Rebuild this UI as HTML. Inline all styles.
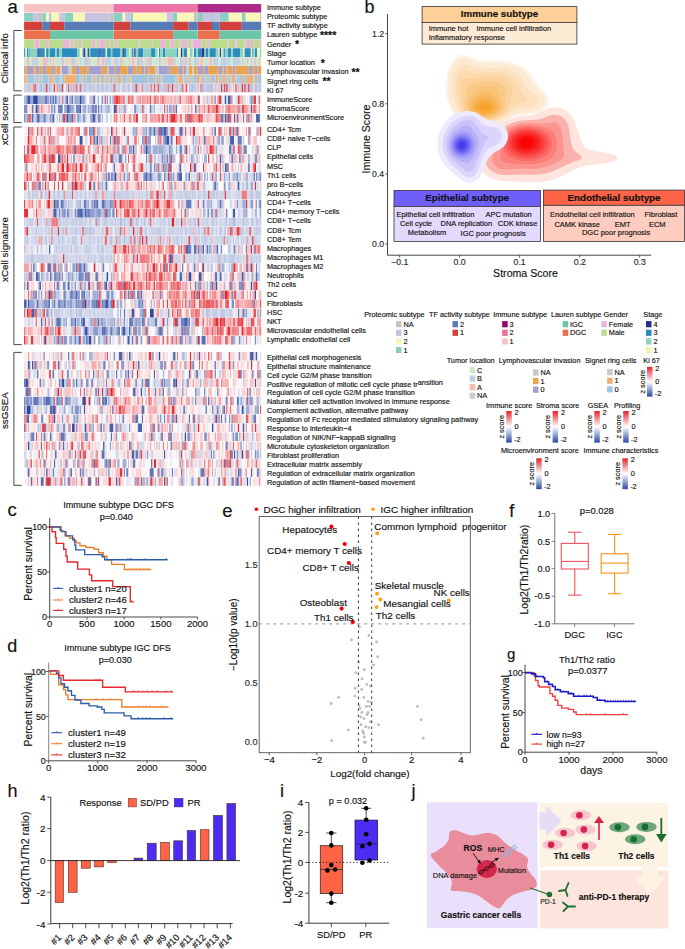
<!DOCTYPE html>
<html><head><meta charset="utf-8"><title>Figure</title>
<style>
html,body{margin:0;padding:0;background:#fff;}
svg{display:block;font-family:"Liberation Sans", sans-serif;}
text{stroke:#111;stroke-width:0.15px;}
</style></head><body>
<svg width="685" height="949" viewBox="0 0 685 949" fill="#111">
<g transform="translate(24.10,0) scale(1.29563,1)">
<path fill="#f7c2c4" d="M0 4.0h69v8.6h-69z"/>
<path fill="#ec74a6" d="M69 4.0h65v8.6h-65z"/>
<path fill="#ae2a8a" d="M134 4.0h49v8.6h-49z"/>
<path fill="#8ad0c0" d="M0 12.9h7v8.6h-7zM14 12.9h3v8.6h-3zM20 12.9h1v8.6h-1zM31 12.9h7v8.6h-7zM69 12.9h7v8.6h-7zM82 12.9h2v8.6h-2zM115 12.9h3v8.6h-3zM134 12.9h4v8.6h-4zM145 12.9h1v8.6h-1zM151 12.9h7v8.6h-7zM168 12.9h3v8.6h-3z"/>
<path fill="#c8c4e2" d="M7 12.9h4v8.6h-4zM19 12.9h1v8.6h-1zM27 12.9h4v8.6h-4zM47 12.9h19v8.6h-19zM78 12.9h4v8.6h-4zM110 12.9h5v8.6h-5zM138 12.9h7v8.6h-7zM146 12.9h5v8.6h-5zM182 12.9h1v8.6h-1z"/>
<path fill="#c4c4c4" d="M11 12.9h3v8.6h-3zM66 12.9h3v8.6h-3zM131 12.9h3v8.6h-3z"/>
<path fill="#faf6b8" d="M17 12.9h2v8.6h-2zM21 12.9h6v8.6h-6zM38 12.9h9v8.6h-9zM76 12.9h2v8.6h-2zM84 12.9h26v8.6h-26zM118 12.9h13v8.6h-13zM158 12.9h10v8.6h-10zM171 12.9h11v8.6h-11z"/>
<path fill="#d4403c" d="M0 21.7h14v8.6h-14zM20 21.7h11v8.6h-11zM69 21.7h13v8.6h-13zM115 21.7h12v8.6h-12zM134 21.7h11v8.6h-11zM151 21.7h17v8.6h-17z"/>
<path fill="#567cb8" d="M14 21.7h6v8.6h-6zM31 21.7h38v8.6h-38zM82 21.7h33v8.6h-33zM127 21.7h7v8.6h-7zM145 21.7h6v8.6h-6zM168 21.7h15v8.6h-15z"/>
<path fill="#ec7050" d="M0 30.6h20v8.6h-20zM69 30.6h46v8.6h-46zM134 30.6h17v8.6h-17z"/>
<path fill="#6ec6a8" d="M20 30.6h49v8.6h-49zM115 30.6h19v8.6h-19zM151 30.6h32v8.6h-32z"/>
<path fill="#badc8c" d="M0 39.4h8v8.6h-8zM12 39.4h5v8.6h-5zM19 39.4h11v8.6h-11zM35 39.4h1v8.6h-1zM38 39.4h2v8.6h-2zM41 39.4h3v8.6h-3zM45 39.4h7v8.6h-7zM54 39.4h1v8.6h-1zM56 39.4h2v8.6h-2zM63 39.4h3v8.6h-3zM67 39.4h3v8.6h-3zM72 39.4h16v8.6h-16zM89 39.4h9v8.6h-9zM99 39.4h6v8.6h-6zM109 39.4h4v8.6h-4zM116 39.4h4v8.6h-4zM121 39.4h1v8.6h-1zM126 39.4h2v8.6h-2zM129 39.4h1v8.6h-1zM137 39.4h4v8.6h-4zM143 39.4h14v8.6h-14zM158 39.4h4v8.6h-4zM163 39.4h1v8.6h-1zM165 39.4h5v8.6h-5zM171 39.4h1v8.6h-1zM175 39.4h3v8.6h-3zM179 39.4h3v8.6h-3z"/>
<path fill="#e8b4d8" d="M8 39.4h4v8.6h-4zM17 39.4h2v8.6h-2zM30 39.4h5v8.6h-5zM36 39.4h2v8.6h-2zM40 39.4h1v8.6h-1zM44 39.4h1v8.6h-1zM52 39.4h2v8.6h-2zM55 39.4h1v8.6h-1zM58 39.4h5v8.6h-5zM66 39.4h1v8.6h-1zM70 39.4h2v8.6h-2zM88 39.4h1v8.6h-1zM98 39.4h1v8.6h-1zM105 39.4h4v8.6h-4zM113 39.4h3v8.6h-3zM120 39.4h1v8.6h-1zM122 39.4h4v8.6h-4zM128 39.4h1v8.6h-1zM130 39.4h7v8.6h-7zM141 39.4h2v8.6h-2zM157 39.4h1v8.6h-1zM162 39.4h1v8.6h-1zM164 39.4h1v8.6h-1zM170 39.4h1v8.6h-1zM172 39.4h3v8.6h-3zM178 39.4h1v8.6h-1zM182 39.4h1v8.6h-1z"/>
<path fill="#2c8ec0" d="M0 48.3h1v8.6h-1zM2 48.3h1v8.6h-1zM4 48.3h1v8.6h-1zM10 48.3h1v8.6h-1zM12 48.3h4v8.6h-4zM17 48.3h2v8.6h-2zM20 48.3h4v8.6h-4zM25 48.3h2v8.6h-2zM29 48.3h12v8.6h-12zM45 48.3h1v8.6h-1zM51 48.3h7v8.6h-7zM59 48.3h4v8.6h-4zM64 48.3h3v8.6h-3zM68 48.3h6v8.6h-6zM77 48.3h2v8.6h-2zM83 48.3h1v8.6h-1zM88 48.3h4v8.6h-4zM98 48.3h3v8.6h-3zM104 48.3h1v8.6h-1zM107 48.3h2v8.6h-2zM118 48.3h1v8.6h-1zM123 48.3h3v8.6h-3zM131 48.3h2v8.6h-2zM134 48.3h3v8.6h-3zM140 48.3h2v8.6h-2zM143 48.3h5v8.6h-5zM154 48.3h1v8.6h-1zM157 48.3h3v8.6h-3zM161 48.3h6v8.6h-6zM170 48.3h5v8.6h-5zM176 48.3h1v8.6h-1zM178 48.3h2v8.6h-2z"/>
<path fill="#f0f6b6" d="M1 48.3h1v8.6h-1zM16 48.3h1v8.6h-1zM43 48.3h2v8.6h-2zM48 48.3h1v8.6h-1zM63 48.3h1v8.6h-1zM81 48.3h1v8.6h-1zM103 48.3h1v8.6h-1zM119 48.3h2v8.6h-2zM126 48.3h2v8.6h-2zM130 48.3h1v8.6h-1zM150 48.3h1v8.6h-1zM152 48.3h1v8.6h-1zM169 48.3h1v8.6h-1zM175 48.3h1v8.6h-1zM180 48.3h2v8.6h-2z"/>
<path fill="#8cd2c0" d="M3 48.3h1v8.6h-1zM5 48.3h5v8.6h-5zM19 48.3h1v8.6h-1zM24 48.3h1v8.6h-1zM27 48.3h2v8.6h-2zM41 48.3h2v8.6h-2zM47 48.3h1v8.6h-1zM50 48.3h1v8.6h-1zM67 48.3h1v8.6h-1zM74 48.3h2v8.6h-2zM79 48.3h2v8.6h-2zM82 48.3h1v8.6h-1zM84 48.3h1v8.6h-1zM86 48.3h2v8.6h-2zM92 48.3h6v8.6h-6zM101 48.3h2v8.6h-2zM105 48.3h2v8.6h-2zM109 48.3h9v8.6h-9zM122 48.3h1v8.6h-1zM128 48.3h2v8.6h-2zM133 48.3h1v8.6h-1zM139 48.3h1v8.6h-1zM142 48.3h1v8.6h-1zM148 48.3h2v8.6h-2zM153 48.3h1v8.6h-1zM155 48.3h2v8.6h-2zM160 48.3h1v8.6h-1zM167 48.3h2v8.6h-2zM177 48.3h1v8.6h-1zM182 48.3h1v8.6h-1z"/>
<path fill="#2c348c" d="M11 48.3h1v8.6h-1zM46 48.3h1v8.6h-1zM49 48.3h1v8.6h-1zM58 48.3h1v8.6h-1zM76 48.3h1v8.6h-1zM85 48.3h1v8.6h-1zM121 48.3h1v8.6h-1zM137 48.3h2v8.6h-2zM151 48.3h1v8.6h-1z"/>
<path fill="#ceeacc" d="M0 57.2h2v8.6h-2zM4 57.2h2v8.6h-2zM11 57.2h3v8.6h-3zM19 57.2h1v8.6h-1zM21 57.2h1v8.6h-1zM23 57.2h2v8.6h-2zM26 57.2h2v8.6h-2zM31 57.2h1v8.6h-1zM33 57.2h1v8.6h-1zM35 57.2h1v8.6h-1zM40 57.2h1v8.6h-1zM42 57.2h1v8.6h-1zM44 57.2h2v8.6h-2zM51 57.2h5v8.6h-5zM59 57.2h1v8.6h-1zM67 57.2h2v8.6h-2zM73 57.2h1v8.6h-1zM77 57.2h4v8.6h-4zM82 57.2h1v8.6h-1zM85 57.2h2v8.6h-2zM92 57.2h1v8.6h-1zM94 57.2h1v8.6h-1zM99 57.2h5v8.6h-5zM106 57.2h3v8.6h-3zM110 57.2h1v8.6h-1zM117 57.2h3v8.6h-3zM129 57.2h2v8.6h-2zM135 57.2h1v8.6h-1zM138 57.2h2v8.6h-2zM141 57.2h2v8.6h-2zM145 57.2h1v8.6h-1zM150 57.2h2v8.6h-2zM159 57.2h2v8.6h-2zM167 57.2h1v8.6h-1zM169 57.2h1v8.6h-1zM171 57.2h1v8.6h-1zM173 57.2h2v8.6h-2zM176 57.2h1v8.6h-1zM179 57.2h2v8.6h-2zM182 57.2h1v8.6h-1z"/>
<path fill="#bcd2e8" d="M2 57.2h1v8.6h-1zM7 57.2h2v8.6h-2zM17 57.2h2v8.6h-2zM25 57.2h1v8.6h-1zM28 57.2h1v8.6h-1zM30 57.2h1v8.6h-1zM39 57.2h1v8.6h-1zM43 57.2h1v8.6h-1zM46 57.2h4v8.6h-4zM62 57.2h5v8.6h-5zM70 57.2h3v8.6h-3zM90 57.2h1v8.6h-1zM93 57.2h1v8.6h-1zM97 57.2h2v8.6h-2zM104 57.2h1v8.6h-1zM115 57.2h2v8.6h-2zM120 57.2h3v8.6h-3zM131 57.2h3v8.6h-3zM140 57.2h1v8.6h-1zM146 57.2h4v8.6h-4zM152 57.2h4v8.6h-4zM157 57.2h2v8.6h-2zM161 57.2h5v8.6h-5zM168 57.2h1v8.6h-1zM170 57.2h1v8.6h-1zM177 57.2h1v8.6h-1z"/>
<path fill="#f6bab4" d="M3 57.2h1v8.6h-1zM14 57.2h3v8.6h-3zM20 57.2h1v8.6h-1zM22 57.2h1v8.6h-1zM29 57.2h1v8.6h-1zM32 57.2h1v8.6h-1zM34 57.2h1v8.6h-1zM41 57.2h1v8.6h-1zM50 57.2h1v8.6h-1zM57 57.2h1v8.6h-1zM60 57.2h2v8.6h-2zM69 57.2h1v8.6h-1zM76 57.2h1v8.6h-1zM83 57.2h2v8.6h-2zM95 57.2h2v8.6h-2zM109 57.2h1v8.6h-1zM111 57.2h4v8.6h-4zM123 57.2h1v8.6h-1zM126 57.2h1v8.6h-1zM134 57.2h1v8.6h-1zM136 57.2h2v8.6h-2zM143 57.2h2v8.6h-2zM166 57.2h1v8.6h-1zM172 57.2h1v8.6h-1zM178 57.2h1v8.6h-1zM181 57.2h1v8.6h-1z"/>
<path fill="#cccccc" d="M6 57.2h1v8.6h-1zM9 57.2h2v8.6h-2zM36 57.2h3v8.6h-3zM56 57.2h1v8.6h-1zM58 57.2h1v8.6h-1zM74 57.2h2v8.6h-2zM81 57.2h1v8.6h-1zM87 57.2h3v8.6h-3zM91 57.2h1v8.6h-1zM105 57.2h1v8.6h-1zM124 57.2h2v8.6h-2zM127 57.2h2v8.6h-2zM156 57.2h1v8.6h-1zM175 57.2h1v8.6h-1z"/>
<path fill="#a4a0d2" d="M0 66.0h1v8.6h-1zM3 66.0h4v8.6h-4zM8 66.0h1v8.6h-1zM10 66.0h2v8.6h-2zM14 66.0h3v8.6h-3zM21 66.0h2v8.6h-2zM24 66.0h1v8.6h-1zM29 66.0h5v8.6h-5zM40 66.0h3v8.6h-3zM47 66.0h1v8.6h-1zM50 66.0h10v8.6h-10zM65 66.0h5v8.6h-5zM71 66.0h3v8.6h-3zM80 66.0h4v8.6h-4zM87 66.0h1v8.6h-1zM91 66.0h2v8.6h-2zM94 66.0h2v8.6h-2zM104 66.0h7v8.6h-7zM112 66.0h2v8.6h-2zM119 66.0h3v8.6h-3zM123 66.0h2v8.6h-2zM134 66.0h4v8.6h-4zM139 66.0h3v8.6h-3zM150 66.0h3v8.6h-3zM154 66.0h1v8.6h-1zM156 66.0h1v8.6h-1zM161 66.0h2v8.6h-2zM173 66.0h3v8.6h-3zM178 66.0h2v8.6h-2z"/>
<path fill="#eaa450" d="M1 66.0h2v8.6h-2zM7 66.0h1v8.6h-1zM9 66.0h1v8.6h-1zM12 66.0h2v8.6h-2zM17 66.0h4v8.6h-4zM23 66.0h1v8.6h-1zM25 66.0h3v8.6h-3zM37 66.0h3v8.6h-3zM43 66.0h4v8.6h-4zM48 66.0h2v8.6h-2zM60 66.0h4v8.6h-4zM70 66.0h1v8.6h-1zM74 66.0h6v8.6h-6zM84 66.0h3v8.6h-3zM88 66.0h3v8.6h-3zM93 66.0h1v8.6h-1zM96 66.0h5v8.6h-5zM111 66.0h1v8.6h-1zM114 66.0h5v8.6h-5zM122 66.0h1v8.6h-1zM127 66.0h3v8.6h-3zM131 66.0h3v8.6h-3zM138 66.0h1v8.6h-1zM142 66.0h8v8.6h-8zM153 66.0h1v8.6h-1zM155 66.0h1v8.6h-1zM157 66.0h4v8.6h-4zM163 66.0h10v8.6h-10zM176 66.0h2v8.6h-2zM180 66.0h3v8.6h-3z"/>
<path fill="#c8c8c8" d="M28 66.0h1v8.6h-1zM34 66.0h3v8.6h-3zM64 66.0h1v8.6h-1zM101 66.0h3v8.6h-3zM125 66.0h2v8.6h-2zM130 66.0h1v8.6h-1zM2 74.9h1v8.6h-1zM8 74.9h2v8.6h-2zM11 74.9h3v8.6h-3zM19 74.9h1v8.6h-1zM22 74.9h2v8.6h-2zM27 74.9h1v8.6h-1zM29 74.9h1v8.6h-1zM43 74.9h2v8.6h-2zM47 74.9h1v8.6h-1zM53 74.9h3v8.6h-3zM58 74.9h1v8.6h-1zM62 74.9h4v8.6h-4zM68 74.9h3v8.6h-3zM74 74.9h2v8.6h-2zM80 74.9h2v8.6h-2zM101 74.9h1v8.6h-1zM105 74.9h2v8.6h-2zM117 74.9h2v8.6h-2zM123 74.9h8v8.6h-8zM135 74.9h2v8.6h-2zM139 74.9h1v8.6h-1zM141 74.9h4v8.6h-4zM147 74.9h1v8.6h-1zM150 74.9h2v8.6h-2zM155 74.9h3v8.6h-3zM159 74.9h1v8.6h-1zM162 74.9h2v8.6h-2zM165 74.9h1v8.6h-1zM177 74.9h1v8.6h-1z"/>
<path fill="#f4b070" d="M0 74.9h2v8.6h-2zM20 74.9h2v8.6h-2zM31 74.9h9v8.6h-9zM46 74.9h1v8.6h-1zM52 74.9h1v8.6h-1zM57 74.9h1v8.6h-1zM61 74.9h1v8.6h-1zM67 74.9h1v8.6h-1zM72 74.9h2v8.6h-2zM78 74.9h1v8.6h-1zM82 74.9h1v8.6h-1zM95 74.9h1v8.6h-1zM100 74.9h1v8.6h-1zM104 74.9h1v8.6h-1zM119 74.9h3v8.6h-3zM133 74.9h2v8.6h-2zM137 74.9h1v8.6h-1zM148 74.9h2v8.6h-2zM153 74.9h2v8.6h-2zM160 74.9h2v8.6h-2zM168 74.9h2v8.6h-2zM172 74.9h5v8.6h-5zM179 74.9h1v8.6h-1z"/>
<path fill="#9ec8e2" d="M3 74.9h5v8.6h-5zM10 74.9h1v8.6h-1zM14 74.9h5v8.6h-5zM24 74.9h3v8.6h-3zM28 74.9h1v8.6h-1zM30 74.9h1v8.6h-1zM40 74.9h3v8.6h-3zM45 74.9h1v8.6h-1zM48 74.9h4v8.6h-4zM56 74.9h1v8.6h-1zM59 74.9h2v8.6h-2zM66 74.9h1v8.6h-1zM71 74.9h1v8.6h-1zM76 74.9h2v8.6h-2zM79 74.9h1v8.6h-1zM83 74.9h12v8.6h-12zM96 74.9h4v8.6h-4zM102 74.9h2v8.6h-2zM107 74.9h10v8.6h-10zM122 74.9h1v8.6h-1zM131 74.9h2v8.6h-2zM138 74.9h1v8.6h-1zM140 74.9h1v8.6h-1zM145 74.9h2v8.6h-2zM152 74.9h1v8.6h-1zM158 74.9h1v8.6h-1zM164 74.9h1v8.6h-1zM166 74.9h2v8.6h-2zM170 74.9h2v8.6h-2zM178 74.9h1v8.6h-1zM180 74.9h3v8.6h-3z"/>
<path fill="#c0cce4" d="M0 83.7h1v8.6h-1zM3 83.7h2v8.6h-2zM9 83.7h1v8.6h-1zM30 83.7h1v8.6h-1zM32 83.7h2v8.6h-2zM37 83.7h1v8.6h-1zM52 83.7h1v8.6h-1zM67 83.7h1v8.6h-1zM107 83.7h1v8.6h-1zM118 83.7h1v8.6h-1zM145 83.7h1v8.6h-1zM161 83.7h1v8.6h-1zM169 83.7h1v8.6h-1zM47 95.6h1v8.4h-1zM63 95.6h1v8.4h-1zM116 104.8h1v8.4h-1zM19 114.0h1v8.4h-1zM23 114.0h1v8.4h-1zM119 127.0h1v8.7h-1zM179 127.0h1v8.7h-1zM26 136.1h1v8.7h-1zM71 145.2h1v8.7h-1zM149 154.2h1v8.7h-1zM152 154.2h1v8.7h-1zM167 154.2h1v8.7h-1zM99 172.4h2v8.7h-2zM114 172.4h1v8.7h-1zM143 172.4h1v8.7h-1zM165 172.4h3v8.7h-3zM169 172.4h1v8.7h-1zM180 172.4h1v8.7h-1zM159 181.5h1v8.7h-1zM10 190.6h1v8.7h-1zM23 190.6h1v8.7h-1zM26 190.6h2v8.7h-2zM30 190.6h1v8.7h-1zM63 190.6h1v8.7h-1zM94 190.6h2v8.7h-2zM120 190.6h1v8.7h-1zM124 190.6h1v8.7h-1zM167 190.6h1v8.7h-1zM179 190.6h4v8.7h-4zM40 199.7h1v8.7h-1zM59 199.7h1v8.7h-1zM159 199.7h1v8.7h-1zM40 208.8h1v8.7h-1zM4 217.8h2v8.7h-2zM40 217.8h1v8.7h-1zM81 217.8h1v8.7h-1zM90 217.8h1v8.7h-1zM108 217.8h1v8.7h-1zM119 217.8h1v8.7h-1zM122 217.8h1v8.7h-1zM128 217.8h1v8.7h-1zM148 217.8h1v8.7h-1zM158 217.8h1v8.7h-1zM0 226.9h1v8.7h-1zM7 226.9h1v8.7h-1zM14 226.9h1v8.7h-1zM19 226.9h1v8.7h-1zM54 226.9h1v8.7h-1zM75 226.9h2v8.7h-2zM104 226.9h1v8.7h-1zM144 226.9h1v8.7h-1zM155 226.9h1v8.7h-1zM168 226.9h1v8.7h-1zM7 236.0h1v8.7h-1zM26 236.0h1v8.7h-1zM34 236.0h1v8.7h-1zM37 236.0h2v8.7h-2zM57 236.0h1v8.7h-1zM76 236.0h1v8.7h-1zM84 236.0h1v8.7h-1zM117 236.0h2v8.7h-2zM121 236.0h1v8.7h-1zM159 236.0h1v8.7h-1zM161 236.0h1v8.7h-1zM180 236.0h1v8.7h-1zM29 245.1h1v8.7h-1zM142 245.1h1v8.7h-1zM157 245.1h1v8.7h-1zM64 254.2h1v8.7h-1zM116 254.2h1v8.7h-1zM131 254.2h1v8.7h-1zM158 254.2h5v8.7h-5zM176 254.2h1v8.7h-1zM142 263.2h1v8.7h-1zM158 263.2h1v8.7h-1zM15 272.3h1v8.7h-1zM38 272.3h1v8.7h-1zM167 272.3h1v8.7h-1zM24 299.6h1v8.7h-1zM35 308.7h2v8.7h-2zM50 308.7h1v8.7h-1zM170 308.7h1v8.7h-1zM59 326.8h1v8.7h-1zM40 335.9h1v8.7h-1zM129 335.9h1v8.7h-1zM66 352.0h1v8.5h-1zM15 360.9h1v8.5h-1zM4 378.8h1v8.5h-1zM107 378.8h1v8.5h-1zM135 387.8h1v8.5h-1zM51 396.7h1v8.5h-1zM64 405.6h1v8.5h-1zM148 405.6h1v8.5h-1zM10 423.5h2v8.5h-2zM0 432.5h1v8.5h-1zM104 441.4h1v8.5h-1zM37 450.3h1v8.5h-1zM137 450.3h1v8.5h-1zM68 459.3h1v8.5h-1zM181 468.2h1v8.5h-1zM16 477.2h1v8.5h-1z"/>
<path fill="#c6cce4" d="M1 83.7h1v8.6h-1zM6 83.7h1v8.6h-1zM10 83.7h1v8.6h-1zM18 83.7h1v8.6h-1zM39 83.7h1v8.6h-1zM49 83.7h1v8.6h-1zM59 83.7h1v8.6h-1zM62 83.7h1v8.6h-1zM64 83.7h1v8.6h-1zM66 83.7h1v8.6h-1zM71 83.7h1v8.6h-1zM75 83.7h1v8.6h-1zM77 83.7h1v8.6h-1zM79 83.7h1v8.6h-1zM88 83.7h1v8.6h-1zM92 83.7h1v8.6h-1zM94 83.7h3v8.6h-3zM102 83.7h1v8.6h-1zM112 83.7h2v8.6h-2zM128 83.7h1v8.6h-1zM131 83.7h1v8.6h-1zM133 83.7h1v8.6h-1zM140 83.7h1v8.6h-1zM151 83.7h1v8.6h-1zM158 83.7h1v8.6h-1zM166 83.7h1v8.6h-1zM171 83.7h1v8.6h-1zM174 83.7h1v8.6h-1zM181 83.7h1v8.6h-1zM25 95.6h2v8.4h-2zM50 104.8h1v8.4h-1zM76 104.8h1v8.4h-1zM86 104.8h2v8.4h-2zM98 104.8h1v8.4h-1zM8 114.0h1v8.4h-1zM17 114.0h2v8.4h-2zM91 127.0h1v8.7h-1zM139 127.0h1v8.7h-1zM181 127.0h1v8.7h-1zM138 136.1h1v8.7h-1zM63 145.2h1v8.7h-1zM130 145.2h1v8.7h-1zM127 154.2h1v8.7h-1zM119 163.3h1v8.7h-1zM73 172.4h1v8.7h-1zM88 172.4h1v8.7h-1zM109 172.4h2v8.7h-2zM136 172.4h2v8.7h-2zM64 181.5h1v8.7h-1zM98 181.5h1v8.7h-1zM114 181.5h1v8.7h-1zM3 190.6h1v8.7h-1zM6 190.6h2v8.7h-2zM16 190.6h1v8.7h-1zM18 190.6h1v8.7h-1zM22 190.6h1v8.7h-1zM29 190.6h1v8.7h-1zM33 190.6h1v8.7h-1zM44 190.6h1v8.7h-1zM62 190.6h1v8.7h-1zM71 190.6h4v8.7h-4zM79 190.6h2v8.7h-2zM111 190.6h1v8.7h-1zM125 190.6h2v8.7h-2zM129 190.6h2v8.7h-2zM138 190.6h3v8.7h-3zM143 190.6h3v8.7h-3zM148 190.6h1v8.7h-1zM150 190.6h1v8.7h-1zM153 190.6h1v8.7h-1zM158 190.6h1v8.7h-1zM133 199.7h1v8.7h-1zM60 208.8h1v8.7h-1zM6 217.8h1v8.7h-1zM18 217.8h3v8.7h-3zM26 217.8h1v8.7h-1zM31 217.8h2v8.7h-2zM34 217.8h1v8.7h-1zM39 217.8h1v8.7h-1zM45 217.8h1v8.7h-1zM61 217.8h3v8.7h-3zM70 217.8h1v8.7h-1zM83 217.8h2v8.7h-2zM105 217.8h2v8.7h-2zM109 217.8h1v8.7h-1zM118 217.8h1v8.7h-1zM124 217.8h1v8.7h-1zM126 217.8h1v8.7h-1zM135 217.8h1v8.7h-1zM137 217.8h1v8.7h-1zM150 217.8h1v8.7h-1zM153 217.8h1v8.7h-1zM159 217.8h1v8.7h-1zM165 217.8h1v8.7h-1zM177 217.8h1v8.7h-1zM182 217.8h1v8.7h-1zM9 226.9h1v8.7h-1zM18 226.9h1v8.7h-1zM27 226.9h1v8.7h-1zM38 226.9h1v8.7h-1zM43 226.9h1v8.7h-1zM48 226.9h2v8.7h-2zM72 226.9h2v8.7h-2zM81 226.9h1v8.7h-1zM85 226.9h1v8.7h-1zM91 226.9h1v8.7h-1zM96 226.9h1v8.7h-1zM102 226.9h2v8.7h-2zM108 226.9h1v8.7h-1zM116 226.9h1v8.7h-1zM124 226.9h1v8.7h-1zM127 226.9h1v8.7h-1zM134 226.9h2v8.7h-2zM140 226.9h1v8.7h-1zM146 226.9h1v8.7h-1zM150 226.9h1v8.7h-1zM152 226.9h1v8.7h-1zM154 226.9h1v8.7h-1zM158 226.9h1v8.7h-1zM179 226.9h3v8.7h-3zM16 236.0h2v8.7h-2zM39 236.0h2v8.7h-2zM48 236.0h1v8.7h-1zM52 236.0h1v8.7h-1zM70 236.0h1v8.7h-1zM81 236.0h1v8.7h-1zM87 236.0h2v8.7h-2zM92 236.0h2v8.7h-2zM98 236.0h1v8.7h-1zM126 236.0h1v8.7h-1zM143 236.0h1v8.7h-1zM146 236.0h1v8.7h-1zM163 236.0h1v8.7h-1zM165 236.0h1v8.7h-1zM1 245.1h1v8.7h-1zM20 245.1h1v8.7h-1zM24 245.1h2v8.7h-2zM28 245.1h1v8.7h-1zM41 245.1h1v8.7h-1zM47 245.1h1v8.7h-1zM49 245.1h1v8.7h-1zM51 245.1h1v8.7h-1zM59 245.1h3v8.7h-3zM63 245.1h1v8.7h-1zM133 245.1h1v8.7h-1zM167 245.1h1v8.7h-1zM15 254.2h1v8.7h-1zM22 254.2h2v8.7h-2zM31 254.2h1v8.7h-1zM38 254.2h1v8.7h-1zM40 254.2h1v8.7h-1zM48 254.2h1v8.7h-1zM54 254.2h2v8.7h-2zM60 254.2h2v8.7h-2zM66 254.2h2v8.7h-2zM115 254.2h1v8.7h-1zM126 254.2h1v8.7h-1zM129 254.2h1v8.7h-1zM137 254.2h2v8.7h-2zM146 254.2h1v8.7h-1zM153 254.2h1v8.7h-1zM174 254.2h2v8.7h-2zM180 254.2h1v8.7h-1zM145 263.2h1v8.7h-1zM154 263.2h1v8.7h-1zM166 263.2h1v8.7h-1zM60 272.3h1v8.7h-1zM68 272.3h1v8.7h-1zM178 272.3h1v8.7h-1zM21 281.4h1v8.7h-1zM27 281.4h1v8.7h-1zM77 299.6h1v8.7h-1zM24 308.7h4v8.7h-4zM29 308.7h1v8.7h-1zM54 308.7h1v8.7h-1zM62 308.7h1v8.7h-1zM105 308.7h2v8.7h-2zM138 308.7h1v8.7h-1zM145 308.7h1v8.7h-1zM90 317.8h1v8.7h-1zM129 317.8h3v8.7h-3zM36 326.8h2v8.7h-2zM45 326.8h1v8.7h-1zM116 326.8h2v8.7h-2zM13 335.9h1v8.7h-1zM24 335.9h1v8.7h-1zM53 335.9h1v8.7h-1zM148 352.0h1v8.5h-1zM151 352.0h1v8.5h-1zM34 360.9h2v8.5h-2zM113 369.9h1v8.5h-1zM131 369.9h1v8.5h-1zM20 378.8h1v8.5h-1zM170 378.8h1v8.5h-1zM31 387.8h1v8.5h-1zM117 387.8h2v8.5h-2zM133 387.8h2v8.5h-2zM41 396.7h1v8.5h-1zM15 405.6h1v8.5h-1zM42 405.6h1v8.5h-1zM58 405.6h1v8.5h-1zM176 405.6h1v8.5h-1zM113 414.6h1v8.5h-1zM176 414.6h1v8.5h-1zM28 423.5h1v8.5h-1zM62 423.5h1v8.5h-1zM121 432.5h1v8.5h-1zM57 468.2h1v8.5h-1zM37 477.2h1v8.5h-1zM113 477.2h1v8.5h-1z"/>
<path fill="#c0c6e4" d="M2 83.7h1v8.6h-1zM11 83.7h1v8.6h-1zM14 83.7h1v8.6h-1zM20 83.7h1v8.6h-1zM42 83.7h1v8.6h-1zM47 83.7h1v8.6h-1zM50 83.7h1v8.6h-1zM55 83.7h1v8.6h-1zM58 83.7h1v8.6h-1zM65 83.7h1v8.6h-1zM72 83.7h1v8.6h-1zM78 83.7h1v8.6h-1zM80 83.7h1v8.6h-1zM90 83.7h1v8.6h-1zM93 83.7h1v8.6h-1zM106 83.7h1v8.6h-1zM115 83.7h1v8.6h-1zM119 83.7h1v8.6h-1zM134 83.7h1v8.6h-1zM172 83.7h1v8.6h-1zM19 95.6h1v8.4h-1zM174 114.0h1v8.4h-1zM160 127.0h1v8.7h-1zM101 136.1h1v8.7h-1zM73 145.2h1v8.7h-1zM103 145.2h1v8.7h-1zM140 145.2h1v8.7h-1zM176 145.2h1v8.7h-1zM70 154.2h2v8.7h-2zM144 172.4h1v8.7h-1zM47 181.5h1v8.7h-1zM58 181.5h2v8.7h-2zM157 181.5h1v8.7h-1zM17 190.6h1v8.7h-1zM47 190.6h1v8.7h-1zM78 190.6h1v8.7h-1zM123 190.6h1v8.7h-1zM127 190.6h1v8.7h-1zM154 190.6h1v8.7h-1zM163 190.6h1v8.7h-1zM174 190.6h3v8.7h-3zM172 199.7h1v8.7h-1zM15 217.8h1v8.7h-1zM27 217.8h1v8.7h-1zM48 217.8h1v8.7h-1zM86 217.8h2v8.7h-2zM92 217.8h2v8.7h-2zM131 217.8h2v8.7h-2zM145 217.8h2v8.7h-2zM170 217.8h1v8.7h-1zM175 217.8h2v8.7h-2zM179 217.8h2v8.7h-2zM24 226.9h1v8.7h-1zM29 226.9h2v8.7h-2zM50 226.9h3v8.7h-3zM60 226.9h1v8.7h-1zM93 226.9h1v8.7h-1zM125 226.9h1v8.7h-1zM129 226.9h1v8.7h-1zM177 226.9h1v8.7h-1zM2 236.0h1v8.7h-1zM27 236.0h1v8.7h-1zM72 236.0h3v8.7h-3zM95 236.0h1v8.7h-1zM144 236.0h1v8.7h-1zM56 245.1h1v8.7h-1zM161 245.1h1v8.7h-1zM1 254.2h1v8.7h-1zM32 254.2h1v8.7h-1zM42 254.2h1v8.7h-1zM49 254.2h1v8.7h-1zM58 254.2h2v8.7h-2zM135 254.2h2v8.7h-2zM149 254.2h3v8.7h-3zM8 263.2h1v8.7h-1zM35 263.2h1v8.7h-1zM53 263.2h1v8.7h-1zM66 263.2h1v8.7h-1zM144 263.2h1v8.7h-1zM1 272.3h2v8.7h-2zM32 272.3h1v8.7h-1zM33 281.4h1v8.7h-1zM42 281.4h1v8.7h-1zM32 290.5h1v8.7h-1zM57 290.5h1v8.7h-1zM12 299.6h2v8.7h-2zM86 299.6h1v8.7h-1zM41 308.7h1v8.7h-1zM65 308.7h1v8.7h-1zM142 308.7h2v8.7h-2zM146 308.7h2v8.7h-2zM152 308.7h3v8.7h-3zM58 317.8h1v8.7h-1zM84 317.8h1v8.7h-1zM108 317.8h1v8.7h-1zM43 326.8h1v8.7h-1zM57 326.8h1v8.7h-1zM91 326.8h1v8.7h-1zM47 335.9h1v8.7h-1zM178 352.0h1v8.5h-1zM74 369.9h2v8.5h-2zM150 369.9h1v8.5h-1zM56 387.8h1v8.5h-1zM54 396.7h1v8.5h-1zM5 405.6h1v8.5h-1zM63 414.6h2v8.5h-2zM73 414.6h1v8.5h-1zM12 423.5h1v8.5h-1zM162 423.5h1v8.5h-1zM168 423.5h1v8.5h-1zM16 432.5h1v8.5h-1zM100 432.5h1v8.5h-1zM1 450.3h1v8.5h-1zM71 450.3h1v8.5h-1zM92 459.3h1v8.5h-1zM165 459.3h1v8.5h-1zM107 468.2h2v8.5h-2z"/>
<path fill="#f6b4ba" d="M5 83.7h1v8.6h-1zM163 104.8h1v8.4h-1zM118 114.0h1v8.4h-1zM7 127.0h1v8.7h-1zM16 127.0h1v8.7h-1zM27 127.0h1v8.7h-1zM32 136.1h1v8.7h-1zM36 145.2h1v8.7h-1zM62 145.2h1v8.7h-1zM36 154.2h1v8.7h-1zM162 154.2h1v8.7h-1zM13 163.3h1v8.7h-1zM25 163.3h1v8.7h-1zM9 172.4h1v8.7h-1zM42 181.5h1v8.7h-1zM103 208.8h1v8.7h-1zM123 208.8h1v8.7h-1zM93 245.1h1v8.7h-1zM75 254.2h1v8.7h-1zM101 263.2h1v8.7h-1zM99 281.4h1v8.7h-1zM78 299.6h1v8.7h-1zM98 335.9h1v8.7h-1zM116 335.9h1v8.7h-1zM152 335.9h1v8.7h-1zM134 352.0h1v8.5h-1zM71 360.9h1v8.5h-1zM129 360.9h1v8.5h-1zM111 369.9h2v8.5h-2zM119 369.9h1v8.5h-1zM77 396.7h1v8.5h-1zM20 414.6h1v8.5h-1zM62 432.5h1v8.5h-1zM10 441.4h1v8.5h-1zM158 450.3h1v8.5h-1zM20 459.3h1v8.5h-1zM173 459.3h1v8.5h-1z"/>
<path fill="#f07e7e" d="M7 83.7h1v8.6h-1zM101 95.6h1v8.4h-1zM106 95.6h2v8.4h-2zM82 114.0h1v8.4h-1zM103 114.0h2v8.4h-2zM112 114.0h1v8.4h-1zM120 114.0h2v8.4h-2zM84 154.2h1v8.7h-1zM41 181.5h1v8.7h-1zM88 199.7h1v8.7h-1zM109 208.8h2v8.7h-2zM107 254.2h1v8.7h-1zM171 254.2h1v8.7h-1zM72 272.3h1v8.7h-1zM102 272.3h1v8.7h-1zM71 281.4h1v8.7h-1zM13 290.5h1v8.7h-1zM117 290.5h2v8.7h-2zM152 290.5h1v8.7h-1zM130 308.7h1v8.7h-1zM102 335.9h1v8.7h-1zM47 369.9h1v8.5h-1zM48 387.8h1v8.5h-1zM121 396.7h1v8.5h-1zM159 396.7h2v8.5h-2zM15 468.2h1v8.5h-1zM35 477.2h1v8.5h-1z"/>
<path fill="#e43c42" d="M8 83.7h1v8.6h-1zM169 104.8h1v8.4h-1zM37 114.0h1v8.4h-1zM129 114.0h1v8.4h-1zM3 127.0h1v8.7h-1zM182 127.0h1v8.7h-1zM1 154.2h1v8.7h-1zM67 154.2h1v8.7h-1zM112 154.2h1v8.7h-1zM112 163.3h2v8.7h-2zM138 163.3h1v8.7h-1zM2 172.4h1v8.7h-1zM85 172.4h1v8.7h-1zM177 245.1h1v8.7h-1zM30 254.2h1v8.7h-1zM82 272.3h2v8.7h-2zM77 281.4h1v8.7h-1zM96 281.4h1v8.7h-1zM133 308.7h1v8.7h-1zM16 317.8h1v8.7h-1zM142 352.0h1v8.5h-1zM69 396.7h1v8.5h-1zM156 405.6h1v8.5h-1zM139 459.3h1v8.5h-1z"/>
<path fill="#bac0de" d="M12 83.7h2v8.6h-2zM36 83.7h1v8.6h-1zM70 83.7h1v8.6h-1zM81 83.7h1v8.6h-1zM97 83.7h1v8.6h-1zM105 83.7h1v8.6h-1zM110 83.7h1v8.6h-1zM121 83.7h1v8.6h-1zM127 83.7h1v8.6h-1zM138 83.7h1v8.6h-1zM142 83.7h1v8.6h-1zM147 83.7h1v8.6h-1zM164 83.7h1v8.6h-1zM167 83.7h1v8.6h-1zM182 83.7h1v8.6h-1zM73 104.8h1v8.4h-1zM1 114.0h1v8.4h-1zM132 136.1h2v8.7h-2zM124 172.4h1v8.7h-1zM129 172.4h1v8.7h-1zM62 181.5h1v8.7h-1zM138 181.5h2v8.7h-2zM155 181.5h1v8.7h-1zM180 181.5h1v8.7h-1zM174 199.7h1v8.7h-1zM44 217.8h1v8.7h-1zM51 217.8h1v8.7h-1zM160 217.8h1v8.7h-1zM163 217.8h1v8.7h-1zM169 217.8h1v8.7h-1zM39 226.9h1v8.7h-1zM47 226.9h1v8.7h-1zM87 226.9h1v8.7h-1zM29 236.0h1v8.7h-1zM66 236.0h2v8.7h-2zM137 236.0h1v8.7h-1zM140 236.0h1v8.7h-1zM171 236.0h1v8.7h-1zM65 245.1h1v8.7h-1zM147 245.1h1v8.7h-1zM14 254.2h1v8.7h-1zM39 263.2h1v8.7h-1zM35 272.3h2v8.7h-2zM180 272.3h2v8.7h-2zM36 281.4h2v8.7h-2zM124 281.4h1v8.7h-1zM139 281.4h1v8.7h-1zM81 290.5h1v8.7h-1zM71 299.6h1v8.7h-1zM40 308.7h1v8.7h-1zM109 308.7h1v8.7h-1zM106 317.8h1v8.7h-1zM102 326.8h1v8.7h-1zM82 352.0h1v8.5h-1zM32 360.9h1v8.5h-1zM14 378.8h2v8.5h-2zM105 387.8h1v8.5h-1zM49 396.7h1v8.5h-1zM10 405.6h1v8.5h-1zM46 423.5h1v8.5h-1zM158 423.5h1v8.5h-1zM75 441.4h1v8.5h-1zM105 459.3h1v8.5h-1z"/>
<path fill="#b4c0de" d="M15 83.7h2v8.6h-2zM19 83.7h1v8.6h-1zM26 83.7h3v8.6h-3zM41 83.7h1v8.6h-1zM45 83.7h1v8.6h-1zM51 83.7h1v8.6h-1zM60 83.7h1v8.6h-1zM63 83.7h1v8.6h-1zM76 83.7h1v8.6h-1zM85 83.7h1v8.6h-1zM87 83.7h1v8.6h-1zM104 83.7h1v8.6h-1zM116 83.7h1v8.6h-1zM120 83.7h1v8.6h-1zM129 83.7h2v8.6h-2zM137 83.7h1v8.6h-1zM139 83.7h1v8.6h-1zM141 83.7h1v8.6h-1zM143 83.7h2v8.6h-2zM150 83.7h1v8.6h-1zM155 83.7h1v8.6h-1zM157 83.7h1v8.6h-1zM175 83.7h1v8.6h-1zM178 83.7h1v8.6h-1zM180 83.7h1v8.6h-1zM7 104.8h1v8.4h-1zM7 114.0h1v8.4h-1zM12 114.0h3v8.4h-3zM60 114.0h1v8.4h-1zM93 127.0h1v8.7h-1zM99 127.0h1v8.7h-1zM101 127.0h2v8.7h-2zM83 145.2h1v8.7h-1zM107 145.2h2v8.7h-2zM114 145.2h1v8.7h-1zM103 154.2h1v8.7h-1zM107 154.2h1v8.7h-1zM109 154.2h1v8.7h-1zM104 163.3h1v8.7h-1zM61 172.4h2v8.7h-2zM162 172.4h2v8.7h-2zM171 181.5h1v8.7h-1zM4 190.6h1v8.7h-1zM41 199.7h2v8.7h-2zM149 199.7h1v8.7h-1zM25 208.8h1v8.7h-1zM149 208.8h1v8.7h-1zM28 217.8h1v8.7h-1zM74 217.8h2v8.7h-2zM140 217.8h1v8.7h-1zM156 217.8h1v8.7h-1zM161 217.8h2v8.7h-2zM77 236.0h1v8.7h-1zM119 236.0h1v8.7h-1zM177 236.0h1v8.7h-1zM0 245.1h1v8.7h-1zM48 245.1h1v8.7h-1zM144 245.1h1v8.7h-1zM158 245.1h1v8.7h-1zM3 263.2h1v8.7h-1zM27 263.2h1v8.7h-1zM37 263.2h1v8.7h-1zM151 263.2h1v8.7h-1zM3 272.3h1v8.7h-1zM40 272.3h1v8.7h-1zM59 290.5h1v8.7h-1zM9 299.6h1v8.7h-1zM37 299.6h2v8.7h-2zM160 308.7h1v8.7h-1zM64 317.8h2v8.7h-2zM74 317.8h1v8.7h-1zM30 335.9h1v8.7h-1zM100 378.8h1v8.5h-1zM143 378.8h1v8.5h-1zM57 396.7h1v8.5h-1zM36 405.6h1v8.5h-1zM39 414.6h2v8.5h-2zM134 414.6h2v8.5h-2zM18 423.5h1v8.5h-1zM129 432.5h1v8.5h-1zM23 441.4h1v8.5h-1zM41 450.3h1v8.5h-1zM1 459.3h2v8.5h-2zM80 459.3h1v8.5h-1zM29 477.2h1v8.5h-1zM99 477.2h1v8.5h-1z"/>
<path fill="#e4363c" d="M17 83.7h1v8.6h-1zM154 83.7h1v8.6h-1zM156 83.7h1v8.6h-1zM170 83.7h1v8.6h-1zM71 95.6h2v8.4h-2zM148 104.8h2v8.4h-2zM86 114.0h2v8.4h-2zM113 114.0h2v8.4h-2zM38 145.2h1v8.7h-1zM143 145.2h2v8.7h-2zM40 163.3h1v8.7h-1zM52 172.4h1v8.7h-1zM18 181.5h1v8.7h-1zM79 181.5h1v8.7h-1zM102 190.6h2v8.7h-2zM155 190.6h1v8.7h-1zM0 199.7h1v8.7h-1zM85 208.8h1v8.7h-1zM160 226.9h1v8.7h-1zM4 272.3h1v8.7h-1zM115 272.3h1v8.7h-1zM113 281.4h1v8.7h-1zM136 281.4h1v8.7h-1zM82 290.5h1v8.7h-1zM131 290.5h1v8.7h-1zM57 299.6h2v8.7h-2zM146 317.8h1v8.7h-1zM166 317.8h1v8.7h-1zM24 326.8h1v8.7h-1zM5 335.9h2v8.7h-2zM15 335.9h1v8.7h-1zM96 352.0h2v8.5h-2zM47 396.7h1v8.5h-1zM160 414.6h1v8.5h-1zM165 423.5h1v8.5h-1zM178 423.5h1v8.5h-1zM74 468.2h2v8.5h-2zM57 477.2h1v8.5h-1z"/>
<path fill="#c6d2e4" d="M21 83.7h1v8.6h-1zM54 83.7h1v8.6h-1zM149 83.7h1v8.6h-1zM153 83.7h1v8.6h-1zM23 95.6h1v8.4h-1zM89 104.8h2v8.4h-2zM99 104.8h1v8.4h-1zM47 114.0h1v8.4h-1zM94 163.3h1v8.7h-1zM146 172.4h1v8.7h-1zM166 181.5h1v8.7h-1zM168 181.5h2v8.7h-2zM8 190.6h2v8.7h-2zM20 190.6h1v8.7h-1zM25 190.6h1v8.7h-1zM43 190.6h1v8.7h-1zM59 190.6h1v8.7h-1zM64 190.6h1v8.7h-1zM67 190.6h1v8.7h-1zM84 190.6h1v8.7h-1zM115 190.6h1v8.7h-1zM121 190.6h1v8.7h-1zM134 190.6h3v8.7h-3zM129 199.7h1v8.7h-1zM37 208.8h1v8.7h-1zM30 217.8h1v8.7h-1zM36 217.8h3v8.7h-3zM47 217.8h1v8.7h-1zM78 217.8h1v8.7h-1zM88 217.8h1v8.7h-1zM133 217.8h1v8.7h-1zM25 226.9h1v8.7h-1zM35 226.9h1v8.7h-1zM86 226.9h1v8.7h-1zM94 226.9h1v8.7h-1zM101 226.9h1v8.7h-1zM106 226.9h1v8.7h-1zM115 226.9h1v8.7h-1zM120 226.9h2v8.7h-2zM128 226.9h1v8.7h-1zM145 226.9h1v8.7h-1zM148 226.9h1v8.7h-1zM169 226.9h1v8.7h-1zM173 226.9h1v8.7h-1zM0 236.0h2v8.7h-2zM12 236.0h1v8.7h-1zM15 236.0h1v8.7h-1zM59 236.0h2v8.7h-2zM78 236.0h2v8.7h-2zM102 236.0h1v8.7h-1zM115 236.0h2v8.7h-2zM135 236.0h1v8.7h-1zM152 236.0h2v8.7h-2zM174 236.0h1v8.7h-1zM7 254.2h2v8.7h-2zM21 254.2h1v8.7h-1zM65 254.2h1v8.7h-1zM125 254.2h1v8.7h-1zM144 254.2h1v8.7h-1zM29 263.2h1v8.7h-1zM118 263.2h1v8.7h-1zM51 299.6h1v8.7h-1zM63 308.7h1v8.7h-1zM81 308.7h1v8.7h-1zM148 308.7h1v8.7h-1zM158 308.7h1v8.7h-1zM26 352.0h1v8.5h-1zM11 360.9h1v8.5h-1zM146 405.6h1v8.5h-1zM63 432.5h1v8.5h-1zM92 441.4h1v8.5h-1zM169 441.4h1v8.5h-1zM5 450.3h1v8.5h-1zM62 450.3h1v8.5h-1zM175 450.3h1v8.5h-1zM2 468.2h1v8.5h-1zM139 477.2h1v8.5h-1z"/>
<path fill="#bac6de" d="M22 83.7h1v8.6h-1zM44 83.7h1v8.6h-1zM46 83.7h1v8.6h-1zM48 83.7h1v8.6h-1zM53 83.7h1v8.6h-1zM56 83.7h2v8.6h-2zM61 83.7h1v8.6h-1zM68 83.7h1v8.6h-1zM83 83.7h2v8.6h-2zM176 83.7h1v8.6h-1zM30 95.6h1v8.4h-1zM141 95.6h1v8.4h-1zM75 104.8h1v8.4h-1zM134 104.8h1v8.4h-1zM55 114.0h1v8.4h-1zM14 127.0h1v8.7h-1zM57 127.0h1v8.7h-1zM112 127.0h1v8.7h-1zM60 136.1h1v8.7h-1zM169 136.1h1v8.7h-1zM110 163.3h1v8.7h-1zM164 181.5h1v8.7h-1zM83 190.6h1v8.7h-1zM114 190.6h1v8.7h-1zM149 190.6h1v8.7h-1zM115 199.7h1v8.7h-1zM36 208.8h1v8.7h-1zM56 217.8h1v8.7h-1zM77 217.8h1v8.7h-1zM111 217.8h1v8.7h-1zM66 226.9h1v8.7h-1zM70 226.9h1v8.7h-1zM105 226.9h1v8.7h-1zM151 226.9h1v8.7h-1zM19 236.0h1v8.7h-1zM149 236.0h1v8.7h-1zM167 236.0h1v8.7h-1zM36 245.1h1v8.7h-1zM5 254.2h2v8.7h-2zM24 254.2h1v8.7h-1zM154 254.2h1v8.7h-1zM165 254.2h1v8.7h-1zM181 254.2h1v8.7h-1zM33 263.2h1v8.7h-1zM149 263.2h1v8.7h-1zM181 263.2h1v8.7h-1zM0 272.3h1v8.7h-1zM166 272.3h1v8.7h-1zM8 299.6h1v8.7h-1zM32 299.6h1v8.7h-1zM10 308.7h1v8.7h-1zM23 308.7h1v8.7h-1zM42 308.7h3v8.7h-3zM140 308.7h2v8.7h-2zM159 308.7h1v8.7h-1zM52 326.8h1v8.7h-1zM127 326.8h1v8.7h-1zM7 335.9h1v8.7h-1zM25 352.0h1v8.5h-1zM117 360.9h1v8.5h-1zM63 369.9h1v8.5h-1zM176 378.8h1v8.5h-1zM120 405.6h1v8.5h-1zM59 432.5h1v8.5h-1zM182 450.3h1v8.5h-1zM123 477.2h1v8.5h-1zM146 477.2h1v8.5h-1z"/>
<path fill="#ea484e" d="M23 83.7h1v8.6h-1zM69 95.6h1v8.4h-1zM134 95.6h1v8.4h-1zM71 104.8h1v8.4h-1zM146 104.8h1v8.4h-1zM30 114.0h2v8.4h-2zM5 145.2h1v8.7h-1zM48 163.3h1v8.7h-1zM39 172.4h1v8.7h-1zM26 181.5h1v8.7h-1zM116 181.5h1v8.7h-1zM108 190.6h1v8.7h-1zM10 217.8h1v8.7h-1zM21 236.0h1v8.7h-1zM94 236.0h1v8.7h-1zM114 254.2h1v8.7h-1zM137 263.2h1v8.7h-1zM122 299.6h1v8.7h-1zM143 317.8h1v8.7h-1zM73 405.6h2v8.5h-2zM9 432.5h1v8.5h-1zM112 432.5h1v8.5h-1zM17 450.3h1v8.5h-1zM163 468.2h1v8.5h-1zM110 477.2h1v8.5h-1z"/>
<path fill="#fcdede" d="M24 83.7h1v8.6h-1zM4 104.8h2v8.4h-2zM111 104.8h1v8.4h-1zM152 104.8h1v8.4h-1zM73 114.0h1v8.4h-1zM146 114.0h1v8.4h-1zM73 127.0h1v8.7h-1zM134 127.0h1v8.7h-1zM18 136.1h1v8.7h-1zM52 136.1h1v8.7h-1zM122 136.1h2v8.7h-2zM47 145.2h1v8.7h-1zM39 154.2h1v8.7h-1zM5 163.3h2v8.7h-2zM27 163.3h1v8.7h-1zM49 163.3h1v8.7h-1zM124 163.3h1v8.7h-1zM172 163.3h1v8.7h-1zM174 163.3h1v8.7h-1zM34 172.4h1v8.7h-1zM116 172.4h1v8.7h-1zM81 181.5h2v8.7h-2zM89 181.5h1v8.7h-1zM103 181.5h1v8.7h-1zM7 199.7h1v8.7h-1zM20 199.7h1v8.7h-1zM131 199.7h1v8.7h-1zM154 199.7h1v8.7h-1zM160 245.1h1v8.7h-1zM76 254.2h1v8.7h-1zM55 263.2h1v8.7h-1zM80 263.2h1v8.7h-1zM94 263.2h1v8.7h-1zM96 263.2h1v8.7h-1zM125 263.2h1v8.7h-1zM148 263.2h1v8.7h-1zM103 272.3h1v8.7h-1zM83 281.4h1v8.7h-1zM152 281.4h1v8.7h-1zM163 281.4h2v8.7h-2zM180 281.4h1v8.7h-1zM93 290.5h2v8.7h-2zM107 290.5h1v8.7h-1zM120 290.5h2v8.7h-2zM144 290.5h1v8.7h-1zM121 299.6h1v8.7h-1zM79 308.7h2v8.7h-2zM82 308.7h1v8.7h-1zM100 308.7h2v8.7h-2zM108 308.7h1v8.7h-1zM117 308.7h1v8.7h-1zM22 317.8h2v8.7h-2zM113 317.8h1v8.7h-1zM136 317.8h1v8.7h-1zM160 317.8h1v8.7h-1zM7 326.8h3v8.7h-3zM14 335.9h1v8.7h-1zM91 335.9h1v8.7h-1zM31 352.0h1v8.5h-1zM42 352.0h1v8.5h-1zM1 360.9h2v8.5h-2zM90 360.9h1v8.5h-1zM160 360.9h1v8.5h-1zM176 360.9h1v8.5h-1zM12 369.9h1v8.5h-1zM97 369.9h1v8.5h-1zM161 369.9h1v8.5h-1zM171 369.9h1v8.5h-1zM6 378.8h2v8.5h-2zM10 378.8h1v8.5h-1zM135 378.8h1v8.5h-1zM171 378.8h2v8.5h-2zM179 378.8h1v8.5h-1zM13 387.8h2v8.5h-2zM77 387.8h2v8.5h-2zM80 387.8h1v8.5h-1zM95 387.8h1v8.5h-1zM124 387.8h1v8.5h-1zM173 387.8h1v8.5h-1zM1 405.6h1v8.5h-1zM47 405.6h1v8.5h-1zM56 405.6h2v8.5h-2zM122 405.6h1v8.5h-1zM155 405.6h1v8.5h-1zM75 414.6h1v8.5h-1zM93 414.6h2v8.5h-2zM140 414.6h1v8.5h-1zM7 423.5h2v8.5h-2zM65 423.5h1v8.5h-1zM122 423.5h1v8.5h-1zM151 423.5h1v8.5h-1zM157 423.5h1v8.5h-1zM26 432.5h1v8.5h-1zM82 432.5h1v8.5h-1zM117 432.5h3v8.5h-3zM134 432.5h1v8.5h-1zM143 432.5h1v8.5h-1zM174 432.5h1v8.5h-1zM54 441.4h1v8.5h-1zM76 441.4h2v8.5h-2zM120 441.4h1v8.5h-1zM181 441.4h1v8.5h-1zM26 450.3h1v8.5h-1zM85 450.3h1v8.5h-1zM88 450.3h1v8.5h-1zM94 450.3h1v8.5h-1zM101 450.3h1v8.5h-1zM125 450.3h1v8.5h-1zM152 450.3h1v8.5h-1zM13 459.3h1v8.5h-1zM18 459.3h1v8.5h-1zM25 459.3h2v8.5h-2zM127 459.3h1v8.5h-1zM141 459.3h1v8.5h-1zM25 468.2h1v8.5h-1zM50 468.2h2v8.5h-2zM90 468.2h1v8.5h-1zM118 468.2h1v8.5h-1zM179 468.2h1v8.5h-1zM43 477.2h1v8.5h-1zM89 477.2h1v8.5h-1zM93 477.2h1v8.5h-1zM128 477.2h1v8.5h-1z"/>
<path fill="#f09090" d="M25 83.7h1v8.6h-1zM38 83.7h1v8.6h-1zM113 95.6h1v8.4h-1zM150 104.8h1v8.4h-1zM156 114.0h1v8.4h-1zM128 127.0h1v8.7h-1zM165 127.0h1v8.7h-1zM24 145.2h1v8.7h-1zM153 154.2h1v8.7h-1zM45 163.3h1v8.7h-1zM97 190.6h3v8.7h-3zM101 199.7h1v8.7h-1zM112 208.8h1v8.7h-1zM13 236.0h1v8.7h-1zM88 245.1h2v8.7h-2zM114 281.4h1v8.7h-1zM117 281.4h1v8.7h-1zM151 290.5h1v8.7h-1zM120 299.6h1v8.7h-1zM134 308.7h1v8.7h-1zM173 317.8h1v8.7h-1zM38 326.8h1v8.7h-1zM162 326.8h1v8.7h-1zM119 335.9h1v8.7h-1zM124 335.9h1v8.7h-1zM27 360.9h1v8.5h-1zM86 360.9h1v8.5h-1zM169 369.9h1v8.5h-1zM65 387.8h1v8.5h-1zM91 396.7h1v8.5h-1zM171 423.5h1v8.5h-1zM102 441.4h1v8.5h-1zM70 459.3h1v8.5h-1z"/>
<path fill="#e44248" d="M29 83.7h1v8.6h-1zM125 83.7h1v8.6h-1zM136 83.7h1v8.6h-1zM152 83.7h1v8.6h-1zM150 95.6h2v8.4h-2zM18 127.0h1v8.7h-1zM15 136.1h1v8.7h-1zM85 136.1h1v8.7h-1zM146 136.1h1v8.7h-1zM3 145.2h1v8.7h-1zM15 154.2h2v8.7h-2zM85 154.2h1v8.7h-1zM34 163.3h1v8.7h-1zM90 163.3h2v8.7h-2zM157 163.3h1v8.7h-1zM111 199.7h2v8.7h-2zM119 199.7h1v8.7h-1zM9 208.8h1v8.7h-1zM79 208.8h2v8.7h-2zM121 217.8h1v8.7h-1zM26 226.9h1v8.7h-1zM164 226.9h2v8.7h-2zM89 236.0h1v8.7h-1zM49 272.3h1v8.7h-1zM105 272.3h2v8.7h-2zM2 281.4h1v8.7h-1zM84 281.4h2v8.7h-2zM145 281.4h1v8.7h-1zM159 281.4h1v8.7h-1zM157 290.5h1v8.7h-1zM93 308.7h1v8.7h-1zM168 317.8h1v8.7h-1zM175 317.8h1v8.7h-1zM28 352.0h1v8.5h-1zM64 352.0h1v8.5h-1zM68 387.8h1v8.5h-1zM58 396.7h1v8.5h-1zM0 423.5h1v8.5h-1zM37 441.4h1v8.5h-1zM90 450.3h1v8.5h-1zM50 477.2h1v8.5h-1z"/>
<path fill="#fce4e4" d="M31 83.7h1v8.6h-1zM99 83.7h1v8.6h-1zM126 83.7h1v8.6h-1zM162 83.7h1v8.6h-1zM104 95.6h1v8.4h-1zM172 95.6h1v8.4h-1zM50 114.0h1v8.4h-1zM1 127.0h1v8.7h-1zM62 127.0h2v8.7h-2zM80 127.0h1v8.7h-1zM166 127.0h1v8.7h-1zM17 136.1h1v8.7h-1zM84 136.1h1v8.7h-1zM155 136.1h2v8.7h-2zM168 136.1h1v8.7h-1zM176 136.1h1v8.7h-1zM133 145.2h1v8.7h-1zM34 154.2h1v8.7h-1zM150 154.2h1v8.7h-1zM174 154.2h2v8.7h-2zM7 163.3h2v8.7h-2zM46 163.3h1v8.7h-1zM70 163.3h1v8.7h-1zM72 163.3h2v8.7h-2zM162 163.3h1v8.7h-1zM13 181.5h1v8.7h-1zM98 199.7h1v8.7h-1zM38 208.8h1v8.7h-1zM73 208.8h1v8.7h-1zM154 208.8h2v8.7h-2zM145 245.1h1v8.7h-1zM105 254.2h1v8.7h-1zM65 263.2h1v8.7h-1zM85 263.2h1v8.7h-1zM177 263.2h1v8.7h-1zM53 272.3h2v8.7h-2zM58 272.3h1v8.7h-1zM79 272.3h2v8.7h-2zM122 272.3h1v8.7h-1zM126 272.3h1v8.7h-1zM149 272.3h1v8.7h-1zM40 281.4h1v8.7h-1zM140 281.4h1v8.7h-1zM173 281.4h2v8.7h-2zM61 290.5h1v8.7h-1zM175 290.5h1v8.7h-1zM73 299.6h1v8.7h-1zM161 308.7h1v8.7h-1zM154 326.8h1v8.7h-1zM65 335.9h1v8.7h-1zM131 335.9h1v8.7h-1zM144 335.9h1v8.7h-1zM159 335.9h1v8.7h-1zM163 335.9h1v8.7h-1zM23 352.0h1v8.5h-1zM27 352.0h1v8.5h-1zM92 352.0h1v8.5h-1zM101 352.0h1v8.5h-1zM121 352.0h1v8.5h-1zM157 352.0h1v8.5h-1zM17 360.9h1v8.5h-1zM56 360.9h1v8.5h-1zM87 360.9h1v8.5h-1zM168 360.9h2v8.5h-2zM13 369.9h3v8.5h-3zM81 369.9h1v8.5h-1zM93 369.9h3v8.5h-3zM152 369.9h1v8.5h-1zM31 378.8h1v8.5h-1zM82 378.8h1v8.5h-1zM146 378.8h2v8.5h-2zM19 387.8h1v8.5h-1zM54 387.8h1v8.5h-1zM115 387.8h2v8.5h-2zM120 387.8h1v8.5h-1zM166 387.8h1v8.5h-1zM50 405.6h2v8.5h-2zM103 405.6h1v8.5h-1zM133 405.6h1v8.5h-1zM158 405.6h1v8.5h-1zM44 414.6h1v8.5h-1zM54 414.6h1v8.5h-1zM62 414.6h1v8.5h-1zM88 414.6h1v8.5h-1zM100 414.6h1v8.5h-1zM141 414.6h1v8.5h-1zM151 414.6h1v8.5h-1zM94 423.5h1v8.5h-1zM137 423.5h1v8.5h-1zM155 423.5h1v8.5h-1zM159 423.5h1v8.5h-1zM19 432.5h1v8.5h-1zM32 432.5h1v8.5h-1zM50 432.5h2v8.5h-2zM60 432.5h2v8.5h-2zM80 432.5h1v8.5h-1zM86 432.5h2v8.5h-2zM133 432.5h1v8.5h-1zM175 432.5h1v8.5h-1zM12 441.4h1v8.5h-1zM16 441.4h1v8.5h-1zM38 441.4h1v8.5h-1zM58 441.4h1v8.5h-1zM80 441.4h1v8.5h-1zM145 441.4h1v8.5h-1zM162 441.4h1v8.5h-1zM122 450.3h1v8.5h-1zM161 450.3h1v8.5h-1zM119 459.3h1v8.5h-1zM130 459.3h1v8.5h-1zM144 459.3h1v8.5h-1zM174 459.3h1v8.5h-1zM182 459.3h1v8.5h-1zM12 468.2h1v8.5h-1zM96 468.2h1v8.5h-1zM127 468.2h1v8.5h-1zM134 468.2h1v8.5h-1zM21 477.2h1v8.5h-1zM42 477.2h1v8.5h-1zM67 477.2h1v8.5h-1zM75 477.2h2v8.5h-2zM166 477.2h1v8.5h-1z"/>
<path fill="#ea4e4e" d="M34 83.7h1v8.6h-1zM169 114.0h1v8.4h-1zM72 145.2h1v8.7h-1zM172 396.7h1v8.5h-1z"/>
<path fill="#bac6e4" d="M35 83.7h1v8.6h-1zM73 83.7h1v8.6h-1zM101 83.7h1v8.6h-1zM108 83.7h1v8.6h-1zM132 83.7h1v8.6h-1zM179 83.7h1v8.6h-1zM62 104.8h2v8.4h-2zM5 114.0h1v8.4h-1zM131 145.2h1v8.7h-1zM100 154.2h2v8.7h-2zM76 172.4h1v8.7h-1zM148 181.5h2v8.7h-2zM12 190.6h1v8.7h-1zM57 217.8h2v8.7h-2zM113 217.8h1v8.7h-1zM130 217.8h1v8.7h-1zM155 217.8h1v8.7h-1zM167 226.9h1v8.7h-1zM156 236.0h2v8.7h-2zM177 254.2h1v8.7h-1zM132 263.2h1v8.7h-1zM117 272.3h1v8.7h-1zM138 281.4h1v8.7h-1zM49 290.5h1v8.7h-1zM149 308.7h1v8.7h-1zM156 308.7h1v8.7h-1zM100 317.8h1v8.7h-1zM69 326.8h2v8.7h-2zM129 396.7h2v8.5h-2z"/>
<path fill="#ea6c72" d="M40 83.7h1v8.6h-1zM166 95.6h1v8.4h-1zM133 114.0h1v8.4h-1zM68 127.0h1v8.7h-1zM163 127.0h1v8.7h-1zM34 136.1h1v8.7h-1zM80 136.1h1v8.7h-1zM33 145.2h1v8.7h-1zM49 145.2h1v8.7h-1zM145 145.2h2v8.7h-2zM11 154.2h1v8.7h-1zM66 154.2h1v8.7h-1zM84 163.3h2v8.7h-2zM42 172.4h1v8.7h-1zM86 172.4h2v8.7h-2zM107 181.5h1v8.7h-1zM94 199.7h2v8.7h-2zM92 208.8h1v8.7h-1zM1 226.9h1v8.7h-1zM139 226.9h1v8.7h-1zM166 226.9h1v8.7h-1zM154 236.0h1v8.7h-1zM95 245.1h1v8.7h-1zM5 263.2h1v8.7h-1zM75 272.3h1v8.7h-1zM99 272.3h1v8.7h-1zM178 281.4h1v8.7h-1zM3 290.5h1v8.7h-1zM143 290.5h1v8.7h-1zM169 290.5h1v8.7h-1zM145 299.6h2v8.7h-2zM148 299.6h1v8.7h-1zM3 308.7h2v8.7h-2zM8 308.7h2v8.7h-2zM14 308.7h1v8.7h-1zM150 326.8h1v8.7h-1zM172 326.8h3v8.7h-3zM95 335.9h1v8.7h-1zM143 369.9h2v8.5h-2zM172 387.8h1v8.5h-1zM161 441.4h1v8.5h-1zM24 477.2h1v8.5h-1z"/>
<path fill="#ea666c" d="M43 83.7h1v8.6h-1zM70 95.6h1v8.4h-1zM80 95.6h1v8.4h-1zM159 95.6h1v8.4h-1zM11 104.8h1v8.4h-1zM139 104.8h1v8.4h-1zM107 114.0h1v8.4h-1zM151 127.0h1v8.7h-1zM0 145.2h1v8.7h-1zM26 145.2h2v8.7h-2zM64 145.2h1v8.7h-1zM134 145.2h1v8.7h-1zM14 154.2h1v8.7h-1zM48 154.2h1v8.7h-1zM57 163.3h1v8.7h-1zM75 163.3h1v8.7h-1zM5 172.4h1v8.7h-1zM23 172.4h1v8.7h-1zM51 172.4h1v8.7h-1zM133 181.5h2v8.7h-2zM69 199.7h1v8.7h-1zM75 199.7h1v8.7h-1zM104 208.8h1v8.7h-1zM44 236.0h1v8.7h-1zM105 245.1h1v8.7h-1zM107 263.2h1v8.7h-1zM23 281.4h1v8.7h-1zM72 281.4h4v8.7h-4zM106 281.4h1v8.7h-1zM120 281.4h1v8.7h-1zM138 290.5h2v8.7h-2zM144 299.6h1v8.7h-1zM162 317.8h1v8.7h-1zM160 326.8h1v8.7h-1zM29 335.9h1v8.7h-1zM87 335.9h1v8.7h-1zM114 335.9h1v8.7h-1zM117 335.9h1v8.7h-1zM93 378.8h1v8.5h-1zM130 378.8h1v8.5h-1zM29 396.7h1v8.5h-1zM182 405.6h1v8.5h-1zM13 432.5h1v8.5h-1zM55 459.3h2v8.5h-2zM122 459.3h1v8.5h-1zM179 459.3h1v8.5h-1zM10 477.2h1v8.5h-1z"/>
<path fill="#ea545a" d="M69 83.7h1v8.6h-1zM100 83.7h1v8.6h-1zM97 95.6h1v8.4h-1zM129 104.8h1v8.4h-1zM77 114.0h1v8.4h-1zM158 114.0h2v8.4h-2zM20 127.0h1v8.7h-1zM113 127.0h2v8.7h-2zM158 127.0h2v8.7h-2zM86 136.1h1v8.7h-1zM31 154.2h1v8.7h-1zM80 154.2h1v8.7h-1zM148 163.3h1v8.7h-1zM135 172.4h1v8.7h-1zM23 181.5h1v8.7h-1zM69 190.6h1v8.7h-1zM11 199.7h1v8.7h-1zM81 199.7h2v8.7h-2zM96 199.7h1v8.7h-1zM78 208.8h1v8.7h-1zM55 217.8h1v8.7h-1zM121 245.1h1v8.7h-1zM89 254.2h1v8.7h-1zM108 254.2h2v8.7h-2zM20 263.2h1v8.7h-1zM71 263.2h1v8.7h-1zM95 263.2h1v8.7h-1zM171 263.2h1v8.7h-1zM97 272.3h1v8.7h-1zM169 281.4h1v8.7h-1zM83 290.5h1v8.7h-1zM46 299.6h1v8.7h-1zM131 299.6h1v8.7h-1zM135 299.6h1v8.7h-1zM120 308.7h1v8.7h-1zM176 317.8h2v8.7h-2zM85 326.8h1v8.7h-1zM43 335.9h1v8.7h-1zM19 369.9h2v8.5h-2zM29 369.9h1v8.5h-1zM165 369.9h2v8.5h-2zM3 387.8h1v8.5h-1zM78 396.7h1v8.5h-1zM24 405.6h1v8.5h-1zM100 423.5h1v8.5h-1zM44 441.4h1v8.5h-1zM163 477.2h1v8.5h-1z"/>
<path fill="#fcd8d8" d="M74 83.7h1v8.6h-1zM123 83.7h1v8.6h-1zM135 83.7h1v8.6h-1zM99 95.6h1v8.4h-1zM121 95.6h1v8.4h-1zM8 104.8h1v8.4h-1zM122 104.8h2v8.4h-2zM140 104.8h1v8.4h-1zM167 104.8h1v8.4h-1zM176 104.8h1v8.4h-1zM78 114.0h3v8.4h-3zM140 114.0h1v8.4h-1zM145 114.0h1v8.4h-1zM70 127.0h1v8.7h-1zM88 127.0h1v8.7h-1zM146 127.0h1v8.7h-1zM13 136.1h1v8.7h-1zM125 136.1h1v8.7h-1zM144 136.1h1v8.7h-1zM151 136.1h1v8.7h-1zM91 145.2h1v8.7h-1zM164 145.2h1v8.7h-1zM168 145.2h1v8.7h-1zM72 154.2h1v8.7h-1zM88 154.2h1v8.7h-1zM135 154.2h1v8.7h-1zM176 154.2h1v8.7h-1zM22 163.3h1v8.7h-1zM58 163.3h1v8.7h-1zM71 163.3h1v8.7h-1zM35 172.4h2v8.7h-2zM66 172.4h1v8.7h-1zM89 172.4h2v8.7h-2zM5 181.5h1v8.7h-1zM71 181.5h1v8.7h-1zM96 181.5h2v8.7h-2zM135 181.5h3v8.7h-3zM161 181.5h2v8.7h-2zM116 199.7h1v8.7h-1zM140 199.7h1v8.7h-1zM16 208.8h1v8.7h-1zM19 208.8h1v8.7h-1zM101 208.8h1v8.7h-1zM146 208.8h1v8.7h-1zM2 245.1h1v8.7h-1zM4 245.1h1v8.7h-1zM79 245.1h1v8.7h-1zM122 245.1h1v8.7h-1zM182 245.1h1v8.7h-1zM73 254.2h1v8.7h-1zM81 254.2h1v8.7h-1zM97 254.2h1v8.7h-1zM99 254.2h1v8.7h-1zM102 254.2h1v8.7h-1zM4 263.2h1v8.7h-1zM90 263.2h1v8.7h-1zM129 272.3h3v8.7h-3zM6 281.4h2v8.7h-2zM93 281.4h1v8.7h-1zM137 281.4h1v8.7h-1zM73 290.5h1v8.7h-1zM79 290.5h1v8.7h-1zM126 299.6h1v8.7h-1zM128 308.7h1v8.7h-1zM8 317.8h1v8.7h-1zM142 317.8h1v8.7h-1zM150 317.8h1v8.7h-1zM174 317.8h1v8.7h-1zM111 326.8h1v8.7h-1zM118 326.8h1v8.7h-1zM118 335.9h1v8.7h-1zM158 335.9h1v8.7h-1zM7 352.0h2v8.5h-2zM58 352.0h3v8.5h-3zM63 352.0h1v8.5h-1zM88 352.0h2v8.5h-2zM105 352.0h1v8.5h-1zM114 352.0h1v8.5h-1zM130 352.0h1v8.5h-1zM47 360.9h2v8.5h-2zM149 360.9h2v8.5h-2zM155 360.9h2v8.5h-2zM89 369.9h2v8.5h-2zM157 369.9h1v8.5h-1zM164 369.9h1v8.5h-1zM18 378.8h1v8.5h-1zM26 378.8h1v8.5h-1zM74 378.8h2v8.5h-2zM127 378.8h1v8.5h-1zM162 378.8h1v8.5h-1zM49 387.8h1v8.5h-1zM88 387.8h1v8.5h-1zM121 387.8h1v8.5h-1zM152 387.8h1v8.5h-1zM93 396.7h1v8.5h-1zM118 396.7h3v8.5h-3zM146 396.7h1v8.5h-1zM19 405.6h1v8.5h-1zM82 405.6h1v8.5h-1zM117 405.6h1v8.5h-1zM124 405.6h1v8.5h-1zM157 405.6h1v8.5h-1zM18 414.6h1v8.5h-1zM90 414.6h1v8.5h-1zM99 414.6h1v8.5h-1zM39 423.5h1v8.5h-1zM63 423.5h2v8.5h-2zM92 423.5h1v8.5h-1zM49 432.5h1v8.5h-1zM141 432.5h1v8.5h-1zM157 432.5h1v8.5h-1zM173 432.5h1v8.5h-1zM0 441.4h1v8.5h-1zM2 441.4h1v8.5h-1zM26 441.4h1v8.5h-1zM29 441.4h1v8.5h-1zM164 441.4h1v8.5h-1zM166 441.4h1v8.5h-1zM33 450.3h1v8.5h-1zM75 450.3h1v8.5h-1zM153 450.3h1v8.5h-1zM0 459.3h1v8.5h-1zM7 459.3h2v8.5h-2zM26 468.2h1v8.5h-1zM83 468.2h1v8.5h-1zM129 468.2h2v8.5h-2zM26 477.2h2v8.5h-2zM182 477.2h1v8.5h-1z"/>
<path fill="#fcd8de" d="M82 83.7h1v8.6h-1zM160 83.7h1v8.6h-1zM12 104.8h1v8.4h-1zM151 145.2h1v8.7h-1zM15 163.3h1v8.7h-1zM41 163.3h1v8.7h-1zM61 281.4h1v8.7h-1zM176 281.4h1v8.7h-1zM9 335.9h2v8.7h-2zM46 360.9h1v8.5h-1zM81 360.9h1v8.5h-1zM121 360.9h1v8.5h-1zM181 360.9h1v8.5h-1zM11 387.8h1v8.5h-1zM165 414.6h1v8.5h-1zM182 414.6h1v8.5h-1zM121 441.4h1v8.5h-1zM23 450.3h1v8.5h-1zM165 450.3h1v8.5h-1zM1 477.2h1v8.5h-1zM138 477.2h1v8.5h-1zM159 477.2h1v8.5h-1z"/>
<path fill="#e4242a" d="M86 83.7h1v8.6h-1zM177 104.8h1v8.4h-1zM173 127.0h1v8.7h-1zM3 136.1h1v8.7h-1zM142 154.2h1v8.7h-1zM43 163.3h1v8.7h-1zM178 163.3h1v8.7h-1zM19 172.4h1v8.7h-1zM39 181.5h2v8.7h-2zM123 181.5h1v8.7h-1zM102 199.7h2v8.7h-2zM71 208.8h1v8.7h-1zM99 208.8h1v8.7h-1zM114 217.8h2v8.7h-2zM84 226.9h1v8.7h-1zM174 226.9h1v8.7h-1zM127 236.0h1v8.7h-1zM78 245.1h1v8.7h-1zM54 263.2h1v8.7h-1zM99 263.2h2v8.7h-2zM112 263.2h1v8.7h-1zM79 281.4h1v8.7h-1zM102 281.4h1v8.7h-1zM179 281.4h1v8.7h-1zM155 290.5h2v8.7h-2zM2 308.7h1v8.7h-1zM107 317.8h1v8.7h-1zM154 317.8h1v8.7h-1zM167 317.8h1v8.7h-1zM87 369.9h1v8.5h-1zM178 378.8h1v8.5h-1zM26 387.8h1v8.5h-1zM67 387.8h1v8.5h-1zM50 396.7h1v8.5h-1zM169 432.5h1v8.5h-1z"/>
<path fill="#f6baba" d="M89 83.7h1v8.6h-1zM165 83.7h1v8.6h-1zM74 114.0h1v8.4h-1zM139 114.0h1v8.4h-1zM154 127.0h1v8.7h-1zM25 136.1h1v8.7h-1zM42 136.1h1v8.7h-1zM4 145.2h1v8.7h-1zM65 145.2h2v8.7h-2zM85 145.2h1v8.7h-1zM147 145.2h1v8.7h-1zM30 154.2h1v8.7h-1zM161 154.2h1v8.7h-1zM42 163.3h1v8.7h-1zM74 163.3h1v8.7h-1zM88 163.3h1v8.7h-1zM129 163.3h2v8.7h-2zM60 172.4h1v8.7h-1zM170 172.4h1v8.7h-1zM11 208.8h1v8.7h-1zM18 208.8h1v8.7h-1zM80 254.2h1v8.7h-1zM12 263.2h1v8.7h-1zM133 263.2h2v8.7h-2zM28 272.3h1v8.7h-1zM71 272.3h1v8.7h-1zM76 272.3h1v8.7h-1zM86 272.3h1v8.7h-1zM113 272.3h1v8.7h-1zM97 281.4h1v8.7h-1zM181 290.5h2v8.7h-2zM118 299.6h1v8.7h-1zM94 308.7h1v8.7h-1zM145 317.8h1v8.7h-1zM156 317.8h1v8.7h-1zM31 326.8h1v8.7h-1zM138 326.8h1v8.7h-1zM17 335.9h1v8.7h-1zM74 335.9h1v8.7h-1zM126 335.9h1v8.7h-1zM22 352.0h1v8.5h-1zM56 352.0h1v8.5h-1zM102 352.0h1v8.5h-1zM152 352.0h1v8.5h-1zM10 360.9h1v8.5h-1zM28 369.9h1v8.5h-1zM49 369.9h1v8.5h-1zM55 369.9h2v8.5h-2zM153 378.8h2v8.5h-2zM174 378.8h1v8.5h-1zM125 387.8h1v8.5h-1zM179 387.8h1v8.5h-1zM74 396.7h1v8.5h-1zM76 396.7h1v8.5h-1zM72 405.6h1v8.5h-1zM78 405.6h1v8.5h-1zM98 405.6h1v8.5h-1zM112 414.6h1v8.5h-1zM19 423.5h1v8.5h-1zM73 423.5h1v8.5h-1zM127 423.5h2v8.5h-2zM11 432.5h1v8.5h-1zM39 432.5h2v8.5h-2zM179 432.5h2v8.5h-2zM35 441.4h1v8.5h-1zM71 441.4h1v8.5h-1zM155 441.4h1v8.5h-1zM159 441.4h1v8.5h-1zM171 441.4h1v8.5h-1zM13 450.3h1v8.5h-1zM34 450.3h1v8.5h-1zM119 450.3h2v8.5h-2zM10 459.3h1v8.5h-1zM31 459.3h1v8.5h-1zM57 459.3h1v8.5h-1zM178 459.3h1v8.5h-1zM19 468.2h1v8.5h-1zM63 468.2h1v8.5h-1zM109 468.2h1v8.5h-1zM122 468.2h2v8.5h-2zM141 468.2h1v8.5h-1zM22 477.2h1v8.5h-1zM177 477.2h1v8.5h-1z"/>
<path fill="#f08a90" d="M91 83.7h1v8.6h-1zM105 95.6h1v8.4h-1zM151 114.0h1v8.4h-1zM57 145.2h1v8.7h-1zM3 154.2h1v8.7h-1zM28 154.2h1v8.7h-1zM59 154.2h2v8.7h-2zM1 172.4h1v8.7h-1zM17 172.4h1v8.7h-1zM57 172.4h1v8.7h-1zM94 181.5h1v8.7h-1zM77 199.7h1v8.7h-1zM99 199.7h1v8.7h-1zM81 208.8h1v8.7h-1zM157 226.9h1v8.7h-1zM163 263.2h1v8.7h-1zM101 272.3h1v8.7h-1zM154 290.5h1v8.7h-1zM174 290.5h1v8.7h-1zM152 299.6h1v8.7h-1zM62 352.0h1v8.5h-1zM96 360.9h1v8.5h-1zM150 396.7h1v8.5h-1zM66 405.6h1v8.5h-1zM106 405.6h1v8.5h-1zM7 414.6h3v8.5h-3zM110 414.6h1v8.5h-1zM162 414.6h1v8.5h-1zM114 423.5h1v8.5h-1zM99 432.5h1v8.5h-1zM147 432.5h1v8.5h-1zM139 468.2h1v8.5h-1zM181 477.2h1v8.5h-1z"/>
<path fill="#f0787e" d="M98 83.7h1v8.6h-1zM29 95.6h1v8.4h-1zM158 104.8h1v8.4h-1zM3 114.0h1v8.4h-1zM124 114.0h1v8.4h-1zM122 127.0h1v8.7h-1zM71 136.1h1v8.7h-1zM18 145.2h1v8.7h-1zM28 145.2h1v8.7h-1zM90 145.2h1v8.7h-1zM4 172.4h1v8.7h-1zM16 172.4h1v8.7h-1zM32 172.4h1v8.7h-1zM45 181.5h1v8.7h-1zM90 181.5h1v8.7h-1zM168 190.6h4v8.7h-4zM4 199.7h1v8.7h-1zM108 208.8h1v8.7h-1zM115 208.8h2v8.7h-2zM123 245.1h2v8.7h-2zM90 254.2h4v8.7h-4zM113 263.2h1v8.7h-1zM125 272.3h1v8.7h-1zM18 290.5h1v8.7h-1zM134 290.5h1v8.7h-1zM161 317.8h1v8.7h-1zM121 326.8h1v8.7h-1zM140 326.8h1v8.7h-1zM147 326.8h1v8.7h-1zM156 326.8h1v8.7h-1zM37 352.0h2v8.5h-2zM65 360.9h1v8.5h-1zM109 360.9h1v8.5h-1zM180 360.9h1v8.5h-1zM75 405.6h3v8.5h-3zM106 477.2h1v8.5h-1zM155 477.2h1v8.5h-1z"/>
<path fill="#ea4e54" d="M103 83.7h1v8.6h-1zM163 83.7h1v8.6h-1zM120 95.6h1v8.4h-1zM108 104.8h1v8.4h-1zM168 104.8h1v8.4h-1zM148 114.0h1v8.4h-1zM44 145.2h1v8.7h-1zM165 145.2h1v8.7h-1zM151 172.4h1v8.7h-1zM37 190.6h1v8.7h-1zM79 199.7h1v8.7h-1zM76 245.1h2v8.7h-2zM113 245.1h1v8.7h-1zM105 263.2h1v8.7h-1zM116 263.2h1v8.7h-1zM94 272.3h1v8.7h-1zM177 281.4h1v8.7h-1zM0 308.7h1v8.7h-1zM132 317.8h3v8.7h-3zM147 317.8h1v8.7h-1zM152 317.8h1v8.7h-1zM17 326.8h2v8.7h-2zM35 423.5h1v8.5h-1zM13 441.4h1v8.5h-1zM45 441.4h1v8.5h-1zM154 477.2h1v8.5h-1z"/>
<path fill="#f09ca2" d="M109 83.7h1v8.6h-1zM126 95.6h2v8.4h-2zM149 95.6h1v8.4h-1zM145 104.8h1v8.4h-1zM171 127.0h1v8.7h-1zM20 136.1h1v8.7h-1zM46 145.2h1v8.7h-1zM63 154.2h2v8.7h-2zM37 172.4h2v8.7h-2zM9 181.5h2v8.7h-2zM87 181.5h1v8.7h-1zM60 190.6h2v8.7h-2zM108 199.7h2v8.7h-2zM136 208.8h1v8.7h-1zM163 226.9h1v8.7h-1zM82 245.1h1v8.7h-1zM85 254.2h1v8.7h-1zM14 281.4h1v8.7h-1zM109 281.4h2v8.7h-2zM167 290.5h2v8.7h-2zM98 299.6h1v8.7h-1zM174 299.6h2v8.7h-2zM125 308.7h1v8.7h-1zM146 326.8h1v8.7h-1zM3 352.0h1v8.5h-1zM122 369.9h1v8.5h-1zM87 396.7h2v8.5h-2zM86 405.6h1v8.5h-1zM90 405.6h1v8.5h-1zM111 405.6h1v8.5h-1zM70 423.5h1v8.5h-1zM45 432.5h1v8.5h-1z"/>
<path fill="#ea7278" d="M111 83.7h1v8.6h-1zM95 95.6h1v8.4h-1zM94 114.0h1v8.4h-1zM99 114.0h1v8.4h-1zM71 127.0h1v8.7h-1zM21 136.1h1v8.7h-1zM53 136.1h1v8.7h-1zM16 145.2h1v8.7h-1zM161 145.2h1v8.7h-1zM32 163.3h1v8.7h-1zM160 163.3h1v8.7h-1zM31 190.6h1v8.7h-1zM76 199.7h1v8.7h-1zM100 199.7h1v8.7h-1zM148 208.8h1v8.7h-1zM24 217.8h2v8.7h-2zM62 236.0h2v8.7h-2zM105 236.0h1v8.7h-1zM180 245.1h2v8.7h-2zM69 254.2h1v8.7h-1zM32 263.2h1v8.7h-1zM161 263.2h1v8.7h-1zM160 272.3h2v8.7h-2zM169 272.3h1v8.7h-1zM104 281.4h1v8.7h-1zM115 281.4h2v8.7h-2zM128 281.4h1v8.7h-1zM124 290.5h1v8.7h-1zM130 299.6h1v8.7h-1zM9 317.8h1v8.7h-1zM0 326.8h1v8.7h-1zM16 326.8h1v8.7h-1zM141 326.8h1v8.7h-1zM171 335.9h1v8.7h-1zM118 352.0h1v8.5h-1zM22 360.9h3v8.5h-3zM113 360.9h2v8.5h-2zM123 441.4h2v8.5h-2zM171 450.3h2v8.5h-2zM156 459.3h3v8.5h-3zM142 468.2h1v8.5h-1z"/>
<path fill="#e43c3c" d="M114 83.7h1v8.6h-1zM62 95.6h1v8.4h-1zM45 145.2h1v8.7h-1zM76 163.3h1v8.7h-1zM39 326.8h1v8.7h-1zM132 396.7h1v8.5h-1z"/>
<path fill="#f6aeae" d="M117 83.7h1v8.6h-1zM93 95.6h2v8.4h-2zM141 104.8h1v8.4h-1zM155 104.8h1v8.4h-1zM25 127.0h1v8.7h-1zM61 145.2h1v8.7h-1zM116 154.2h1v8.7h-1zM80 199.7h1v8.7h-1zM113 208.8h2v8.7h-2zM133 236.0h1v8.7h-1zM74 245.1h1v8.7h-1zM28 254.2h1v8.7h-1zM100 254.2h1v8.7h-1zM104 254.2h1v8.7h-1zM138 272.3h1v8.7h-1zM60 281.4h1v8.7h-1zM86 281.4h1v8.7h-1zM172 290.5h1v8.7h-1zM137 299.6h1v8.7h-1zM115 308.7h2v8.7h-2zM137 308.7h1v8.7h-1zM140 317.8h1v8.7h-1zM169 317.8h1v8.7h-1zM4 326.8h2v8.7h-2zM159 326.8h1v8.7h-1zM103 335.9h2v8.7h-2zM106 335.9h1v8.7h-1zM111 335.9h1v8.7h-1zM53 360.9h3v8.5h-3zM125 360.9h1v8.5h-1zM159 369.9h1v8.5h-1zM24 378.8h1v8.5h-1zM56 378.8h1v8.5h-1zM125 378.8h1v8.5h-1zM32 387.8h1v8.5h-1zM94 396.7h1v8.5h-1zM100 396.7h1v8.5h-1zM107 405.6h1v8.5h-1zM109 405.6h1v8.5h-1zM153 423.5h1v8.5h-1zM96 432.5h2v8.5h-2zM136 432.5h1v8.5h-1zM149 432.5h1v8.5h-1zM49 441.4h1v8.5h-1zM52 441.4h1v8.5h-1zM117 441.4h1v8.5h-1zM140 450.3h1v8.5h-1zM4 468.2h1v8.5h-1zM56 477.2h1v8.5h-1z"/>
<path fill="#ea5a60" d="M122 83.7h1v8.6h-1zM69 114.0h1v8.4h-1zM128 114.0h1v8.4h-1zM19 136.1h1v8.7h-1zM93 136.1h2v8.7h-2zM35 145.2h1v8.7h-1zM43 145.2h1v8.7h-1zM166 145.2h1v8.7h-1zM107 163.3h1v8.7h-1zM10 172.4h2v8.7h-2zM145 172.4h1v8.7h-1zM38 181.5h1v8.7h-1zM88 181.5h1v8.7h-1zM77 208.8h1v8.7h-1zM112 245.1h1v8.7h-1zM114 245.1h1v8.7h-1zM134 245.1h1v8.7h-1zM109 263.2h2v8.7h-2zM94 281.4h1v8.7h-1zM118 281.4h2v8.7h-2zM113 299.6h1v8.7h-1zM140 299.6h4v8.7h-4zM149 299.6h1v8.7h-1zM182 299.6h1v8.7h-1zM114 308.7h1v8.7h-1zM118 308.7h1v8.7h-1zM72 317.8h1v8.7h-1zM165 317.8h1v8.7h-1zM145 326.8h1v8.7h-1zM153 326.8h1v8.7h-1zM163 326.8h1v8.7h-1zM137 360.9h1v8.5h-1zM23 396.7h1v8.5h-1zM71 396.7h1v8.5h-1zM171 414.6h2v8.5h-2zM106 423.5h1v8.5h-1zM45 450.3h3v8.5h-3zM155 459.3h1v8.5h-1z"/>
<path fill="#f6b4b4" d="M124 83.7h1v8.6h-1zM86 95.6h1v8.4h-1zM167 95.6h2v8.4h-2zM18 104.8h2v8.4h-2zM91 114.0h2v8.4h-2zM141 114.0h1v8.4h-1zM87 127.0h1v8.7h-1zM16 136.1h1v8.7h-1zM35 136.1h1v8.7h-1zM88 136.1h1v8.7h-1zM140 136.1h4v8.7h-4zM12 145.2h3v8.7h-3zM17 154.2h2v8.7h-2zM148 154.2h1v8.7h-1zM2 163.3h1v8.7h-1zM3 172.4h1v8.7h-1zM41 172.4h1v8.7h-1zM5 199.7h1v8.7h-1zM21 199.7h1v8.7h-1zM89 208.8h1v8.7h-1zM107 208.8h1v8.7h-1zM72 245.1h1v8.7h-1zM107 245.1h1v8.7h-1zM91 263.2h1v8.7h-1zM93 272.3h1v8.7h-1zM134 272.3h1v8.7h-1zM140 290.5h1v8.7h-1zM149 290.5h1v8.7h-1zM161 290.5h1v8.7h-1zM168 299.6h1v8.7h-1zM178 299.6h1v8.7h-1zM112 308.7h1v8.7h-1zM121 308.7h1v8.7h-1zM93 317.8h1v8.7h-1zM137 317.8h1v8.7h-1zM171 317.8h1v8.7h-1zM25 326.8h1v8.7h-1zM167 326.8h1v8.7h-1zM72 335.9h1v8.7h-1zM143 335.9h1v8.7h-1zM157 335.9h1v8.7h-1zM170 352.0h1v8.5h-1zM80 360.9h1v8.5h-1zM140 360.9h1v8.5h-1zM43 369.9h1v8.5h-1zM132 369.9h1v8.5h-1zM170 369.9h1v8.5h-1zM65 378.8h1v8.5h-1zM67 378.8h1v8.5h-1zM155 378.8h3v8.5h-3zM177 387.8h1v8.5h-1zM108 396.7h1v8.5h-1zM114 396.7h1v8.5h-1zM79 405.6h1v8.5h-1zM85 405.6h1v8.5h-1zM101 405.6h2v8.5h-2zM32 414.6h1v8.5h-1zM66 414.6h2v8.5h-2zM70 414.6h1v8.5h-1zM166 414.6h1v8.5h-1zM173 414.6h1v8.5h-1zM56 423.5h1v8.5h-1zM75 432.5h1v8.5h-1zM77 432.5h2v8.5h-2zM142 441.4h1v8.5h-1zM131 450.3h1v8.5h-1zM150 450.3h1v8.5h-1zM163 459.3h1v8.5h-1zM147 468.2h1v8.5h-1z"/>
<path fill="#f6c6c6" d="M146 83.7h1v8.6h-1zM90 95.6h1v8.4h-1zM118 95.6h1v8.4h-1zM138 95.6h1v8.4h-1zM2 104.8h1v8.4h-1zM124 104.8h1v8.4h-1zM136 104.8h1v8.4h-1zM2 136.1h1v8.7h-1zM45 136.1h1v8.7h-1zM134 136.1h1v8.7h-1zM67 145.2h1v8.7h-1zM89 145.2h1v8.7h-1zM178 145.2h1v8.7h-1zM51 154.2h1v8.7h-1zM123 154.2h1v8.7h-1zM145 154.2h2v8.7h-2zM121 163.3h1v8.7h-1zM176 163.3h1v8.7h-1zM33 181.5h3v8.7h-3zM128 181.5h1v8.7h-1zM15 199.7h1v8.7h-1zM162 199.7h1v8.7h-1zM178 199.7h1v8.7h-1zM125 208.8h1v8.7h-1zM79 226.9h1v8.7h-1zM172 245.1h3v8.7h-3zM141 263.2h1v8.7h-1zM91 272.3h1v8.7h-1zM137 272.3h1v8.7h-1zM175 272.3h1v8.7h-1zM126 281.4h1v8.7h-1zM111 290.5h1v8.7h-1zM132 299.6h1v8.7h-1zM153 299.6h1v8.7h-1zM174 308.7h1v8.7h-1zM4 317.8h1v8.7h-1zM119 317.8h1v8.7h-1zM130 326.8h1v8.7h-1zM94 335.9h1v8.7h-1zM142 335.9h1v8.7h-1zM107 352.0h1v8.5h-1zM169 352.0h1v8.5h-1zM68 360.9h1v8.5h-1zM97 360.9h1v8.5h-1zM173 360.9h1v8.5h-1zM26 369.9h1v8.5h-1zM154 369.9h2v8.5h-2zM21 378.8h1v8.5h-1zM119 378.8h1v8.5h-1zM161 378.8h1v8.5h-1zM182 378.8h1v8.5h-1zM23 387.8h1v8.5h-1zM33 387.8h3v8.5h-3zM142 387.8h3v8.5h-3zM117 396.7h1v8.5h-1zM48 405.6h1v8.5h-1zM62 405.6h1v8.5h-1zM95 405.6h1v8.5h-1zM26 414.6h2v8.5h-2zM123 414.6h1v8.5h-1zM167 414.6h1v8.5h-1zM20 423.5h1v8.5h-1zM48 423.5h2v8.5h-2zM57 423.5h2v8.5h-2zM108 423.5h2v8.5h-2zM113 423.5h1v8.5h-1zM25 432.5h1v8.5h-1zM38 432.5h1v8.5h-1zM122 432.5h1v8.5h-1zM155 432.5h1v8.5h-1zM1 441.4h1v8.5h-1zM114 441.4h1v8.5h-1zM133 441.4h1v8.5h-1zM44 459.3h1v8.5h-1zM154 468.2h1v8.5h-1zM6 477.2h1v8.5h-1zM119 477.2h2v8.5h-2z"/>
<path fill="#f6cccc" d="M148 83.7h1v8.6h-1zM177 83.7h1v8.6h-1zM98 95.6h1v8.4h-1zM114 95.6h2v8.4h-2zM122 95.6h3v8.4h-3zM146 95.6h1v8.4h-1zM15 104.8h1v8.4h-1zM74 104.8h1v8.4h-1zM151 104.8h1v8.4h-1zM75 114.0h2v8.4h-2zM119 114.0h1v8.4h-1zM34 127.0h1v8.7h-1zM38 127.0h1v8.7h-1zM64 127.0h2v8.7h-2zM69 127.0h1v8.7h-1zM125 127.0h1v8.7h-1zM133 127.0h1v8.7h-1zM155 127.0h2v8.7h-2zM6 136.1h2v8.7h-2zM37 136.1h1v8.7h-1zM164 136.1h1v8.7h-1zM179 136.1h1v8.7h-1zM51 145.2h1v8.7h-1zM53 145.2h1v8.7h-1zM139 145.2h1v8.7h-1zM13 154.2h1v8.7h-1zM52 154.2h1v8.7h-1zM62 154.2h1v8.7h-1zM69 154.2h1v8.7h-1zM17 163.3h1v8.7h-1zM170 163.3h1v8.7h-1zM7 172.4h1v8.7h-1zM53 172.4h2v8.7h-2zM75 172.4h1v8.7h-1zM56 181.5h1v8.7h-1zM117 181.5h1v8.7h-1zM160 181.5h1v8.7h-1zM72 199.7h1v8.7h-1zM86 199.7h2v8.7h-2zM105 199.7h2v8.7h-2zM20 208.8h1v8.7h-1zM82 208.8h1v8.7h-1zM145 236.0h1v8.7h-1zM81 245.1h1v8.7h-1zM90 245.1h1v8.7h-1zM82 254.2h2v8.7h-2zM103 254.2h1v8.7h-1zM79 263.2h1v8.7h-1zM106 263.2h1v8.7h-1zM119 263.2h1v8.7h-1zM70 272.3h1v8.7h-1zM164 272.3h2v8.7h-2zM98 281.4h1v8.7h-1zM82 299.6h2v8.7h-2zM133 299.6h1v8.7h-1zM180 299.6h2v8.7h-2zM13 308.7h1v8.7h-1zM105 317.8h1v8.7h-1zM12 352.0h1v8.5h-1zM14 352.0h1v8.5h-1zM57 352.0h1v8.5h-1zM77 352.0h1v8.5h-1zM93 352.0h2v8.5h-2zM125 352.0h1v8.5h-1zM177 352.0h1v8.5h-1zM31 360.9h1v8.5h-1zM82 360.9h1v8.5h-1zM165 360.9h1v8.5h-1zM167 360.9h1v8.5h-1zM48 369.9h1v8.5h-1zM163 369.9h1v8.5h-1zM177 369.9h1v8.5h-1zM118 378.8h1v8.5h-1zM8 387.8h1v8.5h-1zM82 396.7h1v8.5h-1zM106 396.7h1v8.5h-1zM179 396.7h1v8.5h-1zM110 405.6h1v8.5h-1zM143 405.6h1v8.5h-1zM150 405.6h2v8.5h-2zM166 405.6h1v8.5h-1zM5 414.6h2v8.5h-2zM46 414.6h1v8.5h-1zM118 414.6h1v8.5h-1zM136 414.6h3v8.5h-3zM13 423.5h1v8.5h-1zM17 423.5h1v8.5h-1zM124 423.5h1v8.5h-1zM130 423.5h1v8.5h-1zM175 423.5h1v8.5h-1zM84 432.5h1v8.5h-1zM128 432.5h1v8.5h-1zM132 432.5h1v8.5h-1zM137 432.5h1v8.5h-1zM6 441.4h1v8.5h-1zM18 441.4h1v8.5h-1zM55 441.4h1v8.5h-1zM70 441.4h1v8.5h-1zM157 441.4h1v8.5h-1zM133 450.3h1v8.5h-1zM155 450.3h1v8.5h-1zM30 459.3h1v8.5h-1zM107 459.3h1v8.5h-1zM128 459.3h1v8.5h-1zM166 459.3h1v8.5h-1zM175 459.3h1v8.5h-1zM18 468.2h1v8.5h-1zM34 468.2h1v8.5h-1zM44 468.2h1v8.5h-1zM58 468.2h1v8.5h-1zM68 468.2h1v8.5h-1zM80 468.2h1v8.5h-1zM112 468.2h1v8.5h-1zM170 468.2h1v8.5h-1zM7 477.2h1v8.5h-1zM69 477.2h1v8.5h-1z"/>
<path fill="#f6bac0" d="M159 83.7h1v8.6h-1zM87 95.6h1v8.4h-1zM137 104.8h2v8.4h-2zM173 104.8h1v8.4h-1zM108 114.0h1v8.4h-1zM79 145.2h1v8.7h-1zM64 172.4h1v8.7h-1zM30 181.5h1v8.7h-1zM72 181.5h1v8.7h-1zM121 199.7h1v8.7h-1zM75 208.8h1v8.7h-1zM95 208.8h2v8.7h-2zM98 217.8h1v8.7h-1zM75 245.1h1v8.7h-1zM91 245.1h1v8.7h-1zM104 290.5h1v8.7h-1zM102 308.7h1v8.7h-1zM28 326.8h1v8.7h-1zM97 335.9h1v8.7h-1zM55 352.0h1v8.5h-1zM83 352.0h1v8.5h-1zM60 369.9h2v8.5h-2zM175 369.9h1v8.5h-1zM43 378.8h1v8.5h-1zM78 378.8h1v8.5h-1zM141 378.8h1v8.5h-1zM87 387.8h1v8.5h-1zM106 387.8h1v8.5h-1zM145 396.7h1v8.5h-1zM96 414.6h3v8.5h-3zM41 423.5h1v8.5h-1zM75 423.5h1v8.5h-1zM71 468.2h3v8.5h-3z"/>
<path fill="#e44242" d="M168 83.7h1v8.6h-1zM177 95.6h2v8.4h-2zM110 114.0h1v8.4h-1zM1 181.5h1v8.7h-1zM159 226.9h1v8.7h-1zM102 263.2h1v8.7h-1zM81 281.4h1v8.7h-1zM77 290.5h1v8.7h-1zM57 387.8h1v8.5h-1z"/>
<path fill="#e42a30" d="M173 83.7h1v8.6h-1zM4 114.0h1v8.4h-1zM106 114.0h1v8.4h-1zM115 114.0h2v8.4h-2zM164 114.0h1v8.4h-1zM117 136.1h1v8.7h-1zM6 145.2h3v8.7h-3zM33 154.2h1v8.7h-1zM29 163.3h2v8.7h-2zM33 163.3h1v8.7h-1zM44 163.3h1v8.7h-1zM128 163.3h1v8.7h-1zM0 181.5h1v8.7h-1zM29 181.5h1v8.7h-1zM50 181.5h2v8.7h-2zM178 181.5h1v8.7h-1zM19 190.6h1v8.7h-1zM142 190.6h1v8.7h-1zM110 199.7h1v8.7h-1zM62 208.8h1v8.7h-1zM176 236.0h1v8.7h-1zM70 245.1h1v8.7h-1zM103 245.1h1v8.7h-1zM175 245.1h1v8.7h-1zM24 263.2h1v8.7h-1zM117 263.2h1v8.7h-1zM96 272.3h1v8.7h-1zM116 272.3h1v8.7h-1zM50 281.4h1v8.7h-1zM78 281.4h1v8.7h-1zM100 281.4h1v8.7h-1zM129 290.5h1v8.7h-1zM135 290.5h1v8.7h-1zM68 299.6h2v8.7h-2zM149 326.8h1v8.7h-1zM168 326.8h1v8.7h-1zM156 335.9h1v8.7h-1zM160 335.9h1v8.7h-1zM128 352.0h1v8.5h-1zM72 360.9h1v8.5h-1zM175 360.9h1v8.5h-1zM96 387.8h1v8.5h-1zM134 423.5h1v8.5h-1zM39 450.3h1v8.5h-1zM159 450.3h1v8.5h-1zM5 459.3h1v8.5h-1zM66 459.3h1v8.5h-1zM100 459.3h2v8.5h-2zM65 477.2h2v8.5h-2z"/>
<path fill="#a8b4d8" d="M0 95.6h1v8.4h-1zM46 95.6h1v8.4h-1zM152 95.6h1v8.4h-1zM51 104.8h1v8.4h-1zM64 104.8h1v8.4h-1zM25 114.0h1v8.4h-1zM165 114.0h1v8.4h-1zM33 127.0h1v8.7h-1zM85 127.0h1v8.7h-1zM55 136.1h1v8.7h-1zM127 145.2h1v8.7h-1zM132 145.2h1v8.7h-1zM114 154.2h2v8.7h-2zM79 172.4h2v8.7h-2zM147 172.4h1v8.7h-1zM171 172.4h2v8.7h-2zM60 181.5h1v8.7h-1zM172 181.5h1v8.7h-1zM43 199.7h1v8.7h-1zM48 199.7h1v8.7h-1zM53 199.7h1v8.7h-1zM122 199.7h1v8.7h-1zM46 208.8h1v8.7h-1zM169 208.8h3v8.7h-3zM178 208.8h2v8.7h-2zM10 245.1h1v8.7h-1zM135 245.1h1v8.7h-1zM45 263.2h1v8.7h-1zM60 263.2h1v8.7h-1zM21 272.3h1v8.7h-1zM170 272.3h1v8.7h-1zM46 281.4h2v8.7h-2zM39 299.6h1v8.7h-1zM50 299.6h1v8.7h-1zM65 299.6h1v8.7h-1zM12 308.7h1v8.7h-1zM89 308.7h2v8.7h-2zM38 317.8h1v8.7h-1zM79 317.8h1v8.7h-1zM51 326.8h1v8.7h-1zM78 326.8h1v8.7h-1zM137 326.8h1v8.7h-1zM27 335.9h1v8.7h-1zM64 335.9h1v8.7h-1zM76 335.9h1v8.7h-1zM79 335.9h1v8.7h-1zM50 352.0h3v8.5h-3zM9 360.9h1v8.5h-1zM123 360.9h1v8.5h-1zM107 369.9h1v8.5h-1zM21 396.7h1v8.5h-1zM147 396.7h1v8.5h-1zM173 396.7h1v8.5h-1zM6 405.6h1v8.5h-1zM165 405.6h1v8.5h-1zM131 423.5h1v8.5h-1zM42 441.4h1v8.5h-1zM145 468.2h1v8.5h-1z"/>
<path fill="#96a2d2" d="M1 95.6h1v8.4h-1zM27 95.6h1v8.4h-1zM29 104.8h1v8.4h-1zM38 104.8h1v8.4h-1zM47 104.8h1v8.4h-1zM49 104.8h1v8.4h-1zM16 114.0h1v8.4h-1zM51 114.0h2v8.4h-2zM95 136.1h3v8.7h-3zM107 136.1h2v8.7h-2zM75 145.2h1v8.7h-1zM92 145.2h2v8.7h-2zM133 154.2h1v8.7h-1zM98 163.3h1v8.7h-1zM154 172.4h1v8.7h-1zM176 181.5h1v8.7h-1zM4 299.6h4v8.7h-4zM74 308.7h1v8.7h-1zM18 317.8h1v8.7h-1zM46 326.8h1v8.7h-1zM49 326.8h1v8.7h-1zM64 326.8h1v8.7h-1zM71 326.8h1v8.7h-1zM57 369.9h1v8.5h-1zM34 396.7h1v8.5h-1zM171 396.7h1v8.5h-1zM17 405.6h1v8.5h-1zM51 423.5h1v8.5h-1zM72 423.5h1v8.5h-1zM35 468.2h1v8.5h-1z"/>
<path fill="#6c7eba" d="M2 95.6h1v8.4h-1zM6 104.8h1v8.4h-1zM161 127.0h1v8.7h-1zM54 136.1h1v8.7h-1zM69 145.2h1v8.7h-1zM109 163.3h1v8.7h-1zM93 172.4h1v8.7h-1zM46 199.7h2v8.7h-2zM125 199.7h4v8.7h-4zM124 208.8h1v8.7h-1zM127 245.1h2v8.7h-2zM162 245.1h1v8.7h-1zM131 263.2h1v8.7h-1zM34 272.3h1v8.7h-1zM55 272.3h2v8.7h-2zM56 281.4h1v8.7h-1zM80 290.5h1v8.7h-1zM23 299.6h1v8.7h-1zM54 299.6h1v8.7h-1zM60 299.6h1v8.7h-1zM67 299.6h1v8.7h-1zM101 317.8h2v8.7h-2zM118 317.8h1v8.7h-1zM67 326.8h1v8.7h-1zM72 326.8h2v8.7h-2zM32 335.9h1v8.7h-1zM31 405.6h1v8.5h-1zM41 414.6h1v8.5h-1zM177 414.6h2v8.5h-2zM16 423.5h1v8.5h-1zM6 432.5h1v8.5h-1zM167 441.4h1v8.5h-1zM164 450.3h1v8.5h-1zM121 468.2h1v8.5h-1z"/>
<path fill="#3c5aa8" d="M3 95.6h2v8.4h-2zM112 145.2h1v8.7h-1zM26 154.2h2v8.7h-2zM161 208.8h2v8.7h-2zM135 272.3h2v8.7h-2zM133 290.5h1v8.7h-1zM3 299.6h1v8.7h-1zM83 308.7h2v8.7h-2zM179 352.0h1v8.5h-1zM6 360.9h1v8.5h-1zM126 432.5h1v8.5h-1zM180 468.2h1v8.5h-1zM5 477.2h1v8.5h-1zM108 477.2h1v8.5h-1z"/>
<path fill="#9ca8d2" d="M5 95.6h2v8.4h-2zM11 95.6h2v8.4h-2zM21 95.6h1v8.4h-1zM36 95.6h1v8.4h-1zM36 104.8h2v8.4h-2zM77 104.8h2v8.4h-2zM27 114.0h1v8.4h-1zM29 114.0h1v8.4h-1zM42 114.0h1v8.4h-1zM171 114.0h2v8.4h-2zM22 136.1h1v8.7h-1zM96 145.2h2v8.7h-2zM105 145.2h1v8.7h-1zM117 145.2h1v8.7h-1zM108 163.3h1v8.7h-1zM125 172.4h1v8.7h-1zM181 172.4h1v8.7h-1zM53 181.5h1v8.7h-1zM175 181.5h1v8.7h-1zM55 208.8h2v8.7h-2zM136 245.1h1v8.7h-1zM148 245.1h1v8.7h-1zM152 272.3h1v8.7h-1zM65 281.4h2v8.7h-2zM143 281.4h2v8.7h-2zM30 299.6h1v8.7h-1zM43 299.6h1v8.7h-1zM90 299.6h1v8.7h-1zM42 317.8h1v8.7h-1zM51 317.8h2v8.7h-2zM85 317.8h1v8.7h-1zM58 326.8h1v8.7h-1zM23 335.9h1v8.7h-1zM45 335.9h2v8.7h-2zM79 352.0h1v8.5h-1zM181 369.9h2v8.5h-2zM164 405.6h1v8.5h-1zM85 414.6h1v8.5h-1zM53 423.5h1v8.5h-1zM126 459.3h1v8.5h-1zM85 477.2h2v8.5h-2zM121 477.2h2v8.5h-2zM129 477.2h2v8.5h-2z"/>
<path fill="#3048a2" d="M7 95.6h3v8.4h-3zM21 104.8h1v8.4h-1zM85 104.8h1v8.4h-1zM147 127.0h1v8.7h-1zM69 136.1h1v8.7h-1zM153 136.1h1v8.7h-1zM160 154.2h1v8.7h-1zM12 281.4h1v8.7h-1zM97 308.7h3v8.7h-3zM106 360.9h1v8.5h-1zM30 378.8h1v8.5h-1zM38 378.8h1v8.5h-1zM17 396.7h1v8.5h-1zM37 423.5h2v8.5h-2zM59 423.5h1v8.5h-1zM113 432.5h1v8.5h-1zM17 468.2h1v8.5h-1zM172 477.2h1v8.5h-1z"/>
<path fill="#5a72b4" d="M10 95.6h1v8.4h-1zM75 154.2h1v8.7h-1zM106 154.2h1v8.7h-1zM1 163.3h1v8.7h-1zM55 199.7h1v8.7h-1zM151 199.7h1v8.7h-1zM58 208.8h1v8.7h-1zM131 245.1h2v8.7h-2zM141 245.1h1v8.7h-1zM61 263.2h1v8.7h-1zM20 272.3h1v8.7h-1zM76 281.4h1v8.7h-1zM18 299.6h1v8.7h-1zM169 308.7h1v8.7h-1zM44 317.8h1v8.7h-1zM115 352.0h2v8.5h-2zM76 360.9h1v8.5h-1zM139 369.9h1v8.5h-1zM1 387.8h2v8.5h-2zM5 396.7h1v8.5h-1zM62 396.7h2v8.5h-2zM41 405.6h1v8.5h-1zM91 405.6h2v8.5h-2zM149 405.6h1v8.5h-1zM91 414.6h1v8.5h-1zM67 432.5h1v8.5h-1zM121 450.3h1v8.5h-1zM31 477.2h1v8.5h-1z"/>
<path fill="#a2aed2" d="M13 95.6h3v8.4h-3zM40 95.6h3v8.4h-3zM77 95.6h1v8.4h-1zM21 114.0h1v8.4h-1zM145 127.0h1v8.7h-1zM114 136.1h1v8.7h-1zM86 145.2h1v8.7h-1zM141 172.4h1v8.7h-1zM148 172.4h1v8.7h-1zM3 181.5h1v8.7h-1zM144 199.7h1v8.7h-1zM152 199.7h1v8.7h-1zM14 272.3h1v8.7h-1zM63 272.3h1v8.7h-1zM30 290.5h1v8.7h-1zM48 290.5h1v8.7h-1zM50 290.5h1v8.7h-1zM11 299.6h1v8.7h-1zM21 299.6h2v8.7h-2zM33 299.6h2v8.7h-2zM53 317.8h1v8.7h-1zM21 326.8h2v8.7h-2zM110 326.8h1v8.7h-1zM129 326.8h1v8.7h-1zM49 335.9h1v8.7h-1zM57 335.9h2v8.7h-2zM127 335.9h2v8.7h-2zM101 477.2h1v8.5h-1z"/>
<path fill="#6678ba" d="M16 95.6h1v8.4h-1zM37 95.6h1v8.4h-1zM31 104.8h1v8.4h-1zM41 114.0h1v8.4h-1zM127 114.0h1v8.4h-1zM53 127.0h1v8.7h-1zM173 136.1h1v8.7h-1zM158 145.2h2v8.7h-2zM73 154.2h2v8.7h-2zM54 199.7h1v8.7h-1zM48 208.8h1v8.7h-1zM171 245.1h1v8.7h-1zM5 272.3h1v8.7h-1zM27 272.3h1v8.7h-1zM68 290.5h1v8.7h-1zM105 290.5h1v8.7h-1zM27 299.6h1v8.7h-1zM122 317.8h1v8.7h-1zM126 317.8h1v8.7h-1zM89 326.8h1v8.7h-1zM153 360.9h1v8.5h-1zM149 387.8h1v8.5h-1zM7 396.7h4v8.5h-4zM35 396.7h1v8.5h-1zM65 396.7h1v8.5h-1zM38 414.6h1v8.5h-1zM108 414.6h1v8.5h-1zM160 423.5h1v8.5h-1zM28 432.5h3v8.5h-3zM86 450.3h2v8.5h-2zM144 450.3h1v8.5h-1zM63 459.3h1v8.5h-1zM84 459.3h2v8.5h-2zM114 468.2h1v8.5h-1zM136 468.2h3v8.5h-3zM90 477.2h1v8.5h-1z"/>
<path fill="#6078ba" d="M17 95.6h1v8.4h-1zM59 104.8h1v8.4h-1zM152 114.0h2v8.4h-2zM54 181.5h1v8.7h-1zM164 199.7h1v8.7h-1zM27 208.8h1v8.7h-1zM147 272.3h2v8.7h-2zM11 281.4h1v8.7h-1zM36 290.5h1v8.7h-1zM57 317.8h1v8.7h-1zM91 317.8h1v8.7h-1zM26 335.9h1v8.7h-1zM86 335.9h1v8.7h-1zM4 360.9h1v8.5h-1zM53 369.9h1v8.5h-1zM64 387.8h1v8.5h-1zM101 387.8h1v8.5h-1zM107 387.8h1v8.5h-1zM19 396.7h1v8.5h-1zM98 432.5h1v8.5h-1zM43 468.2h1v8.5h-1z"/>
<path fill="#788ac6" d="M18 95.6h1v8.4h-1zM26 104.8h2v8.4h-2zM52 104.8h2v8.4h-2zM107 127.0h1v8.7h-1zM68 172.4h1v8.7h-1zM154 181.5h1v8.7h-1zM167 281.4h2v8.7h-2zM38 290.5h1v8.7h-1zM88 299.6h2v8.7h-2zM21 317.8h1v8.7h-1zM29 414.6h1v8.5h-1zM112 423.5h1v8.5h-1zM31 432.5h1v8.5h-1zM127 432.5h1v8.5h-1zM95 450.3h1v8.5h-1z"/>
<path fill="#788ac0" d="M20 95.6h1v8.4h-1zM44 95.6h1v8.4h-1zM40 104.8h1v8.4h-1zM0 114.0h1v8.4h-1zM50 127.0h1v8.7h-1zM96 127.0h1v8.7h-1zM174 127.0h1v8.7h-1zM2 145.2h1v8.7h-1zM20 154.2h1v8.7h-1zM139 154.2h1v8.7h-1zM173 154.2h1v8.7h-1zM178 154.2h2v8.7h-2zM97 163.3h1v8.7h-1zM100 163.3h1v8.7h-1zM67 172.4h1v8.7h-1zM8 181.5h1v8.7h-1zM33 208.8h1v8.7h-1zM68 208.8h2v8.7h-2zM144 208.8h1v8.7h-1zM85 245.1h1v8.7h-1zM22 263.2h1v8.7h-1zM26 281.4h1v8.7h-1zM37 290.5h1v8.7h-1zM64 290.5h2v8.7h-2zM40 299.6h1v8.7h-1zM127 299.6h1v8.7h-1zM21 308.7h1v8.7h-1zM36 317.8h1v8.7h-1zM75 326.8h1v8.7h-1zM120 335.9h2v8.7h-2zM178 335.9h1v8.7h-1zM15 352.0h1v8.5h-1zM108 360.9h1v8.5h-1zM4 369.9h1v8.5h-1zM33 369.9h1v8.5h-1zM64 369.9h1v8.5h-1zM176 369.9h1v8.5h-1zM77 378.8h1v8.5h-1zM91 378.8h1v8.5h-1zM46 387.8h1v8.5h-1zM145 405.6h1v8.5h-1zM158 414.6h1v8.5h-1zM71 423.5h1v8.5h-1zM71 432.5h1v8.5h-1zM66 441.4h1v8.5h-1zM122 441.4h1v8.5h-1zM143 441.4h1v8.5h-1zM173 450.3h1v8.5h-1zM178 450.3h1v8.5h-1zM28 459.3h1v8.5h-1zM92 477.2h1v8.5h-1zM160 477.2h2v8.5h-2z"/>
<path fill="#4e66ae" d="M22 95.6h1v8.4h-1zM54 95.6h1v8.4h-1zM97 104.8h1v8.4h-1zM117 104.8h1v8.4h-1zM6 114.0h1v8.4h-1zM54 114.0h1v8.4h-1zM179 114.0h3v8.4h-3zM66 136.1h1v8.7h-1zM180 145.2h1v8.7h-1zM68 154.2h1v8.7h-1zM92 172.4h1v8.7h-1zM97 172.4h1v8.7h-1zM119 172.4h3v8.7h-3zM19 245.1h1v8.7h-1zM9 272.3h2v8.7h-2zM25 281.4h1v8.7h-1zM166 281.4h1v8.7h-1zM31 290.5h1v8.7h-1zM40 290.5h1v8.7h-1zM46 290.5h1v8.7h-1zM160 290.5h1v8.7h-1zM10 299.6h1v8.7h-1zM92 308.7h1v8.7h-1zM92 317.8h1v8.7h-1zM86 326.8h1v8.7h-1zM73 352.0h3v8.5h-3zM174 387.8h1v8.5h-1zM0 405.6h1v8.5h-1zM3 414.6h1v8.5h-1zM148 414.6h1v8.5h-1zM152 414.6h1v8.5h-1zM103 423.5h1v8.5h-1zM7 432.5h1v8.5h-1zM48 432.5h1v8.5h-1zM164 432.5h1v8.5h-1zM160 450.3h1v8.5h-1zM54 459.3h1v8.5h-1zM72 459.3h1v8.5h-1zM22 468.2h1v8.5h-1zM13 477.2h1v8.5h-1zM49 477.2h1v8.5h-1z"/>
<path fill="#425aa8" d="M24 95.6h1v8.4h-1zM1 104.8h1v8.4h-1zM69 104.8h2v8.4h-2zM175 104.8h1v8.4h-1zM162 114.0h1v8.4h-1zM100 127.0h1v8.7h-1zM108 127.0h2v8.7h-2zM72 136.1h1v8.7h-1zM109 136.1h1v8.7h-1zM113 136.1h1v8.7h-1zM139 136.1h1v8.7h-1zM166 154.2h1v8.7h-1zM23 199.7h1v8.7h-1zM25 199.7h1v8.7h-1zM149 245.1h1v8.7h-1zM112 254.2h2v8.7h-2zM7 263.2h1v8.7h-1zM168 272.3h1v8.7h-1zM62 281.4h1v8.7h-1zM132 281.4h1v8.7h-1zM0 299.6h2v8.7h-2zM31 299.6h1v8.7h-1zM77 326.8h1v8.7h-1zM81 326.8h1v8.7h-1zM45 352.0h1v8.5h-1zM174 352.0h1v8.5h-1zM8 360.9h1v8.5h-1zM100 369.9h1v8.5h-1zM139 387.8h1v8.5h-1zM22 405.6h2v8.5h-2zM127 414.6h1v8.5h-1zM162 450.3h1v8.5h-1zM34 477.2h1v8.5h-1zM51 477.2h1v8.5h-1zM164 477.2h1v8.5h-1z"/>
<path fill="#d2d8ea" d="M28 95.6h1v8.4h-1zM50 95.6h1v8.4h-1zM117 95.6h1v8.4h-1zM140 95.6h1v8.4h-1zM154 95.6h1v8.4h-1zM60 104.8h2v8.4h-2zM28 114.0h1v8.4h-1zM48 114.0h1v8.4h-1zM160 114.0h1v8.4h-1zM60 127.0h1v8.7h-1zM14 136.1h1v8.7h-1zM57 136.1h1v8.7h-1zM67 136.1h1v8.7h-1zM121 136.1h1v8.7h-1zM157 136.1h2v8.7h-2zM110 145.2h2v8.7h-2zM138 145.2h1v8.7h-1zM82 154.2h1v8.7h-1zM111 154.2h1v8.7h-1zM137 154.2h1v8.7h-1zM158 154.2h2v8.7h-2zM177 154.2h1v8.7h-1zM92 163.3h1v8.7h-1zM105 163.3h1v8.7h-1zM149 163.3h1v8.7h-1zM163 163.3h1v8.7h-1zM101 172.4h1v8.7h-1zM126 172.4h1v8.7h-1zM131 172.4h1v8.7h-1zM157 172.4h1v8.7h-1zM61 181.5h1v8.7h-1zM85 181.5h1v8.7h-1zM104 181.5h1v8.7h-1zM111 181.5h1v8.7h-1zM124 181.5h2v8.7h-2zM170 181.5h1v8.7h-1zM173 181.5h1v8.7h-1zM1 190.6h1v8.7h-1zM15 190.6h1v8.7h-1zM24 190.6h1v8.7h-1zM28 190.6h1v8.7h-1zM32 190.6h1v8.7h-1zM38 190.6h1v8.7h-1zM42 190.6h1v8.7h-1zM46 190.6h1v8.7h-1zM51 190.6h1v8.7h-1zM58 190.6h1v8.7h-1zM81 190.6h2v8.7h-2zM85 190.6h1v8.7h-1zM92 190.6h2v8.7h-2zM101 190.6h1v8.7h-1zM109 190.6h1v8.7h-1zM116 190.6h1v8.7h-1zM128 190.6h1v8.7h-1zM133 190.6h1v8.7h-1zM137 190.6h1v8.7h-1zM141 190.6h1v8.7h-1zM156 190.6h2v8.7h-2zM172 190.6h2v8.7h-2zM177 190.6h2v8.7h-2zM39 199.7h1v8.7h-1zM58 199.7h1v8.7h-1zM160 199.7h1v8.7h-1zM163 199.7h1v8.7h-1zM26 208.8h1v8.7h-1zM32 208.8h1v8.7h-1zM150 208.8h1v8.7h-1zM176 208.8h1v8.7h-1zM1 217.8h1v8.7h-1zM11 217.8h2v8.7h-2zM16 217.8h1v8.7h-1zM52 217.8h1v8.7h-1zM99 217.8h2v8.7h-2zM102 217.8h2v8.7h-2zM110 217.8h1v8.7h-1zM116 217.8h1v8.7h-1zM120 217.8h1v8.7h-1zM125 217.8h1v8.7h-1zM136 217.8h1v8.7h-1zM139 217.8h1v8.7h-1zM143 217.8h1v8.7h-1zM151 217.8h2v8.7h-2zM154 217.8h1v8.7h-1zM157 217.8h1v8.7h-1zM166 217.8h2v8.7h-2zM11 226.9h3v8.7h-3zM22 226.9h2v8.7h-2zM46 226.9h1v8.7h-1zM62 226.9h1v8.7h-1zM65 226.9h1v8.7h-1zM68 226.9h1v8.7h-1zM80 226.9h1v8.7h-1zM82 226.9h2v8.7h-2zM97 226.9h1v8.7h-1zM107 226.9h1v8.7h-1zM117 226.9h1v8.7h-1zM136 226.9h1v8.7h-1zM143 226.9h1v8.7h-1zM147 226.9h1v8.7h-1zM170 226.9h1v8.7h-1zM175 226.9h1v8.7h-1zM4 236.0h1v8.7h-1zM14 236.0h1v8.7h-1zM18 236.0h1v8.7h-1zM20 236.0h1v8.7h-1zM22 236.0h4v8.7h-4zM30 236.0h1v8.7h-1zM33 236.0h1v8.7h-1zM46 236.0h2v8.7h-2zM64 236.0h1v8.7h-1zM69 236.0h1v8.7h-1zM75 236.0h1v8.7h-1zM86 236.0h1v8.7h-1zM96 236.0h1v8.7h-1zM99 236.0h3v8.7h-3zM111 236.0h1v8.7h-1zM114 236.0h1v8.7h-1zM123 236.0h3v8.7h-3zM128 236.0h2v8.7h-2zM136 236.0h1v8.7h-1zM138 236.0h1v8.7h-1zM142 236.0h1v8.7h-1zM147 236.0h2v8.7h-2zM150 236.0h2v8.7h-2zM158 236.0h1v8.7h-1zM181 236.0h1v8.7h-1zM14 245.1h1v8.7h-1zM23 245.1h1v8.7h-1zM30 245.1h3v8.7h-3zM44 245.1h1v8.7h-1zM62 245.1h1v8.7h-1zM67 245.1h1v8.7h-1zM159 245.1h1v8.7h-1zM9 254.2h1v8.7h-1zM16 254.2h1v8.7h-1zM34 254.2h4v8.7h-4zM39 254.2h1v8.7h-1zM44 254.2h1v8.7h-1zM53 254.2h1v8.7h-1zM57 254.2h1v8.7h-1zM62 254.2h2v8.7h-2zM68 254.2h1v8.7h-1zM124 254.2h1v8.7h-1zM127 254.2h2v8.7h-2zM132 254.2h1v8.7h-1zM141 254.2h1v8.7h-1zM143 254.2h1v8.7h-1zM147 254.2h2v8.7h-2zM152 254.2h1v8.7h-1zM166 254.2h2v8.7h-2zM170 254.2h1v8.7h-1zM178 254.2h1v8.7h-1zM182 254.2h1v8.7h-1zM21 263.2h1v8.7h-1zM127 263.2h1v8.7h-1zM33 272.3h1v8.7h-1zM52 272.3h1v8.7h-1zM45 281.4h1v8.7h-1zM25 290.5h1v8.7h-1zM47 290.5h1v8.7h-1zM165 290.5h2v8.7h-2zM97 299.6h1v8.7h-1zM19 308.7h2v8.7h-2zM31 308.7h1v8.7h-1zM33 308.7h1v8.7h-1zM37 308.7h2v8.7h-2zM46 308.7h4v8.7h-4zM52 308.7h2v8.7h-2zM56 308.7h1v8.7h-1zM60 308.7h2v8.7h-2zM64 308.7h1v8.7h-1zM155 308.7h1v8.7h-1zM6 317.8h1v8.7h-1zM14 317.8h1v8.7h-1zM40 317.8h1v8.7h-1zM49 317.8h1v8.7h-1zM71 317.8h1v8.7h-1zM75 317.8h2v8.7h-2zM80 326.8h1v8.7h-1zM18 335.9h1v8.7h-1zM37 335.9h2v8.7h-2zM59 335.9h1v8.7h-1zM174 335.9h1v8.7h-1zM6 352.0h1v8.5h-1zM29 352.0h1v8.5h-1zM161 352.0h1v8.5h-1zM28 360.9h1v8.5h-1zM85 360.9h1v8.5h-1zM8 369.9h1v8.5h-1zM54 369.9h1v8.5h-1zM103 369.9h1v8.5h-1zM123 369.9h1v8.5h-1zM28 378.8h1v8.5h-1zM41 378.8h2v8.5h-2zM45 378.8h1v8.5h-1zM57 378.8h2v8.5h-2zM102 378.8h2v8.5h-2zM5 387.8h1v8.5h-1zM52 387.8h1v8.5h-1zM86 387.8h1v8.5h-1zM180 387.8h1v8.5h-1zM6 396.7h1v8.5h-1zM14 396.7h1v8.5h-1zM55 396.7h1v8.5h-1zM168 396.7h2v8.5h-2zM11 405.6h1v8.5h-1zM16 405.6h1v8.5h-1zM29 405.6h1v8.5h-1zM60 414.6h1v8.5h-1zM133 414.6h1v8.5h-1zM87 423.5h1v8.5h-1zM132 423.5h1v8.5h-1zM180 423.5h1v8.5h-1zM4 432.5h1v8.5h-1zM79 432.5h1v8.5h-1zM92 432.5h1v8.5h-1zM160 432.5h1v8.5h-1zM74 441.4h1v8.5h-1zM83 441.4h2v8.5h-2zM89 441.4h3v8.5h-3zM141 441.4h1v8.5h-1zM175 441.4h2v8.5h-2zM0 450.3h1v8.5h-1zM93 450.3h1v8.5h-1zM135 450.3h2v8.5h-2zM166 450.3h1v8.5h-1zM148 459.3h2v8.5h-2zM181 459.3h1v8.5h-1zM27 468.2h1v8.5h-1zM125 468.2h1v8.5h-1zM150 468.2h1v8.5h-1zM159 468.2h1v8.5h-1zM45 477.2h1v8.5h-1z"/>
<path fill="#ccd2e4" d="M31 95.6h1v8.4h-1zM63 114.0h2v8.4h-2zM32 154.2h1v8.7h-1zM102 172.4h1v8.7h-1zM174 172.4h1v8.7h-1zM174 181.5h1v8.7h-1zM75 190.6h2v8.7h-2zM160 190.6h1v8.7h-1zM51 199.7h1v8.7h-1zM57 199.7h1v8.7h-1zM153 208.8h1v8.7h-1zM172 208.8h1v8.7h-1zM95 217.8h2v8.7h-2zM141 217.8h1v8.7h-1zM173 217.8h1v8.7h-1zM17 226.9h1v8.7h-1zM28 226.9h1v8.7h-1zM53 226.9h1v8.7h-1zM71 226.9h1v8.7h-1zM122 226.9h1v8.7h-1zM49 236.0h1v8.7h-1zM68 236.0h1v8.7h-1zM80 236.0h1v8.7h-1zM83 236.0h1v8.7h-1zM122 236.0h1v8.7h-1zM178 236.0h2v8.7h-2zM38 245.1h3v8.7h-3zM68 245.1h1v8.7h-1zM166 245.1h1v8.7h-1zM19 254.2h1v8.7h-1zM46 254.2h1v8.7h-1zM117 254.2h2v8.7h-2zM133 254.2h1v8.7h-1zM6 272.3h2v8.7h-2zM51 281.4h2v8.7h-2zM100 290.5h3v8.7h-3zM57 360.9h1v8.5h-1z"/>
<path fill="#667eba" d="M32 95.6h1v8.4h-1zM23 104.8h1v8.4h-1zM165 136.1h3v8.7h-3zM95 145.2h1v8.7h-1zM108 172.4h1v8.7h-1zM24 199.7h1v8.7h-1zM28 199.7h2v8.7h-2zM142 208.8h1v8.7h-1zM38 263.2h1v8.7h-1zM42 263.2h2v8.7h-2zM11 290.5h1v8.7h-1zM28 317.8h1v8.7h-1zM62 317.8h1v8.7h-1zM81 317.8h3v8.7h-3zM121 317.8h1v8.7h-1zM95 326.8h1v8.7h-1zM104 326.8h1v8.7h-1zM94 378.8h3v8.5h-3zM28 396.7h1v8.5h-1zM60 396.7h2v8.5h-2zM113 396.7h1v8.5h-1zM164 396.7h2v8.5h-2zM105 414.6h1v8.5h-1z"/>
<path fill="#4860ae" d="M33 95.6h1v8.4h-1zM157 95.6h2v8.4h-2zM41 104.8h1v8.4h-1zM67 127.0h1v8.7h-1zM159 136.1h3v8.7h-3zM84 145.2h1v8.7h-1zM45 154.2h1v8.7h-1zM113 154.2h1v8.7h-1zM129 154.2h1v8.7h-1zM151 154.2h1v8.7h-1zM24 172.4h1v8.7h-1zM94 172.4h1v8.7h-1zM56 199.7h1v8.7h-1zM23 208.8h2v8.7h-2zM47 208.8h1v8.7h-1zM156 208.8h1v8.7h-1zM125 245.1h2v8.7h-2zM138 245.1h1v8.7h-1zM46 263.2h1v8.7h-1zM138 263.2h1v8.7h-1zM175 263.2h1v8.7h-1zM62 299.6h1v8.7h-1zM177 299.6h1v8.7h-1zM6 308.7h2v8.7h-2zM45 317.8h2v8.7h-2zM124 317.8h2v8.7h-2zM105 326.8h1v8.7h-1zM122 326.8h1v8.7h-1zM48 335.9h1v8.7h-1zM83 335.9h1v8.7h-1zM166 335.9h1v8.7h-1zM69 352.0h1v8.5h-1zM99 352.0h1v8.5h-1zM135 352.0h1v8.5h-1zM166 352.0h1v8.5h-1zM175 352.0h2v8.5h-2zM130 360.9h1v8.5h-1zM71 369.9h1v8.5h-1zM127 369.9h1v8.5h-1zM147 369.9h1v8.5h-1zM60 387.8h1v8.5h-1zM154 405.6h1v8.5h-1zM117 414.6h1v8.5h-1zM130 414.6h1v8.5h-1zM66 423.5h3v8.5h-3zM88 423.5h3v8.5h-3zM126 423.5h1v8.5h-1zM15 432.5h1v8.5h-1zM113 441.4h1v8.5h-1zM156 441.4h1v8.5h-1zM83 450.3h2v8.5h-2zM146 450.3h1v8.5h-1zM180 450.3h1v8.5h-1zM41 459.3h1v8.5h-1zM165 468.2h1v8.5h-1zM175 468.2h1v8.5h-1z"/>
<path fill="#dee4f0" d="M34 95.6h1v8.4h-1zM180 95.6h1v8.4h-1zM66 104.8h2v8.4h-2zM66 114.0h2v8.4h-2zM76 127.0h1v8.7h-1zM112 136.1h1v8.7h-1zM152 145.2h2v8.7h-2zM89 154.2h1v8.7h-1zM132 154.2h1v8.7h-1zM170 154.2h1v8.7h-1zM182 154.2h1v8.7h-1zM95 163.3h1v8.7h-1zM123 163.3h1v8.7h-1zM180 163.3h3v8.7h-3zM78 172.4h1v8.7h-1zM83 172.4h2v8.7h-2zM130 172.4h1v8.7h-1zM132 172.4h1v8.7h-1zM52 181.5h1v8.7h-1zM68 181.5h1v8.7h-1zM76 181.5h2v8.7h-2zM115 181.5h1v8.7h-1zM120 181.5h2v8.7h-2zM132 181.5h1v8.7h-1zM140 181.5h1v8.7h-1zM167 181.5h1v8.7h-1zM179 181.5h1v8.7h-1zM2 190.6h1v8.7h-1zM132 199.7h1v8.7h-1zM160 208.8h1v8.7h-1zM167 208.8h2v8.7h-2zM177 208.8h1v8.7h-1zM53 217.8h2v8.7h-2zM101 217.8h1v8.7h-1zM20 226.9h1v8.7h-1zM110 226.9h1v8.7h-1zM149 226.9h1v8.7h-1zM42 236.0h1v8.7h-1zM37 245.1h1v8.7h-1zM129 263.2h1v8.7h-1zM140 263.2h1v8.7h-1zM159 263.2h1v8.7h-1zM24 281.4h1v8.7h-1zM38 281.4h1v8.7h-1zM70 281.4h1v8.7h-1zM149 281.4h1v8.7h-1zM155 281.4h1v8.7h-1zM14 290.5h1v8.7h-1zM171 290.5h1v8.7h-1zM107 308.7h1v8.7h-1zM172 308.7h2v8.7h-2zM181 308.7h1v8.7h-1zM0 317.8h2v8.7h-2zM5 317.8h1v8.7h-1zM34 317.8h2v8.7h-2zM47 317.8h2v8.7h-2zM63 317.8h1v8.7h-1zM70 317.8h1v8.7h-1zM97 317.8h1v8.7h-1zM112 317.8h1v8.7h-1zM172 317.8h1v8.7h-1zM88 335.9h1v8.7h-1zM165 335.9h1v8.7h-1zM167 335.9h2v8.7h-2zM182 352.0h1v8.5h-1zM0 360.9h1v8.5h-1zM101 360.9h1v8.5h-1zM104 360.9h1v8.5h-1zM152 360.9h1v8.5h-1zM135 369.9h2v8.5h-2zM88 378.8h1v8.5h-1zM123 378.8h2v8.5h-2zM142 378.8h1v8.5h-1zM123 387.8h1v8.5h-1zM147 387.8h1v8.5h-1zM143 396.7h1v8.5h-1zM166 396.7h1v8.5h-1zM170 396.7h1v8.5h-1zM106 414.6h1v8.5h-1zM154 414.6h1v8.5h-1zM159 414.6h1v8.5h-1zM129 423.5h1v8.5h-1zM14 432.5h1v8.5h-1zM101 432.5h1v8.5h-1zM108 432.5h1v8.5h-1zM162 432.5h1v8.5h-1zM168 432.5h1v8.5h-1zM118 441.4h1v8.5h-1zM158 441.4h1v8.5h-1zM173 441.4h1v8.5h-1zM8 450.3h1v8.5h-1zM63 450.3h1v8.5h-1zM17 459.3h1v8.5h-1zM20 468.2h2v8.5h-2zM42 468.2h1v8.5h-1zM153 468.2h1v8.5h-1zM46 477.2h1v8.5h-1zM58 477.2h1v8.5h-1zM125 477.2h1v8.5h-1zM140 477.2h1v8.5h-1z"/>
<path fill="#8a96c6" d="M35 95.6h1v8.4h-1zM166 432.5h1v8.5h-1z"/>
<path fill="#ccd2ea" d="M38 95.6h1v8.4h-1zM59 95.6h1v8.4h-1zM24 104.8h1v8.4h-1zM106 104.8h1v8.4h-1zM114 104.8h1v8.4h-1zM75 127.0h1v8.7h-1zM116 127.0h1v8.7h-1zM61 136.1h2v8.7h-2zM54 145.2h1v8.7h-1zM155 172.4h2v8.7h-2zM160 172.4h1v8.7h-1zM46 181.5h1v8.7h-1zM182 181.5h1v8.7h-1zM14 190.6h1v8.7h-1zM34 190.6h3v8.7h-3zM39 190.6h3v8.7h-3zM48 190.6h1v8.7h-1zM50 190.6h1v8.7h-1zM52 190.6h3v8.7h-3zM56 190.6h2v8.7h-2zM65 190.6h2v8.7h-2zM68 190.6h1v8.7h-1zM70 190.6h1v8.7h-1zM77 190.6h1v8.7h-1zM88 190.6h2v8.7h-2zM91 190.6h1v8.7h-1zM100 190.6h1v8.7h-1zM104 190.6h1v8.7h-1zM106 190.6h2v8.7h-2zM117 190.6h3v8.7h-3zM122 190.6h1v8.7h-1zM131 190.6h2v8.7h-2zM147 190.6h1v8.7h-1zM151 190.6h2v8.7h-2zM164 190.6h3v8.7h-3zM35 199.7h3v8.7h-3zM45 199.7h1v8.7h-1zM92 199.7h1v8.7h-1zM139 199.7h1v8.7h-1zM28 208.8h1v8.7h-1zM35 208.8h1v8.7h-1zM151 208.8h1v8.7h-1zM165 208.8h2v8.7h-2zM0 217.8h1v8.7h-1zM2 217.8h2v8.7h-2zM8 217.8h2v8.7h-2zM13 217.8h1v8.7h-1zM33 217.8h1v8.7h-1zM35 217.8h1v8.7h-1zM41 217.8h3v8.7h-3zM46 217.8h1v8.7h-1zM50 217.8h1v8.7h-1zM60 217.8h1v8.7h-1zM64 217.8h1v8.7h-1zM67 217.8h3v8.7h-3zM76 217.8h1v8.7h-1zM79 217.8h2v8.7h-2zM85 217.8h1v8.7h-1zM107 217.8h1v8.7h-1zM112 217.8h1v8.7h-1zM117 217.8h1v8.7h-1zM129 217.8h1v8.7h-1zM138 217.8h1v8.7h-1zM142 217.8h1v8.7h-1zM144 217.8h1v8.7h-1zM147 217.8h1v8.7h-1zM168 217.8h1v8.7h-1zM171 217.8h2v8.7h-2zM181 217.8h1v8.7h-1zM3 226.9h1v8.7h-1zM8 226.9h1v8.7h-1zM10 226.9h1v8.7h-1zM16 226.9h1v8.7h-1zM31 226.9h1v8.7h-1zM34 226.9h1v8.7h-1zM36 226.9h2v8.7h-2zM40 226.9h3v8.7h-3zM44 226.9h1v8.7h-1zM56 226.9h1v8.7h-1zM61 226.9h1v8.7h-1zM92 226.9h1v8.7h-1zM98 226.9h3v8.7h-3zM111 226.9h4v8.7h-4zM118 226.9h2v8.7h-2zM123 226.9h1v8.7h-1zM126 226.9h1v8.7h-1zM131 226.9h3v8.7h-3zM137 226.9h2v8.7h-2zM161 226.9h2v8.7h-2zM171 226.9h2v8.7h-2zM178 226.9h1v8.7h-1zM182 226.9h1v8.7h-1zM8 236.0h2v8.7h-2zM28 236.0h1v8.7h-1zM31 236.0h1v8.7h-1zM35 236.0h1v8.7h-1zM43 236.0h1v8.7h-1zM45 236.0h1v8.7h-1zM50 236.0h2v8.7h-2zM53 236.0h2v8.7h-2zM56 236.0h1v8.7h-1zM58 236.0h1v8.7h-1zM65 236.0h1v8.7h-1zM90 236.0h1v8.7h-1zM104 236.0h1v8.7h-1zM106 236.0h3v8.7h-3zM130 236.0h2v8.7h-2zM134 236.0h1v8.7h-1zM141 236.0h1v8.7h-1zM164 236.0h1v8.7h-1zM170 236.0h1v8.7h-1zM173 236.0h1v8.7h-1zM175 236.0h1v8.7h-1zM5 245.1h1v8.7h-1zM26 245.1h2v8.7h-2zM33 245.1h2v8.7h-2zM42 245.1h1v8.7h-1zM50 245.1h1v8.7h-1zM52 245.1h1v8.7h-1zM57 245.1h2v8.7h-2zM129 245.1h1v8.7h-1zM151 245.1h1v8.7h-1zM0 254.2h1v8.7h-1zM2 254.2h3v8.7h-3zM10 254.2h4v8.7h-4zM17 254.2h2v8.7h-2zM20 254.2h1v8.7h-1zM25 254.2h2v8.7h-2zM33 254.2h1v8.7h-1zM41 254.2h1v8.7h-1zM43 254.2h1v8.7h-1zM45 254.2h1v8.7h-1zM50 254.2h3v8.7h-3zM119 254.2h2v8.7h-2zM130 254.2h1v8.7h-1zM139 254.2h2v8.7h-2zM142 254.2h1v8.7h-1zM155 254.2h3v8.7h-3zM163 254.2h2v8.7h-2zM169 254.2h1v8.7h-1zM173 254.2h1v8.7h-1zM179 254.2h1v8.7h-1zM9 263.2h1v8.7h-1zM68 263.2h1v8.7h-1zM130 263.2h1v8.7h-1zM152 263.2h1v8.7h-1zM41 272.3h1v8.7h-1zM46 272.3h1v8.7h-1zM150 272.3h1v8.7h-1zM172 272.3h2v8.7h-2zM55 281.4h1v8.7h-1zM34 290.5h1v8.7h-1zM52 290.5h1v8.7h-1zM2 299.6h1v8.7h-1zM25 299.6h1v8.7h-1zM28 308.7h1v8.7h-1zM32 308.7h1v8.7h-1zM34 308.7h1v8.7h-1zM45 308.7h1v8.7h-1zM51 308.7h1v8.7h-1zM55 308.7h1v8.7h-1zM57 308.7h1v8.7h-1zM59 308.7h1v8.7h-1zM66 308.7h3v8.7h-3zM151 308.7h1v8.7h-1zM157 308.7h1v8.7h-1zM3 317.8h1v8.7h-1zM15 317.8h1v8.7h-1zM50 317.8h1v8.7h-1zM120 317.8h1v8.7h-1zM65 326.8h1v8.7h-1zM115 326.8h1v8.7h-1zM119 326.8h2v8.7h-2zM21 335.9h1v8.7h-1zM68 335.9h1v8.7h-1zM85 335.9h1v8.7h-1zM125 335.9h1v8.7h-1zM169 335.9h1v8.7h-1zM180 335.9h1v8.7h-1zM36 352.0h1v8.5h-1zM49 360.9h1v8.5h-1zM7 369.9h1v8.5h-1zM36 369.9h1v8.5h-1zM79 369.9h1v8.5h-1zM151 369.9h1v8.5h-1zM37 378.8h1v8.5h-1zM69 378.8h1v8.5h-1zM90 378.8h1v8.5h-1zM101 378.8h1v8.5h-1zM138 378.8h1v8.5h-1zM62 387.8h1v8.5h-1zM76 387.8h1v8.5h-1zM37 396.7h1v8.5h-1zM39 396.7h1v8.5h-1zM30 405.6h1v8.5h-1zM46 432.5h1v8.5h-1zM100 441.4h1v8.5h-1zM126 441.4h1v8.5h-1zM182 441.4h1v8.5h-1zM98 450.3h2v8.5h-2zM127 450.3h1v8.5h-1zM179 450.3h1v8.5h-1zM73 459.3h1v8.5h-1zM9 468.2h1v8.5h-1zM25 477.2h1v8.5h-1z"/>
<path fill="#8a9ccc" d="M39 95.6h1v8.4h-1zM113 104.8h1v8.4h-1zM153 163.3h1v8.7h-1zM67 199.7h2v8.7h-2zM179 199.7h1v8.7h-1zM16 290.5h1v8.7h-1zM35 299.6h2v8.7h-2zM66 299.6h1v8.7h-1zM72 299.6h1v8.7h-1zM91 308.7h1v8.7h-1zM182 308.7h1v8.7h-1zM63 326.8h1v8.7h-1zM68 326.8h1v8.7h-1zM103 326.8h1v8.7h-1zM122 335.9h1v8.7h-1zM18 387.8h1v8.5h-1zM20 396.7h1v8.5h-1zM33 396.7h1v8.5h-1zM59 405.6h1v8.5h-1zM34 423.5h1v8.5h-1zM45 459.3h1v8.5h-1z"/>
<path fill="#364ea2" d="M43 95.6h1v8.4h-1zM43 104.8h1v8.4h-1zM157 114.0h1v8.4h-1zM56 136.1h1v8.7h-1zM69 163.3h1v8.7h-1zM122 263.2h1v8.7h-1zM148 281.4h1v8.7h-1zM19 290.5h1v8.7h-1zM178 290.5h1v8.7h-1zM76 326.8h1v8.7h-1zM106 326.8h1v8.7h-1zM42 335.9h1v8.7h-1zM34 352.0h1v8.5h-1zM81 352.0h1v8.5h-1zM167 369.9h1v8.5h-1zM106 378.8h1v8.5h-1zM46 405.6h1v8.5h-1zM68 405.6h1v8.5h-1zM169 423.5h1v8.5h-1zM65 468.2h1v8.5h-1zM55 477.2h1v8.5h-1z"/>
<path fill="#7284c0" d="M45 95.6h1v8.4h-1zM135 95.6h1v8.4h-1zM147 95.6h1v8.4h-1zM0 104.8h1v8.4h-1zM35 104.8h1v8.4h-1zM45 114.0h1v8.4h-1zM124 127.0h1v8.7h-1zM130 136.1h1v8.7h-1zM81 145.2h1v8.7h-1zM78 154.2h1v8.7h-1zM94 154.2h1v8.7h-1zM111 163.3h1v8.7h-1zM113 172.4h1v8.7h-1zM164 172.4h1v8.7h-1zM66 199.7h1v8.7h-1zM182 199.7h1v8.7h-1zM39 208.8h1v8.7h-1zM84 254.2h1v8.7h-1zM40 263.2h1v8.7h-1zM179 263.2h1v8.7h-1zM47 272.3h1v8.7h-1zM44 290.5h2v8.7h-2zM87 290.5h2v8.7h-2zM28 299.6h1v8.7h-1zM135 335.9h1v8.7h-1zM61 360.9h2v8.5h-2zM83 369.9h1v8.5h-1zM44 378.8h1v8.5h-1zM63 378.8h1v8.5h-1zM108 378.8h1v8.5h-1zM0 396.7h1v8.5h-1zM87 414.6h1v8.5h-1zM147 414.6h1v8.5h-1zM150 414.6h1v8.5h-1zM47 432.5h1v8.5h-1zM163 432.5h1v8.5h-1zM35 450.3h1v8.5h-1zM129 450.3h1v8.5h-1zM31 468.2h1v8.5h-1zM77 468.2h1v8.5h-1z"/>
<path fill="#f0f0f6" d="M48 95.6h1v8.4h-1zM153 95.6h1v8.4h-1zM25 104.8h1v8.4h-1zM56 104.8h1v8.4h-1zM24 114.0h1v8.4h-1zM72 114.0h1v8.4h-1zM72 127.0h1v8.7h-1zM162 136.1h2v8.7h-2zM102 154.2h1v8.7h-1zM126 154.2h1v8.7h-1zM51 163.3h1v8.7h-1zM115 163.3h1v8.7h-1zM125 163.3h3v8.7h-3zM145 163.3h1v8.7h-1zM19 181.5h1v8.7h-1zM93 181.5h1v8.7h-1zM141 181.5h3v8.7h-3zM8 199.7h1v8.7h-1zM16 199.7h1v8.7h-1zM135 199.7h1v8.7h-1zM163 208.8h1v8.7h-1zM173 208.8h1v8.7h-1zM8 245.1h1v8.7h-1zM15 245.1h1v8.7h-1zM116 245.1h3v8.7h-3zM176 245.1h1v8.7h-1zM71 254.2h1v8.7h-1zM11 263.2h1v8.7h-1zM36 263.2h1v8.7h-1zM180 263.2h1v8.7h-1zM51 272.3h1v8.7h-1zM163 272.3h1v8.7h-1zM1 281.4h1v8.7h-1zM35 281.4h1v8.7h-1zM12 290.5h1v8.7h-1zM51 290.5h1v8.7h-1zM69 308.7h1v8.7h-1zM90 326.8h1v8.7h-1zM164 335.9h1v8.7h-1zM20 352.0h1v8.5h-1zM32 352.0h1v8.5h-1zM39 352.0h1v8.5h-1zM85 352.0h3v8.5h-3zM140 352.0h2v8.5h-2zM172 352.0h1v8.5h-1zM50 360.9h1v8.5h-1zM77 360.9h1v8.5h-1zM121 369.9h1v8.5h-1zM130 369.9h1v8.5h-1zM158 369.9h1v8.5h-1zM62 378.8h1v8.5h-1zM16 387.8h1v8.5h-1zM114 387.8h1v8.5h-1zM140 387.8h1v8.5h-1zM182 387.8h1v8.5h-1zM26 405.6h1v8.5h-1zM137 405.6h2v8.5h-2zM141 405.6h1v8.5h-1zM167 405.6h1v8.5h-1zM58 414.6h1v8.5h-1zM69 414.6h1v8.5h-1zM74 414.6h1v8.5h-1zM77 414.6h2v8.5h-2zM95 414.6h1v8.5h-1zM181 414.6h1v8.5h-1zM24 423.5h1v8.5h-1zM80 423.5h1v8.5h-1zM91 423.5h1v8.5h-1zM111 423.5h1v8.5h-1zM2 432.5h1v8.5h-1zM34 432.5h2v8.5h-2zM68 432.5h1v8.5h-1zM146 432.5h1v8.5h-1zM56 441.4h1v8.5h-1zM85 441.4h2v8.5h-2zM128 441.4h1v8.5h-1zM177 441.4h1v8.5h-1zM73 450.3h2v8.5h-2zM96 450.3h1v8.5h-1zM138 450.3h1v8.5h-1zM34 459.3h2v8.5h-2zM59 459.3h1v8.5h-1zM112 459.3h2v8.5h-2zM11 468.2h1v8.5h-1zM94 468.2h1v8.5h-1zM110 468.2h2v8.5h-2zM113 468.2h1v8.5h-1zM120 468.2h1v8.5h-1zM158 468.2h1v8.5h-1zM174 468.2h1v8.5h-1zM9 477.2h1v8.5h-1zM115 477.2h1v8.5h-1zM158 477.2h1v8.5h-1z"/>
<path fill="#fcfcfc" d="M49 95.6h1v8.4h-1zM85 95.6h1v8.4h-1zM136 95.6h1v8.4h-1zM156 95.6h1v8.4h-1zM171 95.6h1v8.4h-1zM173 95.6h1v8.4h-1zM179 95.6h1v8.4h-1zM30 104.8h1v8.4h-1zM84 104.8h1v8.4h-1zM95 104.8h1v8.4h-1zM128 104.8h1v8.4h-1zM130 104.8h1v8.4h-1zM154 104.8h1v8.4h-1zM65 114.0h1v8.4h-1zM68 114.0h1v8.4h-1zM88 114.0h3v8.4h-3zM43 127.0h1v8.7h-1zM49 127.0h1v8.7h-1zM74 127.0h1v8.7h-1zM79 127.0h1v8.7h-1zM132 127.0h1v8.7h-1zM176 127.0h3v8.7h-3zM31 136.1h1v8.7h-1zM40 136.1h1v8.7h-1zM46 136.1h1v8.7h-1zM49 136.1h1v8.7h-1zM65 136.1h1v8.7h-1zM81 136.1h1v8.7h-1zM100 136.1h1v8.7h-1zM126 136.1h3v8.7h-3zM154 136.1h1v8.7h-1zM171 136.1h1v8.7h-1zM180 136.1h1v8.7h-1zM11 145.2h1v8.7h-1zM87 145.2h2v8.7h-2zM137 145.2h1v8.7h-1zM174 145.2h1v8.7h-1zM12 154.2h1v8.7h-1zM25 154.2h1v8.7h-1zM37 154.2h1v8.7h-1zM49 154.2h1v8.7h-1zM65 154.2h1v8.7h-1zM79 154.2h1v8.7h-1zM81 154.2h1v8.7h-1zM87 154.2h1v8.7h-1zM93 154.2h1v8.7h-1zM117 154.2h3v8.7h-3zM124 154.2h1v8.7h-1zM136 154.2h1v8.7h-1zM138 154.2h1v8.7h-1zM141 154.2h1v8.7h-1zM156 154.2h1v8.7h-1zM50 163.3h1v8.7h-1zM60 163.3h1v8.7h-1zM65 163.3h3v8.7h-3zM81 163.3h2v8.7h-2zM136 163.3h2v8.7h-2zM144 163.3h1v8.7h-1zM166 163.3h1v8.7h-1zM13 172.4h1v8.7h-1zM18 172.4h1v8.7h-1zM58 172.4h1v8.7h-1zM107 172.4h1v8.7h-1zM122 172.4h1v8.7h-1zM138 172.4h1v8.7h-1zM4 181.5h1v8.7h-1zM20 181.5h1v8.7h-1zM27 181.5h2v8.7h-2zM48 181.5h1v8.7h-1zM102 181.5h1v8.7h-1zM108 181.5h2v8.7h-2zM151 181.5h2v8.7h-2zM161 199.7h1v8.7h-1zM180 199.7h1v8.7h-1zM8 208.8h1v8.7h-1zM137 208.8h1v8.7h-1zM140 208.8h1v8.7h-1zM158 208.8h2v8.7h-2zM174 208.8h1v8.7h-1zM180 208.8h1v8.7h-1zM21 245.1h1v8.7h-1zM108 245.1h1v8.7h-1zM150 245.1h1v8.7h-1zM155 245.1h2v8.7h-2zM74 254.2h1v8.7h-1zM88 254.2h1v8.7h-1zM10 263.2h1v8.7h-1zM30 263.2h1v8.7h-1zM34 263.2h1v8.7h-1zM52 263.2h1v8.7h-1zM58 263.2h1v8.7h-1zM76 263.2h1v8.7h-1zM104 263.2h1v8.7h-1zM111 263.2h1v8.7h-1zM135 263.2h2v8.7h-2zM146 263.2h1v8.7h-1zM155 263.2h1v8.7h-1zM165 263.2h1v8.7h-1zM168 263.2h1v8.7h-1zM73 272.3h2v8.7h-2zM114 272.3h1v8.7h-1zM124 272.3h1v8.7h-1zM132 272.3h2v8.7h-2zM139 272.3h2v8.7h-2zM143 272.3h1v8.7h-1zM153 272.3h1v8.7h-1zM15 281.4h1v8.7h-1zM101 281.4h1v8.7h-1zM157 281.4h1v8.7h-1zM29 290.5h1v8.7h-1zM43 290.5h1v8.7h-1zM72 290.5h1v8.7h-1zM98 290.5h1v8.7h-1zM170 290.5h1v8.7h-1zM70 299.6h1v8.7h-1zM79 299.6h3v8.7h-3zM101 299.6h1v8.7h-1zM162 299.6h1v8.7h-1zM95 308.7h2v8.7h-2zM122 308.7h1v8.7h-1zM164 308.7h1v8.7h-1zM179 308.7h1v8.7h-1zM33 317.8h1v8.7h-1zM103 317.8h1v8.7h-1zM139 317.8h1v8.7h-1zM14 326.8h1v8.7h-1zM96 326.8h1v8.7h-1zM98 326.8h2v8.7h-2zM132 326.8h1v8.7h-1zM134 326.8h3v8.7h-3zM177 326.8h1v8.7h-1zM4 335.9h1v8.7h-1zM12 335.9h1v8.7h-1zM55 335.9h2v8.7h-2zM92 335.9h1v8.7h-1zM105 335.9h1v8.7h-1zM112 335.9h1v8.7h-1zM136 335.9h1v8.7h-1zM175 335.9h2v8.7h-2zM13 352.0h1v8.5h-1zM33 352.0h1v8.5h-1zM44 352.0h1v8.5h-1zM48 352.0h2v8.5h-2zM65 352.0h1v8.5h-1zM67 352.0h1v8.5h-1zM78 352.0h1v8.5h-1zM84 352.0h1v8.5h-1zM95 352.0h1v8.5h-1zM112 352.0h1v8.5h-1zM147 352.0h1v8.5h-1zM155 352.0h2v8.5h-2zM167 352.0h1v8.5h-1zM181 352.0h1v8.5h-1zM20 360.9h2v8.5h-2zM33 360.9h1v8.5h-1zM42 360.9h1v8.5h-1zM70 360.9h1v8.5h-1zM73 360.9h2v8.5h-2zM112 360.9h1v8.5h-1zM122 360.9h1v8.5h-1zM166 360.9h1v8.5h-1zM174 360.9h1v8.5h-1zM177 360.9h3v8.5h-3zM17 369.9h2v8.5h-2zM21 369.9h1v8.5h-1zM38 369.9h2v8.5h-2zM45 369.9h1v8.5h-1zM51 369.9h2v8.5h-2zM62 369.9h1v8.5h-1zM85 369.9h2v8.5h-2zM98 369.9h1v8.5h-1zM101 369.9h1v8.5h-1zM109 369.9h2v8.5h-2zM124 369.9h2v8.5h-2zM129 369.9h1v8.5h-1zM138 369.9h1v8.5h-1zM148 369.9h2v8.5h-2zM160 369.9h1v8.5h-1zM168 369.9h1v8.5h-1zM173 369.9h1v8.5h-1zM178 369.9h2v8.5h-2zM17 378.8h1v8.5h-1zM22 378.8h2v8.5h-2zM25 378.8h1v8.5h-1zM36 378.8h1v8.5h-1zM39 378.8h1v8.5h-1zM55 378.8h1v8.5h-1zM98 378.8h1v8.5h-1zM113 378.8h2v8.5h-2zM129 378.8h1v8.5h-1zM151 378.8h1v8.5h-1zM159 378.8h2v8.5h-2zM164 378.8h1v8.5h-1zM6 387.8h1v8.5h-1zM12 387.8h1v8.5h-1zM21 387.8h2v8.5h-2zM29 387.8h1v8.5h-1zM44 387.8h1v8.5h-1zM72 387.8h2v8.5h-2zM82 387.8h1v8.5h-1zM108 387.8h2v8.5h-2zM131 387.8h1v8.5h-1zM138 387.8h1v8.5h-1zM145 387.8h2v8.5h-2zM154 387.8h2v8.5h-2zM52 396.7h2v8.5h-2zM59 396.7h1v8.5h-1zM86 396.7h1v8.5h-1zM92 396.7h1v8.5h-1zM128 396.7h1v8.5h-1zM131 396.7h1v8.5h-1zM162 396.7h2v8.5h-2zM38 405.6h1v8.5h-1zM54 405.6h2v8.5h-2zM139 405.6h1v8.5h-1zM152 405.6h1v8.5h-1zM35 414.6h1v8.5h-1zM61 414.6h1v8.5h-1zM89 414.6h1v8.5h-1zM92 414.6h1v8.5h-1zM156 414.6h2v8.5h-2zM54 423.5h1v8.5h-1zM83 423.5h2v8.5h-2zM95 423.5h1v8.5h-1zM115 423.5h3v8.5h-3zM120 423.5h1v8.5h-1zM136 423.5h1v8.5h-1zM140 423.5h1v8.5h-1zM144 423.5h1v8.5h-1zM147 423.5h1v8.5h-1zM161 423.5h1v8.5h-1zM173 423.5h1v8.5h-1zM18 432.5h1v8.5h-1zM23 432.5h1v8.5h-1zM57 432.5h1v8.5h-1zM74 432.5h1v8.5h-1zM81 432.5h1v8.5h-1zM88 432.5h2v8.5h-2zM102 432.5h1v8.5h-1zM120 432.5h1v8.5h-1zM125 432.5h1v8.5h-1zM138 432.5h1v8.5h-1zM144 432.5h1v8.5h-1zM158 432.5h1v8.5h-1zM165 432.5h1v8.5h-1zM20 441.4h1v8.5h-1zM25 441.4h1v8.5h-1zM43 441.4h1v8.5h-1zM51 441.4h1v8.5h-1zM65 441.4h1v8.5h-1zM69 441.4h1v8.5h-1zM73 441.4h1v8.5h-1zM96 441.4h1v8.5h-1zM127 441.4h1v8.5h-1zM129 441.4h1v8.5h-1zM134 441.4h2v8.5h-2zM138 441.4h2v8.5h-2zM151 441.4h2v8.5h-2zM170 441.4h1v8.5h-1zM2 450.3h2v8.5h-2zM16 450.3h1v8.5h-1zM38 450.3h1v8.5h-1zM49 450.3h1v8.5h-1zM67 450.3h1v8.5h-1zM100 450.3h1v8.5h-1zM151 450.3h1v8.5h-1zM6 459.3h1v8.5h-1zM22 459.3h1v8.5h-1zM24 459.3h1v8.5h-1zM40 459.3h1v8.5h-1zM61 459.3h1v8.5h-1zM74 459.3h2v8.5h-2zM79 459.3h1v8.5h-1zM81 459.3h1v8.5h-1zM87 459.3h1v8.5h-1zM91 459.3h1v8.5h-1zM97 459.3h1v8.5h-1zM110 459.3h2v8.5h-2zM115 459.3h4v8.5h-4zM124 459.3h1v8.5h-1zM140 459.3h1v8.5h-1zM168 459.3h1v8.5h-1zM69 468.2h1v8.5h-1zM78 468.2h1v8.5h-1zM81 468.2h2v8.5h-2zM95 468.2h1v8.5h-1zM124 468.2h1v8.5h-1zM133 468.2h1v8.5h-1zM151 468.2h1v8.5h-1zM173 468.2h1v8.5h-1zM52 477.2h3v8.5h-3zM72 477.2h1v8.5h-1zM77 477.2h2v8.5h-2zM111 477.2h2v8.5h-2zM116 477.2h3v8.5h-3zM152 477.2h1v8.5h-1zM156 477.2h1v8.5h-1zM176 477.2h1v8.5h-1z"/>
<path fill="#b4bade" d="M51 95.6h1v8.4h-1zM149 136.1h1v8.7h-1zM152 136.1h1v8.7h-1zM163 154.2h1v8.7h-1zM146 190.6h1v8.7h-1zM153 199.7h1v8.7h-1zM139 236.0h1v8.7h-1zM163 245.1h1v8.7h-1zM63 290.5h1v8.7h-1zM11 308.7h1v8.7h-1zM24 317.8h1v8.7h-1zM87 317.8h1v8.7h-1zM79 326.8h1v8.7h-1zM115 335.9h1v8.7h-1zM39 360.9h1v8.5h-1zM116 360.9h1v8.5h-1zM72 378.8h2v8.5h-2zM109 378.8h4v8.5h-4zM38 396.7h1v8.5h-1zM40 396.7h1v8.5h-1zM54 468.2h1v8.5h-1zM94 477.2h2v8.5h-2z"/>
<path fill="#f0a2a2" d="M52 95.6h1v8.4h-1zM96 95.6h1v8.4h-1zM119 95.6h1v8.4h-1zM93 114.0h1v8.4h-1zM68 136.1h1v8.7h-1zM174 136.1h1v8.7h-1zM55 145.2h1v8.7h-1zM68 145.2h1v8.7h-1zM169 145.2h1v8.7h-1zM125 154.2h1v8.7h-1zM9 163.3h1v8.7h-1zM11 163.3h1v8.7h-1zM47 163.3h1v8.7h-1zM146 163.3h2v8.7h-2zM167 163.3h1v8.7h-1zM0 172.4h1v8.7h-1zM40 172.4h1v8.7h-1zM112 190.6h2v8.7h-2zM22 199.7h1v8.7h-1zM104 199.7h1v8.7h-1zM113 199.7h2v8.7h-2zM74 208.8h1v8.7h-1zM71 245.1h1v8.7h-1zM98 245.1h2v8.7h-2zM111 245.1h1v8.7h-1zM165 245.1h1v8.7h-1zM0 263.2h3v8.7h-3zM122 290.5h2v8.7h-2zM85 308.7h1v8.7h-1zM15 326.8h1v8.7h-1zM1 335.9h2v8.7h-2zM145 335.9h2v8.7h-2zM98 352.0h1v8.5h-1zM120 360.9h1v8.5h-1zM159 360.9h1v8.5h-1zM3 378.8h1v8.5h-1zM105 378.8h1v8.5h-1zM70 396.7h1v8.5h-1zM125 396.7h1v8.5h-1zM100 405.6h1v8.5h-1zM52 414.6h2v8.5h-2zM97 423.5h2v8.5h-2zM41 441.4h1v8.5h-1zM119 441.4h1v8.5h-1zM4 459.3h1v8.5h-1zM46 459.3h1v8.5h-1zM152 468.2h1v8.5h-1zM155 468.2h1v8.5h-1zM104 477.2h2v8.5h-2z"/>
<path fill="#7e90c6" d="M53 95.6h1v8.4h-1zM160 95.6h1v8.4h-1zM92 104.8h1v8.4h-1zM112 104.8h1v8.4h-1zM36 114.0h1v8.4h-1zM86 127.0h1v8.7h-1zM103 127.0h1v8.7h-1zM79 136.1h1v8.7h-1zM92 136.1h1v8.7h-1zM82 145.2h1v8.7h-1zM106 145.2h1v8.7h-1zM124 145.2h1v8.7h-1zM120 154.2h1v8.7h-1zM63 172.4h1v8.7h-1zM77 172.4h1v8.7h-1zM96 172.4h1v8.7h-1zM98 172.4h1v8.7h-1zM179 172.4h1v8.7h-1zM182 172.4h1v8.7h-1zM146 181.5h1v8.7h-1zM176 199.7h1v8.7h-1zM22 208.8h1v8.7h-1zM34 208.8h1v8.7h-1zM50 208.8h2v8.7h-2zM57 208.8h1v8.7h-1zM64 208.8h1v8.7h-1zM143 245.1h1v8.7h-1zM152 245.1h1v8.7h-1zM178 245.1h1v8.7h-1zM153 263.2h1v8.7h-1zM29 272.3h1v8.7h-1zM39 281.4h1v8.7h-1zM8 290.5h2v8.7h-2zM39 290.5h1v8.7h-1zM56 290.5h1v8.7h-1zM26 299.6h1v8.7h-1zM44 299.6h1v8.7h-1zM52 299.6h2v8.7h-2zM61 299.6h1v8.7h-1zM111 308.7h1v8.7h-1zM69 317.8h1v8.7h-1zM77 317.8h1v8.7h-1zM110 317.8h1v8.7h-1zM84 326.8h1v8.7h-1zM123 326.8h2v8.7h-2zM169 405.6h1v8.5h-1zM13 414.6h2v8.5h-2zM155 414.6h1v8.5h-1zM139 432.5h2v8.5h-2zM27 441.4h1v8.5h-1zM62 459.3h1v8.5h-1zM174 477.2h1v8.5h-1z"/>
<path fill="#eaeaf6" d="M55 95.6h1v8.4h-1zM3 104.8h1v8.4h-1zM39 104.8h1v8.4h-1zM103 104.8h2v8.4h-2zM125 104.8h1v8.4h-1zM180 104.8h1v8.4h-1zM40 114.0h1v8.4h-1zM176 114.0h2v8.4h-2zM117 127.0h1v8.7h-1zM78 136.1h1v8.7h-1zM106 136.1h1v8.7h-1zM129 145.2h1v8.7h-1zM182 145.2h1v8.7h-1zM41 154.2h1v8.7h-1zM154 154.2h1v8.7h-1zM80 163.3h1v8.7h-1zM86 163.3h2v8.7h-2zM17 181.5h1v8.7h-1zM65 181.5h1v8.7h-1zM101 181.5h1v8.7h-1zM122 181.5h1v8.7h-1zM120 199.7h1v8.7h-1zM136 199.7h1v8.7h-1zM128 208.8h2v8.7h-2zM134 208.8h1v8.7h-1zM9 245.1h1v8.7h-1zM22 245.1h1v8.7h-1zM8 272.3h1v8.7h-1zM16 272.3h1v8.7h-1zM31 272.3h1v8.7h-1zM61 272.3h1v8.7h-1zM118 272.3h1v8.7h-1zM32 281.4h1v8.7h-1zM129 281.4h1v8.7h-1zM131 281.4h1v8.7h-1zM10 290.5h1v8.7h-1zM92 299.6h1v8.7h-1zM150 299.6h1v8.7h-1zM2 326.8h1v8.7h-1zM35 326.8h1v8.7h-1zM97 326.8h1v8.7h-1zM69 335.9h1v8.7h-1zM89 335.9h1v8.7h-1zM179 335.9h1v8.7h-1zM91 352.0h1v8.5h-1zM113 352.0h1v8.5h-1zM120 352.0h1v8.5h-1zM127 352.0h1v8.5h-1zM19 360.9h1v8.5h-1zM148 360.9h1v8.5h-1zM115 369.9h1v8.5h-1zM126 369.9h1v8.5h-1zM172 369.9h1v8.5h-1zM70 378.8h2v8.5h-2zM84 378.8h1v8.5h-1zM20 387.8h1v8.5h-1zM171 387.8h1v8.5h-1zM25 405.6h1v8.5h-1zM11 414.6h1v8.5h-1zM5 423.5h1v8.5h-1zM119 423.5h1v8.5h-1zM174 423.5h1v8.5h-1zM10 432.5h1v8.5h-1zM33 432.5h1v8.5h-1zM66 450.3h1v8.5h-1zM76 450.3h1v8.5h-1zM117 450.3h1v8.5h-1zM88 459.3h1v8.5h-1zM108 459.3h1v8.5h-1zM123 459.3h1v8.5h-1zM84 468.2h1v8.5h-1zM146 468.2h1v8.5h-1zM39 477.2h1v8.5h-1zM70 477.2h1v8.5h-1zM80 477.2h3v8.5h-3zM131 477.2h3v8.5h-3zM162 477.2h1v8.5h-1z"/>
<path fill="#e4eaf6" d="M56 95.6h1v8.4h-1zM61 95.6h1v8.4h-1zM44 114.0h1v8.4h-1zM82 136.1h1v8.7h-1zM17 145.2h1v8.7h-1zM177 145.2h1v8.7h-1zM55 154.2h1v8.7h-1zM117 163.3h1v8.7h-1zM154 163.3h1v8.7h-1zM49 172.4h1v8.7h-1zM140 172.4h1v8.7h-1zM178 172.4h1v8.7h-1zM145 181.5h1v8.7h-1zM163 181.5h1v8.7h-1zM38 199.7h1v8.7h-1zM50 199.7h1v8.7h-1zM162 236.0h1v8.7h-1zM98 263.2h1v8.7h-1zM174 272.3h1v8.7h-1zM153 281.4h1v8.7h-1zM70 290.5h1v8.7h-1zM2 317.8h1v8.7h-1zM7 317.8h1v8.7h-1zM78 317.8h1v8.7h-1zM32 326.8h3v8.7h-3zM33 335.9h2v8.7h-2zM172 335.9h1v8.7h-1zM66 360.9h1v8.5h-1zM89 360.9h1v8.5h-1zM9 369.9h1v8.5h-1zM42 369.9h1v8.5h-1zM108 369.9h1v8.5h-1zM150 378.8h1v8.5h-1zM177 378.8h1v8.5h-1zM91 387.8h2v8.5h-2zM42 396.7h3v8.5h-3zM149 396.7h1v8.5h-1zM182 396.7h1v8.5h-1zM61 405.6h1v8.5h-1zM128 405.6h1v8.5h-1zM30 414.6h2v8.5h-2zM101 414.6h2v8.5h-2zM104 414.6h1v8.5h-1zM145 414.6h1v8.5h-1zM168 414.6h2v8.5h-2zM55 423.5h1v8.5h-1zM69 423.5h1v8.5h-1zM141 423.5h1v8.5h-1zM94 432.5h2v8.5h-2zM103 432.5h2v8.5h-2zM112 441.4h1v8.5h-1zM20 450.3h1v8.5h-1zM163 450.3h1v8.5h-1zM21 459.3h1v8.5h-1zM67 459.3h1v8.5h-1zM131 459.3h1v8.5h-1zM133 459.3h2v8.5h-2zM23 468.2h2v8.5h-2zM105 468.2h1v8.5h-1zM135 468.2h1v8.5h-1zM126 477.2h1v8.5h-1z"/>
<path fill="#a2aed8" d="M57 95.6h1v8.4h-1zM58 127.0h1v8.7h-1zM98 127.0h1v8.7h-1zM99 145.2h3v8.7h-3zM113 145.2h1v8.7h-1zM123 145.2h1v8.7h-1zM106 163.3h1v8.7h-1zM158 181.5h1v8.7h-1zM59 208.8h1v8.7h-1zM61 208.8h1v8.7h-1zM13 272.3h1v8.7h-1zM67 272.3h1v8.7h-1zM158 281.4h1v8.7h-1zM53 290.5h3v8.7h-3zM48 299.6h1v8.7h-1zM59 299.6h1v8.7h-1zM74 299.6h2v8.7h-2zM168 308.7h1v8.7h-1zM95 317.8h2v8.7h-2zM99 317.8h1v8.7h-1zM61 335.9h2v8.7h-2zM161 335.9h2v8.7h-2zM32 378.8h2v8.5h-2zM49 378.8h1v8.5h-1zM31 396.7h1v8.5h-1z"/>
<path fill="#fcf6f6" d="M58 95.6h1v8.4h-1zM118 104.8h3v8.4h-3zM26 114.0h1v8.4h-1zM9 127.0h1v8.7h-1zM45 127.0h1v8.7h-1zM81 127.0h1v8.7h-1zM149 127.0h1v8.7h-1zM153 127.0h1v8.7h-1zM167 127.0h1v8.7h-1zM172 127.0h1v8.7h-1zM175 127.0h1v8.7h-1zM29 136.1h2v8.7h-2zM87 136.1h1v8.7h-1zM102 136.1h1v8.7h-1zM175 136.1h1v8.7h-1zM52 145.2h1v8.7h-1zM74 145.2h1v8.7h-1zM126 145.2h1v8.7h-1zM155 145.2h3v8.7h-3zM128 154.2h1v8.7h-1zM144 154.2h1v8.7h-1zM4 163.3h1v8.7h-1zM114 163.3h1v8.7h-1zM122 163.3h1v8.7h-1zM179 163.3h1v8.7h-1zM6 172.4h1v8.7h-1zM123 172.4h1v8.7h-1zM24 181.5h2v8.7h-2zM31 181.5h2v8.7h-2zM49 181.5h1v8.7h-1zM66 181.5h2v8.7h-2zM122 208.8h1v8.7h-1zM131 208.8h1v8.7h-1zM62 263.2h2v8.7h-2zM123 263.2h2v8.7h-2zM182 263.2h1v8.7h-1zM81 272.3h1v8.7h-1zM141 272.3h1v8.7h-1zM182 272.3h1v8.7h-1zM8 281.4h3v8.7h-3zM13 281.4h1v8.7h-1zM127 281.4h1v8.7h-1zM142 281.4h1v8.7h-1zM76 299.6h1v8.7h-1zM94 299.6h2v8.7h-2zM99 299.6h1v8.7h-1zM178 317.8h2v8.7h-2zM108 326.8h2v8.7h-2zM112 326.8h2v8.7h-2zM75 335.9h1v8.7h-1zM77 335.9h2v8.7h-2zM93 335.9h1v8.7h-1zM4 352.0h1v8.5h-1zM35 352.0h1v8.5h-1zM80 352.0h1v8.5h-1zM109 352.0h1v8.5h-1zM138 352.0h1v8.5h-1zM164 352.0h1v8.5h-1zM180 352.0h1v8.5h-1zM5 360.9h1v8.5h-1zM14 360.9h1v8.5h-1zM40 360.9h1v8.5h-1zM45 360.9h1v8.5h-1zM63 360.9h1v8.5h-1zM69 360.9h1v8.5h-1zM110 360.9h2v8.5h-2zM134 360.9h1v8.5h-1zM11 369.9h1v8.5h-1zM31 369.9h1v8.5h-1zM114 369.9h1v8.5h-1zM8 378.8h2v8.5h-2zM11 378.8h1v8.5h-1zM97 378.8h1v8.5h-1zM131 378.8h1v8.5h-1zM158 378.8h1v8.5h-1zM173 378.8h1v8.5h-1zM75 387.8h1v8.5h-1zM97 387.8h1v8.5h-1zM113 387.8h1v8.5h-1zM136 387.8h2v8.5h-2zM148 387.8h1v8.5h-1zM178 387.8h1v8.5h-1zM95 396.7h1v8.5h-1zM110 396.7h1v8.5h-1zM18 405.6h1v8.5h-1zM63 405.6h1v8.5h-1zM132 405.6h1v8.5h-1zM142 405.6h1v8.5h-1zM177 405.6h1v8.5h-1zM181 405.6h1v8.5h-1zM15 414.6h2v8.5h-2zM128 414.6h1v8.5h-1zM170 414.6h1v8.5h-1zM9 423.5h1v8.5h-1zM167 423.5h1v8.5h-1zM12 432.5h1v8.5h-1zM58 432.5h1v8.5h-1zM64 432.5h1v8.5h-1zM107 432.5h1v8.5h-1zM135 432.5h1v8.5h-1zM59 441.4h2v8.5h-2zM111 441.4h1v8.5h-1zM179 441.4h1v8.5h-1zM12 450.3h1v8.5h-1zM18 450.3h2v8.5h-2zM64 450.3h1v8.5h-1zM118 450.3h1v8.5h-1zM29 459.3h1v8.5h-1zM96 459.3h1v8.5h-1zM99 459.3h1v8.5h-1zM114 459.3h1v8.5h-1zM153 459.3h1v8.5h-1zM16 468.2h1v8.5h-1zM37 468.2h1v8.5h-1zM92 468.2h1v8.5h-1zM100 468.2h3v8.5h-3zM132 468.2h1v8.5h-1zM162 468.2h1v8.5h-1zM172 468.2h1v8.5h-1zM177 468.2h2v8.5h-2zM0 477.2h1v8.5h-1zM2 477.2h1v8.5h-1zM11 477.2h1v8.5h-1zM15 477.2h1v8.5h-1zM83 477.2h2v8.5h-2z"/>
<path fill="#8490c6" d="M60 95.6h1v8.4h-1zM32 114.0h1v8.4h-1zM91 136.1h1v8.7h-1zM102 145.2h1v8.7h-1zM167 145.2h1v8.7h-1zM95 172.4h1v8.7h-1zM112 172.4h1v8.7h-1zM113 181.5h1v8.7h-1zM26 199.7h1v8.7h-1zM35 290.5h1v8.7h-1zM41 299.6h2v8.7h-2zM160 299.6h2v8.7h-2zM66 326.8h1v8.7h-1zM66 335.9h1v8.7h-1zM114 414.6h2v8.5h-2zM120 459.3h1v8.5h-1zM166 468.2h2v8.5h-2z"/>
<path fill="#8a96cc" d="M64 95.6h1v8.4h-1zM166 104.8h1v8.4h-1zM20 114.0h1v8.4h-1zM34 114.0h1v8.4h-1zM4 127.0h1v8.7h-1zM110 127.0h1v8.7h-1zM59 136.1h1v8.7h-1zM162 145.2h1v8.7h-1zM103 172.4h2v8.7h-2zM115 172.4h1v8.7h-1zM139 172.4h1v8.7h-1zM158 172.4h1v8.7h-1zM181 199.7h1v8.7h-1zM137 245.1h1v8.7h-1zM160 263.2h1v8.7h-1zM3 281.4h1v8.7h-1zM84 290.5h2v8.7h-2zM15 299.6h3v8.7h-3zM17 308.7h2v8.7h-2zM171 308.7h1v8.7h-1zM115 317.8h1v8.7h-1zM54 326.8h1v8.7h-1zM105 360.9h1v8.5h-1zM34 369.9h1v8.5h-1zM122 387.8h1v8.5h-1zM4 396.7h1v8.5h-1zM115 396.7h2v8.5h-2zM167 396.7h1v8.5h-1zM174 396.7h2v8.5h-2zM1 423.5h1v8.5h-1zM89 450.3h1v8.5h-1z"/>
<path fill="#f6fcfc" d="M65 95.6h1v8.4h-1zM182 104.8h1v8.4h-1zM148 127.0h1v8.7h-1zM98 136.1h2v8.7h-2zM181 136.1h1v8.7h-1zM172 145.2h2v8.7h-2zM155 199.7h3v8.7h-3zM127 208.8h1v8.7h-1zM121 263.2h1v8.7h-1zM22 281.4h1v8.7h-1zM108 290.5h1v8.7h-1zM173 290.5h1v8.7h-1zM105 299.6h2v8.7h-2zM127 308.7h1v8.7h-1zM74 326.8h1v8.7h-1zM71 335.9h1v8.7h-1zM140 335.9h1v8.7h-1zM100 352.0h1v8.5h-1zM111 352.0h1v8.5h-1zM64 360.9h1v8.5h-1zM141 396.7h1v8.5h-1zM111 450.3h1v8.5h-1zM102 459.3h1v8.5h-1zM48 477.2h1v8.5h-1z"/>
<path fill="#8496c6" d="M66 95.6h1v8.4h-1zM46 114.0h1v8.4h-1zM51 127.0h2v8.7h-2zM76 145.2h1v8.7h-1zM69 172.4h1v8.7h-1zM118 172.4h1v8.7h-1zM45 208.8h1v8.7h-1zM28 263.2h1v8.7h-1zM44 263.2h1v8.7h-1zM23 272.3h1v8.7h-1zM50 272.3h1v8.7h-1zM0 281.4h1v8.7h-1zM41 290.5h2v8.7h-2zM78 290.5h1v8.7h-1zM32 317.8h1v8.7h-1zM37 317.8h1v8.7h-1zM41 317.8h1v8.7h-1zM93 326.8h1v8.7h-1zM35 335.9h1v8.7h-1zM54 335.9h1v8.7h-1zM81 335.9h1v8.7h-1zM90 335.9h1v8.7h-1zM161 360.9h1v8.5h-1zM65 369.9h1v8.5h-1zM122 378.8h1v8.5h-1zM136 378.8h1v8.5h-1zM25 387.8h1v8.5h-1zM1 396.7h3v8.5h-3zM11 396.7h1v8.5h-1zM140 396.7h1v8.5h-1zM180 396.7h1v8.5h-1zM37 405.6h1v8.5h-1zM39 405.6h2v8.5h-2zM30 423.5h2v8.5h-2zM40 423.5h1v8.5h-1zM61 423.5h1v8.5h-1zM81 423.5h1v8.5h-1zM111 432.5h1v8.5h-1zM161 432.5h1v8.5h-1zM55 450.3h1v8.5h-1zM135 477.2h1v8.5h-1zM165 477.2h1v8.5h-1z"/>
<path fill="#e4eaf0" d="M67 95.6h1v8.4h-1zM82 104.8h2v8.4h-2zM95 127.0h1v8.7h-1zM119 145.2h1v8.7h-1zM95 154.2h1v8.7h-1zM2 181.5h1v8.7h-1zM67 208.8h1v8.7h-1zM69 226.9h1v8.7h-1zM6 263.2h1v8.7h-1zM73 263.2h3v8.7h-3zM156 263.2h2v8.7h-2zM62 272.3h1v8.7h-1zM156 281.4h1v8.7h-1zM111 299.6h2v8.7h-2zM16 308.7h1v8.7h-1zM48 396.7h1v8.5h-1zM36 414.6h1v8.5h-1zM181 423.5h2v8.5h-2zM66 432.5h1v8.5h-1zM11 441.4h1v8.5h-1zM47 441.4h1v8.5h-1zM63 441.4h1v8.5h-1zM103 450.3h1v8.5h-1zM181 450.3h1v8.5h-1zM64 468.2h1v8.5h-1z"/>
<path fill="#aeb4d8" d="M68 95.6h1v8.4h-1zM174 95.6h1v8.4h-1zM46 104.8h1v8.4h-1zM39 114.0h1v8.4h-1zM104 136.1h1v8.7h-1zM133 172.4h2v8.7h-2zM32 199.7h1v8.7h-1zM150 199.7h1v8.7h-1zM61 317.8h1v8.7h-1zM66 317.8h1v8.7h-1zM41 335.9h1v8.7h-1zM161 414.6h1v8.5h-1zM25 423.5h2v8.5h-2z"/>
<path fill="#ea6066" d="M73 95.6h1v8.4h-1zM83 95.6h1v8.4h-1zM181 95.6h1v8.4h-1zM157 104.8h1v8.4h-1zM136 114.0h2v8.4h-2zM105 136.1h1v8.7h-1zM60 145.2h1v8.7h-1zM2 154.2h1v8.7h-1zM29 154.2h1v8.7h-1zM121 154.2h1v8.7h-1zM151 163.3h1v8.7h-1zM33 172.4h1v8.7h-1zM83 199.7h1v8.7h-1zM134 199.7h1v8.7h-1zM97 208.8h1v8.7h-1zM100 208.8h1v8.7h-1zM63 226.9h2v8.7h-2zM142 226.9h1v8.7h-1zM80 245.1h1v8.7h-1zM150 263.2h1v8.7h-1zM88 281.4h1v8.7h-1zM119 290.5h1v8.7h-1zM147 290.5h1v8.7h-1zM162 290.5h2v8.7h-2zM116 299.6h2v8.7h-2zM119 299.6h1v8.7h-1zM138 317.8h1v8.7h-1zM151 326.8h2v8.7h-2zM178 326.8h1v8.7h-1zM63 335.9h1v8.7h-1zM107 335.9h1v8.7h-1zM110 335.9h1v8.7h-1zM158 352.0h1v8.5h-1zM149 378.8h1v8.5h-1zM157 387.8h1v8.5h-1zM159 405.6h1v8.5h-1zM56 414.6h1v8.5h-1zM21 423.5h1v8.5h-1zM82 441.4h1v8.5h-1zM164 459.3h1v8.5h-1z"/>
<path fill="#f09096" d="M74 95.6h1v8.4h-1zM143 104.8h1v8.4h-1zM28 127.0h1v8.7h-1zM56 127.0h1v8.7h-1zM21 145.2h1v8.7h-1zM29 145.2h2v8.7h-2zM46 172.4h1v8.7h-1zM74 172.4h1v8.7h-1zM84 199.7h1v8.7h-1zM102 208.8h1v8.7h-1zM92 245.1h1v8.7h-1zM78 254.2h2v8.7h-2zM69 263.2h1v8.7h-1zM69 272.3h1v8.7h-1zM92 272.3h1v8.7h-1zM125 290.5h1v8.7h-1zM145 290.5h2v8.7h-2zM104 299.6h1v8.7h-1zM99 335.9h3v8.7h-3zM37 360.9h2v8.5h-2zM98 360.9h1v8.5h-1zM154 360.9h1v8.5h-1zM79 378.8h3v8.5h-3zM148 378.8h1v8.5h-1zM104 387.8h1v8.5h-1zM21 414.6h2v8.5h-2zM103 414.6h1v8.5h-1zM149 414.6h1v8.5h-1zM50 423.5h1v8.5h-1zM129 459.3h1v8.5h-1zM109 477.2h1v8.5h-1z"/>
<path fill="#f07e84" d="M75 95.6h1v8.4h-1zM92 95.6h1v8.4h-1zM102 95.6h1v8.4h-1zM117 114.0h1v8.4h-1zM125 114.0h1v8.4h-1zM134 114.0h1v8.4h-1zM6 127.0h1v8.7h-1zM180 127.0h1v8.7h-1zM9 136.1h1v8.7h-1zM73 136.1h1v8.7h-1zM77 145.2h2v8.7h-2zM19 163.3h2v8.7h-2zM26 163.3h1v8.7h-1zM28 163.3h1v8.7h-1zM37 163.3h2v8.7h-2zM21 172.4h2v8.7h-2zM43 181.5h2v8.7h-2zM91 199.7h1v8.7h-1zM93 208.8h1v8.7h-1zM121 208.8h1v8.7h-1zM21 217.8h3v8.7h-3zM77 226.9h1v8.7h-1zM87 272.3h1v8.7h-1zM74 290.5h1v8.7h-1zM106 290.5h1v8.7h-1zM113 290.5h1v8.7h-1zM164 299.6h1v8.7h-1zM173 299.6h1v8.7h-1zM119 308.7h1v8.7h-1zM54 317.8h2v8.7h-2zM159 317.8h1v8.7h-1zM164 326.8h1v8.7h-1zM150 335.9h2v8.7h-2zM107 441.4h1v8.5h-1zM130 450.3h1v8.5h-1zM12 459.3h1v8.5h-1zM152 459.3h1v8.5h-1zM30 468.2h1v8.5h-1zM153 477.2h1v8.5h-1z"/>
<path fill="#ea6c6c" d="M76 95.6h1v8.4h-1zM71 114.0h1v8.4h-1zM130 114.0h1v8.4h-1zM4 154.2h1v8.7h-1zM59 163.3h1v8.7h-1zM81 172.4h1v8.7h-1zM89 226.9h2v8.7h-2zM82 236.0h1v8.7h-1zM89 281.4h2v8.7h-2zM129 299.6h1v8.7h-1zM175 326.8h1v8.7h-1zM149 335.9h1v8.7h-1zM135 360.9h1v8.5h-1zM28 387.8h1v8.5h-1zM66 387.8h1v8.5h-1zM36 441.4h1v8.5h-1zM97 477.2h1v8.5h-1z"/>
<path fill="#f6d2d2" d="M78 95.6h2v8.4h-2zM142 145.2h1v8.7h-1zM43 154.2h1v8.7h-1zM131 154.2h1v8.7h-1zM0 163.3h1v8.7h-1zM83 181.5h1v8.7h-1zM2 199.7h1v8.7h-1zM90 208.8h2v8.7h-2zM132 208.8h2v8.7h-2zM135 208.8h1v8.7h-1zM57 263.2h1v8.7h-1zM78 272.3h1v8.7h-1zM123 272.3h1v8.7h-1zM68 281.4h2v8.7h-2zM121 281.4h1v8.7h-1zM151 281.4h1v8.7h-1zM164 290.5h1v8.7h-1zM10 326.8h1v8.7h-1zM84 335.9h1v8.7h-1zM109 335.9h1v8.7h-1zM24 352.0h1v8.5h-1zM160 352.0h1v8.5h-1zM16 360.9h1v8.5h-1zM91 360.9h1v8.5h-1zM102 360.9h1v8.5h-1zM162 360.9h1v8.5h-1zM0 369.9h3v8.5h-3zM58 369.9h2v8.5h-2zM51 378.8h1v8.5h-1zM128 378.8h1v8.5h-1zM132 378.8h3v8.5h-3zM39 387.8h1v8.5h-1zM99 387.8h2v8.5h-2zM156 387.8h1v8.5h-1zM162 387.8h1v8.5h-1zM73 396.7h1v8.5h-1zM89 396.7h2v8.5h-2zM129 405.6h2v8.5h-2zM174 405.6h1v8.5h-1zM10 414.6h1v8.5h-1zM42 414.6h1v8.5h-1zM81 414.6h1v8.5h-1zM133 423.5h1v8.5h-1zM138 423.5h2v8.5h-2zM3 432.5h1v8.5h-1zM182 432.5h1v8.5h-1zM124 450.3h1v8.5h-1zM128 450.3h1v8.5h-1zM121 459.3h1v8.5h-1zM180 459.3h1v8.5h-1zM40 468.2h1v8.5h-1zM53 468.2h1v8.5h-1zM117 468.2h1v8.5h-1zM176 468.2h1v8.5h-1zM68 477.2h1v8.5h-1zM149 477.2h1v8.5h-1z"/>
<path fill="#ea7878" d="M81 95.6h1v8.4h-1zM89 95.6h1v8.4h-1zM149 114.0h2v8.4h-2zM103 136.1h1v8.7h-1zM39 163.3h1v8.7h-1zM83 208.8h1v8.7h-1zM32 226.9h1v8.7h-1zM83 245.1h1v8.7h-1zM57 281.4h1v8.7h-1zM180 308.7h1v8.7h-1zM161 326.8h1v8.7h-1zM69 387.8h1v8.5h-1zM88 477.2h1v8.5h-1z"/>
<path fill="#f08484" d="M82 95.6h1v8.4h-1zM159 104.8h1v8.4h-1zM165 104.8h1v8.4h-1zM178 104.8h1v8.4h-1zM81 114.0h1v8.4h-1zM4 136.1h1v8.7h-1zM118 136.1h3v8.7h-3zM32 145.2h1v8.7h-1zM122 154.2h1v8.7h-1zM112 181.5h1v8.7h-1zM146 245.1h1v8.7h-1zM26 263.2h1v8.7h-1zM126 263.2h1v8.7h-1zM82 281.4h1v8.7h-1zM95 281.4h1v8.7h-1zM114 299.6h2v8.7h-2zM155 299.6h1v8.7h-1zM163 299.6h1v8.7h-1zM135 308.7h1v8.7h-1zM125 326.8h1v8.7h-1zM182 326.8h1v8.7h-1zM43 352.0h1v8.5h-1zM149 352.0h2v8.5h-2zM0 414.6h2v8.5h-2zM83 414.6h2v8.5h-2zM50 441.4h1v8.5h-1zM130 441.4h1v8.5h-1zM56 450.3h1v8.5h-1zM42 459.3h1v8.5h-1z"/>
<path fill="#f6aeb4" d="M84 95.6h1v8.4h-1zM108 95.6h1v8.4h-1zM172 104.8h1v8.4h-1zM70 114.0h1v8.4h-1zM100 114.0h1v8.4h-1zM109 114.0h1v8.4h-1zM32 127.0h1v8.7h-1zM42 154.2h1v8.7h-1zM83 154.2h1v8.7h-1zM36 181.5h1v8.7h-1zM69 181.5h2v8.7h-2zM3 199.7h1v8.7h-1zM9 199.7h1v8.7h-1zM97 199.7h1v8.7h-1zM86 208.8h1v8.7h-1zM73 245.1h1v8.7h-1zM95 272.3h1v8.7h-1zM87 281.4h1v8.7h-1zM123 281.4h1v8.7h-1zM17 290.5h1v8.7h-1zM159 290.5h1v8.7h-1zM93 299.6h1v8.7h-1zM166 299.6h2v8.7h-2zM158 317.8h1v8.7h-1zM11 326.8h1v8.7h-1zM141 335.9h1v8.7h-1zM3 369.9h1v8.5h-1zM139 378.8h2v8.5h-2zM24 387.8h1v8.5h-1zM181 387.8h1v8.5h-1zM85 396.7h1v8.5h-1zM101 396.7h1v8.5h-1zM146 414.6h1v8.5h-1zM149 423.5h2v8.5h-2zM33 441.4h1v8.5h-1zM87 441.4h2v8.5h-2zM137 441.4h1v8.5h-1zM144 441.4h1v8.5h-1zM143 459.3h1v8.5h-1zM176 459.3h1v8.5h-1zM91 477.2h1v8.5h-1z"/>
<path fill="#f0a2a8" d="M88 95.6h1v8.4h-1zM102 114.0h1v8.4h-1zM147 114.0h1v8.4h-1zM38 136.1h2v8.7h-2zM71 172.4h1v8.7h-1zM71 199.7h1v8.7h-1zM73 199.7h1v8.7h-1zM123 217.8h1v8.7h-1zM132 236.0h1v8.7h-1zM141 317.8h1v8.7h-1zM181 317.8h2v8.7h-2zM139 352.0h1v8.5h-1zM60 405.6h1v8.5h-1zM122 414.6h1v8.5h-1zM142 432.5h1v8.5h-1zM145 459.3h1v8.5h-1z"/>
<path fill="#f09696" d="M91 95.6h1v8.4h-1zM109 95.6h1v8.4h-1zM135 104.8h1v8.4h-1zM170 104.8h2v8.4h-2zM84 114.0h2v8.4h-2zM29 127.0h2v8.7h-2zM36 127.0h2v8.7h-2zM50 154.2h1v8.7h-1zM62 163.3h2v8.7h-2zM13 190.6h1v8.7h-1zM12 199.7h1v8.7h-1zM78 199.7h1v8.7h-1zM141 226.9h1v8.7h-1zM82 263.2h1v8.7h-1zM80 281.4h1v8.7h-1zM141 290.5h1v8.7h-1zM125 299.6h1v8.7h-1zM157 317.8h1v8.7h-1zM142 326.8h1v8.7h-1zM181 326.8h1v8.7h-1zM144 352.0h1v8.5h-1zM7 360.9h1v8.5h-1zM145 369.9h1v8.5h-1zM63 387.8h1v8.5h-1zM107 396.7h1v8.5h-1zM84 405.6h1v8.5h-1zM163 414.6h2v8.5h-2zM44 432.5h1v8.5h-1zM150 432.5h1v8.5h-1zM16 459.3h1v8.5h-1z"/>
<path fill="#f07878" d="M100 95.6h1v8.4h-1zM47 127.0h2v8.7h-2zM41 145.2h2v8.7h-2zM6 181.5h2v8.7h-2zM14 181.5h1v8.7h-1zM112 236.0h1v8.7h-1zM98 254.2h1v8.7h-1zM15 263.2h1v8.7h-1zM174 263.2h1v8.7h-1zM5 290.5h1v8.7h-1zM177 290.5h1v8.7h-1zM103 308.7h1v8.7h-1zM68 378.8h1v8.5h-1zM19 414.6h1v8.5h-1zM176 423.5h1v8.5h-1zM76 432.5h1v8.5h-1zM53 459.3h1v8.5h-1z"/>
<path fill="#f0848a" d="M103 95.6h1v8.4h-1zM128 95.6h2v8.4h-2zM13 104.8h1v8.4h-1zM147 104.8h1v8.4h-1zM156 104.8h1v8.4h-1zM58 136.1h1v8.7h-1zM10 145.2h1v8.7h-1zM34 145.2h1v8.7h-1zM40 145.2h1v8.7h-1zM75 181.5h1v8.7h-1zM129 181.5h2v8.7h-2zM55 190.6h1v8.7h-1zM6 199.7h1v8.7h-1zM84 208.8h1v8.7h-1zM11 236.0h1v8.7h-1zM104 245.1h1v8.7h-1zM77 263.2h1v8.7h-1zM98 272.3h1v8.7h-1zM108 272.3h1v8.7h-1zM130 290.5h1v8.7h-1zM132 290.5h1v8.7h-1zM147 299.6h1v8.7h-1zM165 299.6h1v8.7h-1zM180 317.8h1v8.7h-1zM34 378.8h2v8.5h-2zM152 378.8h1v8.5h-1zM10 387.8h1v8.5h-1zM111 396.7h2v8.5h-2zM138 396.7h2v8.5h-2zM71 405.6h1v8.5h-1zM55 414.6h1v8.5h-1zM52 432.5h2v8.5h-2zM142 459.3h1v8.5h-1z"/>
<path fill="#f6c0c0" d="M110 95.6h3v8.4h-3zM126 104.8h2v8.4h-2zM133 104.8h1v8.4h-1zM174 104.8h1v8.4h-1zM179 104.8h1v8.4h-1zM142 114.0h2v8.4h-2zM154 114.0h1v8.4h-1zM163 114.0h1v8.4h-1zM167 114.0h1v8.4h-1zM31 145.2h1v8.7h-1zM46 154.2h1v8.7h-1zM180 154.2h2v8.7h-2zM36 163.3h1v8.7h-1zM54 163.3h1v8.7h-1zM72 172.4h1v8.7h-1zM78 181.5h1v8.7h-1zM80 181.5h1v8.7h-1zM107 199.7h1v8.7h-1zM10 208.8h1v8.7h-1zM12 208.8h1v8.7h-1zM127 217.8h1v8.7h-1zM67 226.9h1v8.7h-1zM78 226.9h1v8.7h-1zM86 245.1h2v8.7h-2zM134 254.2h1v8.7h-1zM88 263.2h1v8.7h-1zM173 263.2h1v8.7h-1zM88 272.3h1v8.7h-1zM107 272.3h1v8.7h-1zM144 272.3h1v8.7h-1zM19 281.4h1v8.7h-1zM112 281.4h1v8.7h-1zM0 290.5h1v8.7h-1zM148 290.5h1v8.7h-1zM158 290.5h1v8.7h-1zM169 299.6h1v8.7h-1zM155 317.8h1v8.7h-1zM6 326.8h1v8.7h-1zM19 326.8h1v8.7h-1zM176 326.8h1v8.7h-1zM179 326.8h2v8.7h-2zM76 352.0h1v8.5h-1zM165 352.0h1v8.5h-1zM12 360.9h1v8.5h-1zM99 360.9h1v8.5h-1zM141 360.9h1v8.5h-1zM41 369.9h1v8.5h-1zM82 369.9h1v8.5h-1zM88 369.9h1v8.5h-1zM37 387.8h1v8.5h-1zM61 387.8h1v8.5h-1zM119 387.8h1v8.5h-1zM102 396.7h1v8.5h-1zM13 405.6h1v8.5h-1zM83 405.6h1v8.5h-1zM47 414.6h1v8.5h-1zM175 414.6h1v8.5h-1zM135 423.5h1v8.5h-1zM164 423.5h1v8.5h-1zM42 432.5h1v8.5h-1zM83 432.5h1v8.5h-1zM24 441.4h1v8.5h-1zM48 441.4h1v8.5h-1zM79 441.4h1v8.5h-1zM115 441.4h2v8.5h-2zM153 441.4h1v8.5h-1zM59 450.3h1v8.5h-1zM77 450.3h1v8.5h-1zM167 450.3h1v8.5h-1zM39 459.3h1v8.5h-1zM104 459.3h1v8.5h-1zM28 468.2h2v8.5h-2zM39 468.2h1v8.5h-1zM61 468.2h1v8.5h-1zM140 468.2h1v8.5h-1zM3 477.2h1v8.5h-1z"/>
<path fill="#f0969c" d="M116 95.6h1v8.4h-1zM181 104.8h1v8.4h-1zM101 114.0h1v8.4h-1zM36 136.1h1v8.7h-1zM9 145.2h1v8.7h-1zM15 145.2h1v8.7h-1zM55 172.4h1v8.7h-1zM106 181.5h1v8.7h-1zM126 208.8h1v8.7h-1zM77 254.2h1v8.7h-1zM111 254.2h1v8.7h-1zM167 263.2h1v8.7h-1zM77 272.3h1v8.7h-1zM122 281.4h1v8.7h-1zM126 308.7h1v8.7h-1zM19 317.8h1v8.7h-1zM139 326.8h1v8.7h-1zM165 326.8h1v8.7h-1zM171 326.8h1v8.7h-1zM58 360.9h1v8.5h-1zM124 360.9h1v8.5h-1zM140 369.9h3v8.5h-3zM97 396.7h2v8.5h-2zM112 405.6h1v8.5h-1zM116 414.6h1v8.5h-1zM148 441.4h2v8.5h-2zM125 459.3h1v8.5h-1zM171 468.2h1v8.5h-1zM38 477.2h1v8.5h-1zM40 477.2h1v8.5h-1z"/>
<path fill="#f6a8ae" d="M125 95.6h1v8.4h-1zM133 95.6h1v8.4h-1zM144 104.8h1v8.4h-1zM35 127.0h1v8.7h-1zM50 145.2h1v8.7h-1zM5 154.2h3v8.7h-3zM10 154.2h1v8.7h-1zM85 199.7h1v8.7h-1zM98 208.8h1v8.7h-1zM130 226.9h1v8.7h-1zM110 236.0h1v8.7h-1zM110 245.1h1v8.7h-1zM179 245.1h1v8.7h-1zM97 263.2h1v8.7h-1zM85 272.3h1v8.7h-1zM110 290.5h1v8.7h-1zM102 299.6h2v8.7h-2zM1 326.8h1v8.7h-1zM143 326.8h2v8.7h-2zM170 326.8h1v8.7h-1zM133 352.0h1v8.5h-1zM117 369.9h2v8.5h-2zM74 387.8h1v8.5h-1zM150 387.8h1v8.5h-1zM72 396.7h1v8.5h-1zM79 396.7h1v8.5h-1zM81 396.7h1v8.5h-1zM96 405.6h1v8.5h-1zM116 405.6h1v8.5h-1zM104 423.5h1v8.5h-1zM93 432.5h1v8.5h-1zM105 432.5h1v8.5h-1zM131 432.5h1v8.5h-1zM15 441.4h1v8.5h-1zM21 441.4h2v8.5h-2zM79 450.3h2v8.5h-2zM132 450.3h1v8.5h-1zM74 477.2h1v8.5h-1z"/>
<path fill="#f6c0c6" d="M130 95.6h2v8.4h-2zM63 136.1h2v8.7h-2zM177 136.1h2v8.7h-2zM61 163.3h1v8.7h-1zM165 163.3h1v8.7h-1zM12 172.4h1v8.7h-1zM26 172.4h1v8.7h-1zM50 172.4h1v8.7h-1zM86 190.6h1v8.7h-1zM87 208.8h1v8.7h-1zM114 263.2h2v8.7h-2zM109 272.3h1v8.7h-1zM133 281.4h1v8.7h-1zM176 290.5h1v8.7h-1zM131 326.8h1v8.7h-1zM148 326.8h1v8.7h-1zM11 335.9h1v8.7h-1zM19 335.9h2v8.7h-2zM159 352.0h1v8.5h-1zM13 360.9h1v8.5h-1zM164 360.9h1v8.5h-1zM172 360.9h1v8.5h-1zM102 369.9h1v8.5h-1zM144 378.8h2v8.5h-2zM169 378.8h1v8.5h-1zM79 387.8h1v8.5h-1zM110 387.8h1v8.5h-1zM155 396.7h1v8.5h-1zM25 414.6h1v8.5h-1zM22 423.5h1v8.5h-1zM110 423.5h1v8.5h-1zM125 423.5h1v8.5h-1zM151 432.5h2v8.5h-2zM28 441.4h1v8.5h-1zM68 441.4h1v8.5h-1zM21 450.3h1v8.5h-1zM30 450.3h1v8.5h-1zM89 468.2h1v8.5h-1zM23 477.2h1v8.5h-1z"/>
<path fill="#fceaea" d="M132 95.6h1v8.4h-1zM137 95.6h1v8.4h-1zM148 95.6h1v8.4h-1zM83 114.0h1v8.4h-1zM161 114.0h1v8.4h-1zM170 114.0h1v8.4h-1zM182 114.0h1v8.4h-1zM2 127.0h1v8.7h-1zM66 127.0h1v8.7h-1zM137 127.0h1v8.7h-1zM168 127.0h3v8.7h-3zM0 136.1h2v8.7h-2zM8 136.1h1v8.7h-1zM76 136.1h2v8.7h-2zM115 136.1h1v8.7h-1zM136 136.1h1v8.7h-1zM1 145.2h1v8.7h-1zM135 145.2h1v8.7h-1zM154 145.2h1v8.7h-1zM163 145.2h1v8.7h-1zM56 154.2h3v8.7h-3zM77 154.2h1v8.7h-1zM143 154.2h1v8.7h-1zM155 154.2h1v8.7h-1zM3 163.3h1v8.7h-1zM21 163.3h1v8.7h-1zM23 163.3h2v8.7h-2zM31 163.3h1v8.7h-1zM118 163.3h1v8.7h-1zM141 163.3h1v8.7h-1zM171 163.3h1v8.7h-1zM22 181.5h1v8.7h-1zM84 181.5h1v8.7h-1zM91 181.5h1v8.7h-1zM95 181.5h1v8.7h-1zM181 181.5h1v8.7h-1zM10 199.7h1v8.7h-1zM3 208.8h2v8.7h-2zM106 208.8h1v8.7h-1zM117 208.8h4v8.7h-4zM16 245.1h1v8.7h-1zM139 245.1h1v8.7h-1zM170 245.1h1v8.7h-1zM17 263.2h1v8.7h-1zM49 263.2h2v8.7h-2zM93 263.2h1v8.7h-1zM90 272.3h1v8.7h-1zM162 272.3h1v8.7h-1zM171 272.3h1v8.7h-1zM177 272.3h1v8.7h-1zM17 281.4h2v8.7h-2zM28 281.4h2v8.7h-2zM171 281.4h2v8.7h-2zM95 290.5h3v8.7h-3zM180 290.5h1v8.7h-1zM123 299.6h1v8.7h-1zM154 299.6h1v8.7h-1zM104 308.7h1v8.7h-1zM113 308.7h1v8.7h-1zM12 317.8h1v8.7h-1zM23 326.8h1v8.7h-1zM29 326.8h1v8.7h-1zM155 326.8h1v8.7h-1zM70 335.9h1v8.7h-1zM82 335.9h1v8.7h-1zM123 335.9h1v8.7h-1zM173 335.9h1v8.7h-1zM177 335.9h1v8.7h-1zM5 352.0h1v8.5h-1zM17 352.0h1v8.5h-1zM41 352.0h1v8.5h-1zM70 352.0h2v8.5h-2zM126 352.0h1v8.5h-1zM132 352.0h1v8.5h-1zM162 352.0h2v8.5h-2zM36 360.9h1v8.5h-1zM43 360.9h2v8.5h-2zM107 360.9h1v8.5h-1zM139 360.9h1v8.5h-1zM170 360.9h1v8.5h-1zM72 369.9h1v8.5h-1zM92 369.9h1v8.5h-1zM137 369.9h1v8.5h-1zM146 369.9h1v8.5h-1zM156 369.9h1v8.5h-1zM5 378.8h1v8.5h-1zM54 378.8h1v8.5h-1zM64 378.8h1v8.5h-1zM83 378.8h1v8.5h-1zM7 387.8h1v8.5h-1zM15 387.8h1v8.5h-1zM47 387.8h1v8.5h-1zM70 387.8h2v8.5h-2zM83 387.8h1v8.5h-1zM158 387.8h1v8.5h-1zM160 387.8h2v8.5h-2zM175 387.8h1v8.5h-1zM83 396.7h2v8.5h-2zM109 396.7h1v8.5h-1zM123 396.7h2v8.5h-2zM148 396.7h1v8.5h-1zM153 396.7h1v8.5h-1zM157 396.7h1v8.5h-1zM52 405.6h1v8.5h-1zM65 405.6h1v8.5h-1zM104 405.6h2v8.5h-2zM113 405.6h1v8.5h-1zM118 405.6h1v8.5h-1zM4 414.6h1v8.5h-1zM17 414.6h1v8.5h-1zM37 414.6h1v8.5h-1zM51 414.6h1v8.5h-1zM68 414.6h1v8.5h-1zM79 414.6h2v8.5h-2zM144 414.6h1v8.5h-1zM174 414.6h1v8.5h-1zM2 423.5h1v8.5h-1zM6 423.5h1v8.5h-1zM32 423.5h2v8.5h-2zM93 423.5h1v8.5h-1zM154 423.5h1v8.5h-1zM73 432.5h1v8.5h-1zM109 432.5h2v8.5h-2zM114 432.5h1v8.5h-1zM130 432.5h1v8.5h-1zM7 441.4h1v8.5h-1zM98 441.4h1v8.5h-1zM108 441.4h1v8.5h-1zM160 441.4h1v8.5h-1zM9 450.3h1v8.5h-1zM57 450.3h2v8.5h-2zM65 450.3h1v8.5h-1zM81 450.3h1v8.5h-1zM97 450.3h1v8.5h-1zM102 450.3h1v8.5h-1zM104 450.3h1v8.5h-1zM126 450.3h1v8.5h-1zM148 450.3h1v8.5h-1zM174 450.3h1v8.5h-1zM14 459.3h1v8.5h-1zM37 459.3h1v8.5h-1zM49 459.3h1v8.5h-1zM60 459.3h1v8.5h-1zM109 459.3h1v8.5h-1zM170 459.3h1v8.5h-1zM41 468.2h1v8.5h-1zM55 468.2h1v8.5h-1zM76 468.2h1v8.5h-1zM115 468.2h1v8.5h-1zM119 468.2h1v8.5h-1zM161 468.2h1v8.5h-1zM168 468.2h1v8.5h-1zM4 477.2h1v8.5h-1zM32 477.2h1v8.5h-1zM41 477.2h1v8.5h-1zM114 477.2h1v8.5h-1z"/>
<path fill="#f6c6cc" d="M139 95.6h1v8.4h-1zM15 127.0h1v8.7h-1zM24 136.1h1v8.7h-1zM137 136.1h1v8.7h-1zM40 154.2h1v8.7h-1zM110 181.5h1v8.7h-1zM123 199.7h1v8.7h-1zM21 208.8h1v8.7h-1zM168 245.1h1v8.7h-1zM120 263.2h1v8.7h-1zM57 272.3h1v8.7h-1zM163 308.7h1v8.7h-1zM90 352.0h1v8.5h-1zM168 352.0h1v8.5h-1zM96 369.9h1v8.5h-1zM85 378.8h1v8.5h-1zM175 378.8h1v8.5h-1zM80 405.6h2v8.5h-2zM87 405.6h2v8.5h-2zM125 405.6h1v8.5h-1zM42 423.5h3v8.5h-3zM179 423.5h1v8.5h-1zM17 432.5h1v8.5h-1zM69 432.5h2v8.5h-2zM174 441.4h1v8.5h-1zM31 450.3h1v8.5h-1zM106 450.3h1v8.5h-1zM134 450.3h1v8.5h-1zM43 459.3h1v8.5h-1zM106 459.3h1v8.5h-1zM10 468.2h1v8.5h-1zM59 468.2h2v8.5h-2zM33 477.2h1v8.5h-1zM103 477.2h1v8.5h-1zM157 477.2h1v8.5h-1z"/>
<path fill="#d8deea" d="M142 95.6h2v8.4h-2zM94 104.8h1v8.4h-1zM166 114.0h1v8.4h-1zM58 145.2h2v8.7h-2zM98 145.2h1v8.7h-1zM118 145.2h1v8.7h-1zM143 163.3h1v8.7h-1zM150 172.4h1v8.7h-1zM5 190.6h1v8.7h-1zM44 199.7h1v8.7h-1zM181 208.8h1v8.7h-1zM29 217.8h1v8.7h-1zM91 217.8h1v8.7h-1zM104 217.8h1v8.7h-1zM149 217.8h1v8.7h-1zM4 226.9h3v8.7h-3zM55 226.9h1v8.7h-1zM156 226.9h1v8.7h-1zM176 226.9h1v8.7h-1zM3 236.0h1v8.7h-1zM36 236.0h1v8.7h-1zM120 236.0h1v8.7h-1zM160 236.0h1v8.7h-1zM3 245.1h1v8.7h-1zM13 245.1h1v8.7h-1zM55 245.1h1v8.7h-1zM64 245.1h1v8.7h-1zM27 254.2h1v8.7h-1zM122 254.2h1v8.7h-1zM168 254.2h1v8.7h-1zM139 263.2h1v8.7h-1zM147 263.2h1v8.7h-1zM33 290.5h1v8.7h-1zM66 290.5h1v8.7h-1zM139 308.7h1v8.7h-1zM144 308.7h1v8.7h-1zM43 317.8h1v8.7h-1zM40 352.0h1v8.5h-1zM103 360.9h1v8.5h-1zM27 369.9h1v8.5h-1zM40 369.9h1v8.5h-1zM102 387.8h1v8.5h-1zM181 396.7h1v8.5h-1zM34 405.6h2v8.5h-2zM115 432.5h2v8.5h-2zM4 441.4h2v8.5h-2zM178 441.4h1v8.5h-1zM50 459.3h1v8.5h-1zM156 468.2h2v8.5h-2zM96 477.2h1v8.5h-1z"/>
<path fill="#f6a8a8" d="M144 95.6h2v8.4h-2zM131 114.0h2v8.4h-2zM26 127.0h1v8.7h-1zM23 136.1h1v8.7h-1zM22 145.2h2v8.7h-2zM70 145.2h1v8.7h-1zM141 145.2h1v8.7h-1zM179 145.2h1v8.7h-1zM61 154.2h1v8.7h-1zM168 154.2h2v8.7h-2zM86 181.5h1v8.7h-1zM92 181.5h1v8.7h-1zM17 199.7h1v8.7h-1zM7 208.8h1v8.7h-1zM72 208.8h1v8.7h-1zM111 208.8h1v8.7h-1zM172 236.0h1v8.7h-1zM92 263.2h1v8.7h-1zM164 263.2h1v8.7h-1zM84 272.3h1v8.7h-1zM89 272.3h1v8.7h-1zM16 281.4h1v8.7h-1zM91 281.4h2v8.7h-2zM108 281.4h1v8.7h-1zM170 281.4h1v8.7h-1zM6 290.5h1v8.7h-1zM103 290.5h1v8.7h-1zM114 290.5h1v8.7h-1zM128 299.6h1v8.7h-1zM170 299.6h3v8.7h-3zM179 299.6h1v8.7h-1zM131 308.7h1v8.7h-1zM41 326.8h2v8.7h-2zM61 378.8h1v8.5h-1zM51 387.8h1v8.5h-1zM69 405.6h1v8.5h-1zM97 405.6h1v8.5h-1zM33 414.6h2v8.5h-2zM3 423.5h1v8.5h-1zM19 441.4h1v8.5h-1zM72 441.4h1v8.5h-1zM97 441.4h1v8.5h-1zM110 441.4h1v8.5h-1zM125 441.4h1v8.5h-1zM150 441.4h1v8.5h-1zM165 441.4h1v8.5h-1zM180 441.4h1v8.5h-1zM172 459.3h1v8.5h-1zM48 468.2h1v8.5h-1z"/>
<path fill="#3654a2" d="M155 95.6h1v8.4h-1zM33 114.0h1v8.4h-1zM43 136.1h2v8.7h-2zM25 317.8h1v8.7h-1zM1 378.8h2v8.5h-2zM168 405.6h1v8.5h-1zM71 477.2h1v8.5h-1z"/>
<path fill="#f6f6fc" d="M161 95.6h1v8.4h-1zM80 104.8h2v8.4h-2zM61 114.0h2v8.4h-2zM95 114.0h2v8.4h-2zM0 127.0h1v8.7h-1zM21 127.0h3v8.7h-3zM10 136.1h2v8.7h-2zM41 136.1h1v8.7h-1zM89 136.1h2v8.7h-2zM116 136.1h1v8.7h-1zM170 136.1h1v8.7h-1zM175 145.2h1v8.7h-1zM147 154.2h1v8.7h-1zM64 163.3h1v8.7h-1zM99 163.3h1v8.7h-1zM152 163.3h1v8.7h-1zM158 163.3h2v8.7h-2zM43 172.4h1v8.7h-1zM142 172.4h1v8.7h-1zM168 172.4h1v8.7h-1zM105 181.5h1v8.7h-1zM144 181.5h1v8.7h-1zM117 199.7h2v8.7h-2zM157 208.8h1v8.7h-1zM18 245.1h1v8.7h-1zM153 245.1h2v8.7h-2zM70 254.2h1v8.7h-1zM16 263.2h1v8.7h-1zM56 263.2h1v8.7h-1zM81 263.2h1v8.7h-1zM128 263.2h1v8.7h-1zM119 272.3h1v8.7h-1zM181 281.4h2v8.7h-2zM71 290.5h1v8.7h-1zM76 290.5h1v8.7h-1zM86 290.5h1v8.7h-1zM70 308.7h1v8.7h-1zM73 308.7h1v8.7h-1zM78 308.7h1v8.7h-1zM20 317.8h1v8.7h-1zM80 317.8h1v8.7h-1zM154 335.9h1v8.7h-1zM181 335.9h1v8.7h-1zM18 352.0h1v8.5h-1zM106 352.0h1v8.5h-1zM146 352.0h1v8.5h-1zM25 360.9h1v8.5h-1zM29 360.9h2v8.5h-2zM132 360.9h2v8.5h-2zM142 360.9h1v8.5h-1zM182 360.9h1v8.5h-1zM5 369.9h2v8.5h-2zM24 369.9h2v8.5h-2zM35 369.9h1v8.5h-1zM46 369.9h1v8.5h-1zM66 369.9h1v8.5h-1zM70 369.9h1v8.5h-1zM73 369.9h1v8.5h-1zM105 369.9h2v8.5h-2zM46 378.8h2v8.5h-2zM165 378.8h3v8.5h-3zM89 387.8h1v8.5h-1zM126 387.8h5v8.5h-5zM141 387.8h1v8.5h-1zM151 387.8h1v8.5h-1zM163 387.8h2v8.5h-2zM154 396.7h1v8.5h-1zM94 405.6h1v8.5h-1zM127 405.6h1v8.5h-1zM144 405.6h1v8.5h-1zM163 405.6h1v8.5h-1zM12 414.6h1v8.5h-1zM48 414.6h1v8.5h-1zM71 414.6h2v8.5h-2zM82 414.6h1v8.5h-1zM109 414.6h1v8.5h-1zM179 414.6h2v8.5h-2zM143 423.5h1v8.5h-1zM152 423.5h1v8.5h-1zM172 423.5h1v8.5h-1zM177 423.5h1v8.5h-1zM8 432.5h1v8.5h-1zM22 432.5h1v8.5h-1zM55 432.5h2v8.5h-2zM123 432.5h1v8.5h-1zM31 441.4h1v8.5h-1zM34 441.4h1v8.5h-1zM64 441.4h1v8.5h-1zM99 441.4h1v8.5h-1zM109 441.4h1v8.5h-1zM154 441.4h1v8.5h-1zM6 450.3h1v8.5h-1zM15 450.3h1v8.5h-1zM54 450.3h1v8.5h-1zM78 450.3h1v8.5h-1zM114 450.3h2v8.5h-2zM71 459.3h1v8.5h-1zM93 459.3h2v8.5h-2zM138 459.3h1v8.5h-1zM162 459.3h1v8.5h-1zM0 468.2h2v8.5h-2zM14 468.2h1v8.5h-1zM49 468.2h1v8.5h-1zM85 468.2h1v8.5h-1zM91 468.2h1v8.5h-1zM126 468.2h1v8.5h-1zM144 468.2h1v8.5h-1zM30 477.2h1v8.5h-1zM60 477.2h1v8.5h-1zM144 477.2h2v8.5h-2zM175 477.2h1v8.5h-1z"/>
<path fill="#f0f6fc" d="M162 95.6h1v8.4h-1zM121 104.8h1v8.4h-1zM118 127.0h1v8.7h-1zM16 163.3h1v8.7h-1zM169 163.3h1v8.7h-1zM156 181.5h1v8.7h-1zM158 199.7h1v8.7h-1zM5 208.8h2v8.7h-2zM67 263.2h1v8.7h-1zM179 290.5h1v8.7h-1zM71 308.7h1v8.7h-1zM17 317.8h1v8.7h-1zM83 326.8h1v8.7h-1zM128 326.8h1v8.7h-1zM67 335.9h1v8.7h-1zM119 352.0h1v8.5h-1zM153 352.0h2v8.5h-2zM138 360.9h1v8.5h-1zM99 369.9h1v8.5h-1zM32 405.6h2v8.5h-2zM45 405.6h1v8.5h-1zM53 405.6h1v8.5h-1zM107 414.6h1v8.5h-1zM153 414.6h1v8.5h-1zM4 423.5h1v8.5h-1zM121 423.5h1v8.5h-1zM65 432.5h1v8.5h-1zM90 432.5h2v8.5h-2zM93 441.4h1v8.5h-1zM7 450.3h1v8.5h-1zM25 450.3h1v8.5h-1zM68 450.3h3v8.5h-3zM105 450.3h1v8.5h-1zM146 459.3h2v8.5h-2zM171 459.3h1v8.5h-1zM173 477.2h1v8.5h-1z"/>
<path fill="#dedef0" d="M163 95.6h2v8.4h-2zM169 95.6h2v8.4h-2zM59 114.0h1v8.4h-1zM19 127.0h1v8.7h-1zM78 127.0h1v8.7h-1zM111 127.0h1v8.7h-1zM131 136.1h1v8.7h-1zM104 154.2h2v8.7h-2zM78 163.3h1v8.7h-1zM93 163.3h1v8.7h-1zM161 163.3h1v8.7h-1zM153 172.4h1v8.7h-1zM165 199.7h3v8.7h-3zM175 208.8h1v8.7h-1zM89 217.8h1v8.7h-1zM95 226.9h1v8.7h-1zM61 236.0h1v8.7h-1zM56 254.2h1v8.7h-1zM121 254.2h1v8.7h-1zM86 263.2h1v8.7h-1zM154 272.3h3v8.7h-3zM87 299.6h1v8.7h-1zM110 308.7h1v8.7h-1zM11 317.8h1v8.7h-1zM104 317.8h1v8.7h-1zM109 317.8h1v8.7h-1zM44 335.9h1v8.7h-1zM130 335.9h1v8.7h-1zM110 352.0h1v8.5h-1zM83 360.9h1v8.5h-1zM126 360.9h2v8.5h-2zM165 387.8h1v8.5h-1zM24 396.7h1v8.5h-1zM12 405.6h1v8.5h-1zM142 414.6h2v8.5h-2zM36 432.5h2v8.5h-2zM44 450.3h1v8.5h-1zM169 450.3h1v8.5h-1zM132 459.3h1v8.5h-1zM167 459.3h1v8.5h-1zM47 468.2h1v8.5h-1zM164 468.2h1v8.5h-1zM8 477.2h1v8.5h-1zM168 477.2h4v8.5h-4z"/>
<path fill="#e43036" d="M165 95.6h1v8.4h-1zM126 114.0h1v8.4h-1zM130 127.0h2v8.7h-2zM125 145.2h1v8.7h-1zM0 154.2h1v8.7h-1zM21 154.2h2v8.7h-2zM53 154.2h1v8.7h-1zM177 163.3h1v8.7h-1zM111 172.4h1v8.7h-1zM16 181.5h1v8.7h-1zM18 199.7h2v8.7h-2zM74 199.7h1v8.7h-1zM171 199.7h1v8.7h-1zM0 208.8h3v8.7h-3zM88 208.8h1v8.7h-1zM82 217.8h1v8.7h-1zM2 226.9h1v8.7h-1zM91 236.0h1v8.7h-1zM87 254.2h1v8.7h-1zM123 254.2h1v8.7h-1zM162 263.2h1v8.7h-1zM67 281.4h1v8.7h-1zM58 290.5h1v8.7h-1zM110 299.6h1v8.7h-1zM15 308.7h1v8.7h-1zM148 317.8h2v8.7h-2zM151 317.8h1v8.7h-1zM153 317.8h1v8.7h-1zM26 326.8h2v8.7h-2zM157 326.8h2v8.7h-2zM84 360.9h1v8.5h-1zM158 360.9h1v8.5h-1zM108 405.6h1v8.5h-1zM114 405.6h2v8.5h-2zM14 423.5h2v8.5h-2zM11 450.3h1v8.5h-1zM17 477.2h3v8.5h-3z"/>
<path fill="#96a8d2" d="M175 95.6h2v8.4h-2zM38 114.0h1v8.4h-1zM84 127.0h1v8.7h-1zM140 154.2h1v8.7h-1zM65 199.7h1v8.7h-1zM54 208.8h1v8.7h-1zM65 208.8h2v8.7h-2zM182 208.8h1v8.7h-1zM159 272.3h1v8.7h-1zM23 290.5h2v8.7h-2zM14 299.6h1v8.7h-1zM29 299.6h1v8.7h-1zM56 317.8h1v8.7h-1zM53 326.8h1v8.7h-1zM82 326.8h1v8.7h-1zM36 335.9h1v8.7h-1zM176 396.7h1v8.5h-1zM171 405.6h1v8.5h-1zM178 405.6h1v8.5h-1z"/>
<path fill="#d8def0" d="M182 95.6h1v8.4h-1zM22 104.8h1v8.4h-1zM48 104.8h1v8.4h-1zM72 104.8h1v8.4h-1zM88 104.8h1v8.4h-1zM105 104.8h1v8.4h-1zM109 104.8h1v8.4h-1zM83 127.0h1v8.7h-1zM47 136.1h2v8.7h-2zM145 136.1h1v8.7h-1zM47 154.2h1v8.7h-1zM86 154.2h1v8.7h-1zM134 154.2h1v8.7h-1zM68 163.3h1v8.7h-1zM96 163.3h1v8.7h-1zM106 172.4h1v8.7h-1zM173 172.4h1v8.7h-1zM0 190.6h1v8.7h-1zM21 190.6h1v8.7h-1zM87 190.6h1v8.7h-1zM110 190.6h1v8.7h-1zM159 190.6h1v8.7h-1zM161 190.6h2v8.7h-2zM27 199.7h1v8.7h-1zM33 199.7h1v8.7h-1zM124 199.7h1v8.7h-1zM173 199.7h1v8.7h-1zM15 208.8h1v8.7h-1zM152 208.8h1v8.7h-1zM14 217.8h1v8.7h-1zM49 217.8h1v8.7h-1zM164 217.8h1v8.7h-1zM174 217.8h1v8.7h-1zM178 217.8h1v8.7h-1zM15 226.9h1v8.7h-1zM57 226.9h3v8.7h-3zM153 226.9h1v8.7h-1zM5 236.0h2v8.7h-2zM10 236.0h1v8.7h-1zM32 236.0h1v8.7h-1zM109 236.0h1v8.7h-1zM182 236.0h1v8.7h-1zM6 245.1h2v8.7h-2zM12 245.1h1v8.7h-1zM43 245.1h1v8.7h-1zM45 245.1h2v8.7h-2zM53 245.1h2v8.7h-2zM66 245.1h1v8.7h-1zM29 254.2h1v8.7h-1zM47 254.2h1v8.7h-1zM25 263.2h1v8.7h-1zM59 263.2h1v8.7h-1zM143 263.2h1v8.7h-1zM22 272.3h1v8.7h-1zM39 272.3h1v8.7h-1zM4 290.5h1v8.7h-1zM27 290.5h2v8.7h-2zM69 290.5h1v8.7h-1zM91 290.5h2v8.7h-2zM30 308.7h1v8.7h-1zM73 317.8h1v8.7h-1zM111 317.8h1v8.7h-1zM135 317.8h1v8.7h-1zM12 326.8h1v8.7h-1zM30 326.8h1v8.7h-1zM50 326.8h1v8.7h-1zM60 335.9h1v8.7h-1zM46 352.0h1v8.5h-1zM54 352.0h1v8.5h-1zM103 352.0h1v8.5h-1zM124 352.0h1v8.5h-1zM93 360.9h2v8.5h-2zM67 369.9h3v8.5h-3zM84 369.9h1v8.5h-1zM134 369.9h1v8.5h-1zM162 369.9h1v8.5h-1zM59 378.8h2v8.5h-2zM104 378.8h1v8.5h-1zM180 378.8h2v8.5h-2zM98 387.8h1v8.5h-1zM159 387.8h1v8.5h-1zM103 396.7h3v8.5h-3zM133 396.7h4v8.5h-4zM27 405.6h2v8.5h-2zM147 405.6h1v8.5h-1zM43 414.6h1v8.5h-1zM76 423.5h3v8.5h-3zM105 423.5h1v8.5h-1zM123 423.5h1v8.5h-1zM170 423.5h1v8.5h-1zM85 432.5h1v8.5h-1zM9 441.4h1v8.5h-1zM146 441.4h1v8.5h-1zM142 450.3h2v8.5h-2zM177 459.3h1v8.5h-1zM13 468.2h1v8.5h-1zM46 468.2h1v8.5h-1zM62 468.2h1v8.5h-1zM61 477.2h1v8.5h-1zM79 477.2h1v8.5h-1zM151 477.2h1v8.5h-1z"/>
<path fill="#304ea2" d="M9 104.8h1v8.4h-1zM28 104.8h1v8.4h-1zM34 104.8h1v8.4h-1zM22 114.0h1v8.4h-1zM120 163.3h1v8.7h-1zM64 272.3h1v8.7h-1zM127 272.3h2v8.7h-2zM34 281.4h1v8.7h-1zM123 317.8h1v8.7h-1zM50 335.9h2v8.7h-2zM96 335.9h1v8.7h-1zM139 335.9h1v8.7h-1zM104 352.0h1v8.5h-1zM29 378.8h1v8.5h-1zM117 378.8h1v8.5h-1zM45 396.7h2v8.5h-2zM106 432.5h1v8.5h-1zM124 432.5h1v8.5h-1zM108 450.3h1v8.5h-1zM168 450.3h1v8.5h-1z"/>
<path fill="#6c84c0" d="M10 104.8h1v8.4h-1zM35 114.0h1v8.4h-1zM97 127.0h1v8.7h-1zM120 145.2h2v8.7h-2zM11 181.5h2v8.7h-2zM62 199.7h1v8.7h-1zM52 208.8h1v8.7h-1zM172 263.2h1v8.7h-1zM42 272.3h2v8.7h-2zM7 290.5h1v8.7h-1zM91 299.6h1v8.7h-1zM86 317.8h1v8.7h-1zM132 387.8h1v8.5h-1zM5 432.5h1v8.5h-1z"/>
<path fill="#f6a2a8" d="M14 104.8h1v8.4h-1zM160 104.8h3v8.4h-3zM97 114.0h2v8.4h-2zM162 127.0h1v8.7h-1zM19 145.2h2v8.7h-2zM89 199.7h1v8.7h-1zM103 236.0h1v8.7h-1zM84 245.1h1v8.7h-1zM125 281.4h1v8.7h-1zM3 326.8h1v8.7h-1zM148 335.9h1v8.7h-1zM126 396.7h2v8.5h-2zM144 396.7h1v8.5h-1zM151 396.7h1v8.5h-1zM99 405.6h1v8.5h-1zM136 441.4h1v8.5h-1zM9 459.3h1v8.5h-1zM33 459.3h1v8.5h-1zM142 477.2h1v8.5h-1z"/>
<path fill="#fcdee4" d="M16 104.8h2v8.4h-2zM79 104.8h1v8.4h-1zM96 104.8h1v8.4h-1zM24 127.0h1v8.7h-1zM74 136.1h1v8.7h-1zM124 136.1h1v8.7h-1zM55 181.5h1v8.7h-1zM110 254.2h1v8.7h-1zM84 263.2h1v8.7h-1zM136 290.5h1v8.7h-1zM132 335.9h1v8.7h-1zM51 360.9h1v8.5h-1zM78 360.9h2v8.5h-2zM16 369.9h1v8.5h-1zM19 378.8h1v8.5h-1zM36 387.8h1v8.5h-1zM152 396.7h1v8.5h-1zM44 405.6h1v8.5h-1zM59 414.6h1v8.5h-1zM46 441.4h1v8.5h-1zM50 450.3h1v8.5h-1zM112 450.3h2v8.5h-2zM58 459.3h1v8.5h-1z"/>
<path fill="#e4e4f0" d="M20 104.8h1v8.4h-1zM58 104.8h1v8.4h-1zM111 114.0h1v8.4h-1zM17 127.0h1v8.7h-1zM82 127.0h1v8.7h-1zM129 127.0h1v8.7h-1zM50 136.1h1v8.7h-1zM149 145.2h2v8.7h-2zM181 145.2h1v8.7h-1zM76 154.2h1v8.7h-1zM83 163.3h1v8.7h-1zM168 163.3h1v8.7h-1zM175 163.3h1v8.7h-1zM15 181.5h1v8.7h-1zM177 181.5h1v8.7h-1zM145 199.7h2v8.7h-2zM59 217.8h1v8.7h-1zM94 217.8h1v8.7h-1zM166 236.0h1v8.7h-1zM130 245.1h1v8.7h-1zM164 245.1h1v8.7h-1zM89 263.2h1v8.7h-1zM59 272.3h1v8.7h-1zM1 308.7h1v8.7h-1zM166 308.7h1v8.7h-1zM176 308.7h1v8.7h-1zM133 326.8h1v8.7h-1zM8 335.9h1v8.7h-1zM182 335.9h1v8.7h-1zM19 352.0h1v8.5h-1zM61 352.0h1v8.5h-1zM59 360.9h2v8.5h-2zM67 360.9h1v8.5h-1zM92 360.9h1v8.5h-1zM131 360.9h1v8.5h-1zM87 378.8h1v8.5h-1zM89 378.8h1v8.5h-1zM99 378.8h1v8.5h-1zM30 387.8h1v8.5h-1zM38 387.8h1v8.5h-1zM50 387.8h1v8.5h-1zM36 396.7h1v8.5h-1zM64 396.7h1v8.5h-1zM66 396.7h3v8.5h-3zM8 405.6h2v8.5h-2zM132 414.6h1v8.5h-1zM29 423.5h1v8.5h-1zM79 423.5h1v8.5h-1zM146 423.5h1v8.5h-1zM1 432.5h1v8.5h-1zM153 432.5h2v8.5h-2zM57 441.4h1v8.5h-1zM62 441.4h1v8.5h-1zM48 450.3h1v8.5h-1zM147 450.3h1v8.5h-1zM3 459.3h1v8.5h-1zM11 459.3h1v8.5h-1zM137 459.3h1v8.5h-1zM128 468.2h1v8.5h-1z"/>
<path fill="#96a2cc" d="M32 104.8h1v8.4h-1zM104 145.2h1v8.7h-1zM145 208.8h1v8.7h-1zM25 272.3h2v8.7h-2zM43 405.6h1v8.5h-1zM74 423.5h1v8.5h-1z"/>
<path fill="#546cb4" d="M33 104.8h1v8.4h-1zM10 114.0h2v8.4h-2zM15 114.0h1v8.4h-1zM105 127.0h2v8.7h-2zM37 181.5h1v8.7h-1zM63 181.5h1v8.7h-1zM31 208.8h1v8.7h-1zM49 208.8h1v8.7h-1zM120 272.3h2v8.7h-2zM151 272.3h1v8.7h-1zM179 272.3h1v8.7h-1zM49 281.4h1v8.7h-1zM153 290.5h1v8.7h-1zM19 299.6h1v8.7h-1zM61 326.8h2v8.7h-2zM80 369.9h1v8.5h-1zM0 378.8h1v8.5h-1zM40 378.8h1v8.5h-1zM4 387.8h1v8.5h-1zM55 387.8h1v8.5h-1zM15 396.7h1v8.5h-1zM142 396.7h1v8.5h-1zM156 396.7h1v8.5h-1zM20 405.6h2v8.5h-2zM140 405.6h1v8.5h-1zM2 414.6h1v8.5h-1zM76 414.6h1v8.5h-1zM20 432.5h1v8.5h-1zM30 441.4h1v8.5h-1zM23 459.3h1v8.5h-1zM65 459.3h1v8.5h-1zM98 459.3h1v8.5h-1zM154 459.3h1v8.5h-1zM159 459.3h1v8.5h-1zM3 468.2h1v8.5h-1zM45 468.2h1v8.5h-1z"/>
<path fill="#5a6cb4" d="M42 104.8h1v8.4h-1zM120 127.0h2v8.7h-2zM38 154.2h1v8.7h-1zM131 163.3h2v8.7h-2zM156 163.3h1v8.7h-1zM41 208.8h3v8.7h-3zM48 272.3h1v8.7h-1zM160 281.4h1v8.7h-1zM90 290.5h1v8.7h-1zM165 308.7h1v8.7h-1zM60 326.8h1v8.7h-1zM126 326.8h1v8.7h-1zM137 335.9h2v8.7h-2zM12 378.8h1v8.5h-1zM84 387.8h2v8.5h-2zM180 405.6h1v8.5h-1z"/>
<path fill="#fcf0f0" d="M44 104.8h1v8.4h-1zM68 104.8h1v8.4h-1zM107 104.8h1v8.4h-1zM131 104.8h1v8.4h-1zM168 114.0h1v8.4h-1zM178 114.0h1v8.4h-1zM44 127.0h1v8.7h-1zM135 127.0h1v8.7h-1zM140 127.0h3v8.7h-3zM27 136.1h2v8.7h-2zM147 136.1h1v8.7h-1zM172 136.1h1v8.7h-1zM48 145.2h1v8.7h-1zM122 145.2h1v8.7h-1zM8 154.2h2v8.7h-2zM90 154.2h3v8.7h-3zM157 154.2h1v8.7h-1zM165 154.2h1v8.7h-1zM10 163.3h1v8.7h-1zM12 163.3h1v8.7h-1zM77 163.3h1v8.7h-1zM135 163.3h1v8.7h-1zM142 163.3h1v8.7h-1zM25 172.4h1v8.7h-1zM45 172.4h1v8.7h-1zM48 172.4h1v8.7h-1zM56 172.4h1v8.7h-1zM82 172.4h1v8.7h-1zM91 172.4h1v8.7h-1zM150 181.5h1v8.7h-1zM153 181.5h1v8.7h-1zM14 199.7h1v8.7h-1zM130 199.7h1v8.7h-1zM177 199.7h1v8.7h-1zM17 208.8h1v8.7h-1zM76 208.8h1v8.7h-1zM143 208.8h1v8.7h-1zM169 245.1h1v8.7h-1zM101 254.2h1v8.7h-1zM106 254.2h1v8.7h-1zM87 263.2h1v8.7h-1zM178 263.2h1v8.7h-1zM12 272.3h1v8.7h-1zM157 272.3h1v8.7h-1zM4 281.4h1v8.7h-1zM54 281.4h1v8.7h-1zM111 281.4h1v8.7h-1zM142 290.5h1v8.7h-1zM96 299.6h1v8.7h-1zM108 299.6h2v8.7h-2zM134 299.6h1v8.7h-1zM22 308.7h1v8.7h-1zM86 308.7h3v8.7h-3zM162 308.7h1v8.7h-1zM114 317.8h1v8.7h-1zM170 317.8h1v8.7h-1zM44 326.8h1v8.7h-1zM100 326.8h1v8.7h-1zM108 335.9h1v8.7h-1zM170 335.9h1v8.7h-1zM0 352.0h2v8.5h-2zM16 352.0h1v8.5h-1zM129 352.0h1v8.5h-1zM173 352.0h1v8.5h-1zM119 360.9h1v8.5h-1zM136 360.9h1v8.5h-1zM151 360.9h1v8.5h-1zM163 360.9h1v8.5h-1zM32 369.9h1v8.5h-1zM76 369.9h2v8.5h-2zM174 369.9h1v8.5h-1zM16 378.8h1v8.5h-1zM66 378.8h1v8.5h-1zM76 378.8h1v8.5h-1zM121 378.8h1v8.5h-1zM168 378.8h1v8.5h-1zM17 387.8h1v8.5h-1zM53 387.8h1v8.5h-1zM81 387.8h1v8.5h-1zM94 387.8h1v8.5h-1zM153 387.8h1v8.5h-1zM176 387.8h1v8.5h-1zM30 396.7h1v8.5h-1zM99 396.7h1v8.5h-1zM177 396.7h2v8.5h-2zM49 405.6h1v8.5h-1zM67 405.6h1v8.5h-1zM93 405.6h1v8.5h-1zM119 405.6h1v8.5h-1zM126 405.6h1v8.5h-1zM160 405.6h3v8.5h-3zM170 405.6h1v8.5h-1zM24 414.6h1v8.5h-1zM28 414.6h1v8.5h-1zM45 414.6h1v8.5h-1zM57 414.6h1v8.5h-1zM124 414.6h3v8.5h-3zM129 414.6h1v8.5h-1zM139 414.6h1v8.5h-1zM23 423.5h1v8.5h-1zM60 423.5h1v8.5h-1zM86 423.5h1v8.5h-1zM96 423.5h1v8.5h-1zM142 423.5h1v8.5h-1zM156 423.5h1v8.5h-1zM163 423.5h1v8.5h-1zM41 432.5h1v8.5h-1zM159 432.5h1v8.5h-1zM177 432.5h1v8.5h-1zM14 441.4h1v8.5h-1zM39 441.4h2v8.5h-2zM53 441.4h1v8.5h-1zM67 441.4h1v8.5h-1zM78 441.4h1v8.5h-1zM94 441.4h1v8.5h-1zM101 441.4h1v8.5h-1zM105 441.4h2v8.5h-2zM163 441.4h1v8.5h-1zM168 441.4h1v8.5h-1zM10 450.3h1v8.5h-1zM123 450.3h1v8.5h-1zM145 450.3h1v8.5h-1zM149 450.3h1v8.5h-1zM154 450.3h1v8.5h-1zM176 450.3h2v8.5h-2zM36 459.3h1v8.5h-1zM47 459.3h2v8.5h-2zM51 459.3h1v8.5h-1zM86 459.3h1v8.5h-1zM95 459.3h1v8.5h-1zM169 459.3h1v8.5h-1zM5 468.2h4v8.5h-4zM38 468.2h1v8.5h-1zM56 468.2h1v8.5h-1zM66 468.2h2v8.5h-2zM93 468.2h1v8.5h-1zM148 468.2h2v8.5h-2zM169 468.2h1v8.5h-1zM47 477.2h1v8.5h-1zM64 477.2h1v8.5h-1zM102 477.2h1v8.5h-1zM107 477.2h1v8.5h-1zM124 477.2h1v8.5h-1zM127 477.2h1v8.5h-1zM137 477.2h1v8.5h-1zM147 477.2h1v8.5h-1z"/>
<path fill="#90a2cc" d="M45 104.8h1v8.4h-1zM171 145.2h1v8.7h-1zM105 172.4h1v8.7h-1zM49 199.7h1v8.7h-1zM175 199.7h1v8.7h-1zM30 208.8h1v8.7h-1zM37 272.3h1v8.7h-1zM44 281.4h1v8.7h-1zM134 281.4h2v8.7h-2zM67 290.5h1v8.7h-1zM59 317.8h2v8.7h-2zM88 317.8h2v8.7h-2zM133 335.9h1v8.7h-1zM16 396.7h1v8.5h-1zM22 396.7h1v8.5h-1zM26 396.7h2v8.5h-2z"/>
<path fill="#909ccc" d="M54 104.8h1v8.4h-1zM65 104.8h1v8.4h-1zM110 104.8h1v8.4h-1zM2 114.0h1v8.4h-1zM46 127.0h1v8.7h-1zM92 127.0h1v8.7h-1zM94 127.0h1v8.7h-1zM96 154.2h1v8.7h-1zM30 199.7h1v8.7h-1zM29 208.8h1v8.7h-1zM53 208.8h1v8.7h-1zM147 208.8h1v8.7h-1zM176 272.3h1v8.7h-1zM49 299.6h1v8.7h-1zM56 326.8h1v8.7h-1zM88 326.8h1v8.7h-1zM38 459.3h1v8.5h-1z"/>
<path fill="#3c54a8" d="M55 104.8h1v8.4h-1zM53 114.0h1v8.4h-1zM155 114.0h1v8.4h-1zM110 136.1h2v8.7h-2zM170 145.2h1v8.7h-1zM173 163.3h1v8.7h-1zM127 172.4h1v8.7h-1zM177 172.4h1v8.7h-1zM165 181.5h1v8.7h-1zM63 281.4h1v8.7h-1zM175 281.4h1v8.7h-1zM45 299.6h1v8.7h-1zM63 299.6h2v8.7h-2zM39 317.8h1v8.7h-1zM47 326.8h2v8.7h-2zM3 360.9h1v8.5h-1zM88 360.9h1v8.5h-1zM22 369.9h1v8.5h-1zM52 378.8h1v8.5h-1zM90 387.8h1v8.5h-1zM23 414.6h1v8.5h-1zM47 423.5h1v8.5h-1zM3 441.4h1v8.5h-1zM61 441.4h1v8.5h-1zM24 450.3h1v8.5h-1zM79 468.2h1v8.5h-1zM106 468.2h1v8.5h-1zM141 477.2h1v8.5h-1z"/>
<path fill="#6072b4" d="M57 104.8h1v8.4h-1zM63 208.8h1v8.7h-1zM18 263.2h2v8.7h-2zM108 263.2h1v8.7h-1zM11 272.3h1v8.7h-1zM77 308.7h1v8.7h-1zM55 326.8h1v8.7h-1zM31 335.9h1v8.7h-1zM39 335.9h1v8.7h-1zM26 360.9h1v8.5h-1zM27 378.8h1v8.5h-1zM115 378.8h2v8.5h-2zM126 378.8h1v8.5h-1zM32 396.7h1v8.5h-1zM15 459.3h1v8.5h-1zM36 468.2h1v8.5h-1zM103 468.2h1v8.5h-1z"/>
<path fill="#ea6666" d="M91 104.8h1v8.4h-1zM115 104.8h1v8.4h-1zM13 127.0h1v8.7h-1zM41 127.0h1v8.7h-1zM27 172.4h1v8.7h-1zM97 217.8h1v8.7h-1zM74 226.9h1v8.7h-1zM115 245.1h1v8.7h-1zM100 272.3h1v8.7h-1zM129 308.7h1v8.7h-1zM164 317.8h1v8.7h-1zM13 326.8h1v8.7h-1zM147 335.9h1v8.7h-1z"/>
<path fill="#eaf0f6" d="M93 104.8h1v8.4h-1zM101 104.8h2v8.4h-2zM49 114.0h1v8.4h-1zM8 127.0h1v8.7h-1zM55 127.0h1v8.7h-1zM59 127.0h1v8.7h-1zM61 127.0h1v8.7h-1zM157 127.0h1v8.7h-1zM83 136.1h1v8.7h-1zM182 136.1h1v8.7h-1zM115 145.2h2v8.7h-2zM128 145.2h1v8.7h-1zM99 154.2h1v8.7h-1zM171 154.2h2v8.7h-2zM164 163.3h1v8.7h-1zM128 172.4h1v8.7h-1zM159 172.4h1v8.7h-1zM21 181.5h1v8.7h-1zM127 181.5h1v8.7h-1zM147 199.7h2v8.7h-2zM164 208.8h1v8.7h-1zM51 263.2h1v8.7h-1zM30 272.3h1v8.7h-1zM65 272.3h2v8.7h-2zM142 272.3h1v8.7h-1zM48 281.4h1v8.7h-1zM1 290.5h2v8.7h-2zM15 290.5h1v8.7h-1zM60 290.5h1v8.7h-1zM62 290.5h1v8.7h-1zM84 299.6h1v8.7h-1zM75 308.7h2v8.7h-2zM175 308.7h1v8.7h-1zM29 317.8h1v8.7h-1zM128 317.8h1v8.7h-1zM9 352.0h3v8.5h-3zM21 352.0h1v8.5h-1zM30 352.0h1v8.5h-1zM72 352.0h1v8.5h-1zM145 352.0h1v8.5h-1zM41 360.9h1v8.5h-1zM95 360.9h1v8.5h-1zM23 369.9h1v8.5h-1zM91 369.9h1v8.5h-1zM50 378.8h1v8.5h-1zM40 387.8h1v8.5h-1zM167 387.8h1v8.5h-1zM158 396.7h1v8.5h-1zM14 405.6h1v8.5h-1zM121 405.6h1v8.5h-1zM45 423.5h1v8.5h-1zM101 423.5h2v8.5h-2zM118 423.5h1v8.5h-1zM148 432.5h1v8.5h-1zM147 441.4h1v8.5h-1zM172 441.4h1v8.5h-1zM22 450.3h1v8.5h-1zM109 450.3h2v8.5h-2zM27 459.3h1v8.5h-1zM32 468.2h2v8.5h-2zM52 468.2h1v8.5h-1zM131 468.2h1v8.5h-1zM148 477.2h1v8.5h-1z"/>
<path fill="#aebad8" d="M100 104.8h1v8.4h-1zM9 114.0h1v8.4h-1zM109 145.2h1v8.7h-1zM136 145.2h1v8.7h-1zM130 154.2h1v8.7h-1zM101 163.3h2v8.7h-2zM63 199.7h2v8.7h-2zM138 208.8h2v8.7h-2zM141 208.8h1v8.7h-1zM140 245.1h1v8.7h-1zM31 263.2h1v8.7h-1zM47 263.2h2v8.7h-2zM59 281.4h1v8.7h-1zM141 281.4h1v8.7h-1zM22 290.5h1v8.7h-1zM26 290.5h1v8.7h-1zM85 299.6h1v8.7h-1zM100 299.6h1v8.7h-1zM72 308.7h1v8.7h-1zM30 317.8h2v8.7h-2zM98 317.8h1v8.7h-1zM40 326.8h1v8.7h-1zM73 335.9h1v8.7h-1zM50 369.9h1v8.5h-1zM111 387.8h2v8.5h-2zM12 396.7h2v8.5h-2zM161 396.7h1v8.5h-1zM179 405.6h1v8.5h-1zM52 423.5h1v8.5h-1z"/>
<path fill="#5466b4" d="M132 104.8h1v8.4h-1zM48 378.8h1v8.5h-1z"/>
<path fill="#e4484e" d="M142 104.8h1v8.4h-1zM173 114.0h1v8.4h-1zM10 127.0h1v8.7h-1zM42 127.0h1v8.7h-1zM104 127.0h1v8.7h-1zM115 127.0h1v8.7h-1zM19 154.2h1v8.7h-1zM103 163.3h1v8.7h-1zM14 172.4h1v8.7h-1zM70 199.7h1v8.7h-1zM45 226.9h1v8.7h-1zM180 369.9h1v8.5h-1zM96 396.7h1v8.5h-1zM17 441.4h1v8.5h-1zM43 450.3h1v8.5h-1zM28 477.2h1v8.5h-1zM44 477.2h1v8.5h-1zM167 477.2h1v8.5h-1z"/>
<path fill="#f09c9c" d="M153 104.8h1v8.4h-1zM175 114.0h1v8.4h-1zM39 127.0h2v8.7h-2zM138 127.0h1v8.7h-1zM5 136.1h1v8.7h-1zM56 145.2h1v8.7h-1zM55 163.3h1v8.7h-1zM79 163.3h1v8.7h-1zM44 172.4h1v8.7h-1zM105 190.6h1v8.7h-1zM90 199.7h1v8.7h-1zM96 245.1h1v8.7h-1zM72 254.2h1v8.7h-1zM86 254.2h1v8.7h-1zM83 263.2h1v8.7h-1zM110 272.3h3v8.7h-3zM53 281.4h1v8.7h-1zM107 281.4h1v8.7h-1zM154 281.4h1v8.7h-1zM92 326.8h1v8.7h-1zM52 360.9h1v8.5h-1zM153 369.9h1v8.5h-1zM80 396.7h1v8.5h-1zM27 432.5h1v8.5h-1zM52 450.3h1v8.5h-1zM156 450.3h2v8.5h-2zM69 459.3h1v8.5h-1zM104 468.2h1v8.5h-1z"/>
<path fill="#f08a8a" d="M164 104.8h1v8.4h-1zM5 127.0h1v8.7h-1zM135 136.1h1v8.7h-1zM37 145.2h1v8.7h-1zM35 163.3h1v8.7h-1zM56 163.3h1v8.7h-1zM93 199.7h1v8.7h-1zM105 208.8h1v8.7h-1zM17 217.8h1v8.7h-1zM71 236.0h1v8.7h-1zM106 245.1h1v8.7h-1zM109 245.1h1v8.7h-1zM94 254.2h3v8.7h-3zM176 263.2h1v8.7h-1zM103 281.4h1v8.7h-1zM115 290.5h2v8.7h-2zM151 299.6h1v8.7h-1zM20 326.8h1v8.7h-1zM113 335.9h1v8.7h-1zM128 369.9h1v8.5h-1zM111 414.6h1v8.5h-1zM131 441.4h1v8.5h-1zM42 450.3h1v8.5h-1z"/>
<path fill="#aebade" d="M43 114.0h1v8.4h-1zM160 145.2h1v8.7h-1zM161 172.4h1v8.7h-1zM31 199.7h1v8.7h-1zM34 199.7h1v8.7h-1zM141 199.7h3v8.7h-3zM168 199.7h1v8.7h-1zM17 272.3h2v8.7h-2zM162 281.4h1v8.7h-1zM67 317.8h2v8.7h-2zM122 352.0h2v8.5h-2zM131 352.0h1v8.5h-1zM93 387.8h1v8.5h-1zM56 396.7h1v8.5h-1zM21 432.5h1v8.5h-1zM14 450.3h1v8.5h-1z"/>
<path fill="#d8d8ea" d="M56 114.0h1v8.4h-1zM175 172.4h2v8.7h-2zM74 181.5h1v8.7h-1zM11 190.6h1v8.7h-1zM45 190.6h1v8.7h-1zM49 190.6h1v8.7h-1zM90 190.6h1v8.7h-1zM7 217.8h1v8.7h-1zM113 236.0h1v8.7h-1zM155 236.0h1v8.7h-1zM145 254.2h1v8.7h-1zM41 281.4h1v8.7h-1zM39 308.7h1v8.7h-1zM53 378.8h1v8.5h-1zM7 405.6h1v8.5h-1zM32 441.4h1v8.5h-1zM116 468.2h1v8.5h-1z"/>
<path fill="#7e8ac6" d="M57 114.0h1v8.4h-1zM52 199.7h1v8.7h-1zM23 263.2h1v8.7h-1zM44 272.3h2v8.7h-2zM30 281.4h2v8.7h-2zM28 335.9h1v8.7h-1z"/>
<path fill="#6c7ec0" d="M58 114.0h1v8.4h-1zM110 154.2h1v8.7h-1zM15 172.4h1v8.7h-1zM138 199.7h1v8.7h-1zM127 317.8h1v8.7h-1zM78 369.9h1v8.5h-1zM86 378.8h1v8.5h-1zM32 459.3h1v8.5h-1z"/>
<path fill="#f6ccd2" d="M105 114.0h1v8.4h-1zM11 127.0h2v8.7h-2zM143 127.0h2v8.7h-2zM148 136.1h1v8.7h-1zM164 154.2h1v8.7h-1zM14 163.3h1v8.7h-1zM139 163.3h2v8.7h-2zM150 163.3h1v8.7h-1zM8 172.4h1v8.7h-1zM13 208.8h1v8.7h-1zM120 245.1h1v8.7h-1zM103 263.2h1v8.7h-1zM169 263.2h2v8.7h-2zM128 290.5h1v8.7h-1zM167 308.7h1v8.7h-1zM144 317.8h1v8.7h-1zM163 317.8h1v8.7h-1zM153 335.9h1v8.7h-1zM47 352.0h1v8.5h-1zM53 352.0h1v8.5h-1zM171 352.0h1v8.5h-1zM157 360.9h1v8.5h-1zM30 369.9h1v8.5h-1zM116 369.9h1v8.5h-1zM92 378.8h1v8.5h-1zM103 387.8h1v8.5h-1zM122 396.7h1v8.5h-1zM137 396.7h1v8.5h-1zM65 414.6h1v8.5h-1zM119 414.6h1v8.5h-1zM27 423.5h1v8.5h-1zM181 432.5h1v8.5h-1zM8 441.4h1v8.5h-1zM32 450.3h1v8.5h-1zM51 450.3h1v8.5h-1zM72 450.3h1v8.5h-1zM82 450.3h1v8.5h-1zM82 459.3h2v8.5h-2zM103 459.3h1v8.5h-1zM70 468.2h1v8.5h-1zM160 468.2h1v8.5h-1zM182 468.2h1v8.5h-1zM100 477.2h1v8.5h-1z"/>
<path fill="#fce4ea" d="M122 114.0h2v8.4h-2zM138 114.0h1v8.4h-1zM31 127.0h1v8.7h-1zM123 127.0h1v8.7h-1zM136 127.0h1v8.7h-1zM133 163.3h2v8.7h-2zM11 245.1h1v8.7h-1zM19 272.3h1v8.7h-1zM145 272.3h2v8.7h-2zM123 308.7h1v8.7h-1zM136 308.7h1v8.7h-1zM166 326.8h1v8.7h-1zM9 387.8h1v8.5h-1zM134 405.6h3v8.5h-3zM85 423.5h1v8.5h-1zM24 432.5h1v8.5h-1zM145 432.5h1v8.5h-1zM103 441.4h1v8.5h-1zM40 450.3h1v8.5h-1z"/>
<path fill="#e43636" d="M135 114.0h1v8.4h-1zM77 127.0h1v8.7h-1zM51 136.1h1v8.7h-1zM54 154.2h1v8.7h-1zM116 317.8h2v8.7h-2zM134 335.9h1v8.7h-1zM98 477.2h1v8.5h-1z"/>
<path fill="#fcd2d2" d="M144 114.0h1v8.4h-1zM89 127.0h2v8.7h-2zM33 136.1h1v8.7h-1zM80 145.2h1v8.7h-1zM44 154.2h1v8.7h-1zM18 163.3h1v8.7h-1zM52 163.3h2v8.7h-2zM59 172.4h1v8.7h-1zM100 181.5h1v8.7h-1zM126 181.5h1v8.7h-1zM1 199.7h1v8.7h-1zM94 245.1h1v8.7h-1zM101 245.1h2v8.7h-2zM78 263.2h1v8.7h-1zM5 281.4h1v8.7h-1zM161 281.4h1v8.7h-1zM165 281.4h1v8.7h-1zM126 290.5h2v8.7h-2zM124 308.7h1v8.7h-1zM101 326.8h1v8.7h-1zM107 326.8h1v8.7h-1zM3 335.9h1v8.7h-1zM52 335.9h1v8.7h-1zM108 352.0h1v8.5h-1zM143 352.0h1v8.5h-1zM100 360.9h1v8.5h-1zM115 360.9h1v8.5h-1zM118 360.9h1v8.5h-1zM37 369.9h1v8.5h-1zM44 369.9h1v8.5h-1zM120 369.9h1v8.5h-1zM13 378.8h1v8.5h-1zM120 378.8h1v8.5h-1zM45 387.8h1v8.5h-1zM168 387.8h3v8.5h-3zM70 405.6h1v8.5h-1zM89 405.6h1v8.5h-1zM175 405.6h1v8.5h-1zM107 423.5h1v8.5h-1zM54 432.5h1v8.5h-1zM95 441.4h1v8.5h-1zM132 441.4h1v8.5h-1zM140 441.4h1v8.5h-1zM4 450.3h1v8.5h-1zM36 450.3h1v8.5h-1zM53 450.3h1v8.5h-1zM91 450.3h2v8.5h-2zM139 450.3h1v8.5h-1zM170 450.3h1v8.5h-1zM135 459.3h2v8.5h-2zM150 459.3h2v8.5h-2zM160 459.3h2v8.5h-2zM86 468.2h3v8.5h-3zM36 477.2h1v8.5h-1zM62 477.2h1v8.5h-1z"/>
<path fill="#ea6060" d="M54 127.0h1v8.7h-1zM25 145.2h1v8.7h-1zM28 172.4h4v8.7h-4zM69 245.1h1v8.7h-1zM100 245.1h1v8.7h-1zM107 299.6h1v8.7h-1zM136 299.6h1v8.7h-1zM138 299.6h1v8.7h-1zM132 308.7h1v8.7h-1zM52 459.3h1v8.5h-1z"/>
<path fill="#fceaf0" d="M126 127.0h1v8.7h-1zM116 163.3h1v8.7h-1zM149 172.4h1v8.7h-1zM73 181.5h1v8.7h-1zM13 199.7h1v8.7h-1zM94 317.8h1v8.7h-1zM68 352.0h1v8.5h-1zM143 360.9h4v8.5h-4zM0 387.8h1v8.5h-1zM131 405.6h1v8.5h-1zM120 414.6h2v8.5h-2zM148 423.5h1v8.5h-1zM178 432.5h1v8.5h-1zM27 450.3h3v8.5h-3zM107 450.3h1v8.5h-1zM143 477.2h1v8.5h-1zM178 477.2h3v8.5h-3z"/>
<path fill="#fcd2d8" d="M127 127.0h1v8.7h-1zM12 136.1h1v8.7h-1zM75 136.1h1v8.7h-1zM129 136.1h1v8.7h-1zM24 154.2h1v8.7h-1zM117 172.4h1v8.7h-1zM99 181.5h1v8.7h-1zM118 181.5h2v8.7h-2zM130 208.8h1v8.7h-1zM72 263.2h1v8.7h-1zM158 272.3h1v8.7h-1zM20 281.4h1v8.7h-1zM64 281.4h1v8.7h-1zM130 281.4h1v8.7h-1zM150 281.4h1v8.7h-1zM150 290.5h1v8.7h-1zM136 352.0h2v8.5h-2zM163 378.8h1v8.5h-1zM27 387.8h1v8.5h-1zM58 387.8h2v8.5h-2zM75 396.7h1v8.5h-1zM49 414.6h2v8.5h-2zM82 423.5h1v8.5h-1zM166 423.5h1v8.5h-1zM43 432.5h1v8.5h-1zM156 432.5h1v8.5h-1zM167 432.5h1v8.5h-1zM170 432.5h1v8.5h-1zM141 450.3h1v8.5h-1zM89 459.3h2v8.5h-2zM143 468.2h1v8.5h-1zM12 477.2h1v8.5h-1zM63 477.2h1v8.5h-1zM136 477.2h1v8.5h-1z"/>
<path fill="#e43030" d="M150 127.0h1v8.7h-1zM94 208.8h1v8.7h-1zM128 360.9h1v8.5h-1z"/>
<path fill="#a8aed8" d="M152 127.0h1v8.7h-1z"/>
<path fill="#5466ae" d="M164 127.0h1v8.7h-1zM24 272.3h1v8.7h-1zM13 317.8h1v8.7h-1zM18 360.9h1v8.5h-1zM25 396.7h1v8.5h-1z"/>
<path fill="#ea5a5a" d="M70 136.1h1v8.7h-1zM23 154.2h1v8.7h-1zM20 172.4h1v8.7h-1zM47 172.4h1v8.7h-1zM85 236.0h1v8.7h-1zM13 263.2h2v8.7h-2zM41 263.2h1v8.7h-1zM104 272.3h1v8.7h-1zM20 290.5h2v8.7h-2zM99 290.5h1v8.7h-1zM139 299.6h1v8.7h-1zM94 326.8h1v8.7h-1zM25 335.9h1v8.7h-1zM134 477.2h1v8.5h-1z"/>
<path fill="#728ac0" d="M150 136.1h1v8.7h-1zM75 360.9h1v8.5h-1zM153 405.6h1v8.5h-1zM20 477.2h1v8.5h-1z"/>
<path fill="#4260a8" d="M39 145.2h1v8.7h-1zM147 181.5h1v8.7h-1zM123 405.6h1v8.5h-1zM150 477.2h1v8.5h-1z"/>
<path fill="#3654a8" d="M94 145.2h1v8.7h-1zM65 172.4h1v8.7h-1zM16 335.9h1v8.7h-1zM133 369.9h1v8.5h-1zM86 414.6h1v8.5h-1zM14 477.2h1v8.5h-1z"/>
<path fill="#9caed2" d="M148 145.2h1v8.7h-1zM108 154.2h1v8.7h-1zM131 181.5h1v8.7h-1zM169 199.7h2v8.7h-2zM146 281.4h2v8.7h-2zM172 405.6h2v8.5h-2zM176 432.5h1v8.5h-1zM64 459.3h1v8.5h-1zM76 459.3h3v8.5h-3z"/>
<path fill="#ccd8ea" d="M35 154.2h1v8.7h-1zM152 172.4h1v8.7h-1zM96 190.6h1v8.7h-1zM137 199.7h1v8.7h-1zM14 208.8h1v8.7h-1zM65 217.8h2v8.7h-2zM71 217.8h3v8.7h-3zM33 226.9h1v8.7h-1zM88 226.9h1v8.7h-1zM109 226.9h1v8.7h-1zM41 236.0h1v8.7h-1zM55 236.0h1v8.7h-1zM97 236.0h1v8.7h-1zM168 236.0h2v8.7h-2zM17 245.1h1v8.7h-1zM35 245.1h1v8.7h-1zM58 308.7h1v8.7h-1zM150 308.7h1v8.7h-1zM87 326.8h1v8.7h-1zM22 335.9h1v8.7h-1zM171 432.5h2v8.5h-2z"/>
<path fill="#ea7272" d="M97 154.2h2v8.7h-2zM89 163.3h1v8.7h-1zM57 181.5h1v8.7h-1zM21 226.9h1v8.7h-1zM97 245.1h1v8.7h-1zM172 254.2h1v8.7h-1zM43 281.4h1v8.7h-1zM75 290.5h1v8.7h-1zM89 290.5h1v8.7h-1zM137 290.5h1v8.7h-1zM124 299.6h1v8.7h-1zM176 299.6h1v8.7h-1zM169 326.8h1v8.7h-1zM155 335.9h1v8.7h-1zM43 387.8h1v8.5h-1zM87 477.2h1v8.5h-1z"/>
<path fill="#4260ae" d="M155 163.3h1v8.7h-1zM80 335.9h1v8.7h-1z"/>
<path fill="#2a48a2" d="M70 172.4h1v8.7h-1zM44 208.8h1v8.7h-1zM47 299.6h1v8.7h-1zM18 396.7h1v8.5h-1zM2 405.6h3v8.5h-3zM145 423.5h1v8.5h-1z"/>
<path fill="#6072ba" d="M60 199.7h2v8.7h-2zM55 299.6h2v8.7h-2zM26 317.8h2v8.7h-2zM147 360.9h1v8.5h-1zM10 369.9h1v8.5h-1zM99 423.5h1v8.5h-1zM81 441.4h1v8.5h-1zM60 450.3h2v8.5h-2zM97 468.2h3v8.5h-3z"/>
<path fill="#fcf6fc" d="M70 208.8h1v8.7h-1zM114 326.8h1v8.7h-1zM72 432.5h1v8.5h-1z"/>
<path fill="#ea5454" d="M134 217.8h1v8.7h-1zM119 245.1h1v8.7h-1zM70 263.2h1v8.7h-1zM58 281.4h1v8.7h-1zM112 290.5h1v8.7h-1zM177 308.7h2v8.7h-2zM131 414.6h1v8.5h-1z"/>
<path fill="#f0f6f6" d="M64 263.2h1v8.7h-1zM109 290.5h1v8.7h-1zM20 299.6h1v8.7h-1zM158 299.6h2v8.7h-2zM10 317.8h1v8.7h-1zM104 369.9h1v8.5h-1zM137 378.8h1v8.5h-1zM116 450.3h1v8.5h-1z"/>
<path fill="#e44848" d="M105 281.4h1v8.7h-1zM156 299.6h2v8.7h-2zM5 308.7h1v8.7h-1zM73 477.2h1v8.5h-1z"/>
<path fill="#e42a2a" d="M0 335.9h1v8.7h-1z"/>
<path fill="#fcf0f6" d="M2 352.0h1v8.5h-1zM117 352.0h1v8.5h-1zM171 360.9h1v8.5h-1zM41 387.8h2v8.5h-2zM36 423.5h1v8.5h-1zM19 459.3h1v8.5h-1zM59 477.2h1v8.5h-1z"/>
</g>
<text x="266.9" y="9.5" font-size="7.3">Immune subtype</text>
<text x="266.9" y="18.8" font-size="7.3">Proteomic subtype</text>
<text x="266.9" y="28.0" font-size="7.3">TF activity subtype</text>
<text x="266.9" y="37.3" font-size="7.3">Lauren subtype</text>
<text x="266.9" y="46.6" font-size="7.3">Gender</text>
<text x="266.9" y="55.8" font-size="7.3">Stage</text>
<text x="266.9" y="65.1" font-size="7.3">Tumor location</text>
<text x="266.9" y="74.4" font-size="7.3">Lymphovascular invasion</text>
<text x="266.9" y="83.7" font-size="7.3">Signet ring cells</text>
<text x="266.9" y="92.9" font-size="7.3">Ki 67</text>
<text x="319.9" y="38.9" font-size="10.5" font-weight="bold">****</text>
<text x="295.0" y="48.2" font-size="10.5" font-weight="bold">*</text>
<text x="320.8" y="66.7" font-size="10.5" font-weight="bold">*</text>
<text x="351.4" y="76.0" font-size="10.5" font-weight="bold">**</text>
<text x="322.4" y="85.3" font-size="10.5" font-weight="bold">**</text>
<text x="266.9" y="102.2" font-size="7.3">ImmuneScore</text>
<text x="266.9" y="110.9" font-size="7.3">StromaScore</text>
<text x="266.9" y="119.6" font-size="7.3">MicroenvironmentScore</text>
<text x="266.9" y="131.9" font-size="7.3">CD4+ Tcm</text>
<text x="266.9" y="141.0" font-size="7.3">CD8+ naive T−cells</text>
<text x="266.9" y="150.2" font-size="7.3">CLP</text>
<text x="266.9" y="159.3" font-size="7.3">Epithelial cells</text>
<text x="266.9" y="168.5" font-size="7.3">MSC</text>
<text x="266.9" y="177.6" font-size="7.3">Th1 cells</text>
<text x="266.9" y="186.8" font-size="7.3">pro B−cells</text>
<text x="266.9" y="195.9" font-size="7.3">Astrocytes</text>
<text x="266.9" y="205.1" font-size="7.3">CD4+ T−cells</text>
<text x="266.9" y="214.2" font-size="7.3">CD4+ memory T−cells</text>
<text x="266.9" y="223.3" font-size="7.3">CD8+ T−cells</text>
<text x="266.9" y="232.5" font-size="7.3">CD8+ Tcm</text>
<text x="266.9" y="241.6" font-size="7.3">CD8+ Tem</text>
<text x="266.9" y="250.8" font-size="7.3">Macrophages</text>
<text x="266.9" y="259.9" font-size="7.3">Macrophages M1</text>
<text x="266.9" y="269.1" font-size="7.3">Macrophages M2</text>
<text x="266.9" y="278.2" font-size="7.3">Neutrophils</text>
<text x="266.9" y="287.4" font-size="7.3">Th2 cells</text>
<text x="266.9" y="296.5" font-size="7.3">DC</text>
<text x="266.9" y="305.7" font-size="7.3">Fibroblasts</text>
<text x="266.9" y="314.8" font-size="7.3">HSC</text>
<text x="266.9" y="323.9" font-size="7.3">NKT</text>
<text x="266.9" y="333.1" font-size="7.3">Microvascular endothelial cells</text>
<text x="266.9" y="342.2" font-size="7.3">Lymphatic endothelial cell</text>
<text x="266.9" y="359.6" font-size="7.3">Epithelial cell morphogenesis</text>
<text x="266.9" y="368.6" font-size="7.3">Epithelial structure maintenance</text>
<text x="266.9" y="377.5" font-size="7.3">Cell cycle G2/M phase transition</text>
<text x="266.9" y="386.5" font-size="7.3">Positive regulation of mitotic cell cycle phase tr<tspan dy="-1.1">ansition</tspan></text>
<text x="266.9" y="395.4" font-size="7.3">Regulation of cell cycle G2/M phase transition</text>
<text x="266.9" y="404.4" font-size="7.3">Natural killer cell activation involved in immune response</text>
<text x="266.9" y="413.4" font-size="7.3">Complement activation, alternative pathway</text>
<text x="266.9" y="422.3" font-size="7.3">Regulation of Fc receptor mediated stimulatory signaling pathway</text>
<text x="266.9" y="431.3" font-size="7.3">Response to interleukin−4</text>
<text x="266.9" y="440.2" font-size="7.3">Regulation of NIK/NF−kappaB signaling</text>
<text x="266.9" y="449.2" font-size="7.3">Microtubule cytoskeleton organization</text>
<text x="266.9" y="458.2" font-size="7.3">Fibroblast proliferation</text>
<text x="266.9" y="467.1" font-size="7.3">Extracellular matrix assembly</text>
<text x="266.9" y="476.1" font-size="7.3">Regulation of extracellular matrix organization</text>
<text x="266.9" y="485.0" font-size="7.3">Regulation of actin filament−based movement</text>
<path d="M21.7 30.5H13.9V90.8H21.7" fill="none" stroke="#333" stroke-width="0.9"/>
<path d="M21.7 95.1H13.9V122.6H21.7" fill="none" stroke="#333" stroke-width="0.9"/>
<path d="M21.7 127.0H13.9V344.6H21.7" fill="none" stroke="#333" stroke-width="0.9"/>
<path d="M21.7 352.4H13.9V485.3H21.7" fill="none" stroke="#333" stroke-width="0.9"/>
<text transform="translate(8.1,58.2) rotate(-90)" font-size="9.8" text-anchor="middle">Clinical info</text>
<text transform="translate(8.1,121.1) rotate(-90)" font-size="9.8" text-anchor="middle">xCell score</text>
<text transform="translate(8.1,249.5) rotate(-90)" font-size="9.8" text-anchor="middle">xCell signature</text>
<text transform="translate(8.1,410.6) rotate(-90)" font-size="9.8" text-anchor="middle">ssGSEA</text>
<text x="7.6" y="13.2" font-size="18.5">a</text>
<text x="364.2" y="316.9" font-size="7.3">Proteomic subtype</text>
<text x="429.0" y="316.9" font-size="7.3">TF activity subtype</text>
<text x="493.2" y="316.9" font-size="7.3">Immune subtype</text>
<text x="551.0" y="316.9" font-size="7.3">Lauren subtype</text>
<text x="603.6" y="316.9" font-size="7.3">Gender</text>
<text x="643.3" y="316.9" font-size="7.3">Stage</text>
<rect x="396.0" y="321.1" width="5.5" height="6.2" fill="#c4c4c4"/>
<text x="403.4" y="326.7" font-size="7.3">NA</text>
<rect x="396.0" y="329.7" width="5.5" height="6.2" fill="#c8c4e2"/>
<text x="403.4" y="335.3" font-size="7.3">3</text>
<rect x="396.0" y="338.3" width="5.5" height="6.2" fill="#faf6b8"/>
<text x="403.4" y="343.9" font-size="7.3">2</text>
<rect x="396.0" y="346.9" width="5.5" height="6.2" fill="#8ad0c0"/>
<text x="403.4" y="352.5" font-size="7.3">1</text>
<rect x="452.5" y="321.1" width="5.5" height="6.2" fill="#567cb8"/>
<text x="459.9" y="326.7" font-size="7.3">2</text>
<rect x="452.5" y="329.7" width="5.5" height="6.2" fill="#d4403c"/>
<text x="459.9" y="335.3" font-size="7.3">1</text>
<rect x="502.2" y="321.1" width="5.5" height="6.2" fill="#96006e"/>
<text x="509.6" y="326.7" font-size="7.3">3</text>
<rect x="502.2" y="329.7" width="5.5" height="6.2" fill="#e86ea0"/>
<text x="509.6" y="335.3" font-size="7.3">2</text>
<rect x="502.2" y="338.3" width="5.5" height="6.2" fill="#f6c4c8"/>
<text x="509.6" y="343.9" font-size="7.3">1</text>
<rect x="562.7" y="321.1" width="5.5" height="6.2" fill="#6ec6a8"/>
<text x="570.1" y="326.7" font-size="7.3">IGC</text>
<rect x="562.7" y="329.7" width="5.5" height="6.2" fill="#ec7050"/>
<text x="570.1" y="335.3" font-size="7.3">DGC</text>
<rect x="601.4" y="321.1" width="5.5" height="6.2" fill="#e8b4d8"/>
<text x="608.8" y="326.7" font-size="7.3">Female</text>
<rect x="601.4" y="329.7" width="5.5" height="6.2" fill="#badc8c"/>
<text x="608.8" y="335.3" font-size="7.3">Male</text>
<rect x="646.0" y="321.1" width="5.5" height="6.2" fill="#282c8c"/>
<text x="653.4" y="326.7" font-size="7.3">4</text>
<rect x="646.0" y="329.7" width="5.5" height="6.2" fill="#288cc0"/>
<text x="653.4" y="335.3" font-size="7.3">3</text>
<rect x="646.0" y="338.3" width="5.5" height="6.2" fill="#8cd2c0"/>
<text x="653.4" y="343.9" font-size="7.3">2</text>
<rect x="646.0" y="346.9" width="5.5" height="6.2" fill="#ecf4b0"/>
<text x="653.4" y="352.5" font-size="7.3">1</text>
<text x="446.7" y="362.8" font-size="7.3">Tumor location</text>
<text x="498.8" y="362.8" font-size="7.3">Lymphovascular invasion</text>
<text x="585.0" y="362.8" font-size="7.3">Signet ring cells</text>
<text x="643.3" y="362.8" font-size="7.3">Ki 67</text>
<rect x="469.7" y="366.9" width="5.5" height="6.2" fill="#ceeacc"/>
<text x="477.1" y="372.5" font-size="7.3">C</text>
<rect x="469.7" y="375.5" width="5.5" height="6.2" fill="#bcd2e8"/>
<text x="477.1" y="381.1" font-size="7.3">B</text>
<rect x="469.7" y="384.1" width="5.5" height="6.2" fill="#f6bab4"/>
<text x="477.1" y="389.7" font-size="7.3">A</text>
<rect x="469.7" y="392.7" width="5.5" height="6.2" fill="#cccccc"/>
<text x="477.1" y="398.3" font-size="7.3">NA</text>
<rect x="533.0" y="369.4" width="5.5" height="6.2" fill="#c8c8c8"/>
<text x="540.4" y="375.0" font-size="7.3">NA</text>
<rect x="533.0" y="378.0" width="5.5" height="6.2" fill="#eaa450"/>
<text x="540.4" y="383.6" font-size="7.3">1</text>
<rect x="533.0" y="386.6" width="5.5" height="6.2" fill="#a4a0d2"/>
<text x="540.4" y="392.2" font-size="7.3">0</text>
<rect x="607.1" y="369.0" width="5.5" height="6.2" fill="#c8c8c8"/>
<text x="614.5" y="374.6" font-size="7.3">NA</text>
<rect x="607.1" y="377.6" width="5.5" height="6.2" fill="#f4b070"/>
<text x="614.5" y="383.2" font-size="7.3">1</text>
<rect x="607.1" y="386.2" width="5.5" height="6.2" fill="#9ec8e2"/>
<text x="614.5" y="391.8" font-size="7.3">0</text>
<defs><linearGradient id="zg" x1="0" y1="0" x2="0" y2="1"><stop offset="0.00" stop-color="#e22228"/><stop offset="0.05" stop-color="#e5383e"/><stop offset="0.10" stop-color="#e84e53"/><stop offset="0.15" stop-color="#eb6468"/><stop offset="0.20" stop-color="#ee7a7e"/><stop offset="0.25" stop-color="#f09094"/><stop offset="0.30" stop-color="#f3a7a9"/><stop offset="0.35" stop-color="#f6bdbe"/><stop offset="0.40" stop-color="#f9d3d4"/><stop offset="0.45" stop-color="#fce9ea"/><stop offset="0.50" stop-color="#ffffff"/><stop offset="0.55" stop-color="#eaedf6"/><stop offset="0.60" stop-color="#d5daec"/><stop offset="0.65" stop-color="#c0c8e2"/><stop offset="0.70" stop-color="#abb6d9"/><stop offset="0.75" stop-color="#96a4d0"/><stop offset="0.80" stop-color="#8091c6"/><stop offset="0.85" stop-color="#6b7fbc"/><stop offset="0.90" stop-color="#566db3"/><stop offset="0.95" stop-color="#415aaa"/><stop offset="1.00" stop-color="#2c48a0"/></linearGradient></defs>
<rect x="647.0" y="366.9" width="5.5" height="29.7" fill="url(#zg)"/>
<text x="655.3" y="370.9" font-size="7.3">2</text>
<text x="655.3" y="384.4" font-size="7.3">0</text>
<text x="654.8" y="396.1" font-size="7.3">-2</text>
<text transform="translate(644.8,381.8) rotate(-90)" font-size="7.3" text-anchor="middle">z score</text>
<text x="486.1" y="407.8" font-size="7.3">Immune score</text>
<text x="535.9" y="407.8" font-size="7.3">Stroma score</text>
<text x="587.8" y="407.8" font-size="7.3">GSEA</text>
<text x="613.9" y="407.8" font-size="7.3">Profiling</text>
<rect x="506.2" y="411.0" width="5.5" height="31.6" fill="url(#zg)"/>
<text x="514.5" y="415.0" font-size="7.3">2</text>
<text x="514.5" y="429.4" font-size="7.3">0</text>
<text x="514.0" y="442.1" font-size="7.3">-2</text>
<text transform="translate(504.0,426.8) rotate(-90)" font-size="7.3" text-anchor="middle">z score</text>
<rect x="552.6" y="411.0" width="5.5" height="31.6" fill="url(#zg)"/>
<text x="560.9" y="415.0" font-size="7.3">2</text>
<text x="560.9" y="429.4" font-size="7.3">0</text>
<text x="560.4" y="442.1" font-size="7.3">-2</text>
<text transform="translate(550.4,426.8) rotate(-90)" font-size="7.3" text-anchor="middle">z score</text>
<rect x="594.3" y="411.0" width="5.5" height="31.6" fill="url(#zg)"/>
<text x="602.6" y="415.0" font-size="7.3">2</text>
<text x="602.6" y="429.4" font-size="7.3">0</text>
<text x="602.1" y="442.1" font-size="7.3">-2</text>
<text transform="translate(592.1,426.8) rotate(-90)" font-size="7.3" text-anchor="middle">z score</text>
<rect x="623.2" y="411.0" width="5.5" height="31.6" fill="url(#zg)"/>
<text x="631.5" y="415.0" font-size="7.3">2</text>
<text x="631.5" y="429.4" font-size="7.3">0</text>
<text x="631.0" y="442.1" font-size="7.3">-2</text>
<text transform="translate(621.0,426.8) rotate(-90)" font-size="7.3" text-anchor="middle">z score</text>
<text x="500.9" y="453.3" font-size="7.3">Microenvironment score</text>
<text x="583.4" y="453.3" font-size="7.3">Immune characteristics</text>
<rect x="536.2" y="458.3" width="5.5" height="30.9" fill="url(#zg)"/>
<text x="544.5" y="462.3" font-size="7.3">2</text>
<text x="544.5" y="476.4" font-size="7.3">0</text>
<text x="544.0" y="488.7" font-size="7.3">-2</text>
<text transform="translate(534.0,473.8) rotate(-90)" font-size="7.3" text-anchor="middle">z score</text>
<rect x="622.4" y="458.3" width="5.5" height="30.9" fill="url(#zg)"/>
<text x="630.7" y="462.3" font-size="7.3">2</text>
<text x="630.7" y="476.4" font-size="7.3">0</text>
<text x="630.2" y="488.7" font-size="7.3">-2</text>
<text transform="translate(620.2,473.8) rotate(-90)" font-size="7.3" text-anchor="middle">z score</text>
<g>
<path d="M488.5 126.0 486.0 126.2 483.5 126.2 481.0 126.1 479.0 126.0 476.5 125.6 474.5 125.3 472.5 124.8 470.5 124.3 468.5 123.6 466.8 123.0 465.0 122.2 463.5 121.5 461.7 120.5 460.1 119.5 458.7 118.5 457.5 117.5 456.0 116.2 454.8 115.0 453.5 113.5 452.5 112.1 451.5 110.6 450.6 109.0 449.8 107.5 449.0 105.7 448.3 104.0 447.7 102.0 447.1 100.0 446.7 98.0 446.4 96.0 446.1 93.5 445.9 91.5 445.9 89.0 445.9 86.5 446.0 84.0 446.1 82.0 446.4 79.5 446.6 77.5 447.0 75.2 447.4 73.0 447.9 71.0 448.5 69.1 449.1 67.5 449.9 65.5 450.6 64.0 451.5 62.4 452.5 60.9 453.6 59.5 455.0 58.1 456.4 57.0 458.0 56.1 459.5 55.4 461.5 55.0 464.0 55.0 466.0 55.3 468.0 56.0 469.5 56.6 471.3 57.5 473.0 58.4 474.5 59.2 476.5 60.0 478.2 60.5 480.5 60.9 482.5 61.0 484.5 61.0 487.0 60.8 489.5 60.6 491.5 60.5 494.0 60.4 496.5 60.3 499.0 60.4 501.0 60.5 503.5 60.8 505.5 61.1 507.9 61.5 510.0 62.0 512.0 62.5 513.6 63.0 515.5 63.6 517.5 64.4 519.0 65.1 520.8 66.0 522.5 67.0 524.0 67.9 525.5 69.0 526.8 70.0 528.0 71.0 529.5 72.5 530.5 73.6 531.6 75.0 532.7 76.5 533.7 78.0 534.6 79.5 535.5 81.2 536.5 82.8 537.5 84.4 538.5 85.7 539.6 87.0 540.9 88.5 542.0 89.6 543.3 91.0 544.5 92.2 545.6 93.5 546.7 95.0 547.6 96.5 548.4 98.5 548.8 100.5 548.6 103.0 548.0 104.9 547.0 106.5 546.0 107.7 544.6 109.0 543.3 110.0 541.6 111.0 540.0 111.7 538.0 112.5 536.4 113.0 534.5 113.5 532.0 114.0 530.0 114.3 527.7 114.5 525.5 114.7 523.0 114.9 521.0 115.1 518.9 115.5 517.0 116.0 515.0 116.7 513.2 117.5 511.5 118.4 510.0 119.2 508.5 120.0 506.5 121.0 505.0 121.7 503.2 122.5 501.5 123.2 499.5 123.9 497.5 124.5 495.5 125.0 493.5 125.4 491.5 125.7 489.0 126.0Z" fill="#fef2e4" fill-opacity="1.0" fill-rule="evenodd"/>
<path d="M485.0 125.0 483.0 125.0 480.5 124.9 478.0 124.6 476.0 124.3 474.0 123.9 472.0 123.3 470.0 122.7 468.1 122.0 466.5 121.3 464.8 120.5 463.0 119.5 461.5 118.5 460.1 117.5 458.9 116.5 457.5 115.1 456.5 114.0 455.3 112.5 454.2 111.0 453.3 109.5 452.5 108.0 451.6 106.0 451.0 104.5 450.3 102.5 449.7 100.5 449.2 98.5 448.8 96.5 448.5 94.2 448.3 92.0 448.1 89.5 448.1 87.0 448.2 84.5 448.3 82.0 448.5 79.7 448.8 77.5 449.1 75.5 449.5 73.5 450.1 71.5 450.7 69.5 451.5 67.5 452.2 66.0 453.1 64.5 454.1 63.0 455.4 61.5 456.5 60.5 458.0 59.4 460.0 58.5 462.0 58.1 464.5 58.1 466.5 58.6 468.5 59.3 470.0 60.0 471.9 61.0 473.5 61.8 475.1 62.5 477.0 63.1 479.0 63.6 481.5 63.8 484.0 63.7 486.5 63.5 488.5 63.3 491.0 63.1 493.5 63.0 495.5 63.0 497.8 63.0 500.0 63.1 502.5 63.4 504.5 63.6 506.5 64.0 508.7 64.5 510.6 65.0 512.5 65.6 514.5 66.4 516.0 67.0 518.0 68.0 519.5 68.8 521.0 69.7 522.5 70.8 524.0 72.0 525.2 73.0 526.5 74.4 527.5 75.5 528.7 77.0 529.7 78.5 530.6 80.0 531.5 81.5 532.5 83.2 533.5 84.7 534.5 86.1 535.7 87.5 537.0 88.8 538.2 90.0 539.5 91.2 540.8 92.5 542.0 93.7 543.1 95.0 544.1 96.5 545.0 98.2 545.5 100.0 545.5 102.3 545.0 104.0 544.0 105.8 542.9 107.0 541.5 108.2 540.0 109.2 538.4 110.0 536.5 110.7 534.5 111.4 532.5 111.8 530.5 112.2 528.0 112.5 526.0 112.6 523.5 112.8 521.4 113.0 519.0 113.4 517.0 113.9 515.2 114.5 513.5 115.3 512.0 116.1 510.5 117.0 508.8 118.0 507.1 119.0 505.5 119.9 504.0 120.6 502.1 121.5 500.5 122.1 498.5 122.8 496.5 123.4 494.5 123.9 492.5 124.3 490.5 124.6 488.0 124.9 485.5 125.0Z" fill="#fdead2" fill-opacity="1.0" fill-rule="evenodd"/>
<path d="M484.5 123.0 483.0 123.0 481.0 122.9 479.0 122.6 477.5 122.4 475.5 122.0 474.0 121.6 472.5 121.2 471.0 120.7 469.5 120.1 468.2 119.5 467.0 118.9 465.5 118.0 464.5 117.3 463.4 116.5 462.2 115.5 461.1 114.5 460.2 113.5 459.4 112.5 458.5 111.2 457.7 110.0 457.0 108.6 456.5 107.5 455.9 106.0 455.4 104.5 454.9 103.0 454.4 101.5 454.0 99.9 453.5 98.0 453.2 96.5 453.0 95.0 452.7 93.0 452.5 91.5 452.3 89.5 452.3 87.5 452.2 85.5 452.3 83.5 452.4 81.5 452.6 80.0 452.9 78.0 453.2 76.5 453.5 75.0 454.0 73.4 454.5 72.0 455.2 70.5 456.0 69.1 456.7 68.0 457.6 67.0 458.7 66.0 460.0 65.2 461.5 64.6 463.0 64.3 465.0 64.4 466.5 64.7 468.0 65.3 469.5 65.9 470.8 66.5 472.0 67.1 473.5 67.7 475.0 68.2 476.5 68.5 478.5 68.8 480.5 68.9 482.5 68.8 484.5 68.6 486.0 68.4 488.0 68.2 490.0 68.0 491.5 67.9 493.5 67.8 495.5 67.8 497.5 67.8 499.5 68.0 501.0 68.2 503.0 68.5 504.5 68.8 506.0 69.1 507.5 69.5 509.0 70.0 510.5 70.6 512.0 71.2 513.5 72.0 514.5 72.5 516.0 73.5 517.0 74.2 518.0 75.0 519.2 76.0 520.2 77.0 521.0 78.0 522.0 79.2 522.9 80.5 523.5 81.5 524.4 83.0 525.0 84.1 525.8 85.5 526.5 86.6 527.5 88.0 528.4 89.0 529.3 90.0 530.4 91.0 531.5 91.9 532.5 92.8 533.5 93.6 534.6 94.5 535.7 95.5 536.6 96.5 537.5 97.7 538.2 99.0 538.6 100.5 538.5 102.0 537.8 103.5 537.0 104.6 535.9 105.5 534.5 106.4 533.1 107.0 531.5 107.5 530.0 107.9 528.5 108.1 526.5 108.4 524.7 108.5 523.0 108.6 521.0 108.8 519.3 109.0 517.5 109.4 516.0 109.9 514.6 110.5 513.5 111.1 512.1 112.0 511.0 112.8 510.0 113.6 508.9 114.5 507.5 115.5 506.5 116.3 505.4 117.0 504.0 117.9 502.9 118.5 501.5 119.3 500.0 119.9 498.6 120.5 497.2 121.0 495.6 121.5 494.0 121.9 492.5 122.2 491.0 122.5 489.0 122.8 487.0 122.9 485.0 123.0Z" fill="#fde2bf" fill-opacity="1.0" fill-rule="evenodd"/>
<path d="M490.0 121.0 488.0 121.2 486.0 121.4 484.0 121.4 482.0 121.3 480.0 121.1 478.5 120.9 476.5 120.5 475.0 120.1 473.5 119.7 472.0 119.1 470.6 118.5 469.5 118.0 468.0 117.1 467.0 116.5 465.7 115.5 464.5 114.5 463.5 113.5 462.7 112.5 462.0 111.5 461.0 110.0 460.5 108.9 459.9 107.5 459.4 106.0 459.0 104.5 458.5 102.6 458.2 101.0 457.8 99.5 457.5 97.8 457.2 96.0 456.9 94.5 456.7 92.5 456.5 91.0 456.4 89.0 456.3 87.0 456.4 85.0 456.5 83.1 456.7 81.5 457.0 79.7 457.4 78.0 458.0 76.5 458.5 75.3 459.3 74.0 460.1 73.0 461.2 72.0 462.5 71.3 464.0 70.9 465.9 71.0 467.5 71.3 469.0 71.8 470.5 72.3 472.0 72.7 473.5 73.1 475.5 73.4 477.0 73.6 479.0 73.5 480.5 73.4 482.5 73.2 484.3 73.0 486.0 72.8 488.0 72.5 489.5 72.4 491.5 72.2 493.5 72.2 495.5 72.2 497.5 72.3 499.1 72.5 501.0 72.8 502.5 73.1 504.0 73.5 505.5 74.0 507.0 74.6 508.5 75.3 509.8 76.0 511.0 76.7 512.1 77.5 513.3 78.5 514.3 79.5 515.2 80.5 516.0 81.6 516.9 83.0 517.5 84.0 518.3 85.5 519.0 87.0 519.5 88.2 520.1 89.5 520.9 91.0 521.5 92.0 522.5 93.4 523.4 94.5 524.3 95.5 525.2 96.5 526.1 97.5 527.0 99.0 527.0 100.5 526.1 101.5 525.0 102.0 523.5 102.5 521.5 102.9 520.0 103.3 518.5 103.6 517.0 104.2 515.5 104.8 514.4 105.5 513.0 106.5 512.0 107.4 511.0 108.4 510.0 109.5 509.1 110.5 508.2 111.5 507.2 112.5 506.2 113.5 505.1 114.5 504.0 115.4 503.0 116.1 501.6 117.0 500.5 117.6 499.0 118.4 497.5 119.0 496.2 119.5 494.6 120.0 493.0 120.4 491.5 120.8 490.0 121.0Z" fill="#fcdaad" fill-opacity="1.0" fill-rule="evenodd"/>
<path d="M490.0 119.5 488.5 119.8 487.0 119.9 485.5 120.0 484.0 120.0 482.5 119.9 481.0 119.8 479.5 119.6 478.5 119.4 477.0 119.1 476.0 118.8 475.0 118.5 473.6 118.0 472.5 117.6 471.5 117.1 470.5 116.5 469.6 116.0 468.8 115.5 468.0 114.9 467.0 114.0 466.4 113.5 465.5 112.5 465.0 111.8 464.4 111.0 463.9 110.0 463.4 109.0 463.0 108.0 462.5 106.5 462.3 105.5 462.1 104.0 461.9 103.0 461.8 101.5 461.6 100.0 461.5 98.5 461.4 97.5 461.3 96.0 461.1 94.5 461.0 93.0 461.0 92.0 460.9 90.5 461.0 89.0 461.0 88.0 461.2 86.5 461.5 85.0 461.7 84.0 462.1 83.0 462.5 82.0 463.1 81.0 464.0 80.0 464.7 79.5 465.7 79.0 467.0 78.6 468.4 78.5 469.5 78.5 471.0 78.5 472.0 78.5 473.5 78.5 474.5 78.5 476.0 78.4 477.5 78.2 479.0 78.0 480.0 77.9 481.5 77.7 482.5 77.5 484.0 77.2 485.5 77.0 486.5 76.9 488.0 76.7 489.5 76.6 490.6 76.5 492.0 76.5 493.5 76.5 494.5 76.5 496.0 76.6 497.5 76.9 498.5 77.0 500.0 77.4 501.0 77.7 502.0 78.0 503.2 78.5 504.2 79.0 505.1 79.5 506.0 80.0 507.0 80.8 507.9 81.5 508.5 82.1 509.3 83.0 510.0 84.0 510.5 84.7 511.0 85.7 511.5 86.8 511.9 88.0 512.2 89.0 512.5 90.3 512.7 91.5 512.8 93.0 512.7 94.5 512.5 95.9 512.2 97.0 511.9 98.0 511.5 99.0 511.0 100.0 510.5 101.1 510.0 102.2 509.5 103.3 509.0 104.4 508.5 105.5 508.0 106.5 507.5 107.5 507.0 108.4 506.5 109.3 506.0 110.1 505.4 111.0 504.5 112.0 504.0 112.6 503.1 113.5 502.5 114.1 501.5 114.9 500.6 115.5 499.9 116.0 499.0 116.5 498.0 117.0 497.0 117.5 495.8 118.0 494.5 118.5 493.5 118.8 492.5 119.0 491.0 119.4 490.0 119.5Z" fill="#fbd29a" fill-opacity="1.0" fill-rule="evenodd"/>
<path d="M487.5 118.5 486.5 118.6 485.5 118.7 484.5 118.7 483.5 118.6 482.5 118.6 481.6 118.5 481.0 118.4 480.0 118.3 479.0 118.1 478.5 118.0 477.5 117.8 476.6 117.5 476.0 117.3 475.1 117.0 474.5 116.8 473.9 116.5 473.0 116.1 472.5 115.8 471.9 115.5 471.1 115.0 470.5 114.6 470.0 114.2 469.5 113.8 469.0 113.4 468.5 112.9 468.0 112.3 467.5 111.7 467.0 111.0 466.7 110.5 466.4 110.0 466.0 109.1 465.7 108.5 465.5 107.7 465.3 107.0 465.1 106.0 465.0 105.0 465.0 104.2 465.0 103.5 465.0 103.0 465.1 102.0 465.1 101.0 465.2 100.0 465.3 99.0 465.5 98.0 465.5 97.5 465.6 96.5 465.8 95.5 465.9 94.5 466.0 93.7 466.1 93.0 466.3 92.0 466.5 91.2 466.7 90.5 467.0 89.7 467.3 89.0 467.6 88.5 468.0 87.9 468.5 87.3 469.0 86.8 469.5 86.3 470.0 85.9 470.7 85.5 471.5 85.1 472.0 84.9 472.9 84.5 473.5 84.3 474.3 84.0 475.0 83.8 475.9 83.5 476.5 83.3 477.5 83.1 478.0 82.9 479.0 82.7 479.7 82.5 480.5 82.3 481.5 82.1 482.0 82.0 483.0 81.8 484.0 81.6 484.5 81.5 485.5 81.3 486.5 81.2 487.5 81.1 488.5 81.0 489.0 81.0 490.0 80.9 491.0 80.9 492.0 81.0 492.5 81.0 493.5 81.1 494.5 81.3 495.5 81.5 496.0 81.6 497.0 81.9 497.5 82.0 498.5 82.4 499.0 82.6 499.7 83.0 500.5 83.5 501.0 83.8 501.5 84.2 502.0 84.6 502.5 85.0 503.0 85.6 503.5 86.2 504.0 86.9 504.3 87.5 504.6 88.0 505.0 89.0 505.1 89.5 505.4 90.5 505.5 91.1 505.6 92.0 505.7 93.0 505.7 94.0 505.7 95.0 505.6 96.0 505.6 97.0 505.5 98.0 505.5 98.5 505.5 99.5 505.4 100.5 505.4 101.5 505.3 102.5 505.3 103.5 505.1 104.5 505.0 105.3 504.9 106.0 504.6 107.0 504.4 107.5 504.0 108.5 503.8 109.0 503.5 109.6 503.0 110.5 502.6 111.0 502.3 111.5 501.9 112.0 501.4 112.5 500.9 113.0 500.4 113.5 499.8 114.0 499.1 114.5 498.5 114.9 498.0 115.2 497.5 115.5 496.6 116.0 496.0 116.3 495.5 116.5 494.5 116.9 494.0 117.1 493.0 117.5 492.5 117.6 491.5 117.9 490.9 118.0 490.0 118.2 489.0 118.4 488.0 118.5 487.5 118.5Z" fill="#faca88" fill-opacity="1.0" fill-rule="evenodd"/>
<path d="M489.0 117.1 488.0 117.2 487.0 117.3 486.0 117.4 485.0 117.4 484.0 117.4 483.0 117.3 482.0 117.3 481.0 117.1 480.2 117.0 479.5 116.9 478.5 116.6 478.0 116.5 477.0 116.2 476.5 116.0 475.5 115.6 475.0 115.4 474.2 115.0 473.5 114.6 473.0 114.3 472.5 114.0 471.8 113.5 471.2 113.0 470.7 112.5 470.2 112.0 469.8 111.5 469.4 111.0 469.0 110.3 468.6 109.5 468.3 109.0 468.0 108.0 467.9 107.5 467.7 106.5 467.7 105.5 467.7 104.5 467.8 103.5 468.0 102.6 468.1 102.0 468.4 101.0 468.6 100.5 469.0 99.5 469.2 99.0 469.5 98.2 469.8 97.5 470.1 97.0 470.5 96.1 470.8 95.5 471.1 95.0 471.5 94.3 472.0 93.6 472.4 93.0 472.8 92.5 473.2 92.0 473.7 91.5 474.2 91.0 474.8 90.5 475.4 90.0 476.0 89.6 476.5 89.3 477.0 89.0 477.9 88.5 478.5 88.2 479.0 88.0 480.0 87.6 480.5 87.4 481.5 87.1 482.0 87.0 483.0 86.7 483.9 86.5 484.5 86.4 485.5 86.2 486.5 86.1 487.5 86.1 488.5 86.1 489.5 86.1 490.5 86.2 491.5 86.4 492.0 86.5 493.0 86.8 493.5 87.0 494.5 87.5 495.0 87.8 495.5 88.1 496.0 88.5 496.6 89.0 497.0 89.5 497.5 90.1 498.0 90.8 498.4 91.5 498.6 92.0 499.0 93.0 499.2 93.5 499.5 94.4 499.7 95.0 500.0 96.0 500.2 96.5 500.5 97.5 500.6 98.0 500.9 99.0 501.1 99.5 501.4 100.5 501.5 101.0 501.8 102.0 501.9 103.0 502.0 103.5 502.1 104.5 502.1 105.5 502.0 106.4 501.9 107.0 501.7 108.0 501.5 108.5 501.1 109.5 500.8 110.0 500.5 110.5 500.0 111.2 499.5 111.8 499.0 112.3 498.5 112.8 498.0 113.3 497.5 113.6 497.0 114.0 496.2 114.5 495.5 114.9 495.0 115.2 494.3 115.5 493.5 115.8 493.0 116.0 492.0 116.3 491.5 116.5 490.5 116.8 489.5 117.0 489.0 117.1Z" fill="#fac276" fill-opacity="1.0" fill-rule="evenodd"/>
<path d="M487.0 116.0 486.5 116.1 486.0 116.1 485.5 116.1 485.0 116.1 484.5 116.1 484.0 116.1 483.5 116.1 483.0 116.1 482.5 116.0 482.3 116.0 482.0 116.0 481.5 115.9 481.0 115.8 480.5 115.7 480.0 115.6 479.5 115.5 479.5 115.5 479.0 115.4 478.5 115.2 478.0 115.1 477.8 115.0 477.5 114.9 477.0 114.7 476.6 114.5 476.5 114.5 476.0 114.2 475.5 114.0 475.5 114.0 475.0 113.7 474.7 113.5 474.5 113.4 474.0 113.0 473.9 113.0 473.5 112.7 473.3 112.5 473.0 112.2 472.8 112.0 472.5 111.7 472.3 111.5 472.0 111.2 471.8 111.0 471.5 110.5 471.5 110.5 471.2 110.0 471.0 109.7 470.9 109.5 470.7 109.0 470.5 108.5 470.5 108.4 470.4 108.0 470.3 107.5 470.2 107.0 470.2 106.5 470.2 106.0 470.2 105.5 470.3 105.0 470.4 104.5 470.5 104.0 470.5 103.9 470.6 103.5 470.8 103.0 471.0 102.5 471.0 102.5 471.2 102.0 471.5 101.5 471.5 101.5 471.8 101.0 472.0 100.7 472.1 100.5 472.5 100.0 472.5 99.9 472.8 99.5 473.0 99.3 473.2 99.0 473.5 98.7 473.7 98.5 474.0 98.1 474.1 98.0 474.5 97.6 474.6 97.5 475.0 97.2 475.2 97.0 475.5 96.7 475.8 96.5 476.0 96.3 476.4 96.0 476.5 95.9 477.0 95.5 477.1 95.5 477.5 95.2 477.8 95.0 478.0 94.9 478.5 94.6 478.7 94.5 479.0 94.3 479.5 94.1 479.6 94.0 480.0 93.8 480.5 93.6 480.7 93.5 481.0 93.4 481.5 93.2 482.0 93.1 482.2 93.0 482.5 92.9 483.0 92.8 483.5 92.7 484.0 92.6 484.5 92.5 484.7 92.5 485.0 92.5 485.5 92.4 486.0 92.4 486.5 92.5 487.0 92.5 487.1 92.5 487.5 92.5 488.0 92.6 488.5 92.7 489.0 92.9 489.3 93.0 489.5 93.1 490.0 93.2 490.5 93.5 490.5 93.5 491.0 93.7 491.4 94.0 491.5 94.0 492.0 94.4 492.2 94.5 492.5 94.7 492.9 95.0 493.0 95.1 493.5 95.5 493.5 95.5 494.0 96.0 494.0 96.0 494.5 96.5 494.5 96.5 495.0 97.0 495.0 97.0 495.4 97.5 495.5 97.6 495.9 98.0 496.0 98.2 496.3 98.5 496.5 98.8 496.6 99.0 497.0 99.5 497.0 99.5 497.3 100.0 497.5 100.3 497.6 100.5 497.9 101.0 498.0 101.1 498.2 101.5 498.5 102.0 498.5 102.1 498.7 102.5 498.9 103.0 499.0 103.4 499.0 103.5 499.2 104.0 499.3 104.5 499.4 105.0 499.4 105.5 499.5 106.0 499.5 106.5 499.4 107.0 499.3 107.5 499.2 108.0 499.1 108.5 499.0 108.7 498.9 109.0 498.7 109.5 498.5 109.8 498.4 110.0 498.1 110.5 498.0 110.6 497.7 111.0 497.5 111.3 497.3 111.5 497.0 111.8 496.8 112.0 496.5 112.3 496.3 112.5 496.0 112.7 495.6 113.0 495.5 113.1 495.0 113.4 494.9 113.5 494.5 113.7 494.0 114.0 494.0 114.0 493.5 114.3 493.0 114.5 493.0 114.5 492.5 114.7 492.0 114.9 491.7 115.0 491.5 115.1 491.0 115.2 490.5 115.4 490.0 115.5 490.0 115.5 489.5 115.6 489.0 115.7 488.5 115.8 488.0 115.9 487.5 116.0 487.2 116.0 487.0 116.0Z" fill="#f9ba63" fill-opacity="1.0" fill-rule="evenodd"/>
<path d="M488.0 114.5 487.5 114.6 487.0 114.7 486.5 114.7 486.0 114.8 485.5 114.8 485.0 114.8 484.5 114.8 484.0 114.8 483.5 114.8 483.0 114.7 482.5 114.7 482.0 114.6 481.5 114.5 481.5 114.5 481.0 114.4 480.5 114.3 480.0 114.2 479.5 114.0 479.4 114.0 479.0 113.9 478.5 113.7 478.1 113.5 478.0 113.5 477.5 113.2 477.0 113.0 477.0 113.0 476.5 112.7 476.2 112.5 476.0 112.4 475.5 112.0 475.5 112.0 475.0 111.6 474.9 111.5 474.5 111.1 474.4 111.0 474.0 110.5 474.0 110.5 473.6 110.0 473.5 109.8 473.3 109.5 473.1 109.0 473.0 108.7 472.9 108.5 472.8 108.0 472.7 107.5 472.7 107.0 472.7 106.5 472.7 106.0 472.8 105.5 472.9 105.0 473.0 104.7 473.1 104.5 473.3 104.0 473.5 103.6 473.5 103.5 473.8 103.0 474.0 102.8 474.2 102.5 474.5 102.1 474.6 102.0 475.0 101.5 475.0 101.5 475.5 101.0 475.5 101.0 476.0 100.6 476.1 100.5 476.5 100.2 476.7 100.0 477.0 99.8 477.5 99.5 477.5 99.5 478.0 99.2 478.3 99.0 478.5 98.9 479.0 98.6 479.3 98.5 479.5 98.4 480.0 98.2 480.5 98.0 480.6 98.0 481.0 97.9 481.5 97.7 482.0 97.6 482.4 97.5 482.5 97.5 483.0 97.4 483.5 97.3 484.0 97.3 484.5 97.2 485.0 97.2 485.5 97.2 486.0 97.3 486.5 97.3 487.0 97.4 487.5 97.5 487.6 97.5 488.0 97.6 488.5 97.7 489.0 97.9 489.3 98.0 489.5 98.1 490.0 98.3 490.5 98.5 490.5 98.5 491.0 98.7 491.5 99.0 491.5 99.0 492.0 99.3 492.3 99.5 492.5 99.6 493.0 100.0 493.0 100.0 493.5 100.4 493.6 100.5 494.0 100.9 494.2 101.0 494.5 101.4 494.6 101.5 495.0 101.9 495.1 102.0 495.4 102.5 495.5 102.6 495.8 103.0 496.0 103.4 496.1 103.5 496.3 104.0 496.5 104.4 496.5 104.5 496.7 105.0 496.8 105.5 496.9 106.0 496.9 106.5 496.9 107.0 496.9 107.5 496.8 108.0 496.7 108.5 496.5 109.0 496.5 109.0 496.2 109.5 496.0 109.9 496.0 110.0 495.6 110.5 495.5 110.6 495.2 111.0 495.0 111.2 494.7 111.5 494.5 111.7 494.1 112.0 494.0 112.1 493.5 112.4 493.4 112.5 493.0 112.7 492.5 113.0 492.5 113.0 492.0 113.3 491.5 113.5 491.5 113.5 491.0 113.7 490.5 113.9 490.1 114.0 490.0 114.0 489.5 114.2 489.0 114.3 488.5 114.4 488.1 114.5 488.0 114.5Z" fill="#f8b251" fill-opacity="1.0" fill-rule="evenodd"/>
<path d="M487.5 113.1 487.0 113.1 486.5 113.2 486.0 113.3 485.5 113.3 485.0 113.3 484.5 113.3 484.0 113.3 483.5 113.3 483.0 113.2 482.5 113.1 482.0 113.0 481.8 113.0 481.5 112.9 481.0 112.8 480.5 112.7 480.1 112.5 480.0 112.5 479.5 112.3 479.0 112.0 478.9 112.0 478.5 111.8 478.0 111.5 478.0 111.5 477.5 111.1 477.4 111.0 477.0 110.7 476.8 110.5 476.5 110.1 476.4 110.0 476.0 109.5 476.0 109.5 475.7 109.0 475.5 108.5 475.5 108.3 475.4 108.0 475.3 107.5 475.3 107.0 475.4 106.5 475.5 106.0 475.5 105.8 475.6 105.5 475.8 105.0 476.0 104.7 476.1 104.5 476.5 104.0 476.5 103.9 476.9 103.5 477.0 103.4 477.4 103.0 477.5 102.9 478.0 102.5 478.0 102.5 478.5 102.1 478.7 102.0 479.0 101.8 479.5 101.6 479.6 101.5 480.0 101.3 480.5 101.1 480.8 101.0 481.0 100.9 481.5 100.8 482.0 100.7 482.5 100.6 482.8 100.5 483.0 100.5 483.5 100.4 484.0 100.4 484.5 100.3 485.0 100.3 485.5 100.3 486.0 100.4 486.5 100.4 486.9 100.5 487.0 100.5 487.5 100.6 488.0 100.7 488.5 100.9 488.8 101.0 489.0 101.1 489.5 101.3 490.0 101.5 490.0 101.5 490.5 101.8 490.9 102.0 491.0 102.1 491.5 102.4 491.6 102.5 492.0 102.8 492.2 103.0 492.5 103.3 492.7 103.5 493.0 103.8 493.1 104.0 493.5 104.5 493.5 104.5 493.8 105.0 494.0 105.5 494.0 105.6 494.1 106.0 494.2 106.5 494.3 107.0 494.3 107.5 494.2 108.0 494.1 108.5 494.0 108.6 493.8 109.0 493.6 109.5 493.5 109.6 493.2 110.0 493.0 110.3 492.8 110.5 492.5 110.8 492.2 111.0 492.0 111.2 491.5 111.5 491.5 111.5 491.0 111.8 490.7 112.0 490.5 112.1 490.0 112.3 489.5 112.5 489.5 112.5 489.0 112.7 488.5 112.8 488.0 113.0 487.8 113.0 487.5 113.1Z" fill="#f8aa3e" fill-opacity="1.0" fill-rule="evenodd"/>
<path d="M487.5 111.1 487.0 111.2 486.5 111.3 486.0 111.4 485.5 111.4 485.0 111.4 484.5 111.4 484.0 111.4 483.5 111.3 483.0 111.3 482.5 111.2 482.0 111.0 481.9 111.0 481.5 110.8 481.0 110.6 480.8 110.5 480.5 110.3 480.0 110.0 480.0 110.0 479.5 109.6 479.4 109.5 479.0 109.0 479.0 108.9 478.8 108.5 478.6 108.0 478.5 107.5 478.6 107.0 478.7 106.5 478.9 106.0 479.0 105.8 479.2 105.5 479.5 105.1 479.6 105.0 480.0 104.7 480.2 104.5 480.5 104.3 481.0 104.0 481.0 104.0 481.5 103.8 482.0 103.6 482.2 103.5 482.5 103.4 483.0 103.3 483.5 103.2 484.0 103.2 484.5 103.1 485.0 103.1 485.5 103.1 486.0 103.2 486.5 103.3 487.0 103.4 487.4 103.5 487.5 103.5 488.0 103.7 488.5 104.0 488.6 104.0 489.0 104.2 489.4 104.5 489.5 104.6 490.0 105.0 490.0 105.0 490.4 105.5 490.5 105.6 490.7 106.0 490.9 106.5 491.0 106.8 491.0 107.0 491.1 107.5 491.0 108.0 491.0 108.0 490.8 108.5 490.6 109.0 490.5 109.1 490.2 109.5 490.0 109.7 489.6 110.0 489.5 110.1 489.0 110.4 488.8 110.5 488.5 110.7 488.0 110.9 487.7 111.0 487.5 111.1Z" fill="#f7a22c" fill-opacity="1.0" fill-rule="evenodd"/>
<path d="M539.0 182.0 535.5 182.2 532.0 182.2 528.5 182.2 525.0 182.0 522.0 181.9 518.5 181.7 515.0 181.6 511.5 181.5 508.5 181.5 505.0 181.3 502.0 181.0 498.9 180.5 496.0 179.8 493.3 179.0 490.9 178.0 488.5 176.7 486.5 175.4 484.5 173.8 482.8 172.0 481.2 170.0 480.0 167.9 479.0 165.5 478.3 162.5 478.0 159.0 478.4 155.5 479.0 152.8 480.0 150.0 481.0 147.7 482.1 145.5 483.4 143.0 484.6 141.0 486.0 138.7 487.4 136.5 488.8 134.5 490.4 132.5 492.0 130.6 493.6 129.0 495.5 127.2 497.5 125.6 499.5 124.2 501.5 123.0 504.0 121.6 506.4 120.5 508.9 119.5 511.5 118.6 514.0 117.9 517.0 117.1 520.0 116.6 523.0 116.1 526.0 115.7 529.0 115.4 532.0 114.9 535.0 114.2 537.5 113.3 540.0 112.2 542.4 111.0 544.5 110.0 547.0 108.9 550.0 108.0 552.8 107.5 556.0 107.4 559.0 107.7 561.8 108.5 564.1 109.5 566.5 111.0 568.4 112.5 570.0 114.1 571.5 116.0 573.0 118.4 574.1 120.5 575.2 123.0 576.1 125.5 577.0 128.1 577.9 131.0 578.7 133.5 579.6 136.0 580.5 138.9 581.4 141.5 582.5 144.0 583.8 146.0 585.5 147.5 588.0 148.9 590.5 149.8 593.1 150.5 596.0 151.1 599.0 151.6 602.0 152.1 605.0 152.7 608.0 153.2 611.0 153.9 613.5 154.7 616.0 155.8 617.8 157.5 616.5 159.8 614.2 161.0 611.5 161.8 608.8 162.5 606.0 163.0 602.9 163.5 599.5 164.0 596.5 164.3 593.5 164.7 590.5 165.1 587.5 165.5 584.5 166.1 581.5 166.8 579.0 167.6 576.5 168.5 574.0 169.7 571.6 171.0 569.5 172.2 567.2 173.5 565.0 174.7 562.5 176.0 560.2 177.0 557.7 178.0 555.0 179.0 552.5 179.7 549.5 180.5 546.8 181.0 543.7 181.5 540.5 181.9Z" fill="#fde4dc" fill-opacity="1.0" fill-rule="evenodd"/>
<path d="M510.0 175.0 507.5 175.1 505.0 175.0 503.0 174.9 500.5 174.6 498.5 174.2 496.5 173.6 495.0 173.0 493.0 172.0 491.5 171.0 490.2 170.0 489.0 168.8 487.9 167.5 487.0 166.0 486.1 164.0 485.6 162.0 485.5 160.0 485.6 158.0 486.0 155.8 486.6 154.0 487.4 152.0 488.1 150.5 489.0 148.6 489.8 147.0 490.6 145.5 491.5 143.6 492.2 142.0 493.0 140.4 494.0 138.5 494.8 137.0 495.8 135.5 496.8 134.0 498.0 132.5 499.0 131.4 500.4 130.0 501.5 129.0 503.0 127.8 504.5 126.8 506.0 125.9 507.6 125.0 509.5 124.1 511.0 123.4 513.0 122.7 515.0 122.1 517.0 121.5 519.0 121.1 521.0 120.8 523.0 120.5 525.5 120.3 528.0 120.1 530.2 120.0 532.5 119.9 535.0 119.8 537.5 119.5 539.5 119.2 541.5 118.7 543.5 118.0 545.0 117.4 547.0 116.6 548.5 116.0 550.5 115.3 552.5 114.9 555.0 114.7 557.5 115.0 559.3 115.5 561.0 116.3 562.5 117.2 563.9 118.5 565.0 119.7 566.0 121.1 567.0 123.0 567.7 124.5 568.3 126.5 568.8 128.5 569.2 130.5 569.6 132.5 570.0 135.0 570.3 137.0 570.6 139.0 571.0 141.5 571.3 143.5 571.8 145.5 572.5 147.5 573.3 149.0 574.3 150.5 575.5 151.7 577.0 153.0 578.4 154.0 579.8 155.0 581.1 156.0 582.0 157.5 581.0 158.8 579.5 159.6 577.5 160.5 576.0 161.0 574.0 161.8 572.2 162.5 570.5 163.2 568.6 164.0 567.0 164.7 565.3 165.5 563.5 166.3 562.0 167.1 560.1 168.0 558.5 168.8 556.9 169.5 555.0 170.3 553.3 171.0 551.5 171.7 549.5 172.3 547.5 172.9 545.5 173.3 543.5 173.7 541.5 174.1 539.0 174.4 537.0 174.5 534.5 174.7 532.0 174.7 529.5 174.7 527.0 174.7 524.5 174.6 522.0 174.6 519.5 174.6 517.0 174.7 514.5 174.8 512.0 174.9 510.0 175.0Z" fill="#fcb2ac" fill-opacity="1.0" fill-rule="evenodd"/>
<path d="M507.0 169.5 505.5 169.5 504.5 169.5 503.0 169.3 501.5 169.1 500.5 168.8 499.4 168.5 498.2 168.0 497.2 167.5 496.4 167.0 495.5 166.3 494.7 165.5 494.0 164.7 493.5 164.0 493.0 163.0 492.5 161.5 492.3 160.5 492.3 159.0 492.4 157.5 492.6 156.5 493.0 155.1 493.4 154.0 493.7 153.0 494.1 152.0 494.5 150.8 495.0 149.5 495.3 148.5 495.6 147.5 496.0 146.1 496.3 145.0 496.6 144.0 497.0 142.7 497.4 141.5 497.8 140.5 498.2 139.5 498.6 138.5 499.1 137.5 499.7 136.5 500.3 135.5 501.0 134.5 501.5 133.9 502.2 133.0 503.0 132.2 503.7 131.5 504.5 130.8 505.4 130.0 506.1 129.5 507.0 128.8 508.0 128.2 509.0 127.6 510.0 127.1 511.0 126.6 512.0 126.1 513.0 125.7 514.0 125.3 515.0 125.0 516.5 124.5 517.5 124.2 518.5 124.0 520.0 123.7 521.2 123.5 522.5 123.3 524.0 123.1 525.5 123.0 526.5 123.0 528.0 122.9 529.5 122.9 531.0 123.0 532.3 123.0 533.5 123.0 535.0 123.1 536.5 123.2 538.0 123.3 539.5 123.4 541.0 123.4 542.5 123.4 544.0 123.4 545.5 123.3 547.0 123.1 548.0 123.0 549.5 122.8 551.0 122.7 552.5 122.6 554.0 122.7 555.5 123.0 556.5 123.4 557.5 124.0 558.2 124.5 559.0 125.3 559.5 126.0 560.1 127.0 560.6 128.0 561.0 129.0 561.5 130.5 561.7 131.5 562.0 133.0 562.2 134.0 562.4 135.5 562.5 136.5 562.7 138.0 562.9 139.5 563.0 140.9 563.1 142.0 563.2 143.5 563.3 145.0 563.4 146.5 563.5 147.7 563.6 149.0 563.8 150.5 564.0 151.9 564.1 153.0 564.2 154.5 564.0 155.6 563.5 156.9 563.0 157.7 562.3 158.5 561.5 159.2 560.5 160.0 559.8 160.5 559.0 161.0 558.0 161.6 557.0 162.2 556.0 162.7 555.0 163.2 554.0 163.7 553.0 164.2 552.0 164.6 551.0 165.0 549.8 165.5 548.5 166.0 547.5 166.3 546.5 166.6 545.2 167.0 544.0 167.3 543.0 167.5 541.5 167.9 540.5 168.0 539.0 168.3 537.5 168.5 536.5 168.6 535.0 168.7 533.5 168.8 532.0 168.8 530.5 168.9 529.0 168.9 527.5 168.9 526.0 168.8 524.5 168.8 523.0 168.8 521.5 168.8 520.0 168.8 518.5 168.8 517.0 168.9 515.5 168.9 514.5 169.0 513.0 169.1 511.5 169.3 510.0 169.4 508.5 169.5 507.3 169.5Z" fill="#fb9590" fill-opacity="1.0" fill-rule="evenodd"/>
<path d="M533.5 164.0 532.0 164.1 530.5 164.2 529.0 164.3 527.5 164.3 526.0 164.2 524.5 164.2 523.0 164.1 521.5 164.0 520.5 164.0 519.0 163.9 517.5 163.8 516.0 163.7 514.5 163.6 513.4 163.5 512.0 163.4 510.5 163.3 509.0 163.1 508.0 163.0 506.5 162.7 505.5 162.5 504.3 162.0 503.3 161.5 502.5 160.9 501.6 160.0 501.0 159.0 500.6 158.0 500.4 157.0 500.2 155.5 500.1 154.0 500.0 152.5 500.0 151.0 500.0 149.5 500.1 148.0 500.2 146.5 500.3 145.0 500.5 143.7 500.7 142.5 501.0 141.5 501.5 140.0 501.9 139.0 502.3 138.0 502.9 137.0 503.5 136.0 504.0 135.3 504.6 134.5 505.4 133.5 506.0 132.9 507.0 132.0 507.6 131.5 508.5 130.8 509.5 130.1 510.4 129.5 511.3 129.0 512.3 128.5 513.3 128.0 514.5 127.5 515.5 127.1 516.5 126.8 517.5 126.5 519.0 126.1 520.0 125.9 521.5 125.6 522.5 125.5 524.0 125.3 525.5 125.2 527.0 125.1 528.5 125.1 530.0 125.2 531.5 125.3 533.0 125.4 534.0 125.5 535.5 125.7 537.0 126.0 538.0 126.1 539.5 126.4 540.5 126.6 542.0 127.0 543.0 127.2 544.1 127.5 545.5 127.9 546.5 128.2 547.5 128.6 548.6 129.0 549.7 129.5 550.5 130.0 551.5 130.7 552.5 131.5 553.0 132.1 553.8 133.0 554.4 134.0 554.9 135.0 555.3 136.0 555.7 137.0 556.0 138.1 556.3 139.5 556.5 140.6 556.7 142.0 556.7 143.5 556.7 145.0 556.6 146.5 556.5 147.7 556.3 149.0 556.0 150.4 555.7 151.5 555.4 152.5 554.9 153.5 554.4 154.5 553.7 155.5 553.0 156.3 552.4 157.0 551.5 157.8 550.5 158.5 549.8 159.0 549.0 159.5 548.0 160.0 547.0 160.5 546.0 161.0 544.8 161.5 543.5 162.0 542.5 162.3 541.5 162.6 540.0 163.0 539.0 163.2 537.5 163.5 536.5 163.7 535.0 163.9 533.8 164.0Z" fill="#fb7e79" fill-opacity="1.0" fill-rule="evenodd"/>
<path d="M532.5 160.6 531.5 160.7 530.5 160.7 529.5 160.8 528.5 160.8 527.5 160.8 526.5 160.8 525.5 160.8 524.5 160.7 523.5 160.7 522.5 160.6 521.7 160.5 521.0 160.4 520.0 160.3 519.0 160.1 518.3 160.0 517.5 159.8 516.5 159.6 515.9 159.5 515.0 159.3 514.0 159.0 513.5 158.8 512.5 158.5 512.0 158.3 511.3 158.0 510.5 157.6 510.0 157.3 509.4 157.0 508.7 156.5 508.0 156.0 507.5 155.5 507.0 155.0 506.6 154.5 506.2 154.0 505.9 153.5 505.5 152.9 505.0 152.0 504.8 151.5 504.5 150.7 504.3 150.0 504.0 149.0 503.9 148.5 503.7 147.5 503.6 146.5 503.6 145.5 503.6 144.5 503.6 143.5 503.8 142.5 504.0 141.5 504.1 141.0 504.4 140.0 504.6 139.5 505.0 138.5 505.2 138.0 505.5 137.5 506.0 136.7 506.5 136.0 506.8 135.5 507.2 135.0 507.7 134.5 508.2 134.0 508.7 133.5 509.2 133.0 509.8 132.5 510.5 132.0 511.0 131.6 511.5 131.3 512.0 131.0 512.8 130.5 513.5 130.1 514.0 129.9 514.8 129.5 515.5 129.2 516.0 129.0 517.0 128.6 517.5 128.5 518.5 128.2 519.2 128.0 520.0 127.8 521.0 127.6 521.5 127.5 522.5 127.3 523.5 127.2 524.5 127.1 525.5 127.1 526.5 127.0 527.5 127.0 528.5 127.0 529.5 127.1 530.5 127.2 531.5 127.3 532.5 127.4 533.3 127.5 534.0 127.6 535.0 127.8 535.9 128.0 536.5 128.1 537.5 128.4 538.0 128.5 539.0 128.8 539.5 129.0 540.5 129.4 541.0 129.5 542.0 129.9 542.5 130.2 543.2 130.5 544.0 130.9 544.5 131.2 545.0 131.5 545.8 132.0 546.5 132.5 547.0 132.9 547.5 133.3 548.0 133.8 548.5 134.3 549.0 134.9 549.5 135.5 549.8 136.0 550.1 136.5 550.5 137.2 550.9 138.0 551.1 138.5 551.4 139.5 551.5 140.0 551.7 141.0 551.9 142.0 551.9 143.0 551.9 144.0 551.9 145.0 551.8 146.0 551.6 147.0 551.4 147.5 551.1 148.5 551.0 149.0 550.5 150.0 550.3 150.5 550.0 151.1 549.5 151.9 549.1 152.5 548.7 153.0 548.3 153.5 547.8 154.0 547.3 154.5 546.8 155.0 546.2 155.5 545.5 156.0 545.0 156.4 544.5 156.7 544.0 157.0 543.1 157.5 542.5 157.8 542.0 158.0 541.0 158.5 540.5 158.6 539.5 159.0 539.0 159.2 538.0 159.5 537.5 159.6 536.5 159.9 535.9 160.0 535.0 160.2 534.0 160.4 533.0 160.5 532.5 160.6Z" fill="#fa6965" fill-opacity="1.0" fill-rule="evenodd"/>
<path d="M530.5 158.0 529.5 158.1 528.5 158.2 527.5 158.2 526.5 158.2 525.5 158.1 524.5 158.1 523.7 158.0 523.0 157.9 522.0 157.8 521.0 157.6 520.3 157.5 519.5 157.3 518.5 157.1 518.0 157.0 517.0 156.7 516.5 156.5 515.5 156.1 515.0 155.9 514.1 155.5 513.5 155.2 513.0 154.9 512.3 154.5 511.5 154.0 511.0 153.6 510.5 153.2 510.0 152.7 509.5 152.2 509.0 151.6 508.6 151.0 508.2 150.5 507.9 150.0 507.5 149.2 507.2 148.5 507.0 147.9 506.7 147.0 506.5 146.0 506.4 145.5 506.3 144.5 506.3 143.5 506.4 142.5 506.5 141.9 506.7 141.0 507.0 140.0 507.2 139.5 507.5 138.8 507.9 138.0 508.2 137.5 508.5 137.0 509.0 136.3 509.5 135.7 510.0 135.1 510.5 134.6 511.0 134.1 511.5 133.7 512.0 133.3 512.5 133.0 513.2 132.5 514.0 132.0 514.5 131.7 515.0 131.4 515.9 131.0 516.5 130.7 517.1 130.5 518.0 130.2 518.5 130.0 519.5 129.7 520.3 129.5 521.0 129.3 522.0 129.2 523.0 129.0 523.5 128.9 524.5 128.8 525.5 128.8 526.5 128.7 527.5 128.7 528.5 128.8 529.5 128.8 530.5 128.9 531.0 129.0 532.0 129.1 533.0 129.3 533.8 129.5 534.5 129.7 535.5 129.9 536.0 130.1 537.0 130.4 537.5 130.6 538.5 131.0 539.0 131.2 539.7 131.5 540.5 131.9 541.0 132.2 541.6 132.5 542.3 133.0 543.0 133.5 543.5 133.9 544.0 134.3 544.5 134.7 545.0 135.2 545.5 135.8 546.0 136.4 546.4 137.0 546.7 137.5 547.0 138.1 547.4 139.0 547.6 139.5 547.9 140.5 548.0 141.0 548.2 142.0 548.3 143.0 548.2 144.0 548.1 145.0 548.0 145.7 547.8 146.5 547.5 147.4 547.3 148.0 547.0 148.6 546.5 149.5 546.2 150.0 545.9 150.5 545.5 151.0 545.0 151.6 544.5 152.1 544.0 152.6 543.5 153.0 542.9 153.5 542.3 154.0 541.5 154.5 541.0 154.8 540.5 155.1 539.7 155.5 539.0 155.9 538.5 156.1 537.5 156.5 537.0 156.6 536.0 157.0 535.5 157.1 534.5 157.4 533.8 157.5 533.0 157.7 532.0 157.8 531.0 158.0 530.5 158.0Z" fill="#fa5552" fill-opacity="1.0" fill-rule="evenodd"/>
<path d="M531.5 155.5 530.5 155.7 529.5 155.8 528.5 155.9 527.5 155.9 526.5 155.9 525.5 155.9 524.5 155.8 523.5 155.7 522.5 155.6 522.0 155.5 521.0 155.3 520.0 155.1 519.5 154.9 518.5 154.6 518.0 154.4 517.0 154.0 516.5 153.8 515.8 153.5 515.0 153.1 514.5 152.7 514.0 152.4 513.4 152.0 512.8 151.5 512.2 151.0 511.7 150.5 511.3 150.0 510.9 149.5 510.5 148.9 510.0 148.0 509.7 147.5 509.5 146.9 509.2 146.0 509.0 145.1 508.9 144.5 508.9 143.5 508.9 142.5 509.0 141.7 509.1 141.0 509.5 140.0 509.6 139.5 510.0 138.7 510.4 138.0 510.7 137.5 511.1 137.0 511.5 136.5 512.0 135.9 512.5 135.4 513.0 135.0 513.6 134.5 514.3 134.0 515.0 133.5 515.5 133.2 516.0 132.9 516.8 132.5 517.5 132.2 518.0 132.0 519.0 131.6 519.5 131.5 520.5 131.2 521.2 131.0 522.0 130.8 523.0 130.7 524.0 130.5 524.5 130.5 525.5 130.4 526.5 130.4 527.5 130.4 528.5 130.4 529.4 130.5 530.0 130.6 531.0 130.7 532.0 130.9 532.5 131.0 533.5 131.2 534.4 131.5 535.0 131.7 535.8 132.0 536.5 132.3 537.0 132.5 538.0 133.0 538.5 133.2 539.0 133.5 539.8 134.0 540.5 134.5 541.0 134.9 541.5 135.4 542.0 135.8 542.5 136.4 543.0 137.0 543.4 137.5 543.7 138.0 544.0 138.5 544.5 139.5 544.6 140.0 544.9 141.0 545.0 141.5 545.1 142.5 545.1 143.5 545.0 144.5 545.0 145.0 544.7 146.0 544.5 146.6 544.1 147.5 543.8 148.0 543.5 148.6 543.0 149.3 542.5 149.9 542.0 150.5 541.5 151.0 541.0 151.4 540.5 151.8 540.0 152.2 539.5 152.5 538.7 153.0 538.0 153.4 537.5 153.7 536.8 154.0 536.0 154.3 535.5 154.5 534.5 154.8 533.9 155.0 533.0 155.2 532.0 155.5 531.5 155.5Z" fill="#f94341" fill-opacity="1.0" fill-rule="evenodd"/>
<path d="M530.5 153.6 530.0 153.7 529.5 153.7 529.0 153.8 528.5 153.8 528.0 153.8 527.5 153.9 527.0 153.9 526.5 153.9 526.0 153.9 525.5 153.8 525.0 153.8 524.5 153.8 524.0 153.7 523.5 153.6 523.0 153.6 522.6 153.5 522.5 153.5 522.0 153.4 521.5 153.3 521.0 153.1 520.5 153.0 520.5 153.0 520.0 152.8 519.5 152.7 519.1 152.5 519.0 152.5 518.5 152.3 518.0 152.1 517.9 152.0 517.5 151.8 517.0 151.6 516.9 151.5 516.5 151.3 516.1 151.0 516.0 150.9 515.5 150.6 515.4 150.5 515.0 150.2 514.7 150.0 514.5 149.8 514.2 149.5 514.0 149.3 513.7 149.0 513.5 148.8 513.3 148.5 513.0 148.1 512.9 148.0 512.6 147.5 512.5 147.4 512.3 147.0 512.1 146.5 512.0 146.4 511.8 146.0 511.7 145.5 511.5 145.0 511.5 144.9 511.4 144.5 511.3 144.0 511.3 143.5 511.3 143.0 511.3 142.5 511.4 142.0 511.4 141.5 511.5 141.3 511.6 141.0 511.7 140.5 511.9 140.0 512.0 139.7 512.1 139.5 512.3 139.0 512.5 138.7 512.6 138.5 513.0 138.0 513.0 138.0 513.3 137.5 513.5 137.3 513.8 137.0 514.0 136.8 514.2 136.5 514.5 136.3 514.8 136.0 515.0 135.8 515.4 135.5 515.5 135.4 516.0 135.1 516.1 135.0 516.5 134.7 516.9 134.5 517.0 134.4 517.5 134.1 517.8 134.0 518.0 133.9 518.5 133.7 518.9 133.5 519.0 133.4 519.5 133.3 520.0 133.1 520.2 133.0 520.5 132.9 521.0 132.8 521.5 132.6 522.0 132.5 522.0 132.5 522.5 132.4 523.0 132.3 523.5 132.2 524.0 132.2 524.5 132.1 525.0 132.1 525.5 132.0 526.0 132.0 526.5 132.0 527.0 132.0 527.5 132.0 528.0 132.0 528.5 132.1 529.0 132.1 529.5 132.2 530.0 132.3 530.5 132.3 531.0 132.4 531.3 132.5 531.5 132.5 532.0 132.7 532.5 132.8 533.0 132.9 533.2 133.0 533.5 133.1 534.0 133.3 534.5 133.5 534.6 133.5 535.0 133.7 535.5 133.9 535.7 134.0 536.0 134.1 536.5 134.4 536.7 134.5 537.0 134.7 537.5 135.0 537.5 135.0 538.0 135.4 538.2 135.5 538.5 135.7 538.8 136.0 539.0 136.2 539.4 136.5 539.5 136.6 539.9 137.0 540.0 137.2 540.3 137.5 540.5 137.8 540.7 138.0 541.0 138.5 541.0 138.5 541.3 139.0 541.5 139.4 541.6 139.5 541.8 140.0 541.9 140.5 542.0 140.7 542.1 141.0 542.2 141.5 542.3 142.0 542.3 142.5 542.3 143.0 542.3 143.5 542.2 144.0 542.2 144.5 542.0 145.0 542.0 145.2 541.9 145.5 541.7 146.0 541.5 146.5 541.5 146.5 541.2 147.0 541.0 147.4 540.9 147.5 540.6 148.0 540.5 148.1 540.2 148.5 540.0 148.7 539.8 149.0 539.5 149.3 539.3 149.5 539.0 149.8 538.7 150.0 538.5 150.2 538.1 150.5 538.0 150.6 537.5 150.9 537.4 151.0 537.0 151.2 536.6 151.5 536.5 151.5 536.0 151.8 535.6 152.0 535.5 152.0 535.0 152.3 534.5 152.5 534.4 152.5 534.0 152.7 533.5 152.8 533.0 153.0 533.0 153.0 532.5 153.1 532.0 153.3 531.5 153.4 531.0 153.5 530.9 153.5 530.5 153.6Z" fill="#f93231" fill-opacity="1.0" fill-rule="evenodd"/>
<path d="M530.0 151.6 529.5 151.7 529.0 151.7 528.5 151.8 528.0 151.8 527.5 151.9 527.0 151.9 526.5 151.9 526.0 151.9 525.5 151.8 525.0 151.8 524.5 151.8 524.0 151.7 523.5 151.6 523.0 151.5 522.9 151.5 522.5 151.4 522.0 151.3 521.5 151.1 521.1 151.0 521.0 151.0 520.5 150.8 520.0 150.6 519.7 150.5 519.5 150.4 519.0 150.1 518.7 150.0 518.5 149.9 518.0 149.6 517.9 149.5 517.5 149.2 517.2 149.0 517.0 148.9 516.6 148.5 516.5 148.5 516.0 148.0 516.0 148.0 515.6 147.5 515.5 147.4 515.2 147.0 515.0 146.7 514.9 146.5 514.6 146.0 514.5 145.9 514.3 145.5 514.1 145.0 514.0 144.5 514.0 144.5 513.9 144.0 513.8 143.5 513.8 143.0 513.8 142.5 513.8 142.0 513.9 141.5 514.0 141.2 514.0 141.0 514.2 140.5 514.4 140.0 514.5 139.8 514.7 139.5 515.0 139.0 515.0 138.9 515.3 138.5 515.5 138.2 515.7 138.0 516.0 137.7 516.2 137.5 516.5 137.2 516.7 137.0 517.0 136.8 517.3 136.5 517.5 136.4 518.0 136.0 518.0 136.0 518.5 135.7 518.9 135.5 519.0 135.4 519.5 135.2 519.9 135.0 520.0 135.0 520.5 134.8 521.0 134.6 521.3 134.5 521.5 134.4 522.0 134.3 522.5 134.2 523.0 134.0 523.3 134.0 523.5 134.0 524.0 133.9 524.5 133.8 525.0 133.8 525.5 133.7 526.0 133.7 526.5 133.7 527.0 133.7 527.5 133.7 528.0 133.7 528.5 133.8 529.0 133.9 529.5 133.9 529.9 134.0 530.0 134.0 530.5 134.1 531.0 134.2 531.5 134.4 531.9 134.5 532.0 134.5 532.5 134.7 533.0 134.9 533.3 135.0 533.5 135.1 534.0 135.3 534.3 135.5 534.5 135.6 535.0 135.9 535.2 136.0 535.5 136.2 536.0 136.5 536.0 136.5 536.5 136.9 536.6 137.0 537.0 137.4 537.1 137.5 537.5 137.9 537.6 138.0 538.0 138.5 538.0 138.5 538.4 139.0 538.5 139.2 538.7 139.5 538.9 140.0 539.0 140.2 539.1 140.5 539.3 141.0 539.4 141.5 539.5 142.0 539.5 142.0 539.5 142.5 539.5 143.0 539.5 143.5 539.5 143.6 539.4 144.0 539.3 144.5 539.2 145.0 539.0 145.4 539.0 145.5 538.7 146.0 538.5 146.4 538.5 146.5 538.1 147.0 538.0 147.1 537.7 147.5 537.5 147.7 537.3 148.0 537.0 148.3 536.7 148.5 536.5 148.7 536.1 149.0 536.0 149.1 535.5 149.4 535.4 149.5 535.0 149.8 534.6 150.0 534.5 150.0 534.0 150.3 533.6 150.5 533.5 150.5 533.0 150.7 532.5 150.9 532.3 151.0 532.0 151.1 531.5 151.2 531.0 151.4 530.5 151.5 530.4 151.5 530.0 151.6Z" fill="#f92221" fill-opacity="1.0" fill-rule="evenodd"/>
<path d="M529.0 149.6 528.5 149.7 528.0 149.7 527.5 149.8 527.0 149.8 526.5 149.8 526.0 149.8 525.5 149.7 525.0 149.7 524.5 149.6 524.0 149.6 523.7 149.5 523.5 149.5 523.0 149.3 522.5 149.2 522.0 149.0 521.9 149.0 521.5 148.8 521.0 148.6 520.8 148.5 520.5 148.4 520.0 148.1 519.9 148.0 519.5 147.8 519.1 147.5 519.0 147.4 518.5 147.0 518.5 147.0 518.1 146.5 518.0 146.4 517.6 146.0 517.5 145.8 517.3 145.5 517.0 145.0 517.0 144.9 516.8 144.5 516.7 144.0 516.6 143.5 516.5 143.0 516.5 142.7 516.5 142.5 516.5 142.5 516.5 142.0 516.6 141.5 516.8 141.0 517.0 140.5 517.0 140.4 517.2 140.0 517.5 139.6 517.5 139.5 517.9 139.0 518.0 138.9 518.4 138.5 518.5 138.4 518.9 138.0 519.0 138.0 519.5 137.6 519.6 137.5 520.0 137.3 520.5 137.0 520.5 137.0 521.0 136.7 521.5 136.5 521.5 136.5 522.0 136.3 522.5 136.1 523.0 136.0 523.0 136.0 523.5 135.9 524.0 135.8 524.5 135.7 525.0 135.6 525.5 135.6 526.0 135.6 526.5 135.6 527.0 135.6 527.5 135.6 528.0 135.6 528.5 135.7 529.0 135.8 529.5 135.9 530.0 136.0 530.0 136.0 530.5 136.1 531.0 136.3 531.5 136.5 531.5 136.5 532.0 136.7 532.5 136.9 532.6 137.0 533.0 137.2 533.5 137.5 533.5 137.5 534.0 137.9 534.1 138.0 534.5 138.3 534.7 138.5 535.0 138.8 535.2 139.0 535.5 139.4 535.6 139.5 535.9 140.0 536.0 140.2 536.1 140.5 536.3 141.0 536.5 141.5 536.5 141.5 536.6 142.0 536.6 142.5 536.6 143.0 536.6 143.5 536.5 143.8 536.5 144.0 536.3 144.5 536.1 145.0 536.0 145.2 535.8 145.5 535.5 146.0 535.5 146.0 535.1 146.5 535.0 146.6 534.6 147.0 534.5 147.1 534.0 147.5 534.0 147.5 533.5 147.8 533.3 148.0 533.0 148.2 532.5 148.4 532.4 148.5 532.0 148.7 531.5 148.9 531.2 149.0 531.0 149.1 530.5 149.2 530.0 149.4 529.5 149.5 529.4 149.5 529.0 149.6Z" fill="#f81312" fill-opacity="1.0" fill-rule="evenodd"/>
<path d="M528.5 147.1 528.0 147.2 527.5 147.2 527.0 147.3 526.5 147.3 526.0 147.3 525.5 147.2 525.0 147.2 524.5 147.1 524.2 147.0 524.0 146.9 523.5 146.8 523.0 146.6 522.8 146.5 522.5 146.4 522.0 146.1 521.9 146.0 521.5 145.7 521.3 145.5 521.0 145.2 520.8 145.0 520.5 144.6 520.4 144.5 520.1 144.0 520.0 143.6 520.0 143.5 519.9 143.0 519.8 142.5 519.9 142.0 520.0 141.5 520.0 141.5 520.2 141.0 520.5 140.5 520.5 140.5 520.9 140.0 521.0 139.9 521.4 139.5 521.5 139.5 522.0 139.1 522.2 139.0 522.5 138.8 523.0 138.6 523.2 138.5 523.5 138.4 524.0 138.2 524.5 138.1 524.9 138.0 525.0 138.0 525.5 137.9 526.0 137.9 526.5 137.9 527.0 137.9 527.5 137.9 528.0 138.0 528.0 138.0 528.5 138.1 529.0 138.2 529.5 138.4 529.8 138.5 530.0 138.6 530.5 138.8 530.8 139.0 531.0 139.1 531.5 139.5 531.5 139.5 532.0 140.0 532.0 140.0 532.4 140.5 532.5 140.6 532.8 141.0 533.0 141.5 533.0 141.6 533.1 142.0 533.1 142.5 533.1 143.0 533.0 143.5 533.0 143.6 532.8 144.0 532.6 144.5 532.5 144.6 532.2 145.0 532.0 145.2 531.7 145.5 531.5 145.7 531.1 146.0 531.0 146.1 530.5 146.3 530.2 146.5 530.0 146.6 529.5 146.8 529.0 146.9 528.8 147.0 528.5 147.1Z" fill="#f80404" fill-opacity="1.0" fill-rule="evenodd"/>
<path d="M471.0 182.5 469.0 182.6 467.5 182.4 465.7 182.0 464.3 181.5 463.0 180.8 461.6 180.0 460.5 179.2 459.5 178.5 458.3 177.5 457.1 176.5 456.0 175.5 455.0 174.6 454.0 173.8 453.0 172.9 451.9 172.0 450.7 171.0 449.5 170.0 448.5 169.1 447.5 168.1 446.5 167.1 445.5 166.0 444.7 165.0 443.9 164.0 443.0 162.6 442.3 161.5 441.5 160.1 441.0 159.0 440.3 157.5 439.7 156.0 439.2 154.5 438.8 153.0 438.4 151.5 438.0 149.5 437.8 148.0 437.7 146.0 437.6 144.0 437.7 142.0 437.8 140.0 438.0 138.5 438.4 136.5 438.8 135.0 439.2 133.5 439.7 132.0 440.3 130.5 441.0 129.0 441.5 127.9 442.3 126.5 443.0 125.3 443.9 124.0 444.6 123.0 445.5 121.9 446.5 120.8 447.5 119.7 448.5 118.8 449.5 117.9 450.6 117.0 451.9 116.0 453.0 115.3 454.3 114.5 455.5 113.9 457.0 113.2 458.5 112.6 460.0 112.1 461.5 111.7 463.0 111.4 465.0 111.2 467.0 111.1 469.0 111.1 471.0 111.4 472.5 111.7 474.0 112.1 475.5 112.6 477.0 113.2 478.5 114.0 479.5 114.6 480.9 115.5 482.0 116.2 483.1 117.0 484.5 118.0 485.5 118.6 487.0 119.4 488.5 119.9 490.0 120.3 491.5 120.6 493.5 121.0 495.0 121.3 496.5 121.7 498.0 122.2 499.5 122.8 500.8 123.5 502.0 124.3 503.0 125.1 504.0 126.0 505.0 127.2 505.9 128.5 506.5 129.5 507.2 131.0 507.6 132.5 508.0 134.5 508.1 136.0 508.0 137.5 507.7 139.5 507.2 141.0 506.5 142.5 506.0 143.5 505.0 145.0 504.2 146.0 503.2 147.0 502.0 148.0 501.0 148.8 499.9 149.5 498.5 150.3 497.2 151.0 496.0 151.6 494.5 152.5 493.5 153.1 492.2 154.0 491.0 155.0 490.1 156.0 489.3 157.0 488.5 158.1 487.7 159.5 487.0 160.8 486.4 162.0 485.7 163.5 485.1 165.0 484.5 166.5 484.0 168.0 483.5 169.3 483.0 170.7 482.5 172.0 481.8 173.5 481.0 175.0 480.4 176.0 479.5 177.2 478.5 178.4 477.5 179.4 476.5 180.2 475.3 181.0 474.0 181.7 472.5 182.2 471.0 182.5Z" fill="#eee9fc" fill-opacity="1.0" fill-rule="evenodd"/>
<path d="M471.5 177.1 469.5 177.4 467.5 177.2 466.0 176.7 464.6 176.0 463.5 175.3 462.5 174.5 461.4 173.5 460.3 172.5 459.3 171.5 458.3 170.5 457.3 169.5 456.2 168.5 455.0 167.5 454.0 166.6 453.0 165.7 452.0 164.8 451.0 163.9 450.0 162.9 449.0 161.8 448.0 160.5 447.3 159.5 446.5 158.3 445.8 157.0 445.0 155.5 444.5 154.3 444.0 152.9 443.5 151.3 443.1 149.5 442.8 148.0 442.6 146.0 442.6 144.0 442.7 142.0 442.9 140.0 443.2 138.5 443.5 137.0 444.0 135.4 444.5 134.0 445.1 132.5 445.8 131.0 446.5 129.8 447.3 128.5 448.0 127.5 449.0 126.2 450.0 125.0 450.9 124.0 451.9 123.0 453.0 122.0 454.0 121.2 455.0 120.4 456.2 119.5 457.5 118.7 458.7 118.0 460.0 117.3 461.5 116.7 463.0 116.2 464.5 115.9 466.5 115.6 468.5 115.6 470.5 115.8 472.0 116.1 473.5 116.6 475.0 117.3 476.1 118.0 477.5 119.0 478.5 119.9 479.5 120.9 480.5 121.9 481.5 123.0 482.5 124.0 483.5 124.8 484.7 125.5 486.0 126.0 488.0 126.5 489.5 126.6 491.5 126.8 493.0 127.0 495.0 127.5 496.5 128.0 497.5 128.5 498.9 129.5 499.9 130.5 500.6 131.5 501.4 133.0 501.8 134.5 502.0 136.5 501.6 138.5 501.0 140.0 500.5 141.0 499.5 142.2 498.5 143.2 497.4 144.0 496.0 144.9 494.8 145.5 493.5 146.1 492.0 146.7 490.5 147.5 489.5 148.1 488.2 149.0 487.2 150.0 486.4 151.0 485.5 152.2 484.7 153.5 484.0 154.8 483.4 156.0 482.7 157.5 482.0 159.0 481.5 160.3 481.0 161.6 480.5 163.1 480.0 164.6 479.5 166.3 479.0 167.9 478.5 169.3 478.0 170.6 477.3 172.0 476.5 173.3 475.5 174.5 474.5 175.5 473.5 176.2 472.0 176.9Z" fill="#dbd5fb" fill-opacity="1.0" fill-rule="evenodd"/>
<path d="M470.5 171.6 469.0 171.9 467.5 171.6 466.5 171.2 465.5 170.6 464.6 170.0 464.0 169.5 463.0 168.6 462.4 168.0 461.5 167.2 460.7 166.5 460.0 165.9 459.0 165.0 458.3 164.5 457.5 163.9 456.5 163.1 455.7 162.5 455.0 162.0 454.0 161.1 453.3 160.5 452.5 159.8 451.7 159.0 451.0 158.2 450.4 157.5 449.7 156.5 449.0 155.5 448.5 154.6 448.0 153.6 447.5 152.5 447.1 151.5 446.8 150.5 446.5 149.3 446.2 148.0 446.0 146.5 446.0 145.5 446.0 144.0 446.0 143.0 446.2 141.5 446.5 140.0 446.7 139.0 447.0 138.0 447.5 136.5 447.9 135.5 448.4 134.5 448.9 133.5 449.5 132.5 450.0 131.8 450.5 131.0 451.3 130.0 452.0 129.2 452.6 128.5 453.5 127.5 454.0 127.0 455.0 126.1 455.7 125.5 456.5 124.8 457.5 124.0 458.2 123.5 459.0 122.9 460.0 122.3 461.0 121.7 462.0 121.2 463.0 120.7 464.0 120.4 465.4 120.0 466.5 119.8 468.0 119.8 469.5 119.9 470.5 120.2 471.5 120.5 472.5 121.0 473.5 121.7 474.4 122.5 475.0 123.1 475.7 124.0 476.4 125.0 477.0 126.0 477.5 126.8 478.0 127.6 478.6 128.5 479.3 129.5 480.0 130.4 480.5 131.0 481.5 132.0 482.0 132.5 483.0 133.4 483.8 134.0 484.6 134.5 485.5 135.1 486.5 135.6 487.5 136.1 488.5 136.7 488.5 137.7 487.9 138.5 487.0 139.5 486.5 140.1 485.8 141.0 485.2 142.0 484.6 143.0 484.1 144.0 483.6 145.0 483.1 146.0 482.7 147.0 482.3 148.0 481.8 149.0 481.4 150.0 481.0 151.0 480.5 152.1 480.0 153.2 479.5 154.4 479.0 155.5 478.5 156.5 478.1 157.5 477.7 158.5 477.2 159.5 476.8 160.5 476.5 161.5 476.0 162.9 475.6 164.0 475.3 165.0 474.9 166.0 474.5 167.1 474.0 168.2 473.5 169.1 472.8 170.0 472.0 170.8 471.0 171.4Z" fill="#c9c3f9" fill-opacity="1.0" fill-rule="evenodd"/>
<path d="M468.5 163.1 467.5 163.3 466.5 163.3 465.5 163.1 465.0 162.9 464.0 162.6 463.5 162.4 462.5 162.1 462.0 161.9 461.2 161.5 460.5 161.2 460.0 161.0 459.0 160.5 458.5 160.2 458.0 160.0 457.2 159.5 456.5 159.1 456.0 158.8 455.5 158.4 454.9 158.0 454.3 157.5 453.7 157.0 453.2 156.5 452.7 156.0 452.3 155.5 451.9 155.0 451.5 154.5 451.0 153.8 450.5 153.0 450.2 152.5 450.0 152.0 449.5 151.0 449.3 150.5 449.0 149.5 448.9 149.0 448.6 148.0 448.5 147.1 448.4 146.5 448.4 145.5 448.4 144.5 448.4 143.5 448.5 142.7 448.6 142.0 448.8 141.0 449.0 140.3 449.3 139.5 449.5 138.8 449.8 138.0 450.1 137.5 450.5 136.7 450.9 136.0 451.2 135.5 451.5 135.0 452.0 134.4 452.5 133.7 453.0 133.1 453.5 132.6 454.0 132.1 454.5 131.6 455.0 131.1 455.5 130.7 456.0 130.3 456.5 129.9 457.1 129.5 457.8 129.0 458.5 128.5 459.0 128.2 459.5 127.9 460.3 127.5 461.0 127.1 461.5 126.9 462.4 126.5 463.0 126.3 463.8 126.0 464.5 125.8 465.5 125.6 466.5 125.5 467.5 125.6 468.5 125.9 469.0 126.1 469.7 126.5 470.4 127.0 471.0 127.5 471.5 128.0 471.9 128.5 472.3 129.0 472.7 129.5 473.1 130.0 473.5 130.5 474.0 131.2 474.5 131.9 474.9 132.5 475.3 133.0 475.6 133.5 476.0 134.1 476.5 134.9 476.8 135.5 477.1 136.0 477.5 136.9 477.8 137.5 478.0 138.1 478.3 139.0 478.5 140.0 478.6 140.5 478.7 141.5 478.8 142.5 478.7 143.5 478.7 144.5 478.5 145.5 478.4 146.0 478.2 147.0 478.0 148.0 477.9 148.5 477.5 149.5 477.4 150.0 477.0 151.0 476.8 151.5 476.5 152.2 476.1 153.0 475.9 153.5 475.5 154.3 475.1 155.0 474.8 155.5 474.5 156.1 474.0 156.9 473.6 157.5 473.3 158.0 473.0 158.5 472.5 159.2 472.0 159.9 471.5 160.5 471.1 161.0 470.7 161.5 470.2 162.0 469.5 162.5 469.0 162.8 468.5 163.1Z" fill="#b8b1f8" fill-opacity="1.0" fill-rule="evenodd"/>
<path d="M465.5 158.5 465.0 158.6 464.5 158.6 464.0 158.6 463.5 158.6 463.0 158.6 462.5 158.6 462.1 158.5 462.0 158.5 461.5 158.4 461.0 158.3 460.5 158.2 460.0 158.0 459.9 158.0 459.5 157.9 459.0 157.7 458.6 157.5 458.5 157.5 458.0 157.3 457.5 157.0 457.5 157.0 457.0 156.7 456.6 156.5 456.5 156.4 456.0 156.1 455.9 156.0 455.5 155.7 455.2 155.5 455.0 155.3 454.6 155.0 454.5 154.9 454.1 154.5 454.0 154.4 453.6 154.0 453.5 153.9 453.2 153.5 453.0 153.3 452.8 153.0 452.5 152.6 452.4 152.5 452.1 152.0 452.0 151.8 451.8 151.5 451.5 151.0 451.5 150.9 451.3 150.5 451.1 150.0 451.0 149.7 450.9 149.5 450.7 149.0 450.6 148.5 450.5 148.0 450.5 148.0 450.4 147.5 450.3 147.0 450.2 146.5 450.2 146.0 450.2 145.5 450.2 145.0 450.2 144.5 450.2 144.0 450.3 143.5 450.3 143.0 450.4 142.5 450.5 142.2 450.5 142.0 450.7 141.5 450.8 141.0 451.0 140.5 451.0 140.5 451.2 140.0 451.4 139.5 451.5 139.3 451.6 139.0 451.9 138.5 452.0 138.3 452.2 138.0 452.5 137.5 452.5 137.5 452.8 137.0 453.0 136.8 453.2 136.5 453.5 136.2 453.6 136.0 454.0 135.6 454.1 135.5 454.5 135.1 454.6 135.0 455.0 134.6 455.1 134.5 455.5 134.2 455.8 134.0 456.0 133.8 456.4 133.5 456.5 133.5 457.0 133.1 457.2 133.0 457.5 132.8 458.0 132.6 458.1 132.5 458.5 132.3 459.0 132.1 459.2 132.0 459.5 131.9 460.0 131.7 460.5 131.5 460.6 131.5 461.0 131.4 461.5 131.2 462.0 131.1 462.5 131.1 463.0 131.0 463.1 131.0 463.5 131.0 464.0 131.0 464.5 131.0 464.7 131.0 465.0 131.0 465.5 131.1 466.0 131.2 466.5 131.3 467.0 131.5 467.0 131.5 467.5 131.7 468.0 131.9 468.1 132.0 468.5 132.2 469.0 132.5 469.0 132.5 469.5 132.8 469.7 133.0 470.0 133.2 470.3 133.5 470.5 133.7 470.9 134.0 471.0 134.1 471.4 134.5 471.5 134.6 471.8 135.0 472.0 135.2 472.2 135.5 472.5 135.8 472.6 136.0 473.0 136.5 473.0 136.5 473.3 137.0 473.5 137.3 473.6 137.5 473.9 138.0 474.0 138.3 474.1 138.5 474.3 139.0 474.5 139.4 474.5 139.5 474.7 140.0 474.9 140.5 475.0 141.0 475.0 141.0 475.1 141.5 475.2 142.0 475.3 142.5 475.3 143.0 475.4 143.5 475.4 144.0 475.4 144.5 475.4 145.0 475.4 145.5 475.3 146.0 475.3 146.5 475.2 147.0 475.1 147.5 475.0 147.8 475.0 148.0 474.8 148.5 474.7 149.0 474.5 149.5 474.5 149.6 474.3 150.0 474.1 150.5 474.0 150.8 473.9 151.0 473.7 151.5 473.5 151.9 473.4 152.0 473.1 152.5 473.0 152.7 472.8 153.0 472.5 153.5 472.5 153.5 472.2 154.0 472.0 154.2 471.8 154.5 471.5 154.8 471.4 155.0 471.0 155.4 470.9 155.5 470.5 155.9 470.4 156.0 470.0 156.3 469.8 156.5 469.5 156.8 469.2 157.0 469.0 157.1 468.5 157.4 468.4 157.5 468.0 157.7 467.5 157.9 467.3 158.0 467.0 158.1 466.5 158.3 466.0 158.4 465.6 158.5 465.5 158.5Z" fill="#a7a0f7" fill-opacity="1.0" fill-rule="evenodd"/>
<path d="M465.0 156.1 464.5 156.2 464.0 156.3 463.5 156.4 463.0 156.4 462.5 156.4 462.0 156.4 461.5 156.3 461.0 156.2 460.5 156.1 460.0 156.0 460.0 156.0 459.5 155.9 459.0 155.7 458.5 155.5 458.5 155.5 458.0 155.3 457.5 155.0 457.5 155.0 457.0 154.7 456.7 154.5 456.5 154.4 456.0 154.0 456.0 154.0 455.5 153.6 455.4 153.5 455.0 153.2 454.8 153.0 454.5 152.6 454.4 152.5 454.0 152.0 454.0 152.0 453.6 151.5 453.5 151.3 453.3 151.0 453.0 150.5 453.0 150.5 452.8 150.0 452.5 149.5 452.5 149.4 452.3 149.0 452.2 148.5 452.0 148.0 452.0 147.8 451.9 147.5 451.8 147.0 451.8 146.5 451.7 146.0 451.7 145.5 451.7 145.0 451.7 144.5 451.7 144.0 451.8 143.5 451.9 143.0 452.0 142.6 452.0 142.5 452.2 142.0 452.3 141.5 452.5 141.0 452.5 141.0 452.7 140.5 453.0 140.0 453.0 139.9 453.2 139.5 453.5 139.1 453.5 139.0 453.9 138.5 454.0 138.3 454.3 138.0 454.5 137.7 454.7 137.5 455.0 137.2 455.2 137.0 455.5 136.7 455.7 136.5 456.0 136.3 456.4 136.0 456.5 135.9 457.0 135.6 457.1 135.5 457.5 135.3 458.0 135.0 458.0 135.0 458.5 134.7 459.0 134.5 459.1 134.5 459.5 134.4 460.0 134.2 460.5 134.1 460.8 134.0 461.0 134.0 461.5 133.9 462.0 133.8 462.5 133.8 463.0 133.8 463.5 133.8 464.0 133.9 464.5 133.9 464.8 134.0 465.0 134.0 465.5 134.2 466.0 134.3 466.4 134.5 466.5 134.5 467.0 134.8 467.5 135.0 467.5 135.0 468.0 135.3 468.3 135.5 468.5 135.7 468.9 136.0 469.0 136.1 469.5 136.5 469.5 136.5 470.0 137.0 470.0 137.0 470.5 137.5 470.5 137.6 470.9 138.0 471.0 138.2 471.2 138.5 471.5 139.0 471.5 139.0 471.8 139.5 472.0 139.9 472.0 140.0 472.3 140.5 472.5 141.0 472.5 141.1 472.6 141.5 472.8 142.0 472.9 142.5 473.0 143.0 473.0 143.2 473.0 143.5 473.1 144.0 473.1 144.5 473.1 145.0 473.1 145.5 473.1 146.0 473.0 146.5 473.0 146.7 472.9 147.0 472.9 147.5 472.7 148.0 472.6 148.5 472.5 148.8 472.4 149.0 472.2 149.5 472.0 150.0 472.0 150.0 471.8 150.5 471.5 151.0 471.5 151.0 471.2 151.5 471.0 151.8 470.9 152.0 470.5 152.5 470.5 152.5 470.1 153.0 470.0 153.1 469.6 153.5 469.5 153.6 469.1 154.0 469.0 154.1 468.5 154.5 468.5 154.5 468.0 154.8 467.7 155.0 467.5 155.1 467.0 155.4 466.8 155.5 466.5 155.6 466.0 155.8 465.5 156.0 465.5 156.0 465.0 156.1Z" fill="#968ef6" fill-opacity="1.0" fill-rule="evenodd"/>
<path d="M464.0 154.5 463.5 154.6 463.0 154.7 462.5 154.7 462.0 154.7 461.5 154.7 461.0 154.6 460.5 154.5 460.5 154.5 460.0 154.4 459.5 154.2 459.0 154.1 458.9 154.0 458.5 153.9 458.0 153.6 457.8 153.5 457.5 153.3 457.0 153.0 457.0 153.0 456.5 152.6 456.4 152.5 456.0 152.2 455.8 152.0 455.5 151.7 455.4 151.5 455.0 151.1 455.0 151.0 454.6 150.5 454.5 150.3 454.3 150.0 454.0 149.5 454.0 149.5 453.8 149.0 453.6 148.5 453.5 148.2 453.4 148.0 453.3 147.5 453.2 147.0 453.1 146.5 453.1 146.0 453.0 145.5 453.0 145.0 453.1 144.5 453.1 144.0 453.2 143.5 453.3 143.0 453.4 142.5 453.5 142.3 453.6 142.0 453.8 141.5 454.0 141.1 454.0 141.0 454.3 140.5 454.5 140.2 454.6 140.0 455.0 139.5 455.0 139.5 455.4 139.0 455.5 138.9 455.8 138.5 456.0 138.3 456.4 138.0 456.5 137.9 457.0 137.5 457.0 137.5 457.5 137.2 457.8 137.0 458.0 136.9 458.5 136.6 458.8 136.5 459.0 136.4 459.5 136.2 460.0 136.1 460.3 136.0 460.5 135.9 461.0 135.8 461.5 135.8 462.0 135.7 462.5 135.7 463.0 135.8 463.5 135.8 464.0 135.9 464.5 136.0 464.5 136.0 465.0 136.1 465.5 136.3 465.9 136.5 466.0 136.5 466.5 136.8 466.9 137.0 467.0 137.1 467.5 137.4 467.6 137.5 468.0 137.8 468.2 138.0 468.5 138.3 468.7 138.5 469.0 138.8 469.2 139.0 469.5 139.4 469.6 139.5 469.9 140.0 470.0 140.2 470.2 140.5 470.4 141.0 470.5 141.1 470.7 141.5 470.8 142.0 471.0 142.5 471.0 142.5 471.1 143.0 471.2 143.5 471.3 144.0 471.3 144.5 471.4 145.0 471.3 145.5 471.3 146.0 471.3 146.5 471.2 147.0 471.1 147.5 471.0 147.7 470.9 148.0 470.8 148.5 470.6 149.0 470.5 149.2 470.4 149.5 470.1 150.0 470.0 150.2 469.8 150.5 469.5 150.9 469.5 151.0 469.1 151.5 469.0 151.6 468.6 152.0 468.5 152.1 468.1 152.5 468.0 152.6 467.5 153.0 467.5 153.0 467.0 153.3 466.7 153.5 466.5 153.6 466.0 153.9 465.7 154.0 465.5 154.1 465.0 154.3 464.5 154.4 464.2 154.5 464.0 154.5Z" fill="#857df5" fill-opacity="1.0" fill-rule="evenodd"/>
<path d="M464.0 153.0 463.5 153.1 463.0 153.2 462.5 153.2 462.0 153.2 461.5 153.2 461.0 153.2 460.5 153.1 460.2 153.0 460.0 152.9 459.5 152.8 459.0 152.6 458.8 152.5 458.5 152.3 458.0 152.0 457.9 152.0 457.5 151.7 457.2 151.5 457.0 151.3 456.7 151.0 456.5 150.8 456.2 150.5 456.0 150.2 455.8 150.0 455.5 149.5 455.5 149.5 455.2 149.0 455.0 148.6 455.0 148.5 454.8 148.0 454.6 147.5 454.5 147.1 454.5 147.0 454.4 146.5 454.3 146.0 454.3 145.5 454.3 145.0 454.3 144.5 454.4 144.0 454.5 143.6 454.5 143.5 454.6 143.0 454.8 142.5 455.0 142.1 455.0 142.0 455.3 141.5 455.5 141.1 455.6 141.0 455.9 140.5 456.0 140.4 456.3 140.0 456.5 139.8 456.8 139.5 457.0 139.3 457.4 139.0 457.5 138.9 458.0 138.6 458.1 138.5 458.5 138.3 459.0 138.0 459.0 138.0 459.5 137.8 460.0 137.6 460.5 137.5 460.6 137.5 461.0 137.4 461.5 137.4 462.0 137.3 462.5 137.3 463.0 137.4 463.5 137.5 463.7 137.5 464.0 137.6 464.5 137.7 465.0 137.9 465.2 138.0 465.5 138.1 466.0 138.4 466.2 138.5 466.5 138.7 466.9 139.0 467.0 139.1 467.4 139.5 467.5 139.6 467.9 140.0 468.0 140.1 468.3 140.5 468.5 140.8 468.6 141.0 468.9 141.5 469.0 141.7 469.1 142.0 469.3 142.5 469.5 143.0 469.5 143.0 469.6 143.5 469.7 144.0 469.8 144.5 469.8 145.0 469.8 145.5 469.8 146.0 469.7 146.5 469.6 147.0 469.5 147.5 469.5 147.5 469.3 148.0 469.1 148.5 469.0 148.8 468.9 149.0 468.6 149.5 468.5 149.7 468.3 150.0 468.0 150.4 467.9 150.5 467.5 151.0 467.5 151.0 467.0 151.4 466.9 151.5 466.5 151.8 466.2 152.0 466.0 152.2 465.5 152.4 465.4 152.5 465.0 152.7 464.5 152.9 464.0 153.0 464.0 153.0Z" fill="#756cf3" fill-opacity="1.0" fill-rule="evenodd"/>
<path d="M464.0 151.5 463.5 151.7 463.0 151.8 462.5 151.8 462.0 151.9 461.5 151.8 461.0 151.8 460.5 151.7 460.0 151.5 459.9 151.5 459.5 151.3 459.0 151.1 458.8 151.0 458.5 150.8 458.1 150.5 458.0 150.4 457.5 150.0 457.5 150.0 457.1 149.5 457.0 149.4 456.7 149.0 456.5 148.7 456.4 148.5 456.1 148.0 456.0 147.7 455.9 147.5 455.8 147.0 455.7 146.5 455.6 146.0 455.6 145.5 455.6 145.0 455.6 144.5 455.7 144.0 455.8 143.5 456.0 143.0 456.0 143.0 456.2 142.5 456.5 142.0 456.5 142.0 456.8 141.5 457.0 141.3 457.2 141.0 457.5 140.7 457.7 140.5 458.0 140.2 458.3 140.0 458.5 139.9 459.0 139.6 459.2 139.5 459.5 139.3 460.0 139.1 460.5 139.0 460.5 139.0 461.0 138.9 461.5 138.8 462.0 138.8 462.5 138.8 463.0 138.9 463.5 139.0 463.5 139.0 464.0 139.1 464.5 139.3 464.9 139.5 465.0 139.6 465.5 139.9 465.7 140.0 466.0 140.2 466.3 140.5 466.5 140.7 466.8 141.0 467.0 141.3 467.2 141.5 467.5 142.0 467.5 142.0 467.7 142.5 468.0 143.0 468.0 143.1 468.1 143.5 468.2 144.0 468.3 144.5 468.4 145.0 468.4 145.5 468.3 146.0 468.3 146.5 468.1 147.0 468.0 147.5 468.0 147.5 467.8 148.0 467.6 148.5 467.5 148.6 467.3 149.0 467.0 149.4 466.9 149.5 466.5 149.9 466.4 150.0 466.0 150.4 465.9 150.5 465.5 150.8 465.1 151.0 465.0 151.1 464.5 151.3 464.1 151.5 464.0 151.5Z" fill="#645bf2" fill-opacity="1.0" fill-rule="evenodd"/>
<path d="M463.5 150.1 463.0 150.3 462.5 150.4 462.0 150.4 461.5 150.4 461.0 150.3 460.5 150.2 460.0 150.0 459.9 150.0 459.5 149.8 459.1 149.5 459.0 149.5 458.5 149.0 458.5 149.0 458.0 148.5 458.0 148.5 457.7 148.0 457.5 147.7 457.4 147.5 457.2 147.0 457.1 146.5 457.0 146.2 457.0 146.0 456.9 145.5 456.9 145.0 457.0 144.6 457.0 144.5 457.1 144.0 457.3 143.5 457.5 143.0 457.5 143.0 457.8 142.5 458.0 142.3 458.2 142.0 458.5 141.7 458.7 141.5 459.0 141.3 459.4 141.0 459.5 141.0 460.0 140.7 460.5 140.5 460.6 140.5 461.0 140.4 461.5 140.3 462.0 140.3 462.5 140.3 463.0 140.4 463.3 140.5 463.5 140.6 464.0 140.8 464.4 141.0 464.5 141.0 465.0 141.4 465.1 141.5 465.5 141.9 465.6 142.0 466.0 142.5 466.0 142.5 466.3 143.0 466.5 143.4 466.5 143.5 466.7 144.0 466.8 144.5 466.9 145.0 466.9 145.5 466.8 146.0 466.7 146.5 466.6 147.0 466.5 147.3 466.4 147.5 466.1 148.0 466.0 148.2 465.8 148.5 465.5 148.8 465.4 149.0 465.0 149.3 464.8 149.5 464.5 149.7 464.0 149.9 463.9 150.0 463.5 150.1Z" fill="#544bf1" fill-opacity="1.0" fill-rule="evenodd"/>
<path d="M462.5 148.6 462.0 148.7 461.5 148.7 461.0 148.6 460.8 148.5 460.5 148.4 460.0 148.1 459.9 148.0 459.5 147.7 459.3 147.5 459.0 147.0 459.0 147.0 458.8 146.5 458.6 146.0 458.6 145.5 458.6 145.0 458.7 144.5 458.9 144.0 459.0 143.8 459.2 143.5 459.5 143.1 459.6 143.0 460.0 142.7 460.3 142.5 460.5 142.4 461.0 142.2 461.5 142.1 462.0 142.1 462.5 142.1 463.0 142.3 463.5 142.5 463.5 142.5 464.0 142.9 464.1 143.0 464.5 143.4 464.6 143.5 464.8 144.0 465.0 144.4 465.0 144.5 465.1 145.0 465.1 145.5 465.1 146.0 465.0 146.3 464.9 146.5 464.7 147.0 464.5 147.3 464.4 147.5 464.0 147.9 463.9 148.0 463.5 148.3 463.0 148.5 463.0 148.5 462.5 148.6Z" fill="#443af0" fill-opacity="1.0" fill-rule="evenodd"/>
</g>
<line x1="387.5" y1="13.9" x2="387.5" y2="255.2" stroke="#333" stroke-width="0.9"/>
<line x1="387.5" y1="255.2" x2="651.3" y2="255.2" stroke="#333" stroke-width="0.9"/>
<line x1="385.3" y1="33.6" x2="387.5" y2="33.6" stroke="#333" stroke-width="0.8"/>
<text x="384.2" y="36.7" font-size="8.7" text-anchor="end" fill="#333">1.2</text>
<line x1="385.3" y1="103.8" x2="387.5" y2="103.8" stroke="#333" stroke-width="0.8"/>
<text x="384.2" y="106.9" font-size="8.7" text-anchor="end" fill="#333">0.8</text>
<line x1="385.3" y1="174.0" x2="387.5" y2="174.0" stroke="#333" stroke-width="0.8"/>
<text x="384.2" y="177.1" font-size="8.7" text-anchor="end" fill="#333">0.4</text>
<line x1="385.3" y1="244.0" x2="387.5" y2="244.0" stroke="#333" stroke-width="0.8"/>
<text x="384.2" y="247.1" font-size="8.7" text-anchor="end" fill="#333">0.0</text>
<line x1="399.7" y1="255.2" x2="399.7" y2="257.6" stroke="#333" stroke-width="0.8"/>
<text x="399.7" y="264.6" font-size="8.7" text-anchor="middle" fill="#333">−0.1</text>
<line x1="459.6" y1="255.2" x2="459.6" y2="257.6" stroke="#333" stroke-width="0.8"/>
<text x="459.6" y="264.6" font-size="8.7" text-anchor="middle" fill="#333">0.0</text>
<line x1="519.6" y1="255.2" x2="519.6" y2="257.6" stroke="#333" stroke-width="0.8"/>
<text x="519.6" y="264.6" font-size="8.7" text-anchor="middle" fill="#333">0.1</text>
<line x1="579.7" y1="255.2" x2="579.7" y2="257.6" stroke="#333" stroke-width="0.8"/>
<text x="579.7" y="264.6" font-size="8.7" text-anchor="middle" fill="#333">0.2</text>
<line x1="639.7" y1="255.2" x2="639.7" y2="257.6" stroke="#333" stroke-width="0.8"/>
<text x="639.7" y="264.6" font-size="8.7" text-anchor="middle" fill="#333">0.3</text>
<text x="525.5" y="277.0" font-size="10.6" text-anchor="middle">Stroma Score</text>
<text transform="translate(369.6,139.0) rotate(-90)" font-size="10.6" text-anchor="middle">Immune Score</text>
<text x="364.4" y="12.8" font-size="18">b</text>
<rect x="422.1" y="6.6" width="154.8" height="15.8" fill="#fcd096" stroke="#333" stroke-width="0.8"/>
<rect x="422.1" y="22.4" width="154.8" height="21.7" fill="#feebd5" stroke="#333" stroke-width="0.8"/>
<text x="499.5" y="17.2" font-size="9.75" text-anchor="middle" font-weight="bold">Immune subtype</text>
<text x="428.7" y="31.0" font-size="7.5">Immune hot</text>
<text x="476.5" y="31.0" font-size="7.5">Immune cell infiltration</text>
<text x="428.7" y="40.2" font-size="7.5">Inflammatory response</text>
<rect x="394.0" y="190.5" width="146.5" height="15.9" fill="#6e5ffb" stroke="#333" stroke-width="0.8"/>
<rect x="394.0" y="206.4" width="146.5" height="35.0" fill="#e2d9fd" stroke="#333" stroke-width="0.8"/>
<text x="467.2" y="201.0" font-size="9.8" text-anchor="middle" font-weight="bold">Epithelial subtype</text>
<text x="396.4" y="216.9" font-size="7.5">Epithelial cell infiltration</text>
<text x="485.5" y="217.4" font-size="7.5">APC mutation</text>
<text x="399.9" y="226.3" font-size="7.5">Cell cycle</text>
<text x="440.5" y="226.3" font-size="7.5">DNA replication</text>
<text x="497.8" y="226.3" font-size="7.5">CDK kinase</text>
<text x="407.8" y="235.1" font-size="7.5">Metabolism</text>
<text x="460.6" y="235.6" font-size="7.5">IGC poor prognosis</text>
<rect x="543.4" y="190.1" width="141.1" height="15.2" fill="#fe6447" stroke="#333" stroke-width="0.8"/>
<rect x="543.4" y="205.3" width="141.1" height="36.1" fill="#fecdbf" stroke="#333" stroke-width="0.8"/>
<text x="614.0" y="200.6" font-size="9.8" text-anchor="middle" font-weight="bold">Endothelial subtype</text>
<text x="550.1" y="217.3" font-size="7.5">Endothelial cell infiltration</text>
<text x="644.5" y="217.3" font-size="7.5">Fibroblast</text>
<text x="554.4" y="226.5" font-size="7.5">CAMK kinase</text>
<text x="614.7" y="226.5" font-size="7.5">EMT</text>
<text x="648.9" y="226.5" font-size="7.5">ECM</text>
<text x="581.9" y="235.4" font-size="7.5">DGC poor prognosis</text>
<text x="7.4" y="516.3" font-size="18.5">c</text>
<path d="M49.2 527.0 L61.4 527.0 L61.4 531.7 L64.9 531.7 L64.9 535.9 L69.5 535.9 L69.5 538.2 L74.2 538.2 L74.2 541.0 L76.5 541.0 L76.5 542.9 L80.0 542.9 L80.0 545.7 L85.9 545.7 L85.9 547.6 L94.1 547.6 L94.1 549.2 L98.7 549.2 L98.7 552.7 L103.4 552.7 L103.4 556.2 L106.9 556.2 L106.9 559.7 L111.6 559.7 L111.6 564.4 L124.4 564.4 L124.4 569.5 L151.3 569.5" fill="none" stroke="#ef7d2c" stroke-width="1.35" stroke-linejoin="miter"/>
<line x1="129.1" y1="567.9" x2="129.1" y2="569.5" stroke="#ef7d2c" stroke-width="0.8"/>
<line x1="132.6" y1="567.9" x2="132.6" y2="569.5" stroke="#ef7d2c" stroke-width="0.8"/>
<line x1="136.1" y1="567.9" x2="136.1" y2="569.5" stroke="#ef7d2c" stroke-width="0.8"/>
<line x1="139.6" y1="567.9" x2="139.6" y2="569.5" stroke="#ef7d2c" stroke-width="0.8"/>
<line x1="143.1" y1="567.9" x2="143.1" y2="569.5" stroke="#ef7d2c" stroke-width="0.8"/>
<line x1="147.8" y1="567.9" x2="147.8" y2="569.5" stroke="#ef7d2c" stroke-width="0.8"/>
<line x1="87.0" y1="546.0" x2="87.0" y2="547.6" stroke="#ef7d2c" stroke-width="0.8"/>
<line x1="89.4" y1="546.0" x2="89.4" y2="547.6" stroke="#ef7d2c" stroke-width="0.8"/>
<line x1="91.7" y1="546.0" x2="91.7" y2="547.6" stroke="#ef7d2c" stroke-width="0.8"/>
<path d="M49.2 527.0 L60.2 527.0 L60.2 530.5 L66.0 531.7 L66.0 535.9 L72.6 535.9 L72.6 539.9 L74.9 539.9 L74.9 545.2 L75.8 545.2 L75.8 549.9 L84.7 549.9 L84.7 554.6 L102.2 554.6 L102.2 556.9 L104.6 556.9 L104.6 559.7 L167.6 559.7" fill="none" stroke="#2a5caa" stroke-width="1.35" stroke-linejoin="miter"/>
<line x1="127.9" y1="558.1" x2="127.9" y2="559.7" stroke="#2a5caa" stroke-width="0.8"/>
<line x1="130.3" y1="558.1" x2="130.3" y2="559.7" stroke="#2a5caa" stroke-width="0.8"/>
<line x1="131.9" y1="558.1" x2="131.9" y2="559.7" stroke="#2a5caa" stroke-width="0.8"/>
<line x1="145.4" y1="558.1" x2="145.4" y2="559.7" stroke="#2a5caa" stroke-width="0.8"/>
<line x1="166.5" y1="558.1" x2="166.5" y2="559.7" stroke="#2a5caa" stroke-width="0.8"/>
<path d="M49.2 527.0 L52.0 527.0 L52.0 531.7 L55.5 531.7 L55.5 537.5 L56.2 537.5 L56.2 543.4 L63.7 543.4 L63.7 549.2 L66.0 549.2 L66.0 556.2 L67.2 556.2 L67.2 562.0 L77.7 562.0 L77.7 569.1 L89.4 569.1 L89.4 574.9 L91.7 574.9 L91.7 580.7 L112.7 580.7 L112.7 586.6 L130.3 586.6 L130.3 601.8 L133.8 601.8" fill="none" stroke="#e8262b" stroke-width="1.35" stroke-linejoin="miter"/>
<line x1="131.9" y1="600.2" x2="131.9" y2="601.8" stroke="#e8262b" stroke-width="0.8"/>
<line x1="49.7" y1="517.8" x2="49.7" y2="617.0" stroke="#333" stroke-width="0.9"/>
<line x1="49.7" y1="617.0" x2="197.6" y2="617.0" stroke="#333" stroke-width="0.9"/>
<line x1="47.0" y1="527.1" x2="49.7" y2="527.1" stroke="#333" stroke-width="0.8"/>
<text x="47.0" y="530.3" font-size="8.9" text-anchor="end">100</text>
<line x1="47.0" y1="572.1" x2="49.7" y2="572.1" stroke="#333" stroke-width="0.8"/>
<text x="47.0" y="575.3" font-size="8.9" text-anchor="end">50</text>
<line x1="47.0" y1="617.0" x2="49.7" y2="617.0" stroke="#333" stroke-width="0.8"/>
<text x="47.0" y="620.2" font-size="8.9" text-anchor="end">0</text>
<line x1="49.7" y1="617.0" x2="49.7" y2="619.6" stroke="#333" stroke-width="0.8"/>
<text x="49.7" y="627.2" font-size="9.5" text-anchor="middle">0</text>
<line x1="87.0" y1="617.0" x2="87.0" y2="619.6" stroke="#333" stroke-width="0.8"/>
<text x="87.0" y="627.2" font-size="9.5" text-anchor="middle">500</text>
<line x1="124.1" y1="617.0" x2="124.1" y2="619.6" stroke="#333" stroke-width="0.8"/>
<text x="124.1" y="627.2" font-size="9.5" text-anchor="middle">1000</text>
<line x1="160.9" y1="617.0" x2="160.9" y2="619.6" stroke="#333" stroke-width="0.8"/>
<text x="160.9" y="627.2" font-size="9.5" text-anchor="middle">1500</text>
<line x1="197.6" y1="617.0" x2="197.6" y2="619.6" stroke="#333" stroke-width="0.8"/>
<text x="197.6" y="627.2" font-size="9.5" text-anchor="middle">2000</text>
<text x="118.5" y="508.1" font-size="9.1" text-anchor="middle">Immune subtype DGC DFS</text>
<text x="116.3" y="519.6" font-size="9.1" text-anchor="middle">p=0.040</text>
<text transform="translate(31.6,563.9) rotate(-90)" font-size="10.35" text-anchor="middle">Percent survival</text>
<line x1="53.1" y1="588.4" x2="63.1" y2="588.4" stroke="#2a5caa" stroke-width="1.1"/>
<line x1="58.1" y1="586.9" x2="58.1" y2="588.4" stroke="#2a5caa" stroke-width="0.8"/>
<text x="68.9" y="591.8" font-size="9.6">cluster1 n=20</text>
<line x1="53.1" y1="600.0" x2="63.1" y2="600.0" stroke="#ef7d2c" stroke-width="1.1"/>
<line x1="58.1" y1="598.5" x2="58.1" y2="600.0" stroke="#ef7d2c" stroke-width="0.8"/>
<text x="68.9" y="603.4" font-size="9.6">cluster2 n=46</text>
<line x1="53.1" y1="610.4" x2="63.1" y2="610.4" stroke="#e8262b" stroke-width="1.1"/>
<line x1="58.1" y1="608.9" x2="58.1" y2="610.4" stroke="#e8262b" stroke-width="0.8"/>
<text x="68.9" y="613.8" font-size="9.6">cluster3 n=17</text>
<text x="7.2" y="652.3" font-size="18">d</text>
<path d="M48.6 670.8 L50.5 670.8 L50.5 674.3 L58.7 674.3 L58.7 684.9 L63.4 684.9 L63.4 689.5 L65.7 689.5 L65.7 694.9 L68.0 694.9 L68.0 699.6 L121.8 699.6 L121.8 707.0 L168.5 707.0" fill="none" stroke="#ef7d2c" stroke-width="1.35" stroke-linejoin="miter"/>
<line x1="138.1" y1="705.4" x2="138.1" y2="707.0" stroke="#ef7d2c" stroke-width="0.8"/>
<line x1="142.8" y1="705.4" x2="142.8" y2="707.0" stroke="#ef7d2c" stroke-width="0.8"/>
<line x1="146.3" y1="705.4" x2="146.3" y2="707.0" stroke="#ef7d2c" stroke-width="0.8"/>
<line x1="149.8" y1="705.4" x2="149.8" y2="707.0" stroke="#ef7d2c" stroke-width="0.8"/>
<line x1="161.5" y1="705.4" x2="161.5" y2="707.0" stroke="#ef7d2c" stroke-width="0.8"/>
<line x1="96.1" y1="698.0" x2="96.1" y2="699.6" stroke="#ef7d2c" stroke-width="0.8"/>
<line x1="103.1" y1="698.0" x2="103.1" y2="699.6" stroke="#ef7d2c" stroke-width="0.8"/>
<line x1="110.1" y1="698.0" x2="110.1" y2="699.6" stroke="#ef7d2c" stroke-width="0.8"/>
<path d="M48.6 670.8 L56.4 670.8 L56.4 673.2 L58.7 673.2 L58.7 677.8 L61.0 677.8 L61.0 683.7 L64.5 683.7 L64.5 687.2 L68.0 687.2 L68.0 690.7 L71.5 690.7 L71.5 695.4 L75.0 695.4 L75.0 700.0 L80.9 700.0 L80.9 703.5 L89.1 703.5 L89.1 705.9 L97.2 705.9 L97.2 707.0 L101.9 707.0 L101.9 709.4 L104.2 709.4 L104.2 712.9 L124.1 712.9 L124.1 715.9 L131.1 715.9 L131.1 718.7 L173.1 718.7" fill="none" stroke="#2a5caa" stroke-width="1.35" stroke-linejoin="miter"/>
<line x1="138.1" y1="717.1" x2="138.1" y2="718.7" stroke="#2a5caa" stroke-width="0.8"/>
<line x1="142.8" y1="717.1" x2="142.8" y2="718.7" stroke="#2a5caa" stroke-width="0.8"/>
<line x1="146.3" y1="717.1" x2="146.3" y2="718.7" stroke="#2a5caa" stroke-width="0.8"/>
<line x1="149.8" y1="717.1" x2="149.8" y2="718.7" stroke="#2a5caa" stroke-width="0.8"/>
<line x1="163.8" y1="717.1" x2="163.8" y2="718.7" stroke="#2a5caa" stroke-width="0.8"/>
<line x1="170.8" y1="717.1" x2="170.8" y2="718.7" stroke="#2a5caa" stroke-width="0.8"/>
<path d="M48.6 670.8 L58.7 670.8 L58.7 675.5 L63.4 675.5 L63.4 680.2 L102.6 680.2 L102.6 687.2 L125.3 687.2 L125.3 691.9 L173.1 691.9" fill="none" stroke="#e8262b" stroke-width="1.35" stroke-linejoin="miter"/>
<line x1="133.4" y1="690.3" x2="133.4" y2="691.9" stroke="#e8262b" stroke-width="0.8"/>
<line x1="138.1" y1="690.3" x2="138.1" y2="691.9" stroke="#e8262b" stroke-width="0.8"/>
<line x1="142.8" y1="690.3" x2="142.8" y2="691.9" stroke="#e8262b" stroke-width="0.8"/>
<line x1="147.5" y1="690.3" x2="147.5" y2="691.9" stroke="#e8262b" stroke-width="0.8"/>
<line x1="152.1" y1="690.3" x2="152.1" y2="691.9" stroke="#e8262b" stroke-width="0.8"/>
<line x1="156.8" y1="690.3" x2="156.8" y2="691.9" stroke="#e8262b" stroke-width="0.8"/>
<line x1="166.1" y1="690.3" x2="166.1" y2="691.9" stroke="#e8262b" stroke-width="0.8"/>
<line x1="170.8" y1="690.3" x2="170.8" y2="691.9" stroke="#e8262b" stroke-width="0.8"/>
<line x1="96.1" y1="678.6" x2="96.1" y2="680.2" stroke="#e8262b" stroke-width="0.8"/>
<line x1="99.6" y1="678.6" x2="99.6" y2="680.2" stroke="#e8262b" stroke-width="0.8"/>
<line x1="48.6" y1="662.4" x2="48.6" y2="760.8" stroke="#9a9a9a" stroke-width="1.2"/>
<line x1="48.6" y1="760.8" x2="196.5" y2="760.8" stroke="#333" stroke-width="0.9"/>
<line x1="45.8" y1="671.5" x2="48.6" y2="671.5" stroke="#333" stroke-width="0.8"/>
<text x="45.8" y="674.7" font-size="8.9" text-anchor="end">100</text>
<line x1="45.8" y1="716.6" x2="48.6" y2="716.6" stroke="#333" stroke-width="0.8"/>
<text x="45.8" y="719.8" font-size="8.9" text-anchor="end">50</text>
<line x1="45.8" y1="760.8" x2="48.6" y2="760.8" stroke="#333" stroke-width="0.8"/>
<text x="45.8" y="764.0" font-size="8.9" text-anchor="end">0</text>
<line x1="48.6" y1="760.8" x2="48.6" y2="763.4" stroke="#333" stroke-width="0.8"/>
<text x="48.6" y="771.4" font-size="9.5" text-anchor="middle">0</text>
<line x1="97.7" y1="760.8" x2="97.7" y2="763.4" stroke="#333" stroke-width="0.8"/>
<text x="97.7" y="771.4" font-size="9.5" text-anchor="middle">1000</text>
<line x1="147.0" y1="760.8" x2="147.0" y2="763.4" stroke="#333" stroke-width="0.8"/>
<text x="147.0" y="771.4" font-size="9.5" text-anchor="middle">2000</text>
<line x1="196.0" y1="760.8" x2="196.0" y2="763.4" stroke="#333" stroke-width="0.8"/>
<text x="196.0" y="771.4" font-size="9.5" text-anchor="middle">3000</text>
<text x="117.6" y="650.9" font-size="9.1" text-anchor="middle">Immune subtype IGC DFS</text>
<text x="115.2" y="663.4" font-size="9.1" text-anchor="middle">p=0.030</text>
<text transform="translate(31.6,709.7) rotate(-90)" font-size="10.35" text-anchor="middle">Percent survival</text>
<line x1="51.2" y1="732.7" x2="62.2" y2="732.7" stroke="#2a5caa" stroke-width="1.1"/>
<line x1="56.7" y1="731.2" x2="56.7" y2="732.7" stroke="#2a5caa" stroke-width="0.8"/>
<text x="68.0" y="736.1" font-size="9.6">cluster1 n=49</text>
<line x1="51.2" y1="743.7" x2="62.2" y2="743.7" stroke="#ef7d2c" stroke-width="1.1"/>
<line x1="56.7" y1="742.2" x2="56.7" y2="743.7" stroke="#ef7d2c" stroke-width="0.8"/>
<text x="68.0" y="747.1" font-size="9.6">cluster2 n=19</text>
<line x1="51.2" y1="754.9" x2="62.2" y2="754.9" stroke="#e8262b" stroke-width="1.1"/>
<line x1="56.7" y1="753.4" x2="56.7" y2="754.9" stroke="#e8262b" stroke-width="0.8"/>
<text x="68.0" y="758.3" font-size="9.6">cluster3 n=32</text>
<text x="222.2" y="516.8" font-size="18.5">e</text>
<circle cx="256.4" cy="509.3" r="1.8" fill="#f00"/>
<text x="263.5" y="513.0" font-size="9.9">DGC higher infiltration</text>
<circle cx="373.1" cy="509.3" r="1.8" fill="#ffa500"/>
<text x="380.5" y="513.0" font-size="9.9">IGC higher infiltration</text>
<circle cx="331.2" cy="703.5" r="1.45" fill="#bdbdbd"/>
<circle cx="338.6" cy="697.4" r="1.45" fill="#bdbdbd"/>
<circle cx="354.9" cy="696.1" r="1.45" fill="#bdbdbd"/>
<circle cx="363.9" cy="697.4" r="1.45" fill="#bdbdbd"/>
<circle cx="368.0" cy="701.4" r="1.45" fill="#bdbdbd"/>
<circle cx="371.3" cy="702.3" r="1.45" fill="#bdbdbd"/>
<circle cx="366.4" cy="706.4" r="1.45" fill="#bdbdbd"/>
<circle cx="359.8" cy="708.4" r="1.45" fill="#bdbdbd"/>
<circle cx="361.9" cy="712.5" r="1.45" fill="#bdbdbd"/>
<circle cx="368.0" cy="712.5" r="1.45" fill="#bdbdbd"/>
<circle cx="417.5" cy="706.4" r="1.45" fill="#bdbdbd"/>
<circle cx="421.1" cy="719.8" r="1.45" fill="#bdbdbd"/>
<circle cx="363.9" cy="718.6" r="1.45" fill="#bdbdbd"/>
<circle cx="348.4" cy="730.1" r="1.45" fill="#bdbdbd"/>
<circle cx="378.6" cy="724.8" r="1.45" fill="#bdbdbd"/>
<circle cx="361.0" cy="724.8" r="1.45" fill="#bdbdbd"/>
<circle cx="365.5" cy="726.8" r="1.45" fill="#bdbdbd"/>
<circle cx="368.8" cy="727.6" r="1.45" fill="#bdbdbd"/>
<circle cx="362.7" cy="730.9" r="1.45" fill="#bdbdbd"/>
<circle cx="331.6" cy="740.7" r="1.45" fill="#bdbdbd"/>
<circle cx="364.3" cy="737.0" r="1.45" fill="#bdbdbd"/>
<circle cx="364.3" cy="742.3" r="1.45" fill="#bdbdbd"/>
<circle cx="423.2" cy="738.2" r="1.45" fill="#bdbdbd"/>
<circle cx="365.5" cy="742.3" r="1.45" fill="#bdbdbd"/>
<circle cx="359.0" cy="705.5" r="1.45" fill="#bdbdbd"/>
<circle cx="369.6" cy="706.4" r="1.45" fill="#bdbdbd"/>
<circle cx="367.2" cy="714.5" r="1.45" fill="#bdbdbd"/>
<circle cx="360.6" cy="717.0" r="1.45" fill="#bdbdbd"/>
<circle cx="370.4" cy="721.9" r="1.45" fill="#bdbdbd"/>
<circle cx="363.5" cy="733.3" r="1.45" fill="#bdbdbd"/>
<circle cx="376.6" cy="641.9" r="1.45" fill="#bdbdbd"/>
<circle cx="377.7" cy="656.7" r="1.45" fill="#bdbdbd"/>
<circle cx="373.5" cy="665.0" r="1.45" fill="#bdbdbd"/>
<circle cx="364.3" cy="669.7" r="1.45" fill="#bdbdbd"/>
<circle cx="358.7" cy="661.9" r="1.45" fill="#bdbdbd"/>
<circle cx="355.8" cy="672.6" r="1.45" fill="#bdbdbd"/>
<circle cx="362.0" cy="678.9" r="1.45" fill="#bdbdbd"/>
<circle cx="366.9" cy="684.4" r="1.45" fill="#bdbdbd"/>
<circle cx="355.2" cy="688.3" r="1.45" fill="#bdbdbd"/>
<circle cx="361.8" cy="689.5" r="1.45" fill="#bdbdbd"/>
<circle cx="370.4" cy="686.0" r="1.45" fill="#bdbdbd"/>
<circle cx="359.5" cy="627.0" r="1.45" fill="#bdbdbd"/>
<circle cx="351.5" cy="640.0" r="1.45" fill="#bdbdbd"/>
<circle cx="369.0" cy="635.5" r="1.45" fill="#bdbdbd"/>
<rect x="259.2" y="516.5" width="211.1" height="236.2" fill="none" stroke="#555" stroke-width="0.9"/>
<line x1="358.4" y1="516.5" x2="358.4" y2="752.7" stroke="#222" stroke-width="0.9" stroke-dasharray="2.5,3.5"/>
<line x1="371.7" y1="516.5" x2="371.7" y2="752.7" stroke="#222" stroke-width="0.9" stroke-dasharray="2.5,3.5"/>
<line x1="259.2" y1="623.9" x2="470.3" y2="623.9" stroke="#888" stroke-width="0.9" stroke-dasharray="3,4"/>
<text x="257.6" y="567.8" font-size="9.3" text-anchor="end" fill="#333">1.5</text>
<text x="257.6" y="627.2" font-size="9.3" text-anchor="end" fill="#333">1.0</text>
<text x="257.6" y="685.6" font-size="9.3" text-anchor="end" fill="#333">0.5</text>
<text x="257.6" y="744.7" font-size="9.3" text-anchor="end" fill="#333">0.0</text>
<line x1="269.3" y1="752.7" x2="269.3" y2="755.2" stroke="#333" stroke-width="0.8"/>
<text x="269.3" y="763.2" font-size="9.5" text-anchor="middle">−4</text>
<line x1="316.8" y1="752.7" x2="316.8" y2="755.2" stroke="#333" stroke-width="0.8"/>
<text x="316.8" y="763.2" font-size="9.5" text-anchor="middle">−2</text>
<line x1="364.6" y1="752.7" x2="364.6" y2="755.2" stroke="#333" stroke-width="0.8"/>
<text x="364.6" y="763.2" font-size="9.5" text-anchor="middle">0</text>
<line x1="411.6" y1="752.7" x2="411.6" y2="755.2" stroke="#333" stroke-width="0.8"/>
<text x="411.6" y="763.2" font-size="9.5" text-anchor="middle">2</text>
<line x1="461.0" y1="752.7" x2="461.0" y2="755.2" stroke="#333" stroke-width="0.8"/>
<text x="461.0" y="763.2" font-size="9.5" text-anchor="middle">4</text>
<text x="369.9" y="777.0" font-size="9.85" text-anchor="middle">Log2(fold change)</text>
<text transform="translate(237.4,634.7) rotate(-90)" font-size="10.0" text-anchor="middle">−Log10(p value)</text>
<circle cx="331.4" cy="526.7" r="2.1" fill="#f20000"/>
<circle cx="344.7" cy="544.0" r="2.1" fill="#f20000"/>
<circle cx="348.8" cy="563.0" r="2.1" fill="#f20000"/>
<circle cx="341.6" cy="608.6" r="2.1" fill="#f20000"/>
<circle cx="352.8" cy="621.9" r="2.1" fill="#f20000"/>
<circle cx="377.2" cy="533.2" r="2.0" fill="#fba31a"/>
<circle cx="377.0" cy="593.7" r="2.0" fill="#fba31a"/>
<circle cx="380.3" cy="599.4" r="2.0" fill="#fba31a"/>
<circle cx="376.6" cy="607.0" r="2.0" fill="#fba31a"/>
<circle cx="448.7" cy="600.4" r="2.0" fill="#fba31a"/>
<text x="282.3" y="532.8" font-size="9.9">Hepatocytes</text>
<text x="267.0" y="554.3" font-size="9.9">CD4+ memory T cells</text>
<text x="302.4" y="570.6" font-size="9.9">CD8+ T cells</text>
<text x="299.7" y="606.2" font-size="9.9">Osteoblast</text>
<text x="314.0" y="620.9" font-size="9.9">Th1 cells</text>
<text x="374.3" y="529.7" font-size="9.9">Common lymphoid  progenitor</text>
<text x="374.7" y="589.2" font-size="9.9">Skeletal muscle</text>
<text x="433.6" y="596.3" font-size="9.9">NK cells</text>
<text x="383.3" y="607.2" font-size="9.9">Mesangial cells</text>
<text x="375.8" y="619.2" font-size="9.9">Th2 cells</text>
<text x="509.2" y="516.6" font-size="18">f</text>
<text x="579.7" y="513.8" font-size="9.4">p=0.028</text>
<line x1="554.8" y1="513.4" x2="554.8" y2="623.8" stroke="#666" stroke-width="0.9"/>
<line x1="554.8" y1="623.8" x2="634.5" y2="623.8" stroke="#666" stroke-width="0.9"/>
<line x1="551.6" y1="513.4" x2="554.8" y2="513.4" stroke="#666" stroke-width="0.8"/>
<text x="550.2" y="516.6" font-size="9.2" text-anchor="end">1.0</text>
<line x1="551.6" y1="541.4" x2="554.8" y2="541.4" stroke="#666" stroke-width="0.8"/>
<text x="550.2" y="544.6" font-size="9.2" text-anchor="end">0.5</text>
<line x1="551.6" y1="568.6" x2="554.8" y2="568.6" stroke="#666" stroke-width="0.8"/>
<text x="550.2" y="571.8" font-size="9.2" text-anchor="end">0.0</text>
<line x1="551.6" y1="596.2" x2="554.8" y2="596.2" stroke="#666" stroke-width="0.8"/>
<text x="550.2" y="599.4" font-size="9.2" text-anchor="end">-0.5</text>
<line x1="551.6" y1="623.8" x2="554.8" y2="623.8" stroke="#666" stroke-width="0.8"/>
<text x="550.2" y="627.0" font-size="9.2" text-anchor="end">-1.0</text>
<line x1="574.6" y1="623.8" x2="574.6" y2="627.0" stroke="#666" stroke-width="0.8"/>
<line x1="614.4" y1="623.8" x2="614.4" y2="627.0" stroke="#666" stroke-width="0.8"/>
<text x="574.6" y="637.7" font-size="9.2" text-anchor="middle">DGC</text>
<text x="614.4" y="637.7" font-size="9.2" text-anchor="middle">IGC</text>
<text transform="translate(527.6,569.6) rotate(-90)" font-size="10.5" text-anchor="middle">Log2(Th1/Th2ratio)</text>
<rect x="561.3" y="543.4" width="27.0" height="25.6" fill="none" stroke="#f2525c" stroke-width="1.1"/>
<line x1="561.3" y1="561.4" x2="588.3" y2="561.4" stroke="#f2525c" stroke-width="1.1"/>
<line x1="574.8" y1="543.4" x2="574.8" y2="532.2" stroke="#f2525c" stroke-width="1.1"/>
<line x1="574.8" y1="569.0" x2="574.8" y2="595.1" stroke="#f2525c" stroke-width="1.1"/>
<line x1="567.9" y1="532.2" x2="581.6" y2="532.2" stroke="#f2525c" stroke-width="1.1"/>
<line x1="567.9" y1="595.1" x2="581.6" y2="595.1" stroke="#f2525c" stroke-width="1.1"/>
<rect x="601.2" y="553.7" width="26.9" height="19.4" fill="none" stroke="#f7931e" stroke-width="1.1"/>
<line x1="601.2" y1="563.1" x2="628.1" y2="563.1" stroke="#f7931e" stroke-width="1.1"/>
<line x1="614.6" y1="553.7" x2="614.6" y2="534.4" stroke="#f7931e" stroke-width="1.1"/>
<line x1="614.6" y1="573.1" x2="614.6" y2="593.7" stroke="#f7931e" stroke-width="1.1"/>
<line x1="608.0" y1="534.4" x2="621.2" y2="534.4" stroke="#f7931e" stroke-width="1.1"/>
<line x1="608.0" y1="593.7" x2="621.2" y2="593.7" stroke="#f7931e" stroke-width="1.1"/>
<text x="506.9" y="658.8" font-size="15">g</text>
<path d="M525.0 672.6 L534.2 672.6 L534.2 676.0 L535.5 676.0 L535.5 680.5 L538.1 680.5 L538.1 685.7 L539.4 685.7 L539.4 687.0 L549.9 687.0 L549.9 693.6 L552.5 693.6 L552.5 696.2 L555.2 696.2 L555.2 700.2 L557.8 700.2 L557.8 705.4 L561.7 705.4 L561.7 708.1 L568.3 708.1 L568.3 709.4 L573.6 709.4 L573.6 712.0 L576.2 712.0 L576.2 714.6 L628.2 714.6" fill="none" stroke="#f0403c" stroke-width="1.35" stroke-linejoin="miter"/>
<line x1="586.7" y1="713.0" x2="586.7" y2="714.6" stroke="#f0403c" stroke-width="0.8"/>
<line x1="590.6" y1="713.0" x2="590.6" y2="714.6" stroke="#f0403c" stroke-width="0.8"/>
<line x1="605.1" y1="713.0" x2="605.1" y2="714.6" stroke="#f0403c" stroke-width="0.8"/>
<line x1="623.5" y1="713.0" x2="623.5" y2="714.6" stroke="#f0403c" stroke-width="0.8"/>
<path d="M525.0 672.6 L531.5 672.6 L531.5 673.9 L535.5 673.9 L535.5 676.5 L543.4 676.5 L543.4 677.8 L544.7 677.8 L544.7 681.8 L548.6 681.8 L548.6 684.4 L552.5 684.4 L552.5 686.5 L555.2 686.5 L555.2 689.7 L560.4 689.7 L560.4 691.8 L568.3 691.8 L568.3 693.6 L573.6 693.6 L573.6 696.2 L593.3 696.2 L593.3 697.5 L597.2 697.5 L597.2 700.2 L605.1 700.2 L605.1 701.5 L636.1 701.5" fill="none" stroke="#1c1cc8" stroke-width="1.6" stroke-linejoin="miter"/>
<line x1="536.8" y1="674.9" x2="536.8" y2="676.5" stroke="#1c1cc8" stroke-width="0.8"/>
<line x1="547.3" y1="680.2" x2="547.3" y2="681.8" stroke="#1c1cc8" stroke-width="0.8"/>
<line x1="557.8" y1="688.1" x2="557.8" y2="689.7" stroke="#1c1cc8" stroke-width="0.8"/>
<line x1="563.1" y1="690.2" x2="563.1" y2="691.8" stroke="#1c1cc8" stroke-width="0.8"/>
<line x1="570.9" y1="692.0" x2="570.9" y2="693.6" stroke="#1c1cc8" stroke-width="0.8"/>
<line x1="578.8" y1="694.6" x2="578.8" y2="696.2" stroke="#1c1cc8" stroke-width="0.8"/>
<line x1="584.1" y1="694.6" x2="584.1" y2="696.2" stroke="#1c1cc8" stroke-width="0.8"/>
<line x1="586.7" y1="694.6" x2="586.7" y2="696.2" stroke="#1c1cc8" stroke-width="0.8"/>
<line x1="590.6" y1="694.6" x2="590.6" y2="696.2" stroke="#1c1cc8" stroke-width="0.8"/>
<line x1="599.8" y1="698.6" x2="599.8" y2="700.2" stroke="#1c1cc8" stroke-width="0.8"/>
<line x1="607.7" y1="699.9" x2="607.7" y2="701.5" stroke="#1c1cc8" stroke-width="0.8"/>
<line x1="610.4" y1="699.9" x2="610.4" y2="701.5" stroke="#1c1cc8" stroke-width="0.8"/>
<line x1="613.0" y1="699.9" x2="613.0" y2="701.5" stroke="#1c1cc8" stroke-width="0.8"/>
<line x1="615.6" y1="699.9" x2="615.6" y2="701.5" stroke="#1c1cc8" stroke-width="0.8"/>
<line x1="618.2" y1="699.9" x2="618.2" y2="701.5" stroke="#1c1cc8" stroke-width="0.8"/>
<line x1="620.9" y1="699.9" x2="620.9" y2="701.5" stroke="#1c1cc8" stroke-width="0.8"/>
<line x1="623.5" y1="699.9" x2="623.5" y2="701.5" stroke="#1c1cc8" stroke-width="0.8"/>
<line x1="626.1" y1="699.9" x2="626.1" y2="701.5" stroke="#1c1cc8" stroke-width="0.8"/>
<line x1="628.7" y1="699.9" x2="628.7" y2="701.5" stroke="#1c1cc8" stroke-width="0.8"/>
<line x1="631.4" y1="699.9" x2="631.4" y2="701.5" stroke="#1c1cc8" stroke-width="0.8"/>
<line x1="634.0" y1="699.9" x2="634.0" y2="701.5" stroke="#1c1cc8" stroke-width="0.8"/>
<line x1="525.0" y1="664.7" x2="525.0" y2="752.2" stroke="#333" stroke-width="0.9"/>
<line x1="525.0" y1="752.2" x2="656.9" y2="752.2" stroke="#333" stroke-width="0.9"/>
<line x1="522.3" y1="672.6" x2="525.0" y2="672.6" stroke="#333" stroke-width="0.8"/>
<text x="522.6" y="675.8" font-size="8.9" text-anchor="end">100</text>
<line x1="522.3" y1="712.5" x2="525.0" y2="712.5" stroke="#333" stroke-width="0.8"/>
<text x="522.6" y="715.7" font-size="8.9" text-anchor="end">50</text>
<line x1="522.3" y1="752.2" x2="525.0" y2="752.2" stroke="#333" stroke-width="0.8"/>
<text x="522.6" y="755.4" font-size="8.9" text-anchor="end">0</text>
<line x1="525.0" y1="752.2" x2="525.0" y2="754.8" stroke="#333" stroke-width="0.8"/>
<text x="525.0" y="762.8" font-size="9.5" text-anchor="middle">0</text>
<line x1="569.1" y1="752.2" x2="569.1" y2="754.8" stroke="#333" stroke-width="0.8"/>
<text x="569.1" y="762.8" font-size="9.5" text-anchor="middle">1000</text>
<line x1="613.0" y1="752.2" x2="613.0" y2="754.8" stroke="#333" stroke-width="0.8"/>
<text x="613.0" y="762.8" font-size="9.5" text-anchor="middle">2000</text>
<line x1="656.9" y1="752.2" x2="656.9" y2="754.8" stroke="#333" stroke-width="0.8"/>
<text x="656.9" y="762.8" font-size="9.5" text-anchor="middle">3000</text>
<text x="591.4" y="774.3" font-size="10.5" text-anchor="middle">days</text>
<text x="587.0" y="662.9" font-size="9.4" text-anchor="middle">Th1/Th2 ratio</text>
<text x="587.7" y="673.9" font-size="9.4" text-anchor="middle">p=0.0377</text>
<text transform="translate(509.0,712.0) rotate(-90)" font-size="10.35" text-anchor="middle">Percent survival</text>
<line x1="531.5" y1="734.3" x2="542.0" y2="734.3" stroke="#1c1cc8" stroke-width="1.2"/>
<line x1="536.7" y1="732.8" x2="536.7" y2="734.3" stroke="#1c1cc8" stroke-width="0.8"/>
<text x="546.5" y="737.5" font-size="8.7">low n=93</text>
<line x1="531.5" y1="744.1" x2="542.0" y2="744.1" stroke="#f0403c" stroke-width="1.2"/>
<line x1="536.7" y1="742.6" x2="536.7" y2="744.1" stroke="#f0403c" stroke-width="0.8"/>
<text x="546.5" y="747.3" font-size="8.7">high n=27</text>
<text x="7.4" y="797.0" font-size="18">h</text>
<rect x="55.2" y="860.6" width="8.2" height="42.0" fill="#fe6347" stroke="#5a2a20" stroke-width="0.6"/>
<rect x="68.3" y="860.6" width="8.8" height="31.7" fill="#fe6347" stroke="#5a2a20" stroke-width="0.6"/>
<rect x="81.2" y="860.6" width="9.0" height="7.6" fill="#fe6347" stroke="#5a2a20" stroke-width="0.6"/>
<rect x="94.6" y="860.6" width="8.8" height="6.3" fill="#fe6347" stroke="#5a2a20" stroke-width="0.6"/>
<rect x="107.7" y="860.6" width="8.8" height="1.9" fill="#fe6347" stroke="#5a2a20" stroke-width="0.6"/>
<rect x="134.0" y="858.1" width="8.8" height="2.5" fill="#4b2cf2" stroke="#5a2a20" stroke-width="0.6"/>
<rect x="147.2" y="843.2" width="9.0" height="17.4" fill="#4b2cf2" stroke="#5a2a20" stroke-width="0.6"/>
<rect x="160.6" y="842.4" width="8.7" height="18.2" fill="#fe6347" stroke="#5a2a20" stroke-width="0.6"/>
<rect x="173.7" y="840.8" width="8.8" height="19.8" fill="#4b2cf2" stroke="#5a2a20" stroke-width="0.6"/>
<rect x="187.2" y="830.5" width="8.4" height="30.1" fill="#4b2cf2" stroke="#5a2a20" stroke-width="0.6"/>
<rect x="200.3" y="829.7" width="8.7" height="30.9" fill="#fe6347" stroke="#5a2a20" stroke-width="0.6"/>
<rect x="213.4" y="815.4" width="9.1" height="45.2" fill="#4b2cf2" stroke="#5a2a20" stroke-width="0.6"/>
<rect x="226.9" y="803.5" width="8.7" height="57.1" fill="#4b2cf2" stroke="#5a2a20" stroke-width="0.6"/>
<line x1="50.8" y1="860.6" x2="240.0" y2="860.6" stroke="#222" stroke-width="0.9"/>
<line x1="50.8" y1="797.2" x2="50.8" y2="923.6" stroke="#222" stroke-width="0.9"/>
<line x1="50.8" y1="923.6" x2="232.7" y2="923.6" stroke="#222" stroke-width="0.9"/>
<line x1="47.3" y1="797.2" x2="50.8" y2="797.2" stroke="#222" stroke-width="0.8"/>
<text x="45.4" y="800.7" font-size="9.9" text-anchor="end">4</text>
<line x1="47.3" y1="828.7" x2="50.8" y2="828.7" stroke="#222" stroke-width="0.8"/>
<text x="45.4" y="832.2" font-size="9.9" text-anchor="end">2</text>
<line x1="47.3" y1="860.6" x2="50.8" y2="860.6" stroke="#222" stroke-width="0.8"/>
<text x="45.4" y="864.1" font-size="9.9" text-anchor="end">0</text>
<line x1="47.3" y1="892.3" x2="50.8" y2="892.3" stroke="#222" stroke-width="0.8"/>
<text x="45.4" y="895.8" font-size="9.9" text-anchor="end">-2</text>
<line x1="47.3" y1="924.0" x2="50.8" y2="924.0" stroke="#222" stroke-width="0.8"/>
<text x="45.4" y="927.5" font-size="9.9" text-anchor="end">-4</text>
<line x1="59.6" y1="923.6" x2="59.6" y2="928.3" stroke="#222" stroke-width="0.8"/>
<text transform="translate(62.0,938.0) rotate(-45)" font-size="9.4" text-anchor="end">#1</text>
<line x1="72.7" y1="923.6" x2="72.7" y2="928.3" stroke="#222" stroke-width="0.8"/>
<text transform="translate(75.1,938.0) rotate(-45)" font-size="9.4" text-anchor="end">#2</text>
<line x1="85.8" y1="923.6" x2="85.8" y2="928.3" stroke="#222" stroke-width="0.8"/>
<text transform="translate(88.2,938.0) rotate(-45)" font-size="9.4" text-anchor="end">#3</text>
<line x1="99.0" y1="923.6" x2="99.0" y2="928.3" stroke="#222" stroke-width="0.8"/>
<text transform="translate(101.4,938.0) rotate(-45)" font-size="9.4" text-anchor="end">#4</text>
<line x1="112.1" y1="923.6" x2="112.1" y2="928.3" stroke="#222" stroke-width="0.8"/>
<text transform="translate(114.5,938.0) rotate(-45)" font-size="9.4" text-anchor="end">#5</text>
<line x1="125.3" y1="923.6" x2="125.3" y2="928.3" stroke="#222" stroke-width="0.8"/>
<text transform="translate(127.7,938.0) rotate(-45)" font-size="9.4" text-anchor="end">#6</text>
<line x1="138.4" y1="923.6" x2="138.4" y2="928.3" stroke="#222" stroke-width="0.8"/>
<text transform="translate(140.8,938.0) rotate(-45)" font-size="9.4" text-anchor="end">#7</text>
<line x1="151.5" y1="923.6" x2="151.5" y2="928.3" stroke="#222" stroke-width="0.8"/>
<text transform="translate(153.9,938.0) rotate(-45)" font-size="9.4" text-anchor="end">#8</text>
<line x1="164.7" y1="923.6" x2="164.7" y2="928.3" stroke="#222" stroke-width="0.8"/>
<text transform="translate(167.1,938.0) rotate(-45)" font-size="9.4" text-anchor="end">#9</text>
<line x1="177.8" y1="923.6" x2="177.8" y2="928.3" stroke="#222" stroke-width="0.8"/>
<text transform="translate(180.2,938.0) rotate(-45)" font-size="9.4" text-anchor="end">#10</text>
<line x1="190.9" y1="923.6" x2="190.9" y2="928.3" stroke="#222" stroke-width="0.8"/>
<text transform="translate(193.3,938.0) rotate(-45)" font-size="9.4" text-anchor="end">#11</text>
<line x1="204.1" y1="923.6" x2="204.1" y2="928.3" stroke="#222" stroke-width="0.8"/>
<text transform="translate(206.5,938.0) rotate(-45)" font-size="9.4" text-anchor="end">#12</text>
<line x1="217.2" y1="923.6" x2="217.2" y2="928.3" stroke="#222" stroke-width="0.8"/>
<text transform="translate(219.6,938.0) rotate(-45)" font-size="9.4" text-anchor="end">#13</text>
<line x1="230.4" y1="923.6" x2="230.4" y2="928.3" stroke="#222" stroke-width="0.8"/>
<text transform="translate(232.8,938.0) rotate(-45)" font-size="9.4" text-anchor="end">#14</text>
<text x="79.4" y="805.7" font-size="9.4">Response</text>
<rect x="128.2" y="798.4" width="8.2" height="8.5" fill="#fe6347" stroke="#5a2a20" stroke-width="0.5"/>
<text x="140.1" y="805.7" font-size="9.4">SD/PD</text>
<rect x="174.3" y="798.4" width="8.7" height="8.5" fill="#4b2cf2" stroke="#2a1a80" stroke-width="0.5"/>
<text x="187.4" y="805.7" font-size="9.4">PR</text>
<text transform="translate(29.4,858.0) rotate(-90)" font-size="10.5" text-anchor="middle">Log2(Th1/Th2 ratio)</text>
<text x="280.1" y="797.4" font-size="18">i</text>
<line x1="308.9" y1="802.5" x2="308.9" y2="923.2" stroke="#222" stroke-width="0.9"/>
<line x1="308.9" y1="923.2" x2="389.2" y2="923.2" stroke="#222" stroke-width="0.9"/>
<line x1="305.1" y1="802.5" x2="308.9" y2="802.5" stroke="#222" stroke-width="0.8"/>
<text x="303.2" y="805.9" font-size="9.7" text-anchor="end">4</text>
<line x1="305.1" y1="832.4" x2="308.9" y2="832.4" stroke="#222" stroke-width="0.8"/>
<text x="303.2" y="835.8" font-size="9.7" text-anchor="end">2</text>
<line x1="305.1" y1="862.4" x2="308.9" y2="862.4" stroke="#222" stroke-width="0.8"/>
<text x="303.2" y="865.8" font-size="9.7" text-anchor="end">0</text>
<line x1="305.1" y1="893.2" x2="308.9" y2="893.2" stroke="#222" stroke-width="0.8"/>
<text x="303.2" y="896.6" font-size="9.7" text-anchor="end">-2</text>
<line x1="305.1" y1="923.2" x2="308.9" y2="923.2" stroke="#222" stroke-width="0.8"/>
<text x="303.2" y="926.6" font-size="9.7" text-anchor="end">-4</text>
<line x1="331.3" y1="923.2" x2="331.3" y2="927.2" stroke="#222" stroke-width="0.8"/>
<line x1="365.8" y1="923.2" x2="365.8" y2="927.2" stroke="#222" stroke-width="0.8"/>
<text x="331.3" y="937.8" font-size="9.3" text-anchor="middle">SD/PD</text>
<text x="365.8" y="937.8" font-size="9.3" text-anchor="middle">PR</text>
<text x="348.0" y="804.0" font-size="9.15" text-anchor="middle">p = 0.032</text>
<text transform="translate(290.6,857.0) rotate(-90)" font-size="10.5" text-anchor="middle">Log2(Th1/Th2 ratio)</text>
<line x1="331.3" y1="833.0" x2="331.3" y2="845.7" stroke="#222" stroke-width="0.8"/>
<line x1="326.1" y1="833.0" x2="336.5" y2="833.0" stroke="#222" stroke-width="0.8"/>
<line x1="331.3" y1="893.6" x2="331.3" y2="902.7" stroke="#222" stroke-width="0.8"/>
<line x1="326.1" y1="902.7" x2="336.5" y2="902.7" stroke="#222" stroke-width="0.8"/>
<line x1="366.2" y1="808.3" x2="366.2" y2="820.1" stroke="#222" stroke-width="0.8"/>
<line x1="361.2" y1="808.3" x2="371.2" y2="808.3" stroke="#222" stroke-width="0.8"/>
<rect x="320.3" y="845.7" width="22.4" height="47.9" fill="#fe6347" stroke="#3a2a22" stroke-width="0.8"/>
<line x1="320.3" y1="869.5" x2="342.7" y2="869.5" stroke="#3a2a22" stroke-width="0.8"/>
<rect x="355.0" y="820.1" width="22.6" height="39.9" fill="#4b2cf2" stroke="#2a1a60" stroke-width="0.8"/>
<line x1="355.0" y1="843.8" x2="377.6" y2="843.8" stroke="#2a1a60" stroke-width="0.8"/>
<line x1="308.9" y1="862.4" x2="389.6" y2="862.4" stroke="#222" stroke-width="1.0" stroke-dasharray="1.2,2.2"/>
<circle cx="331.3" cy="833.0" r="2.3" fill="#000"/>
<circle cx="331.3" cy="845.4" r="2.3" fill="#000"/>
<circle cx="331.3" cy="865.1" r="2.3" fill="#000"/>
<circle cx="327.5" cy="870.4" r="2.3" fill="#000"/>
<circle cx="335.1" cy="869.5" r="2.3" fill="#000"/>
<circle cx="331.3" cy="893.6" r="2.3" fill="#000"/>
<circle cx="331.3" cy="902.7" r="2.3" fill="#000"/>
<circle cx="366.2" cy="808.3" r="2.3" fill="#000"/>
<circle cx="366.2" cy="819.7" r="2.3" fill="#000"/>
<circle cx="366.2" cy="834.3" r="2.3" fill="#000"/>
<circle cx="362.4" cy="846.3" r="2.3" fill="#000"/>
<circle cx="369.6" cy="843.8" r="2.3" fill="#000"/>
<circle cx="369.6" cy="860.5" r="2.3" fill="#000"/>
<circle cx="362.4" cy="862.8" r="2.3" fill="#000"/>
<text x="411.4" y="797.0" font-size="18">j</text>
<rect x="426.9" y="802.2" width="110.7" height="126.0" fill="#ebe0fb"/>
<rect x="539.5" y="803.1" width="128.5" height="63.9" fill="#fdf3e4"/>
<rect x="540.2" y="870.3" width="128.3" height="58.2" fill="#fde4dc"/>
<path d="M539.5 812.5H546V805.8L561.7 821.1L546 836.4V829.7H539.5Z" fill="#e6dcf6"/>
<path d="M642 866.5H657.9V877H665.8L650 895L634.1 877H642Z" fill="#fdf3e4"/>
<path d="M449.7 831.9C451.0 830.4 453.8 830.2 456.1 830.4C458.4 830.6 460.9 832.1 463.5 832.9C466.2 833.8 469.2 835.3 472.0 835.5C474.8 835.6 477.6 834.4 480.4 834.0C483.3 833.6 486.1 832.7 488.9 832.9C491.7 833.2 494.6 833.7 497.4 835.5C500.2 837.2 502.8 841.1 505.8 843.5C508.8 845.9 512.5 848.1 515.4 849.9C518.2 851.6 520.7 852.5 522.8 854.1C524.9 855.7 527.4 857.3 528.1 859.4C528.8 861.5 526.7 864.5 527.0 866.8C527.4 869.1 528.8 871.0 530.2 873.1C531.6 875.3 534.4 877.4 535.5 879.5C536.5 881.6 537.4 884.1 536.5 885.8C535.7 887.6 532.8 889.0 530.2 890.1C527.5 891.1 523.7 891.3 520.7 892.2C517.7 893.1 514.7 894.0 512.2 895.4C509.7 896.8 508.0 898.5 505.8 900.7C503.7 902.8 501.6 907.2 499.5 908.1C497.4 909.0 495.4 907.2 493.1 906.0C490.8 904.7 488.2 902.4 485.7 900.7C483.3 898.9 481.3 896.8 478.3 895.4C475.3 894.0 471.3 892.9 467.7 892.2C464.2 891.5 460.0 891.5 457.2 891.1C454.3 890.8 451.7 891.7 450.8 890.1C449.9 888.5 452.6 884.4 451.9 881.6C451.2 878.8 448.9 876.0 446.6 873.1C444.3 870.3 440.7 867.7 438.1 864.7C435.5 861.7 430.9 857.4 430.7 855.1C430.5 852.9 434.8 852.5 437.0 850.9C439.3 849.3 442.5 847.6 444.5 845.6C446.4 843.7 447.8 841.6 448.7 839.3C449.6 837.0 448.5 833.3 449.7 831.9Z" fill="#e98d9c"/>
<ellipse cx="486.8" cy="868.9" rx="10.2" ry="9.0" fill="#d2294a"/>
<path d="M478.5 873.5 L479.3 873.7 L480.1 873.8 L480.8 873.8 L481.5 873.7 L482.1 873.5 L482.6 873.1 L483.0 872.5 L483.3 871.9 L483.6 871.1 L483.8 870.3 L484.1 869.5 L484.4 868.8 L484.7 868.1 L485.1 867.6 L485.6 867.2 L486.2 867.0 L486.8 866.9 L487.6 866.9 L488.3 867.0 L489.2 867.2 L490.0 867.3 L490.8 867.4 L491.5 867.5 L492.2 867.4 L492.8 867.1 L493.2 866.7 L493.6 866.2 L494.0 865.5 L494.3 864.8 L494.5 864.0" stroke="#3a0a14" stroke-width="0.9" fill="none"/>
<path d="M478.5 873.5 L478.7 872.7 L479.0 872.0 L479.4 871.3 L479.8 870.8 L480.2 870.4 L480.8 870.1 L481.5 870.0 L482.2 870.1 L483.0 870.2 L483.8 870.3 L484.7 870.5 L485.4 870.6 L486.2 870.6 L486.8 870.5 L487.4 870.3 L487.9 869.9 L488.3 869.4 L488.6 868.7 L488.9 868.0 L489.2 867.2 L489.4 866.4 L489.7 865.6 L490.0 865.0 L490.4 864.4 L490.9 864.0 L491.5 863.8 L492.2 863.7 L492.9 863.7 L493.7 863.8 L494.5 864.0" stroke="#3a0a14" stroke-width="0.9" fill="none"/>
<line x1="480.1" y1="873.8" x2="479.0" y2="872.0" stroke="#3a0a14" stroke-width="0.6"/>
<line x1="482.1" y1="873.5" x2="480.2" y2="870.4" stroke="#3a0a14" stroke-width="0.6"/>
<line x1="483.3" y1="871.9" x2="482.2" y2="870.1" stroke="#3a0a14" stroke-width="0.6"/>
<line x1="484.1" y1="869.5" x2="484.7" y2="870.5" stroke="#3a0a14" stroke-width="0.6"/>
<line x1="485.1" y1="867.6" x2="486.8" y2="870.5" stroke="#3a0a14" stroke-width="0.6"/>
<line x1="486.8" y1="866.9" x2="488.3" y2="869.4" stroke="#3a0a14" stroke-width="0.6"/>
<line x1="489.2" y1="867.2" x2="489.2" y2="867.2" stroke="#3a0a14" stroke-width="0.6"/>
<line x1="491.5" y1="867.5" x2="490.0" y2="865.0" stroke="#3a0a14" stroke-width="0.6"/>
<line x1="493.2" y1="866.7" x2="491.5" y2="863.8" stroke="#3a0a14" stroke-width="0.6"/>
<line x1="494.3" y1="864.8" x2="493.7" y2="863.8" stroke="#3a0a14" stroke-width="0.6"/>
<path d="M473 853 L479.2 862" stroke="#111" stroke-width="0.9"/><path d="M480.6 864.2 L480.2 859.6 L477.2 861.6Z" fill="#111"/>
<path d="M491 862.6 L496.5 859.3" stroke="#111" stroke-width="0.9"/><path d="M499.2 857.8 L494.6 858.2 L496.4 861.2Z" fill="#111"/>
<path d="M501.6 856.2 L515.4 844.6 M503.4 858.2 L517.2 846.6" stroke="#86b6e2" stroke-width="1.1"/>
<text x="463.5" y="850.9" font-size="8.6" font-weight="bold">ROS</text>
<text x="487.8" y="852.0" font-size="7.4">MHC</text>
<text x="432.8" y="878.4" font-size="7.45">DNA damage</text>
<text x="497.8" y="873.1" font-size="7.35">Mutation</text>
<text x="481.0" y="917.6" font-size="8.5" text-anchor="middle" font-weight="bold">Gastric cancer cells</text>
<ellipse cx="580.9" cy="815.3" rx="10.2" ry="5.0" fill="#f5c6cf"/><circle cx="579.4" cy="815.3" r="3.3" fill="#d8234a"/>
<ellipse cx="565.1" cy="833.0" rx="10.2" ry="5.0" fill="#f5c6cf"/><circle cx="563.6" cy="833.0" r="3.3" fill="#d8234a"/>
<ellipse cx="585.4" cy="829.6" rx="10.2" ry="5.0" fill="#f5c6cf"/><circle cx="583.9" cy="829.6" r="3.3" fill="#d8234a"/>
<ellipse cx="552.6" cy="844.8" rx="10.2" ry="5.0" fill="#f5c6cf"/><circle cx="551.1" cy="844.8" r="3.3" fill="#d8234a"/>
<ellipse cx="586.6" cy="846.1" rx="10.2" ry="5.0" fill="#f5c6cf"/><circle cx="585.1" cy="846.1" r="3.3" fill="#d8234a"/>
<ellipse cx="619.4" cy="827.3" rx="10.2" ry="5.0" fill="#6fa57b"/><circle cx="617.9" cy="827.3" r="3.3" fill="#13702e"/>
<ellipse cx="646.5" cy="826.9" rx="10.2" ry="5.0" fill="#6fa57b"/><circle cx="645.0" cy="826.9" r="3.3" fill="#13702e"/>
<ellipse cx="635.2" cy="839.3" rx="10.2" ry="5.0" fill="#6fa57b"/><circle cx="633.7" cy="839.3" r="3.3" fill="#13702e"/>
<path d="M599 840 V821" stroke="#d8234a" stroke-width="1.6"/><path d="M594 823 L599 816 L604 823Z" fill="#d8234a"/>
<path d="M661.3 818 V836" stroke="#1a6e2a" stroke-width="1.8"/><path d="M656 834 L661.3 842.5 L666.6 834Z" fill="#1a6e2a"/>
<text x="571.9" y="859.0" font-size="8.5" text-anchor="middle" font-weight="bold">Th1 cells</text>
<text x="636.4" y="859.0" font-size="8.5" text-anchor="middle" font-weight="bold">Th2 cells</text>
<text x="614.0" y="899.8" font-size="8.5" text-anchor="middle" font-weight="bold">anti-PD-1 therapy</text>
<path d="M530 888 L549 894.5" stroke="#1f6e2e" stroke-width="1.2"/><circle cx="549.4" cy="894.5" r="2.8" fill="#1f6e2e"/>
<text x="540.2" y="904.3" font-size="6.9" fill="#333">PD-1</text>
<g stroke="#1f6e2e" stroke-width="1.8" fill="none" stroke-linecap="round"><path d="M568.5 883 L565.5 890 M565.5 890 L559 891 M565.5 890 L567.5 896"/><path d="M575 906.5 L568 906.5 M568 906.5 L563 902.5 M568 906.5 L563.5 911"/></g>
</svg>
</body></html>
